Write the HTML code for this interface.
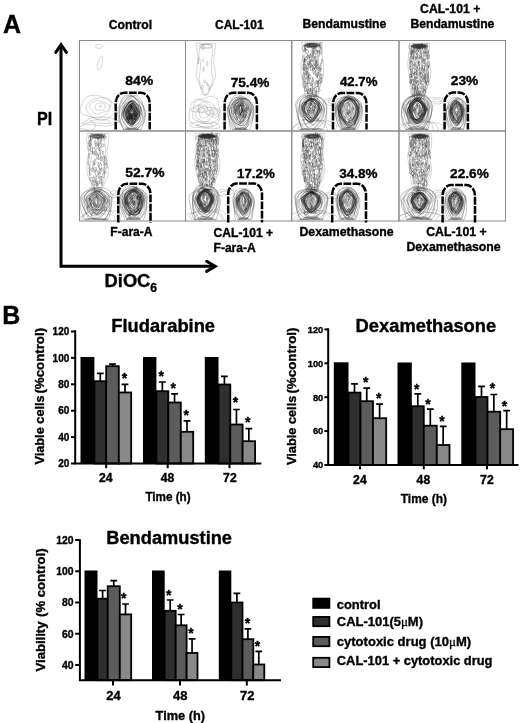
<!DOCTYPE html>
<html lang="en"><head><meta charset="utf-8"><title>Figure</title>
<style>
html,body{margin:0;padding:0;background:#fff;}
body{width:520px;height:723px;overflow:hidden;}
svg{display:block;}
text{font-family:"Liberation Sans", sans-serif;font-weight:bold;fill:#000;stroke:#000;stroke-width:0.35px;}
.ct{fill:none;stroke:#222;stroke-width:0.36;}
.cl{fill:none;stroke:#555;stroke-width:0.24;}
.cm{fill:none;stroke:#333;stroke-width:0.3;}
.fr{fill:none;stroke:#8a8a8a;stroke-width:1;}
.gate{fill:none;stroke:#000;stroke-width:2.5;stroke-dasharray:7.8 1.4;}
.ax{fill:none;stroke:#000;stroke-width:3;}
.bx{fill:none;stroke:#000;stroke-width:2;}
.eb{fill:none;stroke:#000;stroke-width:1.7;}
.bar{stroke:#000;stroke-width:1.8;}
</style></head><body>
<svg width="520" height="723" viewBox="0 0 520 723">
<rect width="520" height="723" fill="#fff"/>
<defs>
<clipPath id="cp00"><rect x="80.0" y="41.0" width="105.0" height="89.3"/></clipPath>
<clipPath id="cp01"><rect x="186.0" y="41.0" width="105.25" height="89.3"/></clipPath>
<clipPath id="cp02"><rect x="292.25" y="41.0" width="106.25" height="89.3"/></clipPath>
<clipPath id="cp03"><rect x="399.5" y="41.0" width="105.5" height="89.3"/></clipPath>
<clipPath id="cp10"><rect x="80.0" y="131.5" width="105.0" height="88.8"/></clipPath>
<clipPath id="cp11"><rect x="186.0" y="131.5" width="105.25" height="88.8"/></clipPath>
<clipPath id="cp12"><rect x="292.25" y="131.5" width="106.25" height="88.8"/></clipPath>
<clipPath id="cp13"><rect x="399.5" y="131.5" width="105.5" height="88.8"/></clipPath>
</defs>
<g clip-path="url(#cp00)"><path class="cl" d="M102.8,46.5 102.4,47.3 101.4,47.9 100.0,48.3 98.4,48.3 96.9,47.9 95.8,47.3 95.5,46.5 95.9,45.6 96.9,45.0 98.4,44.6 99.9,44.6 101.4,45.0 102.4,45.6Z M102.3,63.0 101.6,65.6 100.6,67.8 99.5,69.2 98.5,69.8 97.7,69.2 97.3,67.8 97.3,65.6 97.7,63.0 98.4,60.4 99.4,58.2 100.5,56.7 101.5,56.2 102.3,56.7 102.7,58.2 102.7,60.4Z M117.2,107.8 116.2,111.5 113.2,114.5 110.0,117.2 106.0,119.7 100.7,120.4 95.8,118.9 92.0,116.9 87.9,115.8 83.0,114.4 80.0,111.5 80.3,107.8 82.0,104.6 83.4,101.3 85.6,97.9 89.9,95.5 95.4,95.1 100.5,96.3 104.5,98.2 107.8,100.1 111.3,102.0 115.0,104.4Z M110.1,107.4 109.7,109.6 108.7,111.8 106.7,113.7 104.1,115.6 100.8,117.5 96.4,118.4 92.2,117.2 89.6,114.7 87.9,112.2 86.5,109.9 85.9,107.4 86.8,105.0 88.4,102.9 90.5,101.0 93.4,99.4 96.8,98.4 100.7,97.8 105.2,97.7 109.3,99.1 111.2,102.0 110.8,105.0Z M110.1,107.1 109.2,109.0 107.3,110.6 105.0,111.5 102.8,112.2 100.6,113.1 97.9,113.9 95.1,113.4 93.3,111.8 92.4,110.1 91.1,108.7 89.6,107.1 89.5,105.1 91.1,103.4 93.1,102.1 95.3,101.0 98.0,100.4 100.6,101.1 102.6,102.2 104.6,102.9 107.1,103.6 109.4,105.0Z M105.3,106.7 104.8,107.7 104.2,108.6 103.5,109.5 102.2,110.1 100.7,110.1 99.3,109.9 97.8,110.0 96.0,109.9 94.8,109.0 94.9,107.7 95.3,106.7 95.4,105.8 95.6,104.8 96.5,104.0 97.8,103.5 99.2,103.1 100.8,102.9 102.3,103.2 103.5,103.9 104.4,104.7 105.1,105.6Z M101.8,106.3 101.7,106.5 101.6,106.7 101.4,107.0 101.1,107.1 100.8,107.1 100.4,107.1 100.1,107.1 99.8,107.0 99.6,106.8 99.3,106.6 99.2,106.3 99.3,106.1 99.7,105.9 100.0,105.8 100.2,105.7 100.4,105.4 100.8,105.4 101.1,105.5 101.4,105.7 101.7,105.8 101.9,106.1Z M120.2,121.6 117.7,122.8 114.3,123.9 111.5,125.3 105.2,126.2 97.9,125.6 92.6,124.7 85.9,124.3 81.5,123.1 83.9,121.6 87.1,120.5 87.9,119.2 91.0,117.8 97.5,117.1 105.0,117.1 111.0,118.0 114.5,119.2 118.0,120.3Z M109.3,121.6 111.0,122.3 110.8,123.2 106.8,123.6 102.8,123.4 99.8,123.3 97.1,123.1 95.4,122.6 93.1,122.2 90.4,121.6 90.6,120.7 93.5,120.2 96.5,119.8 99.6,119.6 102.8,119.7 105.8,119.9 108.4,120.3 109.1,121.0Z M95.5,126.4 94.9,127.8 93.5,129.1 90.6,130.4 86.9,129.6 83.9,129.0 79.2,128.4 80.3,126.4 83.5,125.4 84.2,124.0 86.8,123.0 90.7,122.5 94.6,123.1 95.5,125.0Z"/><path class="cm" d="M145.2,112.4 144.5,117.7 143.5,123.1 141.8,127.8 140.5,133.5 138.0,137.8 135.0,139.7 131.6,139.1 129.1,136.9 126.6,133.8 124.0,130.3 122.4,126.9 119.9,122.6 118.3,118.2 117.7,112.4 118.5,108.9 119.5,104.6 120.9,101.1 122.9,97.3 125.7,95.4 128.8,94.7 132.0,95.2 134.7,95.3 137.4,96.2 140.1,98.5 141.9,101.5 143.0,105.2 144.4,109.1Z M145.4,112.8 145.7,117.3 143.9,122.4 141.6,125.1 139.0,127.7 136.6,130.3 134.1,132.7 131.6,133.8 129.4,132.6 126.9,130.9 123.9,129.2 121.8,125.8 119.9,121.4 119.5,117.0 119.2,112.4 119.5,108.7 119.9,105.4 121.7,101.5 123.5,98.7 126.5,96.6 129.2,95.7 131.6,95.5 134.4,96.9 136.4,98.4 138.9,99.9 140.9,102.6 143.1,105.6 144.4,108.7Z M144.2,112.6 144.0,116.6 142.8,120.4 140.9,124.2 139.1,127.2 136.4,129.9 133.8,130.3 131.4,130.2 129.5,129.6 127.4,128.8 124.4,127.0 121.9,124.6 120.6,120.7 119.4,116.4 119.4,112.6 119.9,109.4 121.2,105.7 123.2,103.1 125.1,100.8 127.2,98.3 129.2,96.3 131.5,96.0 134.1,96.6 136.3,98.9 138.5,100.6 140.7,103.2 142.6,105.7 143.5,109.4Z M142.5,112.5 142.6,116.0 142.3,119.5 140.3,123.1 138.0,125.6 135.9,128.1 133.7,130.4 131.8,130.9 129.3,129.9 127.5,127.7 125.2,125.2 123.7,122.5 121.9,118.9 121.4,115.6 121.2,112.3 121.2,109.9 122.1,106.5 123.2,103.8 124.9,100.6 127.0,98.0 129.7,96.7 131.6,96.1 134.0,97.0 135.8,99.0 138.1,101.2 139.6,104.2 140.5,106.9 141.1,110.0Z M141.7,112.5 141.4,115.5 140.1,118.0 139.4,121.6 137.5,123.8 135.8,126.2 133.8,128.1 131.9,128.9 129.9,128.7 127.6,127.4 125.8,124.5 123.5,122.0 122.1,118.9 121.2,115.3 122.2,112.7 122.7,110.3 123.8,107.3 124.6,104.3 125.8,101.7 127.8,99.5 129.8,98.1 131.7,97.1 133.7,97.2 135.5,99.2 137.5,101.7 139.3,104.7 140.7,106.9 141.8,109.7Z M141.2,112.2 141.1,115.0 140.9,118.0 139.4,121.6 137.3,123.7 134.9,125.3 133.2,126.3 131.9,126.3 130.3,126.3 128.1,124.6 126.6,122.9 124.8,120.8 123.3,117.9 122.4,115.2 122.1,112.4 122.5,110.1 122.9,107.2 124.3,104.9 126.4,102.6 128.0,100.6 129.8,99.0 131.8,98.7 133.5,99.9 135.0,101.9 136.4,103.5 138.7,104.9 140.4,107.3 141.3,110.2Z"/><path class="ct" d="M122.3,130.2 124.6,129.9 127.0,129.9 129.3,130.1 131.7,129.7 134.1,130.0 136.4,129.8 138.8,129.7 141.1,129.7 M124.8,129.0 126.5,129.1 128.3,129.5 130.0,128.9 131.7,129.2 133.4,129.3 135.1,129.5 136.9,129.4 138.6,129.5 M125.4,128.5 126.9,128.9 128.5,128.9 130.1,128.4 131.7,128.4 133.3,128.4 134.9,128.4 136.5,128.6 138.0,128.7 M126.9,127.8 128.1,127.8 129.3,127.9 130.5,128.2 131.7,128.0 132.9,127.9 134.1,128.0 135.3,128.0 136.5,127.6 M137.0,109.4 136.2,110.7 135.5,111.2 134.4,111.3 134.3,109.4 134.7,107.9 135.5,107.1 136.3,107.9Z M131.8,115.0 131.7,115.9 131.3,115.8 131.0,115.8 130.9,115.0 131.0,114.2 131.3,113.9 131.5,114.4Z M132.1,115.6 131.5,117.1 130.9,118.2 129.9,117.7 129.6,115.6 130.2,114.2 130.9,112.9 131.7,113.6Z M137.9,115.3 137.6,116.0 137.0,116.5 136.4,116.1 136.3,115.3 136.3,114.4 137.0,114.5 137.8,114.4Z M134.7,120.8 134.8,122.7 134.0,122.5 133.4,122.3 132.9,120.8 133.5,119.5 134.0,119.0 134.8,118.7Z M133.0,119.8 132.7,120.4 132.2,120.8 131.8,120.4 131.6,119.8 131.6,119.1 132.2,119.1 132.7,119.3Z M134.8,112.7 134.9,113.8 134.4,113.8 134.0,113.4 133.6,112.7 133.9,111.8 134.4,111.8 134.9,111.7Z M136.6,117.6 136.0,118.8 135.3,120.4 134.5,119.1 134.3,117.6 134.5,116.0 135.3,114.8 136.0,116.3Z M128.4,119.2 128.1,120.1 127.3,120.3 126.7,119.8 126.0,119.2 126.7,118.5 127.3,118.1 128.0,118.5Z M130.0,119.0 129.9,119.6 129.5,120.0 129.3,119.3 129.0,119.0 129.1,118.3 129.5,118.2 129.9,118.4Z M132.5,118.0 132.1,119.3 131.7,119.3 131.2,119.4 131.0,118.0 131.3,116.9 131.7,115.9 132.0,117.0Z M128.0,118.2 127.5,119.2 127.1,120.2 126.4,119.5 126.3,118.2 126.4,116.9 127.1,116.6 127.7,116.9Z M131.8,107.9 131.5,108.8 131.1,109.7 130.5,109.3 130.4,107.9 130.8,107.0 131.1,105.7 131.6,106.6Z M128.6,111.1 128.1,112.0 127.4,112.9 126.5,112.3 126.3,111.1 126.7,110.1 127.4,109.3 128.4,109.8Z M131.3,105.9 130.7,106.5 130.1,107.4 129.1,106.9 128.8,105.9 129.5,105.3 130.1,104.5 131.2,104.8Z M136.7,117.1 136.4,119.1 135.5,119.1 134.7,118.8 134.4,117.1 134.5,114.9 135.5,115.5 136.3,115.5Z M130.5,117.4 129.9,119.0 129.0,119.7 128.3,118.6 127.4,117.4 128.0,115.7 129.0,115.4 129.8,115.8Z M129.1,112.2 129.0,113.3 128.7,113.5 128.3,113.6 128.5,112.2 128.4,111.2 128.7,110.7 129.0,111.2Z M137.0,115.9 136.6,116.6 136.3,116.8 135.8,116.7 135.4,115.9 136.0,115.6 136.3,114.8 136.8,115.1Z M133.5,114.7 133.1,115.8 132.3,116.5 132.0,115.3 131.1,114.7 131.4,113.3 132.3,113.5 133.0,113.7Z M130.2,115.3 129.7,116.7 129.2,117.9 128.6,116.8 128.2,115.3 128.5,113.4 129.2,113.3 129.9,113.4Z M131.9,117.8 131.4,118.6 130.8,119.2 130.0,118.7 129.6,117.8 130.1,117.0 130.8,116.4 131.6,116.7Z M133.9,119.2 133.8,119.9 132.9,120.5 132.3,119.7 131.7,119.2 132.1,118.5 132.9,118.1 133.8,118.4Z M130.2,120.9 129.6,122.0 129.0,122.6 128.1,122.5 127.9,120.9 128.4,119.7 129.0,118.8 129.7,119.6Z M137.7,118.2 136.6,119.2 136.0,120.2 135.1,119.8 134.8,118.2 135.1,116.7 136.0,116.3 136.7,117.1Z M136.1,112.9 135.7,114.6 135.3,115.0 134.8,115.0 134.7,112.9 134.9,111.3 135.3,110.5 135.7,111.3Z M134.4,114.1 134.3,115.3 133.9,115.6 133.6,115.1 133.4,114.1 133.5,112.9 133.9,112.7 134.2,113.0Z M131.2,105.6 131.2,106.8 130.6,107.2 130.3,106.3 129.7,105.6 130.1,104.7 130.6,104.3 131.2,104.6Z M131.6,105.9 131.6,107.3 131.2,107.4 130.8,107.4 130.6,105.9 131.0,105.2 131.2,104.2 131.7,104.2Z M132.3,114.8 132.2,116.1 131.8,116.1 131.5,115.7 131.2,114.8 131.3,113.5 131.8,113.8 132.1,113.8Z M133.7,106.7 133.7,108.0 133.0,108.6 132.5,107.8 132.1,106.7 132.6,105.7 133.0,104.8 133.7,105.3Z M132.1,104.8 131.9,105.8 131.3,106.2 130.7,106.0 130.4,104.8 130.9,104.0 131.3,103.5 132.1,103.4Z M132.4,109.9 132.4,110.7 131.6,110.7 131.0,110.4 130.6,109.9 130.9,109.3 131.6,109.2 132.3,109.3Z M131.5,114.4 131.7,115.6 130.5,115.3 129.6,115.3 129.5,114.4 129.4,113.4 130.5,113.2 131.1,113.8Z M133.6,122.7 133.6,124.3 133.0,124.2 132.7,123.9 132.4,122.7 132.6,121.2 133.0,121.3 133.5,121.3Z M133.3,122.6 132.9,123.2 132.3,123.5 131.8,123.1 131.5,122.6 131.6,121.9 132.3,121.8 132.7,122.2Z M137.3,114.1 137.2,114.9 136.3,115.3 135.7,114.6 135.1,114.1 135.4,113.3 136.3,112.9 136.9,113.5Z M130.6,118.0 130.2,118.6 129.7,118.8 129.3,118.5 129.0,118.0 129.2,117.2 129.7,117.1 130.0,117.6Z M128.7,120.5 128.8,122.2 127.9,122.7 126.9,122.4 126.8,120.5 127.3,119.3 127.9,117.7 128.9,118.6Z M132.5,107.1 132.2,107.7 131.8,108.3 131.4,107.6 131.1,107.1 131.3,106.4 131.8,106.2 132.2,106.6Z M131.4,110.6 131.0,111.7 130.4,112.1 129.7,111.7 129.5,110.6 129.6,109.4 130.4,109.4 130.9,109.7Z M130.9,114.7 130.8,115.4 130.4,115.6 129.9,115.5 129.8,114.7 129.9,114.0 130.4,113.9 130.8,114.0Z M129.4,117.1 129.3,118.2 128.6,118.4 128.2,117.9 127.8,117.1 128.1,116.0 128.6,115.7 129.1,116.2Z M132.1,117.5 132.1,118.9 131.4,119.3 131.1,118.3 130.6,117.5 130.8,116.2 131.4,115.8 131.9,116.5Z M132.3,114.0 132.3,116.1 131.7,116.6 131.2,115.7 131.0,114.0 131.2,112.4 131.7,110.5 132.1,112.7Z M140.4,112.6 139.8,114.3 139.1,117.1 138.2,119.9 136.3,122.1 134.3,123.0 133.1,124.2 131.4,125.6 130.1,125.6 128.4,124.3 126.9,122.1 125.3,120.1 123.5,117.8 122.8,114.5 122.7,112.6 123.6,110.7 124.0,107.8 124.9,105.4 127.0,103.3 128.9,102.1 130.7,101.3 131.5,100.9 132.7,100.9 134.7,101.6 136.3,103.2 138.3,105.0 140.3,107.3 140.3,110.5Z M139.6,112.7 139.9,114.5 139.1,117.0 137.3,119.0 135.8,120.9 134.4,123.4 133.2,125.5 131.8,125.9 130.4,125.1 129.0,123.4 127.0,121.9 125.5,119.8 124.0,117.2 123.0,114.5 123.5,112.8 124.1,110.6 124.9,108.2 125.7,106.3 127.4,104.2 129.0,102.6 130.4,101.1 131.8,100.3 133.0,100.4 134.8,101.2 136.4,103.1 137.9,105.6 138.9,107.8 139.4,110.9Z M139.5,112.7 139.7,114.6 138.6,117.2 138.0,119.8 136.0,121.6 134.3,123.0 133.1,124.1 131.8,124.2 130.6,123.8 128.6,123.3 127.2,121.9 125.4,119.6 124.3,116.8 123.7,114.5 123.4,112.4 124.1,110.7 125.0,108.5 125.8,106.2 127.3,104.1 128.7,102.0 130.5,100.6 131.9,100.7 133.0,101.5 134.1,102.2 136.5,103.8 137.6,105.5 139.0,108.4 139.2,110.7Z M139.9,112.7 139.8,114.6 138.6,116.6 137.0,118.7 135.8,120.3 134.4,121.9 132.6,123.1 131.9,124.0 130.5,124.4 128.7,123.5 127.2,122.0 126.0,119.4 124.8,116.6 123.8,114.5 123.7,112.6 123.8,110.7 125.2,108.6 126.1,106.5 127.8,104.1 128.8,102.1 130.6,101.4 131.5,101.2 132.6,102.1 134.2,102.8 135.8,104.0 137.8,106.1 138.6,108.5 139.6,110.6Z M139.1,112.7 139.2,114.2 138.5,116.6 137.1,119.1 135.9,121.5 134.6,123.2 132.9,124.5 131.7,124.3 130.8,123.9 129.5,122.1 128.3,120.2 126.9,118.2 125.4,116.4 124.2,114.2 124.1,112.6 124.3,110.6 124.9,108.5 126.2,106.1 127.6,104.4 128.9,102.7 130.8,101.6 131.7,101.4 132.5,101.4 134.1,102.7 135.9,104.6 136.5,106.9 137.7,109.1 138.7,111.0Z M139.1,112.2 138.5,114.0 137.2,116.0 136.4,118.2 135.4,120.3 134.1,123.0 133.1,124.3 131.5,124.5 130.6,123.6 128.9,122.9 127.9,120.9 126.7,118.3 126.0,116.1 125.4,114.0 124.9,112.7 124.5,110.8 125.2,108.4 126.6,106.4 128.0,104.3 129.1,102.5 130.6,101.3 131.4,101.4 132.6,101.8 134.0,103.1 135.4,104.9 136.8,106.8 138.0,109.1 138.5,111.1Z M138.2,112.3 138.4,114.2 138.0,116.1 137.2,118.8 135.2,120.7 134.1,122.1 132.8,123.4 131.9,123.9 130.5,123.2 129.5,121.8 128.1,120.3 126.8,118.1 125.5,115.9 125.2,113.7 125.3,112.3 125.7,111.2 125.9,109.3 126.2,106.7 127.6,104.1 129.3,102.6 130.6,101.6 132.0,101.4 132.7,102.4 133.6,103.6 135.3,105.5 136.2,107.5 137.3,109.2 138.2,110.8Z M138.3,112.5 137.9,113.7 137.1,115.6 136.1,117.5 135.2,120.2 134.0,122.0 132.5,122.8 131.6,123.4 130.8,123.4 129.1,122.5 128.2,120.4 126.8,117.8 126.1,115.5 126.1,113.9 125.5,112.7 125.7,111.2 126.2,109.3 127.2,107.2 128.3,104.8 129.5,103.0 130.9,101.6 131.5,101.5 132.8,102.8 133.9,103.7 135.3,105.5 136.4,107.0 137.4,109.0 138.2,111.0Z M137.3,112.4 137.8,114.1 137.5,115.8 136.1,117.5 135.0,119.2 133.4,120.5 132.2,122.2 131.5,123.2 130.6,123.0 129.3,121.5 128.3,120.0 127.1,117.9 125.9,116.0 125.9,114.0 125.8,112.3 126.0,111.4 126.6,109.8 127.4,108.0 128.7,105.4 129.3,103.8 131.0,101.9 131.6,102.0 132.4,102.6 133.8,103.3 135.1,105.1 136.3,107.2 136.8,109.5 137.2,111.4Z M137.8,112.7 137.4,113.8 137.0,115.7 135.8,117.2 134.6,119.3 133.5,120.8 132.5,122.1 131.9,122.2 130.6,122.3 129.5,121.8 128.4,120.3 127.1,117.8 127.1,115.6 126.6,113.5 126.2,112.7 125.9,111.5 126.3,109.1 127.5,107.7 128.4,105.9 130.0,104.0 131.0,103.2 131.7,102.8 132.3,103.5 133.8,104.0 134.8,105.4 136.3,107.1 137.0,109.6 137.6,111.3Z M137.6,112.2 137.6,113.6 136.2,115.4 135.7,116.8 134.6,118.7 133.4,119.9 132.1,121.4 131.9,121.7 131.0,121.7 129.9,121.0 128.8,119.6 127.7,117.8 126.5,115.2 125.9,113.5 125.7,112.2 126.3,111.6 126.9,109.9 128.0,107.6 128.9,106.2 129.8,105.2 130.9,103.8 131.8,103.2 132.6,102.9 133.5,103.9 134.9,106.3 135.5,107.6 136.6,109.4 137.9,111.5Z M136.7,112.4 136.7,113.7 136.2,115.2 135.6,117.1 134.6,119.0 133.3,120.4 132.5,121.3 131.8,121.4 130.8,121.0 130.0,119.9 129.2,118.8 127.5,117.2 126.5,115.7 126.6,113.7 126.5,112.4 126.9,111.4 127.1,109.5 127.6,107.5 129.0,106.1 129.8,105.0 130.9,103.8 131.5,103.3 132.6,103.7 133.2,104.7 134.5,106.2 135.5,108.0 136.1,109.9 136.7,111.3Z M137.4,112.2 137.0,113.4 136.3,114.8 135.2,116.4 133.9,117.7 133.4,119.7 132.1,121.0 131.9,121.3 131.1,120.7 129.9,120.1 129.2,118.4 127.7,116.8 127.1,115.3 126.4,113.4 126.5,112.6 127.1,111.6 127.4,109.8 128.4,108.3 129.2,106.2 130.3,104.7 131.3,104.2 131.7,103.7 132.5,104.4 133.5,105.0 134.2,106.5 135.3,107.8 136.1,109.9 136.5,111.4Z M136.5,112.7 136.7,113.5 135.8,115.0 135.1,116.4 134.4,118.1 132.9,119.1 132.1,119.9 131.4,119.8 131.3,120.1 129.8,120.1 129.0,118.9 128.1,116.8 127.5,115.2 126.8,113.2 127.1,112.5 127.2,111.4 127.6,109.8 128.3,108.5 129.0,106.7 130.4,105.4 131.4,105.2 131.6,104.3 132.5,104.2 133.2,105.2 134.4,106.5 134.9,108.3 135.8,110.3 136.7,111.7Z M136.1,112.2 136.1,113.4 135.5,114.7 135.3,116.8 134.3,118.3 133.2,119.5 132.4,119.9 131.8,120.5 131.3,120.3 130.3,119.8 129.4,118.0 128.5,116.5 128.2,114.7 127.5,113.4 127.4,112.6 127.8,111.7 127.6,110.1 128.4,108.1 129.1,106.5 130.2,105.6 131.0,104.5 131.5,103.9 132.5,104.1 133.2,105.4 133.8,107.2 134.6,108.8 135.3,110.3 135.6,111.5Z M136.0,112.8 135.9,113.5 135.3,114.6 134.9,116.3 133.5,117.5 132.8,118.6 131.9,119.2 132.0,120.2 131.0,120.0 130.3,119.2 129.7,117.8 129.0,116.1 128.2,114.8 127.7,113.3 127.5,112.6 127.7,111.4 128.1,109.9 128.7,108.5 129.5,107.3 130.5,106.0 131.4,105.8 131.8,105.3 132.1,105.5 133.0,106.1 133.7,107.3 134.6,108.5 135.7,110.4 136.0,111.6Z M136.0,112.3 135.7,113.6 135.1,114.5 134.6,116.2 133.9,117.5 132.8,118.7 132.1,119.3 131.8,119.5 131.2,119.3 130.5,118.7 129.9,117.5 128.6,116.2 128.1,114.7 127.9,113.5 128.1,112.5 127.9,111.8 128.6,110.3 128.9,109.0 129.5,107.2 130.8,106.2 131.3,105.0 131.9,105.4 132.3,106.2 133.0,106.7 133.4,107.5 134.5,108.8 135.0,110.2 135.6,111.8Z M135.9,112.6 135.4,113.0 134.7,114.4 133.9,115.7 133.4,117.3 132.8,118.4 131.9,119.0 131.9,119.0 131.1,118.5 130.7,118.3 129.9,117.5 128.7,115.8 128.5,114.5 128.1,113.2 127.6,112.4 127.8,112.0 128.6,110.4 129.2,109.1 129.8,108.2 130.8,107.2 131.3,106.1 131.5,105.5 132.3,106.2 132.6,106.8 133.7,107.5 134.4,109.2 135.1,110.6 135.4,111.6Z M135.5,112.4 134.9,112.9 134.4,114.1 133.8,115.2 133.1,117.1 132.6,118.1 131.9,118.9 131.5,119.0 131.4,118.9 130.5,118.4 129.8,117.0 129.5,115.5 128.8,114.5 128.7,112.9 128.4,112.6 128.6,112.2 128.8,111.0 129.3,109.1 129.9,107.4 130.8,106.3 131.6,105.9 131.6,105.6 132.1,106.0 132.8,106.7 133.3,108.1 133.9,109.5 134.6,110.7 135.2,111.7Z M135.0,112.2 134.8,113.0 134.1,114.3 133.6,115.3 133.3,116.7 132.7,117.8 131.8,118.2 131.4,118.8 131.5,118.5 130.8,118.0 130.3,116.7 129.7,115.5 129.0,114.1 128.3,113.4 128.7,112.6 128.6,111.6 129.0,110.7 129.5,109.4 129.9,107.9 130.9,106.7 131.6,106.4 131.8,106.0 132.0,106.5 132.5,106.8 133.3,108.5 133.6,109.3 134.5,110.8 134.6,111.7Z M134.4,112.3 134.8,113.0 134.6,114.4 133.9,115.7 133.1,116.5 132.1,117.4 131.9,117.8 132.0,118.0 131.6,117.8 131.1,117.6 130.2,116.5 130.1,115.4 129.3,113.9 128.8,113.0 128.9,112.3 128.9,111.7 129.3,110.9 129.5,109.3 130.3,108.2 131.2,107.1 131.3,106.7 131.5,106.5 131.8,107.3 132.4,108.2 132.7,108.9 133.6,109.7 134.3,111.0 134.2,111.8Z M134.3,112.3 134.0,112.7 134.1,114.1 133.1,115.2 133.1,116.2 132.1,117.1 131.9,117.4 131.7,117.6 131.7,118.0 131.1,117.6 130.6,116.2 129.8,114.9 129.2,114.2 129.4,112.9 128.9,112.6 129.4,112.2 129.4,111.2 130.3,110.1 130.5,108.6 131.2,107.7 131.4,107.1 131.6,106.9 131.8,106.5 132.4,107.7 133.0,108.9 133.6,110.2 133.8,111.0 134.0,111.8Z M134.1,112.2 133.9,113.2 133.6,113.7 133.0,114.9 132.7,116.0 132.2,117.1 132.0,118.0 131.9,117.8 131.4,117.6 131.2,116.8 130.5,115.7 130.1,114.9 130.0,114.2 129.6,113.3 129.7,112.6 129.8,111.8 130.0,111.3 130.1,110.1 130.9,108.9 131.2,107.8 131.4,107.6 131.4,106.9 132.0,107.2 132.0,108.0 132.7,108.9 133.2,110.0 133.7,111.0 133.7,111.8Z M133.5,112.5 133.3,112.9 133.4,113.5 133.0,114.6 132.6,116.2 132.2,116.9 132.0,117.0 132.0,117.6 131.3,117.6 131.1,116.6 131.1,115.9 130.6,114.5 130.3,113.5 129.7,112.8 129.5,112.6 129.7,112.0 130.2,111.2 130.6,110.2 131.0,109.0 131.4,108.2 131.3,107.4 131.6,107.2 132.0,107.6 132.0,108.3 132.6,109.7 133.0,110.1 133.3,111.0 133.6,112.3Z M133.2,112.7 133.2,112.9 133.1,113.8 132.8,114.5 132.7,115.7 132.2,116.6 132.1,116.7 131.6,117.0 131.6,117.1 131.5,115.9 130.8,115.5 130.8,114.4 130.3,113.4 130.2,112.8 130.1,112.6 129.7,112.0 130.1,111.5 130.6,110.1 130.7,109.3 131.3,108.5 131.5,107.9 131.4,108.0 131.7,107.9 132.1,109.0 132.2,109.2 132.9,110.3 132.9,111.4 133.1,112.2Z M132.9,112.4 133.1,113.0 133.1,113.6 132.5,114.6 132.4,115.3 132.1,115.9 131.8,116.5 131.4,116.9 131.5,117.1 131.4,116.2 130.9,115.3 130.6,114.4 130.1,113.9 130.3,112.8 130.4,112.4 130.3,111.9 130.6,111.4 131.0,110.7 131.4,109.6 131.6,108.9 131.3,108.0 131.7,108.3 131.7,108.4 132.0,108.9 132.1,109.4 132.9,110.2 132.8,111.1 132.8,112.0Z"/></g>
<g clip-path="url(#cp01)"><path class="cl" d="M196.2,43.3 196.4,46.5 196.8,49.7 197.5,53.0 197.9,56.2 198.3,59.4 197.7,62.7 197.0,65.9 197.0,69.1 196.7,72.3 196.1,75.6 197.2,78.8 198.6,82.0 199.5,85.2 200.8,88.5 202.0,91.7 203.0,94.9 207.5,94.9 209.0,91.7 210.7,88.5 212.2,85.2 213.6,82.0 214.9,78.8 215.8,75.6 215.0,72.3 214.9,69.1 214.2,65.9 213.5,62.7 214.1,59.4 213.7,56.2 215.0,53.0 214.8,49.7 215.8,46.5 215.3,43.3Z M200.9,44.2 200.2,47.4 199.4,50.6 199.0,53.7 199.0,56.9 200.1,60.1 200.6,63.2 200.5,66.4 200.3,69.6 199.8,72.7 199.2,75.9 199.1,79.1 199.7,82.3 200.8,85.4 202.0,88.6 203.6,91.8 204.7,94.9 206.0,94.9 208.6,91.8 209.7,88.6 211.7,85.4 212.0,82.3 212.9,79.1 212.3,75.9 211.8,72.7 211.6,69.6 211.4,66.4 211.5,63.2 211.6,60.1 212.1,56.9 212.3,53.7 212.8,50.6 211.8,47.4 211.6,44.2Z M204.2,47.0 203.7,48.4 203.0,50.2 202.2,48.7 201.6,47.0 202.3,45.6 203.0,44.0 203.9,45.2Z M198.8,61.0 198.6,63.9 198.3,63.4 198.0,63.8 197.9,61.0 197.9,58.0 198.3,57.8 198.5,59.1Z M204.5,60.5 203.9,61.2 203.3,61.9 202.5,61.6 202.4,60.5 202.6,59.5 203.3,59.1 204.1,59.5Z M207.8,63.5 207.9,65.7 207.2,66.0 206.7,65.2 206.3,63.5 206.8,62.0 207.2,61.1 207.9,61.1Z M204.2,69.3 204.0,71.3 203.6,71.7 203.0,71.7 203.0,69.3 203.1,67.2 203.6,67.1 204.1,67.0Z M206.0,81.4 205.7,82.7 204.8,82.5 203.8,82.7 203.7,81.4 203.9,80.1 204.8,79.9 205.5,80.4Z M207.5,84.0 207.5,85.3 207.1,85.8 206.8,85.3 206.7,84.0 206.8,82.8 207.1,82.1 207.5,82.7Z M203.2,87.5 202.7,88.7 202.1,89.4 201.4,88.9 200.8,87.5 201.6,86.4 202.1,85.5 203.0,85.8Z M209.8,87.5 209.8,89.7 209.0,90.2 208.5,89.0 208.2,87.5 208.4,85.6 209.0,84.4 209.5,86.1Z M212.8,46.3 212.2,47.2 210.2,48.0 207.4,48.4 204.3,48.5 201.4,48.0 199.5,47.3 198.7,46.3 199.7,45.3 201.7,44.7 204.4,44.2 207.5,44.1 210.5,44.5 212.3,45.3Z M210.3,46.3 210.0,46.9 208.7,47.4 206.9,47.6 204.9,47.6 203.2,47.3 201.9,46.9 201.5,46.3 202.0,45.7 203.1,45.2 204.9,44.9 206.9,45.0 208.6,45.2 209.8,45.7Z M219.7,112.0 220.0,116.0 219.4,119.9 217.4,123.6 214.1,126.3 209.7,127.6 205.2,127.4 200.9,126.5 196.8,125.5 192.7,123.8 189.8,120.6 188.9,116.3 189.4,112.0 190.2,107.8 191.6,103.6 194.5,100.3 198.5,99.1 202.1,99.1 205.2,98.2 208.8,96.5 213.3,96.2 217.0,98.9 218.9,103.5 219.4,108.1Z M217.6,112.0 219.0,115.8 218.1,119.4 215.3,121.9 211.8,123.3 208.3,123.8 204.8,123.5 201.7,122.6 198.8,121.6 195.8,120.6 193.2,118.5 192.4,115.3 192.9,112.0 193.4,108.8 193.7,105.1 195.2,101.5 198.5,99.7 202.0,100.2 204.8,101.1 207.4,101.3 210.1,101.8 212.4,103.7 213.9,106.4 215.5,109.1Z M213.1,112.0 213.5,114.4 212.5,116.5 210.9,118.1 209.3,119.7 207.2,121.3 204.5,122.0 201.8,121.1 199.7,119.7 197.6,118.6 195.5,117.0 194.9,114.6 196.3,112.0 198.0,110.2 198.7,108.5 198.9,105.9 200.0,103.2 202.1,101.8 204.5,101.9 206.7,102.7 208.6,104.0 210.1,105.8 211.1,107.9 212.1,109.9Z M209.9,112.0 210.0,113.6 209.3,114.9 208.2,115.8 207.0,116.7 205.7,117.5 204.2,118.0 202.4,118.0 200.9,117.3 199.9,116.0 199.7,114.5 199.7,113.2 199.3,112.0 198.8,110.5 199.0,108.9 200.2,107.6 201.6,107.1 202.9,106.8 204.2,106.4 205.5,106.3 206.7,107.1 207.5,108.4 208.2,109.5 209.1,110.7Z M207.6,108.9 206.9,110.8 204.7,112.2 201.5,112.9 198.6,112.0 195.7,111.8 191.1,111.2 191.2,108.9 193.9,107.3 195.5,105.8 198.3,105.1 201.5,104.9 204.9,105.3 206.8,107.0Z M203.9,108.9 204.3,110.1 203.7,111.5 201.1,112.0 198.8,111.6 197.1,110.8 196.4,109.8 195.1,108.9 195.4,107.7 196.9,106.8 198.5,105.6 201.2,105.7 202.5,107.0 203.3,107.9Z M201.9,108.9 201.8,109.4 201.1,109.7 200.3,110.0 199.3,110.2 198.4,109.9 197.7,109.5 197.5,108.9 197.9,108.4 198.5,107.9 199.5,107.9 200.3,107.7 201.7,107.6 202.2,108.2Z M220.7,112.0 218.6,114.0 217.8,116.4 214.6,117.9 211.2,116.1 208.5,115.4 206.0,114.1 205.5,112.0 204.4,109.4 207.1,107.4 211.1,107.7 214.0,107.7 216.8,108.5 219.6,109.8Z M218.1,112.0 216.4,113.3 216.0,114.9 213.6,115.1 211.9,114.0 209.7,114.4 207.1,113.8 206.3,112.0 208.0,110.6 210.3,110.2 211.6,109.2 213.6,109.0 215.3,109.7 218.0,110.3Z M214.7,112.0 214.8,112.8 214.2,113.4 213.0,113.5 212.1,113.4 211.3,113.1 210.9,112.6 210.1,112.0 210.1,111.3 211.1,110.8 212.1,110.6 213.0,110.7 213.9,111.0 214.6,111.4Z M218.1,125.2 219.4,126.3 219.4,128.0 213.0,129.0 205.2,128.2 200.3,127.5 194.4,127.3 190.8,126.4 190.8,125.2 189.9,123.9 192.2,122.6 198.7,122.0 205.2,121.9 211.6,122.1 216.0,123.0 217.6,124.1Z M211.8,125.2 213.4,125.8 211.5,126.4 208.1,126.6 205.2,126.9 201.8,126.8 200.2,126.1 198.3,125.7 196.5,125.2 198.3,124.6 200.0,124.1 201.7,123.5 205.2,123.4 208.3,123.6 210.8,124.0 211.4,124.6Z"/><path class="cm" d="M242.6,110.0 242.2,111.3 241.8,112.8 241.2,111.7 240.9,110.0 241.4,108.8 241.8,107.0 242.4,108.3Z M242.4,110.5 241.6,111.8 241.1,112.8 240.4,112.4 240.0,110.5 240.5,109.0 241.1,108.3 241.8,108.6Z M243.8,120.5 243.6,121.0 243.2,121.6 242.8,121.1 242.6,120.5 242.7,119.7 243.2,119.8 243.9,119.6Z M245.7,116.2 245.3,117.3 245.0,118.1 244.7,117.5 244.4,116.2 244.7,115.2 245.0,114.4 245.4,115.0Z M244.2,105.7 244.0,106.3 243.6,107.0 243.3,106.3 243.2,105.7 243.2,104.9 243.6,104.8 244.0,105.1Z M237.5,110.7 237.1,111.6 236.8,112.3 236.4,111.8 236.3,110.7 236.3,109.4 236.8,109.5 237.2,109.7Z M235.3,111.8 234.8,113.3 234.2,113.2 233.5,113.3 233.1,111.8 233.5,110.4 234.2,109.9 234.7,110.6Z M242.4,109.6 242.0,110.2 241.5,111.2 240.9,110.5 240.6,109.6 241.1,109.0 241.5,108.2 242.3,108.6Z M237.2,104.5 237.2,105.7 236.2,106.0 235.4,105.6 235.3,104.5 235.4,103.5 236.2,102.8 237.0,103.6Z M242.0,121.0 241.2,121.5 240.7,122.2 240.0,121.7 239.6,121.0 240.0,120.3 240.7,119.9 241.4,120.3Z M236.9,112.0 236.7,113.6 235.9,114.7 235.0,114.0 235.4,112.0 235.0,109.8 235.9,109.4 236.7,110.2Z M240.0,113.8 240.4,115.6 239.3,115.8 238.5,115.1 237.9,113.8 238.5,112.6 239.3,111.7 240.4,112.1Z M237.9,107.3 237.9,109.1 237.0,109.6 236.2,108.7 235.9,107.3 236.1,105.6 237.0,104.9 237.7,105.8Z M241.0,122.0 240.8,122.7 240.4,123.1 239.9,123.0 239.9,122.0 239.9,121.1 240.4,121.1 240.9,121.0Z M243.2,101.9 242.8,103.3 242.1,104.6 241.4,103.0 240.4,101.9 241.4,100.6 242.1,99.8 243.2,99.8Z M245.4,111.2 245.3,111.9 245.0,112.4 244.8,111.8 244.7,111.2 244.7,110.5 245.0,110.0 245.3,110.6Z M238.6,107.4 238.5,108.2 238.2,109.2 237.9,108.1 237.7,107.4 237.9,106.6 238.2,106.1 238.6,106.4Z M243.2,115.6 242.5,116.5 241.7,117.1 241.1,116.2 239.9,115.6 240.8,114.5 241.7,114.6 242.7,114.4Z M244.3,110.7 243.5,111.3 242.8,111.8 241.8,111.7 241.9,110.7 242.0,110.0 242.8,109.5 243.5,110.1Z M245.9,115.9 245.3,117.0 244.5,117.0 243.5,117.4 243.0,115.9 244.0,115.1 244.5,113.9 245.3,114.6Z M237.9,118.1 237.4,118.8 236.9,119.8 236.1,119.2 235.8,118.1 236.4,117.4 236.9,116.4 237.6,116.9Z M239.1,103.5 239.1,105.1 238.5,106.2 238.1,104.5 237.7,103.5 237.8,101.8 238.5,101.2 239.0,102.0Z M244.6,117.7 244.3,118.4 243.7,118.4 242.9,118.5 242.6,117.7 243.1,117.2 243.7,117.0 244.5,116.9Z M247.2,109.7 246.7,111.1 246.0,111.4 245.2,111.2 244.4,109.7 245.5,108.9 246.0,107.8 246.9,108.0Z M242.0,105.3 241.9,106.6 241.5,107.2 241.1,106.4 241.0,105.3 241.1,104.1 241.5,103.3 241.8,104.2Z M248.3,108.5 248.0,109.4 247.6,110.0 247.3,109.4 247.2,108.5 247.2,107.4 247.6,107.0 247.9,107.8Z M243.9,109.9 243.7,111.3 243.4,112.5 243.0,111.5 242.6,109.9 243.1,108.7 243.4,107.7 244.0,107.5Z M236.4,107.6 235.9,108.4 235.2,108.7 234.4,108.6 233.9,107.6 234.5,106.8 235.2,106.7 236.2,106.4Z M243.6,103.6 243.4,105.7 242.8,105.0 242.2,106.0 242.2,103.6 242.3,101.8 242.8,101.2 243.3,102.0Z M243.8,114.5 243.7,116.3 243.0,117.2 242.2,116.6 242.2,114.5 242.4,113.0 243.0,111.5 243.8,112.4Z M253.3,109.4 253.1,115.7 252.3,121.5 250.8,127.3 248.7,132.4 246.4,135.7 243.1,137.2 240.7,137.6 237.9,138.0 234.7,136.7 232.0,133.0 230.0,127.3 229.2,121.2 228.1,115.1 227.8,109.7 228.1,106.6 229.2,103.9 230.8,101.8 232.2,98.5 234.4,95.7 237.5,94.7 240.2,95.5 243.0,96.7 245.5,98.1 248.3,99.6 250.4,101.5 252.1,103.6 253.4,106.5Z M253.9,109.5 253.9,114.8 252.3,120.2 249.8,123.5 247.4,126.3 245.1,129.4 243.3,132.1 240.8,133.4 238.2,133.2 235.1,131.7 232.6,129.0 230.8,124.5 229.1,119.5 227.9,114.5 227.1,109.6 227.8,106.7 229.3,104.3 231.2,101.9 233.2,100.0 235.5,97.8 238.1,96.7 240.6,96.8 242.7,97.4 245.1,98.7 248.2,99.7 250.2,101.4 251.7,104.1 253.5,106.6Z M252.9,109.8 252.9,114.3 251.2,118.8 249.2,122.3 247.6,126.3 245.2,129.3 242.6,131.3 240.6,131.6 238.4,130.9 235.7,129.7 233.3,127.2 231.3,122.4 230.3,118.0 229.6,113.3 229.2,109.7 228.8,106.7 229.7,104.2 230.5,101.4 232.8,99.3 235.3,97.7 238.0,97.4 240.7,97.9 242.5,98.3 245.0,98.4 247.7,99.9 249.7,102.1 250.9,104.2 252.3,106.7Z"/><path class="ct" d="M231.9,129.9 234.0,130.4 236.2,130.2 238.3,129.8 240.5,129.8 242.7,130.2 244.8,129.8 247.0,130.3 249.1,129.9 M233.0,129.3 234.9,129.4 236.8,129.1 238.6,129.7 240.5,129.3 242.4,129.6 244.2,129.1 246.1,129.6 248.0,129.7 M234.8,128.5 236.3,128.7 237.7,128.4 239.1,128.6 240.5,128.3 241.9,128.6 243.3,128.7 244.7,128.5 246.2,128.7 M234.8,127.7 236.2,128.2 237.6,128.3 239.1,128.2 240.5,127.9 241.9,127.8 243.4,127.8 244.8,128.1 246.2,127.9 M251.9,109.2 251.1,113.6 249.8,117.1 248.7,121.1 247.1,124.7 244.8,127.6 243.0,129.8 240.2,129.8 238.2,129.8 235.7,128.1 234.0,125.2 232.4,121.1 230.5,117.1 229.3,113.3 228.4,109.6 228.5,107.2 230.5,104.8 232.5,103.2 234.6,101.4 235.9,99.4 238.4,98.1 240.5,97.7 242.7,98.0 244.9,98.2 247.7,99.6 249.5,101.7 250.9,104.3 251.7,107.4Z M251.2,109.7 250.8,112.7 249.5,116.5 248.4,119.9 246.6,123.7 244.8,125.8 242.2,127.7 240.6,128.7 238.5,127.9 236.4,126.0 234.6,123.6 232.7,120.6 231.0,117.3 229.7,112.9 229.6,109.7 230.3,107.6 231.3,105.5 232.7,103.1 234.2,100.7 236.3,99.3 238.4,98.7 240.8,98.6 242.7,98.6 245.0,99.3 247.2,100.3 248.7,102.5 249.8,104.8 251.1,107.6Z M250.5,109.5 250.5,112.4 249.3,116.2 248.0,119.9 246.3,123.0 244.4,125.1 241.9,125.5 240.4,125.8 238.6,125.0 237.0,124.5 234.6,122.4 232.9,120.0 231.2,116.7 229.9,112.7 229.7,109.6 230.5,107.4 232.0,105.4 233.1,103.2 234.9,101.5 236.9,100.2 238.7,99.9 240.4,99.4 242.0,98.9 244.9,99.1 246.6,100.7 248.0,102.7 249.1,105.3 250.2,107.5Z M249.2,109.4 249.1,112.0 249.3,115.5 247.7,119.0 245.9,121.2 243.7,123.2 242.4,125.0 240.6,125.8 238.8,124.8 236.8,123.7 235.0,121.8 233.3,119.0 232.0,115.7 231.5,112.1 231.6,109.3 231.6,108.0 232.4,105.6 234.0,103.6 235.2,101.8 237.0,100.2 239.0,98.9 240.7,98.4 242.2,99.4 243.8,99.9 245.9,101.3 247.5,103.5 248.2,105.5 248.7,107.7Z M249.7,109.5 249.6,112.3 248.5,114.8 247.0,117.7 245.0,119.8 243.7,121.9 241.6,123.5 240.8,124.0 239.3,123.1 237.5,121.8 235.7,120.2 234.1,117.6 233.0,115.0 231.5,111.7 231.6,109.5 231.8,107.9 233.3,106.0 234.2,104.1 235.7,102.3 237.1,100.7 239.4,99.9 240.7,99.9 242.0,100.3 243.3,101.3 245.5,102.0 246.6,103.7 248.0,105.7 248.8,108.0Z M248.4,109.8 247.9,111.3 247.1,113.8 246.2,116.4 244.4,119.0 243.0,120.6 241.6,122.5 240.2,123.8 239.0,124.4 237.1,122.7 235.8,120.0 234.7,117.2 233.5,114.0 233.0,111.8 232.9,109.3 233.3,108.2 233.9,106.0 234.4,104.0 236.2,102.6 237.9,102.1 239.5,101.3 240.8,100.0 242.1,99.6 243.2,100.8 244.8,102.1 246.2,104.2 247.8,106.4 248.3,108.0Z M247.3,109.3 246.8,111.4 246.9,113.6 246.1,116.4 244.4,118.8 243.1,120.9 241.4,122.5 240.6,123.0 239.5,122.3 237.8,120.3 236.9,118.2 235.7,115.6 235.0,113.6 233.8,111.2 233.7,109.3 233.2,108.5 234.1,106.2 235.4,104.6 236.8,103.4 237.8,101.6 239.2,100.4 240.2,99.8 241.5,100.7 242.7,102.0 244.6,103.2 245.7,104.8 246.6,106.3 246.9,108.0Z M246.4,109.7 246.2,110.8 246.3,113.3 245.5,115.9 244.0,117.5 242.3,119.0 241.5,120.1 240.2,121.0 239.4,121.4 237.9,120.0 236.7,118.3 236.0,115.4 234.8,113.4 235.0,110.7 234.5,109.5 234.4,108.4 234.7,106.5 235.3,104.6 236.7,103.1 238.4,102.3 239.5,101.6 240.6,101.1 241.4,101.5 242.8,102.6 243.7,103.3 245.6,104.7 246.7,106.4 247.0,108.5Z M246.2,109.3 246.5,110.7 246.0,112.9 244.8,115.3 243.6,117.2 242.0,118.3 241.0,118.8 240.6,119.5 239.8,119.4 238.5,118.2 237.5,116.8 236.0,114.9 235.5,113.1 235.2,111.1 235.2,109.4 234.9,108.7 234.9,106.9 235.7,104.8 237.2,103.3 238.9,102.9 239.7,102.0 240.3,101.9 241.2,102.2 242.4,103.2 243.5,104.1 244.2,105.5 245.5,106.9 246.3,108.3Z M245.6,109.6 245.3,110.4 245.3,112.7 243.9,114.3 243.2,115.9 241.8,117.6 241.3,118.6 240.3,119.0 239.6,118.8 238.7,116.9 238.2,115.4 236.7,114.0 235.6,112.6 235.2,110.6 234.7,109.7 235.4,108.5 235.9,107.2 237.3,105.7 237.8,104.7 239.2,103.8 239.9,103.2 240.6,102.5 241.1,102.8 242.2,103.0 243.1,104.5 244.1,105.8 245.0,107.0 245.4,108.6Z M245.3,109.5 244.6,110.6 244.4,112.3 244.0,113.8 243.1,115.9 241.7,116.9 240.9,117.6 240.4,117.7 239.8,117.9 239.1,116.7 238.6,115.3 237.4,113.8 236.9,112.3 236.2,110.6 236.0,109.4 236.2,108.7 236.8,107.3 237.4,106.0 238.5,104.8 239.4,104.1 240.2,102.9 240.8,102.7 241.1,102.7 241.6,103.8 242.7,105.0 243.2,106.6 244.3,107.8 244.7,108.6Z M244.3,109.4 244.4,110.6 243.7,111.8 243.4,113.2 242.6,114.7 241.4,115.9 240.9,116.3 240.6,117.2 240.1,116.7 239.4,116.1 238.7,114.5 237.7,113.2 237.5,111.8 236.6,110.5 236.5,109.6 236.8,109.0 237.1,107.4 237.8,106.5 238.8,105.0 239.3,104.4 240.3,103.6 240.7,103.9 240.8,103.7 241.7,104.6 242.2,105.1 243.1,106.5 243.6,107.7 244.2,108.9Z M243.5,109.8 243.5,109.9 243.5,111.8 243.1,113.3 242.0,114.4 241.3,114.7 240.9,115.7 240.5,115.9 240.1,115.3 239.7,114.7 239.1,113.6 238.1,112.6 237.8,111.6 237.2,110.0 237.3,109.3 237.5,109.2 237.6,108.0 238.4,106.8 239.1,105.7 239.5,104.9 240.5,103.8 240.8,104.0 240.5,104.1 241.5,105.1 241.7,105.8 242.7,107.1 243.0,108.1 243.2,108.8Z M242.9,109.5 242.9,110.3 242.6,111.3 242.1,112.0 241.7,113.2 240.9,114.2 240.8,115.3 240.4,115.1 240.2,114.9 240.0,114.1 239.2,113.4 239.0,111.7 238.7,111.1 238.0,110.1 238.2,109.4 238.0,108.9 238.4,108.2 239.0,107.3 239.1,105.9 240.1,105.4 240.4,105.0 240.4,105.0 240.7,104.6 241.0,104.9 241.9,106.2 241.8,107.1 242.5,108.2 242.8,109.3Z M242.2,109.4 242.1,110.2 242.0,110.6 241.6,111.9 241.1,112.9 240.6,113.4 240.4,114.3 240.3,113.9 240.1,113.7 240.2,113.5 239.9,113.1 239.3,112.2 238.6,111.1 238.7,109.7 238.9,109.7 238.7,108.9 239.3,108.5 239.4,107.8 239.5,106.4 239.9,105.6 240.5,105.2 240.3,104.6 240.5,105.1 241.0,106.0 241.2,106.8 241.6,107.3 241.9,108.2 242.5,109.4Z M242.0,109.7 242.0,109.8 242.0,110.7 241.4,111.5 241.4,112.7 241.1,113.4 240.4,114.0 240.4,114.6 240.1,114.3 240.3,113.4 239.5,112.7 239.4,111.7 239.2,110.8 238.9,110.2 239.3,109.8 239.2,109.1 239.2,108.3 239.7,107.7 240.0,106.7 240.4,105.8 240.3,105.2 240.4,104.9 240.4,105.4 240.9,105.7 241.4,106.4 241.8,107.7 241.6,108.6 242.0,109.4Z M241.9,109.4 241.9,109.9 241.4,110.6 241.5,111.3 241.2,112.2 240.8,113.5 240.9,114.1 240.5,114.0 240.6,113.9 240.1,113.5 239.8,112.8 239.5,111.4 239.5,110.4 239.3,109.6 239.5,109.5 239.4,109.0 239.5,108.4 239.5,107.8 239.6,106.8 239.9,106.2 240.6,105.1 240.5,105.1 240.7,105.4 240.7,106.0 240.9,106.3 241.6,107.3 241.5,108.5 241.7,109.0Z"/></g>
<g clip-path="url(#cp02)"><path class="cl" d="M301.5,42.2 302.2,45.8 302.7,49.3 303.0,52.9 302.4,56.5 302.1,60.0 300.8,63.6 301.1,67.1 301.0,70.7 301.1,74.3 302.2,77.8 302.5,81.4 303.8,84.9 304.1,88.5 304.9,92.0 305.2,95.6 306.2,99.2 317.7,99.2 318.0,95.6 318.8,92.0 319.4,88.5 320.7,84.9 322.1,81.4 323.3,77.8 323.7,74.3 323.4,70.7 323.7,67.1 323.5,63.6 322.6,60.0 322.2,56.5 322.1,52.9 322.1,49.3 322.1,45.8 322.7,42.2Z M305.3,43.4 304.9,46.9 304.0,50.3 305.1,53.8 305.2,57.3 305.1,60.8 305.3,64.3 305.4,67.8 305.1,71.3 303.8,74.8 303.6,78.2 304.1,81.7 304.5,85.2 305.8,88.7 307.2,92.2 308.3,95.7 309.6,99.2 314.0,99.2 315.1,95.7 317.5,92.2 319.0,88.7 319.9,85.2 320.8,81.7 320.9,78.2 320.8,74.8 319.9,71.3 319.2,67.8 318.6,64.3 318.6,60.8 319.0,57.3 319.5,53.8 320.0,50.3 320.4,46.9 319.6,43.4Z M336.1,128.5 334.5,131.0 331.2,133.1 326.1,134.3 321.3,135.3 316.6,136.8 310.2,138.3 303.0,138.0 297.6,136.1 294.0,133.7 291.9,131.1 292.5,128.5 295.1,126.3 297.1,124.2 299.1,121.7 303.9,119.7 310.6,119.6 316.5,120.5 322.4,120.8 329.5,121.1 335.3,122.9 337.0,125.7Z M334.5,128.5 334.0,130.9 330.2,132.8 325.6,134.1 321.1,135.1 316.1,135.4 311.4,135.1 306.7,134.8 301.3,134.3 296.3,133.0 293.4,130.9 292.6,128.5 293.6,126.1 297.5,124.3 303.1,123.5 307.7,123.1 311.3,121.8 316.6,120.3 322.5,120.6 326.2,122.6 328.2,124.7 331.4,126.4Z M327.1,128.5 327.9,130.2 327.6,132.1 324.7,133.6 320.0,134.2 315.8,134.3 311.5,134.8 306.5,134.9 302.7,133.7 301.1,131.8 299.9,130.1 298.3,128.5 298.6,126.7 301.7,125.4 305.1,124.5 307.7,123.2 311.3,121.6 316.3,121.0 321.1,121.9 324.2,123.6 325.8,125.3 326.5,127.0Z M338.2,101.5 337.6,102.7 335.4,103.6 333.2,105.0 328.8,105.6 326.6,103.8 325.0,102.7 323.0,101.5 324.7,100.3 326.3,99.0 329.3,98.2 333.0,98.4 336.9,98.7 338.8,100.0Z M334.6,101.5 333.6,102.0 333.9,102.8 332.2,103.3 330.2,103.3 328.3,102.9 328.2,102.1 328.0,101.5 327.4,100.8 328.8,100.3 330.3,99.9 332.2,99.8 333.8,100.2 335.2,100.7Z"/><path class="cm" d="M305.0,48.2 304.5,50.0 303.7,51.7 302.9,50.0 302.3,48.2 303.0,46.6 303.7,44.9 304.7,46.2Z M308.3,46.0 308.2,47.9 307.8,47.7 307.4,48.1 307.3,46.0 307.5,44.4 307.8,43.7 308.2,43.9Z M313.2,47.3 313.0,48.6 312.4,49.2 312.0,48.3 311.5,47.3 311.9,46.2 312.4,45.5 312.9,46.3Z M316.8,48.2 316.4,49.2 316.1,50.8 315.6,49.6 315.5,48.2 315.5,46.6 316.1,46.4 316.6,46.7Z M306.4,49.7 305.8,50.3 305.6,51.5 305.0,51.0 305.1,49.7 305.1,48.8 305.6,48.1 306.0,48.8Z M313.6,51.8 313.4,54.2 312.4,54.4 311.7,53.4 311.1,51.8 311.6,49.9 312.4,48.1 312.9,50.6Z M317.1,52.2 316.8,53.7 316.2,54.3 315.6,53.7 315.1,52.2 315.6,50.7 316.2,50.4 316.8,50.4Z M321.8,51.0 321.7,54.0 320.9,54.6 320.1,54.0 320.2,51.0 320.1,47.9 320.9,47.2 321.6,48.3Z M311.1,56.0 310.8,57.5 310.3,58.1 309.6,58.0 309.6,56.0 309.8,54.7 310.3,53.1 310.8,54.6Z M315.7,55.2 315.0,56.6 314.5,58.2 313.9,56.8 313.5,55.2 313.7,53.0 314.5,52.9 315.0,53.8Z M304.5,59.3 304.2,62.2 303.6,62.6 303.0,61.9 302.8,59.3 302.9,56.3 303.6,55.5 304.0,57.4Z M309.6,57.3 308.8,58.8 308.0,59.6 307.3,58.4 306.5,57.3 307.0,55.6 308.0,55.2 308.7,56.1Z M314.0,59.1 313.6,60.8 313.0,61.2 312.0,61.4 312.1,59.1 312.3,57.4 313.0,56.5 313.7,57.2Z M317.8,59.5 317.6,62.0 316.9,61.6 316.1,62.3 315.9,59.5 316.4,57.8 316.9,56.3 317.6,57.1Z M306.3,60.8 305.8,61.9 305.1,62.3 304.4,62.0 304.3,60.8 304.2,59.3 305.1,59.7 305.8,59.7Z M310.6,63.5 310.6,65.7 310.1,67.5 309.8,65.1 309.4,63.5 309.6,61.3 310.1,60.1 310.6,61.2Z M315.8,63.0 315.5,65.1 315.1,64.9 314.5,66.0 314.5,63.0 314.7,60.9 315.1,60.2 315.5,60.7Z M322.5,61.2 322.1,62.3 321.8,63.6 321.4,63.2 321.4,61.2 321.5,59.5 321.8,58.8 322.1,59.7Z M306.7,66.4 306.5,68.4 305.9,68.9 305.5,67.8 305.1,66.4 305.2,64.1 305.9,64.5 306.4,64.7Z M311.2,64.8 310.9,67.4 310.0,67.7 309.3,67.1 309.0,64.8 309.4,62.6 310.0,60.7 310.5,63.4Z M317.1,64.7 317.0,67.4 316.4,68.5 316.0,66.9 315.7,64.7 315.8,61.7 316.4,61.9 317.0,61.9Z M321.5,66.9 321.3,69.7 320.9,69.2 320.5,69.0 320.3,66.9 320.5,64.5 320.9,63.3 321.1,65.7Z M306.5,68.5 306.1,70.5 305.6,71.5 305.0,70.8 304.8,68.5 304.9,65.8 305.6,66.1 306.2,66.0Z M309.2,68.3 309.1,69.4 308.6,69.7 308.2,69.3 308.0,68.3 308.1,67.0 308.6,67.1 309.0,67.2Z M314.9,68.7 314.2,70.0 313.6,70.2 312.9,70.4 312.7,68.7 313.0,67.2 313.6,66.9 314.2,67.4Z M319.3,69.5 319.1,71.8 318.8,73.2 318.5,71.5 318.2,69.5 318.4,66.8 318.8,66.8 319.1,67.0Z M306.8,73.2 307.1,74.8 306.1,75.1 305.3,74.6 305.1,73.2 305.4,72.0 306.1,70.7 307.0,71.7Z M314.2,71.8 314.0,73.6 313.4,74.1 312.9,73.1 312.6,71.8 312.6,69.7 313.4,69.7 313.8,70.6Z M318.4,74.2 318.2,76.2 317.7,76.0 317.3,76.4 317.2,74.2 317.4,72.3 317.7,71.8 318.1,72.4Z M307.2,76.2 306.9,78.9 306.1,79.3 305.3,78.7 305.1,76.2 305.3,73.3 306.1,73.0 306.7,73.8Z M311.1,76.6 310.6,78.2 309.9,78.7 309.2,78.6 308.8,76.6 309.3,75.0 309.9,74.3 310.6,74.8Z M319.9,77.2 319.7,80.0 318.8,81.6 318.2,79.2 317.4,77.2 318.3,75.4 318.8,72.5 319.7,74.6Z M307.5,81.0 307.7,84.5 306.7,84.1 306.0,83.3 305.5,81.0 305.9,78.4 306.7,77.1 307.4,78.6Z M311.4,81.1 310.8,83.4 310.1,85.4 309.6,83.0 309.0,81.1 309.3,78.2 310.1,77.4 310.8,79.0Z M317.5,82.0 317.7,83.2 316.8,84.1 316.2,82.8 315.7,82.0 316.0,80.9 316.8,80.4 317.8,80.6Z M321.8,80.3 321.7,81.8 321.4,82.7 321.1,81.5 320.9,80.3 321.1,79.0 321.4,77.9 321.7,78.9Z M306.8,84.8 306.7,86.3 306.2,86.8 305.7,86.5 305.8,84.8 305.7,83.2 306.2,82.7 306.7,83.4Z M314.3,85.6 314.0,87.6 313.4,90.3 312.7,87.7 312.3,85.6 312.6,83.0 313.4,82.1 314.3,82.4Z M318.7,84.9 318.6,87.5 318.2,88.1 317.7,87.3 317.6,84.9 317.8,83.1 318.2,80.5 318.5,82.9Z M308.6,89.2 308.2,91.4 307.8,93.4 307.2,91.9 306.9,89.2 307.3,87.2 307.8,84.8 308.3,86.6Z M312.6,89.2 312.4,91.0 312.2,93.1 311.9,91.2 311.7,89.2 311.9,87.2 312.2,85.9 312.5,86.7Z M320.4,90.1 319.6,91.4 319.0,91.8 318.2,91.5 317.7,90.1 318.3,88.7 319.0,88.1 319.5,88.9Z M310.6,91.5 310.6,93.6 310.1,95.0 309.6,93.6 309.6,91.5 309.6,89.1 310.1,88.3 310.6,89.3Z M315.1,94.1 315.0,95.5 314.2,96.7 313.4,95.4 313.2,94.1 313.2,92.5 314.2,92.1 315.2,92.5Z M309.5,96.6 308.9,98.5 308.2,99.3 307.4,98.9 306.9,96.6 307.6,94.7 308.2,94.2 309.1,94.0Z M314.6,95.8 314.5,97.0 314.2,97.4 313.7,97.2 313.7,95.8 313.8,94.7 314.2,94.3 314.6,94.4Z M310.6,109.0 310.2,110.3 309.4,110.5 308.4,110.7 307.8,109.0 309.0,108.3 309.4,106.7 310.3,107.3Z M322.1,110.2 321.8,111.5 321.3,112.2 320.7,111.6 320.6,110.2 320.7,108.9 321.3,107.9 321.7,109.2Z M311.5,103.7 311.3,105.3 311.0,106.2 310.5,105.8 310.6,103.7 310.6,102.1 311.0,100.7 311.3,102.0Z M314.4,108.8 314.4,110.6 313.4,111.1 312.5,110.3 312.1,108.8 312.6,107.4 313.4,106.1 314.3,107.1Z M318.6,119.1 318.5,120.1 317.8,120.0 317.3,120.0 316.9,119.1 317.3,118.2 317.8,118.0 318.4,118.1Z M312.1,109.6 312.0,110.9 311.3,110.6 310.9,110.6 310.5,109.6 310.9,108.8 311.3,108.1 311.7,108.9Z M312.4,102.2 312.1,102.9 311.4,103.6 310.8,103.0 310.1,102.2 311.0,101.7 311.4,100.9 312.4,101.2Z M314.1,112.3 314.3,114.1 313.8,114.5 313.5,113.7 313.4,112.3 313.5,111.0 313.8,109.7 314.2,110.6Z M306.9,103.9 306.5,105.2 305.7,105.5 304.9,105.1 304.6,103.9 304.7,102.3 305.7,102.3 306.3,102.7Z M304.4,119.6 304.2,120.1 304.0,120.8 303.7,120.1 303.5,119.6 303.6,119.0 304.0,118.8 304.3,119.0Z M316.2,106.4 316.0,107.6 315.3,107.8 315.0,107.0 314.2,106.4 314.8,105.5 315.3,105.0 315.8,105.7Z M309.1,112.4 309.1,114.2 308.3,115.1 307.6,113.8 307.3,112.4 307.3,110.4 308.3,110.5 309.2,110.4Z M312.2,106.5 311.7,107.7 311.0,108.2 310.0,108.3 309.7,106.5 310.6,105.7 311.0,104.1 311.9,105.0Z M319.5,103.5 319.3,104.3 318.9,104.5 318.5,104.5 318.4,103.5 318.6,102.6 318.9,102.6 319.4,102.5Z M327.0,107.8 326.7,114.3 325.9,121.2 324.0,127.1 321.4,132.1 318.2,135.2 314.5,137.3 311.4,138.6 307.4,138.8 304.0,136.2 301.7,130.8 300.3,124.3 298.9,119.0 297.4,113.6 295.9,107.7 295.5,104.7 296.4,101.6 298.1,98.6 301.0,96.3 304.1,94.4 307.6,93.3 311.0,93.5 314.6,94.7 317.1,96.4 319.9,97.9 322.3,99.8 325.0,102.2 326.5,104.7Z M326.2,107.7 326.3,113.3 325.0,118.5 322.4,123.2 319.9,126.0 316.6,128.8 313.9,130.8 311.0,132.2 308.0,132.8 304.7,130.9 301.7,128.0 299.9,123.3 298.2,117.9 296.9,112.6 296.8,107.5 296.9,105.0 297.6,102.2 299.5,99.3 301.4,97.1 304.9,95.6 308.1,95.8 311.0,96.0 313.7,96.5 317.1,96.5 320.7,97.4 323.4,99.0 325.2,101.8 325.8,104.8Z M324.2,107.9 324.5,111.9 323.4,116.8 321.2,120.7 318.9,123.7 316.4,126.7 313.6,129.2 311.5,131.0 308.6,130.6 305.4,128.9 302.3,126.1 299.4,122.3 298.4,117.2 298.3,112.0 298.7,107.9 299.4,105.8 299.6,102.9 300.4,100.5 303.1,98.2 305.6,96.7 308.7,95.8 311.4,94.9 314.0,95.0 317.4,96.0 320.0,97.7 322.1,100.3 323.4,102.9 323.8,105.4Z M324.2,107.7 324.1,111.4 323.1,115.7 320.7,119.8 318.7,123.0 316.3,126.0 313.5,128.3 311.0,130.5 308.4,129.2 306.4,125.4 304.4,121.9 302.6,118.4 300.4,115.2 299.2,111.7 298.9,107.7 299.4,105.7 300.1,103.1 301.2,100.6 303.1,98.2 306.1,96.7 309.0,95.6 311.4,95.6 313.7,96.0 316.1,97.1 318.4,99.6 319.8,101.9 321.7,103.3 323.0,105.4Z M323.3,107.7 323.2,111.4 321.9,115.0 319.6,117.9 317.4,120.2 315.2,122.5 313.4,124.7 311.0,126.7 308.6,127.6 305.9,125.8 304.0,122.1 302.6,118.1 300.9,114.7 299.9,111.1 299.4,107.8 300.0,105.6 301.2,103.8 302.4,101.8 304.6,99.7 306.9,97.9 308.9,96.8 311.3,96.8 313.1,96.3 315.8,97.4 318.2,99.0 320.2,101.3 321.8,103.5 322.6,105.6Z M322.0,107.8 322.1,110.5 320.8,114.4 319.4,117.6 317.6,120.8 315.8,123.9 313.4,124.9 311.4,124.3 309.4,123.2 307.4,121.0 305.6,119.0 303.5,117.0 301.3,114.2 300.2,110.8 300.2,107.6 300.7,106.4 302.2,104.0 303.2,102.0 304.8,99.4 306.7,97.6 309.6,97.3 311.3,97.9 312.8,98.3 315.3,98.6 317.6,99.6 319.2,102.0 319.9,104.4 320.9,106.0Z M355.3,122.0 355.2,123.4 354.9,124.8 354.6,123.2 354.4,122.0 354.4,120.1 354.9,120.2 355.3,120.1Z M353.5,108.5 353.5,109.4 352.9,110.0 352.3,109.6 352.2,108.5 352.5,107.7 352.9,106.7 353.5,107.4Z M355.2,117.8 354.9,119.3 354.2,120.0 353.3,119.5 353.2,117.8 353.3,116.2 354.2,115.5 355.0,116.1Z M341.2,102.4 341.1,103.4 340.6,103.6 340.3,103.1 339.7,102.4 340.2,101.6 340.6,101.1 341.1,101.4Z M359.5,108.3 359.1,108.9 358.7,109.0 358.2,108.9 357.9,108.3 358.2,107.6 358.7,107.4 359.1,107.7Z M348.1,113.2 348.1,114.1 347.7,114.2 347.2,114.1 347.4,113.2 347.3,112.4 347.7,111.9 348.0,112.7Z M350.6,111.5 350.8,112.6 349.6,112.6 348.8,112.2 348.5,111.5 348.7,110.5 349.6,110.1 350.4,110.7Z M349.7,120.4 349.7,122.1 349.3,122.8 348.8,122.4 348.8,120.4 348.9,118.9 349.3,117.8 349.8,118.3Z M341.1,111.2 340.8,112.1 340.2,112.2 339.4,112.4 339.5,111.2 339.6,110.3 340.2,109.8 340.9,110.2Z M343.2,104.8 343.0,105.8 342.6,107.0 342.0,106.1 342.0,104.8 341.9,103.5 342.6,103.0 343.3,103.3Z M345.3,118.6 345.3,120.3 344.8,122.1 344.5,119.9 344.1,118.6 344.4,117.0 344.8,115.7 345.4,116.5Z M355.4,100.5 355.4,101.3 354.9,101.7 354.4,101.3 354.4,100.5 354.2,99.5 354.9,99.6 355.4,99.6Z M351.3,117.9 351.1,118.7 350.9,119.0 350.6,118.9 350.5,117.9 350.6,117.0 350.9,117.0 351.2,117.0Z M349.5,111.6 349.0,113.0 348.2,114.1 347.5,112.9 347.1,111.6 347.4,110.1 348.2,108.9 348.8,110.5Z M362.7,108.8 362.3,115.3 361.1,121.5 358.5,126.2 356.5,130.0 353.9,134.3 351.4,138.4 348.5,141.0 345.4,138.8 343.2,134.2 340.9,129.5 338.5,126.1 336.9,121.2 335.7,114.9 335.4,109.2 335.4,105.9 335.7,102.5 337.2,99.8 340.1,98.1 343.1,96.8 345.5,96.3 348.7,95.6 351.6,96.5 354.0,97.3 356.7,99.1 358.9,100.8 360.8,103.3 361.5,106.1Z M361.9,109.1 361.6,114.3 359.8,119.8 358.0,123.6 355.7,126.7 353.7,130.4 351.5,133.9 348.8,135.6 346.0,134.4 343.5,131.8 340.9,128.1 338.4,124.6 336.8,120.0 335.3,114.5 335.4,109.1 336.2,106.0 337.5,103.3 339.1,101.3 340.7,99.1 343.3,97.5 345.6,96.2 348.8,95.8 351.4,96.9 353.7,97.4 356.3,98.6 359.0,100.8 361.1,103.2 362.0,106.1Z M361.0,108.8 360.9,113.7 359.3,118.5 357.7,123.0 355.5,126.0 353.3,129.3 351.4,132.2 348.4,134.0 345.8,133.8 343.5,130.7 341.1,126.7 339.4,122.7 337.7,118.3 336.5,114.1 336.3,109.0 336.9,106.6 337.6,103.7 339.0,101.0 341.1,98.9 343.5,97.7 346.1,97.1 348.3,96.3 351.0,96.2 354.2,97.2 356.3,99.5 357.8,101.8 359.2,104.0 360.9,106.5Z M360.9,109.1 359.7,113.1 358.7,117.3 357.5,122.1 356.0,127.1 353.6,129.8 351.0,130.3 348.8,130.0 346.3,129.8 343.7,129.0 341.6,125.8 340.0,121.5 338.6,117.3 337.6,113.5 336.1,109.3 336.5,106.4 337.6,103.6 339.5,101.4 341.5,99.6 343.8,98.0 346.3,97.0 348.6,97.1 350.6,98.0 353.2,98.1 355.7,99.3 358.0,101.2 359.5,103.8 361.0,106.2Z M359.7,109.2 359.4,112.8 358.3,117.1 356.7,120.6 355.0,124.5 353.2,128.0 351.1,129.9 348.6,130.5 346.4,130.3 343.6,128.8 341.3,125.2 340.0,121.4 339.0,116.4 338.7,112.5 337.9,108.7 337.2,106.5 338.4,103.8 340.0,102.1 342.3,100.3 343.8,98.4 346.2,96.9 348.4,96.8 350.9,96.8 353.1,97.8 355.8,99.7 357.5,102.0 359.0,104.1 359.2,106.6Z"/><path class="ct" d="M305.8,47.6 305.5,49.0 305.2,50.5 304.8,49.8 304.7,47.6 304.8,45.9 305.2,45.0 305.6,45.6Z M310.3,45.4 310.1,47.0 309.7,47.5 309.4,46.7 309.2,45.4 309.3,43.5 309.7,43.7 310.0,44.2Z M315.0,47.4 314.8,48.5 314.2,49.4 313.6,48.7 313.5,47.4 313.6,46.2 314.2,45.6 314.9,46.0Z M321.1,45.8 321.1,48.0 320.3,48.2 319.5,47.7 319.3,45.8 319.6,44.3 320.3,42.5 320.9,44.3Z M308.4,51.6 307.8,53.8 307.0,54.3 306.4,53.0 305.4,51.6 306.1,49.4 307.0,49.2 307.7,49.8Z M314.6,50.1 314.5,51.8 314.1,52.7 313.6,51.9 313.4,50.1 313.7,48.7 314.1,47.7 314.7,47.7Z M319.4,51.7 319.1,53.1 318.3,53.1 317.6,52.9 317.0,51.7 317.5,50.2 318.3,50.5 319.2,50.2Z M308.7,56.2 308.5,57.6 308.1,57.2 307.6,57.6 307.4,56.2 307.7,55.1 308.1,54.9 308.5,54.9Z M313.2,53.9 313.1,55.9 312.8,56.6 312.4,56.6 312.4,53.9 312.5,51.9 312.8,50.4 313.1,51.8Z M319.9,53.4 318.9,55.1 318.3,56.7 317.6,55.6 317.1,53.4 317.4,50.7 318.3,51.3 319.2,50.9Z M307.8,58.6 306.6,59.2 306.2,60.7 305.2,59.9 304.9,58.6 305.4,57.5 306.2,56.7 307.0,57.4Z M312.0,57.5 311.2,59.1 310.7,60.2 309.7,60.3 309.8,57.5 310.0,55.6 310.7,54.3 311.3,55.7Z M315.6,58.0 315.4,59.1 314.8,59.2 313.9,59.6 313.9,58.0 314.2,57.0 314.8,56.3 315.5,56.6Z M304.5,62.2 304.4,64.4 304.2,65.6 303.9,64.9 303.7,62.2 303.9,60.2 304.2,59.4 304.6,58.6Z M309.4,63.0 309.4,64.7 308.4,64.8 307.9,64.0 307.1,63.0 307.5,61.4 308.4,61.7 309.2,61.7Z M313.3,62.9 312.8,65.1 312.1,65.9 311.2,65.8 311.1,62.9 311.2,60.1 312.1,60.0 312.9,60.2Z M316.9,63.0 316.9,65.2 316.5,66.7 316.0,65.6 315.9,63.0 316.1,60.9 316.5,60.1 317.1,59.6Z M303.8,67.0 303.8,70.0 303.5,70.3 303.2,69.2 303.0,67.0 303.2,64.7 303.5,63.7 303.8,64.1Z M308.8,64.7 308.4,65.5 308.1,66.4 307.6,65.9 307.4,64.7 307.7,63.8 308.1,63.1 308.5,63.6Z M315.2,66.8 315.1,69.1 314.1,68.3 313.2,68.7 312.8,66.8 313.3,65.0 314.1,64.4 314.8,65.1Z M319.2,66.4 318.8,68.6 318.1,69.5 317.5,68.1 317.1,66.4 317.3,64.0 318.1,63.5 318.7,64.8Z M304.7,69.0 304.5,70.4 303.9,71.2 303.5,69.9 303.0,69.0 303.3,67.6 303.9,67.1 304.4,67.8Z M307.9,70.6 307.6,72.3 307.2,73.9 306.8,72.3 306.5,70.6 306.8,68.9 307.2,67.3 307.7,68.8Z M312.7,68.1 312.6,69.7 311.8,70.4 310.6,70.3 310.8,68.1 311.0,66.7 311.8,65.6 312.9,66.1Z M317.0,69.1 316.8,70.9 315.7,70.9 315.1,70.1 314.3,69.1 314.9,67.8 315.7,66.4 316.2,68.3Z M320.8,69.9 320.8,71.4 320.4,71.6 320.1,71.1 320.0,69.9 320.0,68.3 320.4,68.3 320.7,68.6Z M309.3,74.3 308.6,76.1 307.9,77.5 307.2,76.1 306.6,74.3 307.0,71.9 307.9,71.8 308.7,72.3Z M316.0,73.3 315.8,74.8 315.4,75.4 315.0,74.4 314.7,73.3 314.9,71.8 315.4,70.9 315.7,72.2Z M304.3,76.4 304.3,79.1 303.6,80.2 302.8,79.2 302.5,76.4 303.1,74.7 303.6,71.6 304.4,73.7Z M309.0,75.9 308.8,77.6 308.5,78.9 308.3,77.1 308.0,75.9 308.1,73.9 308.5,73.8 308.8,74.4Z M317.6,75.5 317.3,76.5 316.9,77.9 316.4,76.8 316.2,75.5 316.3,74.0 316.9,73.7 317.5,73.9Z M322.2,76.3 321.8,78.4 321.0,78.4 320.1,78.6 319.8,76.3 320.4,74.5 321.0,73.8 321.9,74.0Z M309.1,81.5 308.9,83.7 308.2,83.2 307.4,83.9 307.1,81.5 307.7,80.0 308.2,78.6 308.8,79.5Z M313.3,79.9 313.2,81.3 312.8,82.1 312.4,81.5 312.4,79.9 312.5,78.5 312.8,77.3 313.2,78.4Z M320.5,81.9 320.2,83.5 319.5,83.2 318.7,83.6 318.5,81.9 318.9,80.6 319.5,80.1 320.1,80.6Z M305.1,84.4 304.7,86.6 304.0,87.6 303.3,86.9 302.7,84.4 303.6,82.9 304.0,80.4 304.7,82.0Z M312.3,84.4 312.0,85.3 311.6,85.8 311.0,86.0 311.1,84.4 311.3,83.5 311.6,82.6 312.1,83.3Z M317.8,84.1 317.8,86.6 316.8,86.6 315.8,86.4 315.9,84.1 315.7,81.7 316.8,80.8 317.5,82.3Z M306.5,89.3 306.1,91.0 305.4,92.0 304.9,90.6 304.4,89.3 304.7,87.5 305.4,86.5 305.9,88.1Z M310.8,89.3 310.6,90.1 310.4,91.2 310.0,90.5 310.1,89.3 310.0,88.1 310.4,88.0 310.8,88.1Z M316.2,89.5 316.0,91.1 315.3,91.7 314.5,91.4 314.4,89.5 314.7,88.1 315.3,87.0 316.0,87.8Z M309.0,91.6 308.7,93.2 308.1,93.9 307.4,93.5 307.5,91.6 307.4,89.8 308.1,88.9 308.7,90.2Z M312.8,92.5 312.6,93.7 312.3,95.1 311.9,94.2 311.9,92.5 312.0,91.0 312.3,89.7 312.6,91.3Z M316.8,94.2 316.6,96.6 316.3,97.1 316.0,96.6 315.8,94.2 316.1,92.2 316.3,90.5 316.6,92.0Z M311.6,97.7 311.4,99.9 311.1,100.2 310.8,99.8 310.6,97.7 310.8,95.5 311.1,95.1 311.4,95.6Z M320.3,45.2 319.9,46.2 317.6,47.0 314.1,47.4 310.4,47.3 306.9,47.0 304.2,46.2 303.8,45.2 304.9,44.3 306.9,43.5 310.4,43.1 314.1,43.1 317.8,43.4 319.8,44.3Z M319.3,45.2 318.8,46.1 316.7,46.7 313.8,47.0 310.6,47.1 307.6,46.7 305.8,46.0 305.1,45.2 305.8,44.4 307.8,43.8 310.6,43.4 313.9,43.4 316.7,43.8 318.5,44.4Z M318.3,45.2 317.4,45.9 315.7,46.4 313.5,46.7 310.9,46.7 308.5,46.4 306.7,45.9 306.2,45.2 306.7,44.5 308.6,44.1 311.0,43.9 313.5,43.7 316.1,44.0 317.7,44.5Z M317.1,45.2 316.6,45.8 315.1,46.2 313.2,46.4 311.2,46.4 309.4,46.1 308.0,45.8 307.6,45.2 308.0,44.7 309.1,44.2 311.2,44.0 313.2,44.1 315.0,44.3 316.4,44.7Z M315.5,45.2 315.3,45.6 314.3,45.9 313.0,46.1 311.5,46.1 310.1,45.9 309.2,45.6 308.8,45.2 309.2,44.9 310.2,44.6 311.5,44.4 313.0,44.3 314.4,44.5 315.1,44.9Z M299.5,129.8 302.5,130.2 305.4,129.8 308.3,130.2 311.2,130.2 314.1,129.7 317.0,130.0 319.9,130.2 322.9,129.7 M299.9,129.4 302.7,129.3 305.6,128.9 308.4,129.5 311.2,128.9 314.0,129.4 316.8,129.4 319.7,129.1 322.5,129.3 M301.5,128.3 303.9,128.9 306.4,128.5 308.8,128.8 311.2,128.6 313.6,128.8 316.0,128.4 318.5,128.6 320.9,128.2 M321.6,107.6 320.9,110.4 320.1,113.2 317.7,115.6 315.8,117.5 314.6,119.5 312.5,122.2 311.0,123.2 309.6,123.0 307.6,120.9 305.6,118.8 303.6,116.7 302.1,113.6 301.4,109.9 301.5,107.8 301.7,106.0 302.3,104.2 303.9,102.1 306.2,101.2 308.0,100.0 309.9,98.9 311.2,97.9 312.7,98.2 315.0,99.3 316.9,100.2 318.6,102.1 320.3,104.0 321.1,106.5Z M321.4,107.9 320.6,110.3 319.1,112.3 317.2,114.8 316.0,117.4 314.5,120.2 312.4,121.7 311.1,121.9 309.7,121.5 307.7,120.9 305.6,119.2 303.5,116.4 303.0,113.0 302.0,109.9 301.8,108.0 301.3,106.4 302.2,104.2 304.0,102.3 306.4,101.3 308.4,100.3 310.0,99.2 310.9,99.1 312.7,98.8 314.5,99.1 317.0,100.4 318.4,102.0 320.1,103.9 321.6,106.4Z M319.6,108.0 320.0,109.9 319.2,113.0 318.0,115.7 316.1,118.7 314.4,120.4 312.8,121.4 311.5,122.1 310.0,122.1 307.6,120.8 305.8,118.3 304.5,115.7 303.2,112.5 302.4,110.1 302.2,107.9 302.5,106.6 303.1,104.5 304.5,102.6 306.0,100.3 307.9,99.1 309.8,98.4 311.2,98.5 312.3,99.2 314.1,99.4 316.7,100.7 318.5,102.1 319.5,104.6 319.8,106.3Z M319.8,107.7 319.8,109.8 319.1,112.5 317.6,115.1 316.1,117.3 313.9,119.5 312.6,120.2 311.0,121.1 309.9,121.5 307.5,121.0 305.6,118.5 304.4,115.3 303.2,112.3 302.6,109.7 302.5,107.7 302.9,106.2 304.0,104.9 304.8,102.5 306.0,101.1 308.0,99.4 310.1,99.3 311.0,98.9 312.6,98.6 314.4,99.2 316.6,100.6 318.0,102.5 318.7,104.3 319.9,106.7Z M319.6,107.7 319.6,109.8 318.9,112.5 317.5,115.4 315.7,117.3 314.1,119.6 312.6,121.3 311.4,122.0 309.7,120.8 308.2,118.6 306.6,116.5 305.1,114.9 303.7,112.1 302.4,109.8 302.3,107.5 302.5,106.5 303.8,104.5 305.2,102.8 306.6,101.3 308.0,99.9 309.8,98.5 311.2,98.7 312.7,99.3 314.1,100.2 316.0,101.4 317.9,102.9 318.5,104.8 319.0,106.4Z M318.7,107.9 318.8,109.8 318.2,111.9 316.9,114.7 315.9,117.3 314.0,119.8 312.2,121.0 311.2,121.2 310.0,120.3 308.4,118.5 306.5,116.8 305.7,114.3 304.1,111.9 303.2,109.6 302.6,107.5 302.6,106.3 304.1,104.8 305.6,103.7 306.8,101.7 308.5,99.7 309.9,98.6 311.1,98.3 312.6,99.5 314.0,100.0 316.0,101.1 317.7,102.6 318.9,104.7 318.7,106.8Z M319.8,108.0 318.8,109.8 318.0,112.1 316.9,114.6 315.5,116.5 313.6,118.3 312.0,119.3 311.4,120.5 310.2,120.3 308.4,118.9 306.8,116.2 306.2,114.0 304.6,111.8 303.4,109.9 302.7,107.5 303.2,106.3 303.7,104.5 305.1,102.9 306.7,101.3 308.3,100.6 310.2,100.0 311.4,100.2 312.5,100.1 313.6,100.3 315.5,101.4 317.3,103.3 318.4,104.7 319.9,106.7Z M319.0,108.0 318.7,109.7 317.4,111.8 316.2,113.4 314.9,115.8 313.8,118.7 312.2,120.0 310.9,119.8 310.2,118.9 308.7,118.3 306.7,117.3 305.3,114.5 304.2,111.5 304.0,109.4 304.1,108.1 303.8,106.4 304.2,105.0 305.4,103.4 307.1,101.5 308.6,100.5 310.3,100.1 311.4,99.5 311.9,100.1 313.7,100.1 315.8,101.1 317.2,103.3 318.2,105.0 318.6,106.7Z M318.9,107.7 318.5,109.4 316.9,111.3 316.2,113.2 314.9,115.7 314.0,118.1 312.1,119.7 311.1,120.3 310.2,119.7 308.6,118.5 307.2,116.6 305.9,113.9 304.8,111.4 304.0,109.4 303.5,108.0 304.2,106.6 305.0,105.5 306.4,104.0 307.2,101.7 308.8,100.3 310.4,99.9 311.1,99.4 312.4,99.1 313.8,100.1 315.5,101.5 316.4,103.2 317.4,104.9 318.6,106.7Z M318.1,107.6 317.9,109.2 317.4,111.7 316.9,113.9 315.2,117.0 313.8,118.6 312.2,118.7 311.2,118.8 310.4,117.8 308.7,117.4 307.5,115.5 306.2,113.9 305.3,111.5 304.6,109.0 304.1,108.0 304.2,106.5 305.2,105.3 305.7,103.2 307.4,102.2 308.9,100.8 310.0,99.5 311.0,99.0 312.0,99.6 313.2,101.1 314.8,102.7 316.1,103.6 317.5,105.3 318.3,106.7Z M318.3,107.7 318.0,109.4 317.3,111.3 316.5,114.0 314.7,115.8 313.7,117.1 312.2,117.8 311.0,118.1 310.6,117.8 308.8,116.9 307.7,115.4 306.2,113.7 304.8,111.5 304.3,109.1 304.8,107.8 304.8,106.9 305.1,105.2 306.0,103.1 307.2,101.5 309.1,100.7 310.3,99.5 311.4,99.6 312.2,100.7 313.1,102.1 314.1,103.2 315.9,104.0 317.6,105.0 318.3,106.6Z M317.7,107.7 317.4,109.2 317.0,111.5 316.4,113.9 314.8,115.8 313.2,117.4 311.8,118.5 311.5,118.6 310.4,117.0 309.7,115.2 308.4,114.5 306.4,113.3 305.3,111.2 304.4,109.3 304.5,108.0 305.0,106.7 304.9,105.4 306.2,103.5 307.3,101.7 309.3,100.9 310.4,100.8 311.0,100.6 311.7,100.9 313.3,101.4 314.7,102.8 316.1,103.9 317.3,105.4 317.6,107.0Z M316.4,107.5 316.4,108.6 316.2,110.5 315.1,112.8 314.3,114.8 313.0,116.4 312.2,117.3 311.2,117.8 310.3,117.3 309.4,116.3 308.4,113.8 307.9,111.9 306.8,110.2 305.7,108.7 305.1,107.8 305.9,106.9 306.6,105.7 307.3,104.2 308.4,102.4 309.1,101.2 310.4,100.7 310.9,100.7 311.8,101.1 312.9,101.4 314.1,102.6 315.0,104.3 315.8,105.9 316.3,107.0Z M316.0,108.0 315.6,108.5 314.9,109.8 314.4,111.6 313.4,113.5 312.8,115.0 311.8,116.3 311.2,116.2 310.6,116.4 309.6,115.4 308.4,114.0 308.0,112.0 307.0,110.2 306.3,108.5 306.0,107.9 306.5,107.3 307.4,106.2 308.3,104.9 308.6,103.3 310.1,102.7 310.8,101.9 311.2,101.3 311.5,101.2 312.7,101.3 314.1,102.8 315.0,104.3 315.4,105.8 316.0,106.9Z M315.3,107.6 315.0,108.2 314.1,109.8 313.8,110.9 313.1,113.0 312.3,114.2 311.6,115.1 310.9,115.7 310.8,115.1 309.9,114.2 309.4,113.3 308.3,111.5 307.8,109.7 307.1,108.7 307.1,107.8 307.3,106.9 307.9,106.4 308.7,105.4 309.3,103.6 309.7,102.6 310.8,101.9 310.9,101.9 311.6,101.9 312.3,102.4 313.3,103.4 314.2,104.6 314.8,106.1 315.2,107.5Z M314.7,107.7 314.5,108.5 314.2,109.7 313.3,110.7 312.8,111.9 312.0,113.0 311.2,113.3 311.2,113.7 311.1,113.6 310.6,113.2 309.4,112.6 309.1,110.9 308.6,109.5 308.6,108.4 308.1,107.8 307.9,107.4 308.0,106.3 309.2,105.2 309.7,104.1 310.1,103.1 310.9,103.1 311.4,102.7 311.6,103.4 312.0,103.8 312.6,103.9 313.6,105.1 314.1,106.1 314.6,107.2Z M313.6,108.1 313.2,108.0 312.8,108.9 312.8,110.1 311.9,111.0 311.8,112.2 311.3,113.5 311.2,113.3 311.1,112.8 310.6,112.4 309.9,111.4 309.5,110.4 309.3,109.4 309.0,108.1 308.6,107.9 309.1,107.1 309.2,106.4 309.7,105.8 310.2,104.9 310.8,103.7 311.1,103.1 311.2,103.0 311.5,103.1 312.0,103.7 312.2,104.7 313.1,105.3 313.6,106.2 313.9,107.2Z M312.9,107.8 313.0,108.4 312.3,109.2 312.5,110.0 311.9,110.7 311.4,111.3 311.1,111.9 311.1,112.2 311.1,112.2 310.6,111.8 310.6,110.8 310.1,109.9 310.0,109.0 309.9,107.9 309.7,108.0 309.5,107.5 310.0,106.9 310.1,105.7 310.5,104.9 310.6,104.1 310.9,103.7 311.1,103.3 311.2,103.9 311.4,104.6 311.9,105.2 312.1,105.8 312.6,106.9 312.4,107.5Z M340.2,129.8 342.3,130.0 344.4,130.4 346.5,129.8 348.6,130.3 350.7,130.3 352.8,130.4 354.9,130.0 357.0,130.4 M341.3,129.7 343.1,129.4 344.9,129.5 346.8,129.1 348.6,129.0 350.4,129.2 352.3,129.1 354.1,129.6 355.9,129.2 M341.9,128.2 343.6,128.6 345.3,128.3 346.9,128.4 348.6,128.1 350.3,128.6 351.9,128.6 353.6,128.5 355.3,128.5 M343.6,127.7 344.9,128.0 346.1,127.9 347.4,127.6 348.6,127.7 349.8,127.8 351.1,127.5 352.3,127.5 353.6,127.8 M358.6,109.1 358.2,112.5 357.6,116.2 356.4,119.8 355.2,123.7 352.9,126.5 351.0,128.4 348.9,129.5 346.6,129.1 344.1,127.4 342.0,124.1 340.2,120.5 339.4,116.0 338.5,112.3 337.6,109.2 338.0,107.0 339.3,104.5 340.7,102.5 342.3,100.6 344.4,98.3 346.6,97.1 348.3,97.5 350.7,98.0 353.1,98.9 355.3,99.8 357.9,101.3 359.2,104.1 359.1,106.8Z M358.6,108.7 358.4,112.3 357.6,116.1 356.2,119.5 355.0,123.2 352.4,125.4 350.5,126.9 348.8,127.8 346.9,127.7 344.5,126.3 342.2,124.1 340.3,120.9 339.1,116.7 338.3,112.5 338.5,108.7 338.7,107.0 339.7,104.7 340.9,102.7 342.4,100.6 344.6,98.7 346.6,97.7 348.8,97.5 350.4,98.2 352.8,98.9 355.4,100.1 357.5,101.7 358.5,104.2 359.2,106.6Z M359.1,109.1 358.7,112.4 358.0,115.9 356.8,120.0 355.0,123.6 352.6,125.8 350.3,127.2 348.3,128.0 346.6,127.3 344.6,125.0 342.8,122.0 341.5,118.5 339.8,115.9 338.5,112.1 338.0,108.9 338.5,107.2 338.9,104.4 340.3,102.2 342.2,100.4 344.7,98.5 346.4,97.6 348.5,97.4 350.4,98.1 352.6,99.8 354.5,101.1 356.1,102.6 357.8,105.0 359.1,106.7Z M358.6,109.1 359.4,112.4 358.2,116.3 356.7,120.0 354.3,122.0 352.7,124.4 350.4,126.2 348.7,127.2 346.9,125.8 345.0,123.2 343.5,121.3 341.5,118.9 339.7,116.1 338.5,112.3 337.7,108.7 337.9,106.8 338.5,104.7 340.5,102.6 342.5,100.8 345.2,100.0 347.1,99.2 348.4,98.9 350.5,98.6 352.5,99.4 354.6,100.6 356.2,102.7 357.5,104.8 358.3,107.0Z M357.8,109.3 357.4,112.1 357.3,115.7 356.4,119.4 354.7,122.6 352.2,125.0 350.5,125.8 348.4,125.7 346.9,125.2 344.9,124.2 343.0,122.5 341.1,119.8 339.3,115.9 339.0,112.0 339.2,109.1 339.4,107.3 340.1,105.2 341.4,103.0 343.4,101.0 344.7,100.0 346.9,98.6 348.8,97.8 350.4,97.9 352.5,98.9 354.6,100.6 355.9,102.8 356.9,105.0 357.9,107.0Z M358.0,109.2 358.0,111.8 357.2,115.1 355.6,118.7 354.3,121.7 352.4,124.3 350.2,126.4 348.5,127.0 347.0,125.7 344.9,123.2 343.8,120.0 342.4,117.4 340.9,114.6 339.4,112.0 338.5,109.2 339.2,107.2 339.5,105.0 341.1,102.7 343.0,100.5 345.1,99.2 346.8,98.3 348.4,98.4 350.2,99.3 351.8,99.9 353.8,101.5 355.4,103.2 356.8,104.8 358.0,107.3Z M357.9,109.2 358.3,112.0 357.2,115.3 355.7,118.4 353.9,121.0 352.3,123.3 350.1,124.9 348.9,124.9 347.0,124.2 345.0,122.9 343.5,120.8 341.6,118.1 340.5,115.1 339.5,111.7 339.0,109.1 339.3,107.0 339.7,104.8 341.2,103.0 343.4,101.3 345.2,100.1 346.9,99.5 348.9,98.9 350.1,98.8 352.4,99.4 354.1,100.7 355.7,103.1 356.7,105.4 357.5,107.2Z M357.7,108.8 357.8,111.7 357.2,115.0 356.1,118.8 353.8,121.1 351.8,122.2 350.1,122.8 348.8,122.9 347.2,123.3 345.4,122.3 343.5,120.9 341.2,118.7 339.9,115.4 339.5,111.8 339.8,108.7 340.0,107.2 340.7,105.1 341.4,102.8 343.2,101.3 345.3,100.2 346.9,99.5 348.5,98.7 349.8,98.9 351.8,100.0 353.5,101.6 355.3,103.6 356.6,104.9 358.1,107.0Z M357.0,109.2 356.9,111.3 355.9,114.2 354.4,117.2 353.0,119.1 351.9,121.9 350.1,124.4 348.5,126.2 347.3,125.6 345.5,123.0 343.4,120.4 342.1,117.4 341.3,114.2 340.6,111.3 340.3,109.0 340.4,107.7 340.8,105.5 342.3,103.6 343.5,101.9 345.6,100.1 346.9,98.9 348.6,98.6 350.3,99.1 352.2,100.1 353.8,100.9 355.5,103.1 356.7,105.5 356.7,107.1Z M356.0,108.8 356.4,111.1 356.1,114.0 354.8,117.2 353.7,119.8 352.0,122.5 350.1,124.3 348.8,124.7 347.2,123.5 345.3,122.4 343.4,120.3 342.1,117.3 341.5,114.4 340.9,111.2 340.3,109.3 340.6,107.5 340.8,105.7 342.1,103.4 344.0,101.8 345.7,100.7 347.0,99.8 348.9,99.3 350.3,99.6 351.9,100.0 354.2,101.1 355.3,102.9 356.3,105.4 356.0,107.5Z M357.7,109.0 357.6,111.3 356.4,114.7 354.9,116.9 352.9,119.3 351.1,120.9 349.9,122.5 348.3,123.1 347.5,122.6 345.7,120.9 343.9,118.8 342.7,117.1 340.8,114.2 339.9,111.2 340.2,109.2 340.6,107.7 341.6,105.6 342.1,103.3 344.0,101.6 345.9,100.3 347.0,99.9 348.5,99.2 350.0,99.4 351.4,100.8 353.0,102.7 354.3,104.0 355.5,106.0 356.6,107.4Z M356.4,109.1 355.9,110.8 355.5,113.8 354.4,116.7 353.2,118.8 351.5,121.0 349.7,122.6 348.5,123.5 347.4,123.3 345.9,121.8 343.9,119.5 342.4,117.3 341.0,114.5 340.3,111.2 340.7,108.8 341.5,107.4 342.5,106.2 343.2,104.4 344.3,102.4 345.5,100.5 347.0,99.1 348.8,98.6 350.0,99.2 351.6,100.7 353.3,102.3 354.9,103.7 356.0,105.8 356.1,107.5Z M356.4,109.1 356.1,110.7 354.8,113.7 354.0,116.4 352.8,118.7 350.9,120.4 349.7,120.7 348.3,121.3 347.7,122.1 345.5,121.6 343.8,120.1 342.2,117.1 341.3,113.9 340.9,111.2 341.2,108.7 341.7,107.8 342.3,106.0 343.2,104.1 344.2,102.6 345.6,101.2 347.2,100.2 348.6,99.6 349.9,99.9 351.3,100.4 352.7,102.4 354.4,104.1 355.5,105.6 356.6,107.6Z M356.1,108.9 355.7,110.8 355.5,113.8 354.5,116.3 352.4,118.6 350.9,120.1 349.7,121.3 348.3,122.3 347.6,122.3 346.1,121.1 344.5,118.8 343.0,115.8 342.4,113.0 342.0,110.6 341.5,108.9 341.4,107.7 341.7,105.6 342.8,103.8 344.0,102.3 345.7,100.7 347.4,100.2 348.6,100.3 349.4,100.5 351.2,101.2 352.5,102.6 354.3,104.3 355.2,105.6 355.7,107.9Z M355.0,108.9 354.8,110.4 354.0,112.9 353.2,115.2 351.9,116.9 350.6,119.1 349.4,120.3 348.4,120.4 347.6,119.9 346.5,118.8 345.1,117.2 343.6,115.7 342.7,113.2 342.2,110.7 342.0,109.2 342.6,108.0 342.9,106.5 343.9,104.5 345.5,103.3 346.6,102.3 347.9,101.4 348.9,101.4 349.6,101.2 350.8,101.5 352.5,102.9 353.7,104.3 354.7,105.9 354.8,107.7Z M353.6,108.8 353.2,110.4 352.7,111.8 352.2,113.9 351.2,115.9 350.4,117.9 349.1,118.9 348.4,119.5 347.7,118.8 347.1,117.4 346.1,115.8 345.0,113.6 343.8,112.4 343.2,110.3 343.0,109.2 343.5,108.0 344.1,106.8 344.6,105.3 345.9,103.8 346.6,102.6 348.1,102.0 348.6,101.9 349.3,101.6 350.1,102.3 351.4,103.4 352.7,105.1 353.2,106.9 354.0,108.3Z M353.0,109.2 352.9,110.2 352.3,111.3 351.8,113.2 350.8,114.7 350.0,116.1 349.2,116.5 348.3,117.2 347.9,117.2 347.3,116.4 346.6,114.8 345.8,113.1 344.6,111.3 344.3,110.1 344.2,109.0 344.3,108.5 344.6,106.8 345.5,105.5 346.4,104.2 347.2,103.0 348.1,103.0 348.5,103.3 348.9,103.5 349.7,103.5 351.0,104.3 351.9,105.5 352.5,106.9 353.0,108.4Z M351.8,108.9 351.6,109.6 351.7,110.9 350.8,112.5 350.6,114.2 349.4,115.5 348.8,116.3 348.6,116.0 348.5,115.4 347.7,115.1 346.9,113.8 346.4,112.2 345.9,110.8 345.7,109.7 345.4,109.0 345.3,108.3 345.4,107.3 346.2,105.9 347.1,104.9 347.6,103.7 348.0,102.5 348.7,102.5 349.2,103.6 349.7,104.7 350.0,105.3 350.8,106.5 351.4,107.5 352.1,108.6Z M351.1,109.3 350.6,109.6 350.3,110.5 349.9,111.5 349.8,112.3 349.4,113.7 348.7,114.6 348.6,115.3 348.2,114.6 347.8,113.9 347.4,112.9 347.1,111.6 346.5,110.4 346.2,109.6 346.0,109.1 346.2,108.9 346.7,108.0 347.1,106.5 347.6,105.7 347.9,104.9 348.5,104.4 348.4,104.3 349.1,104.2 349.5,105.0 349.7,105.3 350.2,106.5 350.6,107.4 351.2,108.2Z M350.2,108.9 349.9,109.1 349.6,110.2 349.7,111.1 349.5,111.7 348.7,112.6 348.8,113.5 348.5,113.8 348.3,113.5 348.2,112.5 348.2,111.7 347.9,111.1 347.4,110.1 347.0,109.1 347.3,108.9 347.4,108.6 347.4,107.8 347.9,107.1 347.8,106.4 348.1,105.2 348.3,105.0 348.8,104.5 349.0,104.9 349.2,105.1 349.2,105.7 349.4,107.3 349.6,108.2 350.1,108.9Z"/></g>
<g clip-path="url(#cp03)"><path class="cl" d="M409.7,43.3 409.4,46.8 409.4,50.2 408.6,53.7 408.4,57.2 408.1,60.6 407.8,64.1 408.3,67.5 408.4,71.0 409.4,74.5 409.4,77.9 410.3,81.4 410.2,84.9 410.3,88.3 410.6,91.8 411.8,95.3 412.9,98.7 424.4,98.7 424.7,95.3 426.0,91.8 426.9,88.3 427.8,84.9 429.1,81.4 430.5,77.9 430.5,74.5 430.9,71.0 430.3,67.5 429.6,64.1 429.7,60.6 428.7,57.2 428.7,53.7 429.3,50.2 429.3,46.8 430.1,43.3Z M412.0,44.1 412.4,47.5 412.0,50.9 411.5,54.3 410.5,57.7 410.0,61.1 409.6,64.6 410.4,68.0 411.1,71.4 411.6,74.8 410.9,78.2 411.6,81.6 411.4,85.1 412.0,88.5 412.5,91.9 412.8,95.3 414.7,98.7 423.5,98.7 424.5,95.3 425.0,91.9 425.2,88.5 425.7,85.1 427.2,81.6 427.8,78.2 428.2,74.8 428.7,71.4 429.0,68.0 428.5,64.6 427.9,61.1 427.6,57.7 427.2,54.3 426.2,50.9 426.8,47.5 427.2,44.1Z M413.2,44.8 414.1,48.2 414.6,51.6 413.8,54.9 413.6,58.3 412.9,61.7 412.0,65.0 411.8,68.4 412.1,71.8 411.8,75.1 412.7,78.5 413.1,81.9 414.0,85.3 414.3,88.6 414.1,92.0 415.1,95.4 415.1,98.7 420.8,98.7 422.9,95.4 423.7,92.0 425.6,88.6 426.2,85.3 426.4,81.9 426.8,78.5 425.7,75.1 425.1,71.8 424.8,68.4 425.2,65.0 425.6,61.7 425.6,58.3 426.0,54.9 425.7,51.6 425.8,48.2 425.2,44.8Z M443.0,128.5 439.7,131.0 436.3,133.1 432.7,134.9 427.9,136.2 422.5,136.9 416.8,137.2 410.7,136.9 405.6,135.5 402.0,133.4 399.1,131.1 397.2,128.5 398.5,125.8 402.7,123.8 407.0,122.2 411.0,120.4 416.6,119.2 422.6,119.8 427.3,121.3 432.2,122.3 438.7,123.3 443.3,125.5Z M438.3,128.5 437.7,130.8 434.4,132.6 430.3,133.8 426.7,135.1 422.4,136.5 417.0,136.6 412.5,135.2 409.3,133.6 405.5,132.4 401.4,130.8 399.9,128.5 401.6,126.2 404.6,124.4 408.2,122.8 412.6,121.8 417.4,121.5 422.1,121.4 427.1,121.5 431.9,122.4 435.2,124.2 437.1,126.3Z M433.2,128.5 433.5,130.2 431.7,131.8 428.8,133.0 425.9,134.3 422.0,135.4 417.4,135.4 413.4,134.4 410.3,133.1 407.9,131.8 406.5,130.2 406.2,128.5 405.9,126.8 406.1,124.8 409.0,123.2 413.8,123.0 417.9,123.2 421.7,122.6 426.5,122.1 430.9,123.0 432.4,125.0 432.4,126.9Z M445.6,100.5 445.4,102.1 442.2,103.0 439.2,104.0 435.3,103.9 433.2,102.5 431.9,101.5 429.8,100.5 427.6,98.7 430.7,97.2 435.7,98.0 438.7,97.8 442.1,98.0 443.4,99.3Z M441.9,100.5 441.7,101.4 439.6,101.7 438.0,101.9 436.4,102.0 434.9,101.7 433.6,101.2 433.1,100.5 433.2,99.7 434.5,99.1 436.4,99.0 438.1,99.0 439.4,99.4 440.2,99.9Z"/><path class="cm" d="M411.1,46.9 410.9,48.7 409.9,49.0 409.1,48.5 408.8,46.9 409.0,45.3 409.9,44.7 410.7,45.5Z M415.1,46.3 414.8,48.7 414.3,50.6 414.1,47.6 413.4,46.3 413.7,43.5 414.3,43.7 414.9,43.7Z M419.5,49.2 419.2,51.0 418.6,51.5 417.9,51.3 417.6,49.2 418.1,47.7 418.6,46.8 419.3,47.0Z M422.7,47.0 422.6,50.1 422.3,50.2 422.0,49.2 421.7,47.0 422.0,44.6 422.3,43.0 422.5,44.6Z M427.7,46.5 427.5,49.1 426.8,49.6 426.2,48.9 426.2,46.5 426.0,43.3 426.8,43.7 427.4,44.2Z M413.8,51.4 413.4,52.6 412.9,53.0 412.1,53.3 412.2,51.4 412.4,50.2 412.9,49.4 413.5,49.9Z M418.4,51.0 417.6,52.5 417.1,54.3 416.3,53.3 415.8,51.0 416.6,49.4 417.1,47.9 417.9,48.5Z M421.8,51.4 421.8,52.6 421.3,53.0 420.9,52.4 420.8,51.4 420.8,50.1 421.3,49.8 421.6,50.5Z M426.8,51.0 426.7,53.4 426.1,53.5 425.6,53.1 425.4,51.0 425.5,48.5 426.1,48.5 426.6,48.8Z M411.5,54.3 411.5,56.7 410.8,57.0 410.3,55.8 409.8,54.3 410.2,52.5 410.8,51.3 411.3,52.5Z M414.3,55.8 414.2,57.5 413.6,57.6 413.2,57.3 412.7,55.8 413.1,54.2 413.6,54.4 414.3,53.8Z M419.7,56.4 419.5,58.2 418.6,58.3 417.9,58.0 417.3,56.4 418.0,55.2 418.6,54.0 419.4,54.9Z M423.5,56.3 423.0,58.6 422.4,58.7 421.7,59.0 421.7,56.3 421.7,53.5 422.4,53.4 422.9,54.3Z M427.3,53.9 427.1,54.9 426.6,56.1 426.1,55.0 425.7,53.9 426.1,52.9 426.6,52.2 427.3,52.4Z M411.0,59.6 410.9,61.5 410.3,62.2 409.6,61.5 409.4,59.6 409.8,58.1 410.3,56.4 410.9,57.7Z M415.5,57.8 415.2,59.0 414.6,59.6 413.8,59.1 413.7,57.8 413.8,56.5 414.6,55.9 415.2,56.6Z M419.0,60.0 418.9,62.1 418.4,63.9 417.9,62.3 417.8,60.0 417.9,57.4 418.4,57.0 419.0,57.2Z M423.2,60.3 422.9,61.5 422.5,62.2 422.0,62.0 421.8,60.3 422.2,59.2 422.5,58.5 423.2,58.4Z M428.3,57.5 428.2,58.7 427.4,59.5 426.5,58.8 426.2,57.5 426.4,56.1 427.4,56.0 428.5,55.7Z M412.6,62.6 412.5,63.8 411.7,64.0 411.0,63.6 410.8,62.6 410.9,61.5 411.7,61.2 412.3,61.7Z M418.2,63.1 417.6,64.0 416.8,64.5 415.9,64.3 415.7,63.1 416.0,62.1 416.8,61.9 417.8,62.0Z M422.4,63.2 422.3,65.4 421.8,66.0 421.4,65.2 421.0,63.2 421.5,61.8 421.8,59.7 422.3,60.9Z M426.8,64.1 426.8,65.4 425.9,65.5 425.2,65.2 425.0,64.1 425.2,63.0 425.9,62.4 426.5,63.2Z M410.9,68.1 410.7,69.5 410.2,69.8 409.6,69.6 409.3,68.1 409.7,66.9 410.2,66.3 410.8,66.6Z M415.7,67.3 415.6,69.1 415.3,70.3 415.0,69.1 414.9,67.3 414.9,65.3 415.3,64.3 415.5,65.9Z M419.8,67.3 419.4,69.3 418.8,70.6 418.1,69.3 417.7,67.3 418.0,64.9 418.8,65.0 419.6,64.6Z M424.5,67.8 424.6,70.5 423.7,70.5 423.3,69.0 422.5,67.8 422.9,65.3 423.7,65.7 424.5,65.6Z M428.7,66.4 428.4,67.4 427.9,68.5 427.5,67.3 427.2,66.4 427.2,65.0 427.9,65.0 428.5,65.2Z M414.3,71.0 414.5,73.6 413.5,74.3 412.9,72.5 412.2,71.0 412.6,68.6 413.5,68.5 414.5,68.4Z M417.4,72.5 417.1,74.5 416.8,74.8 416.5,74.7 416.3,72.5 416.5,70.4 416.8,70.1 417.1,70.5Z M423.4,71.1 423.0,73.0 422.3,74.3 421.2,74.0 421.5,71.1 421.5,68.9 422.3,67.4 423.1,68.9Z M426.8,73.2 426.5,74.4 425.8,75.5 425.3,74.0 424.7,73.2 425.0,71.9 425.8,71.2 426.4,72.1Z M411.7,76.0 411.7,77.4 410.7,77.2 409.8,77.2 409.5,76.0 409.8,74.6 410.7,74.7 411.6,74.7Z M416.4,75.8 415.9,77.8 415.3,79.3 414.3,78.8 414.4,75.8 414.6,73.8 415.3,71.7 416.0,73.5Z M420.4,73.9 419.9,75.3 419.2,76.0 418.4,75.3 417.6,73.9 418.5,72.6 419.2,72.0 420.2,72.0Z M424.3,76.8 424.0,78.2 423.6,79.2 423.1,78.8 422.9,76.8 423.2,75.4 423.6,74.6 424.2,74.5Z M428.7,76.3 428.1,77.1 427.7,78.2 427.1,77.8 427.0,76.3 427.2,75.1 427.7,74.3 428.2,75.1Z M414.5,80.9 414.2,82.3 413.8,82.5 413.3,82.3 413.2,80.9 413.2,79.2 413.8,79.2 414.1,79.8Z M418.0,80.3 417.5,82.0 417.0,83.4 416.1,83.1 416.4,80.3 416.3,78.1 417.0,76.7 417.6,78.3Z M422.6,78.9 422.9,81.3 421.9,81.8 421.0,81.1 420.9,78.9 421.0,76.7 421.9,75.9 423.0,76.3Z M427.2,79.5 427.1,81.9 426.1,83.1 425.5,80.9 424.8,79.5 425.0,77.0 426.1,76.5 426.8,77.8Z M411.2,81.9 411.0,83.6 410.7,83.6 410.3,84.1 410.3,81.9 410.4,80.6 410.7,79.3 411.0,80.5Z M416.4,82.5 416.1,83.6 415.6,84.0 415.2,83.8 415.1,82.5 415.1,81.1 415.6,81.2 416.1,81.3Z M419.1,82.9 419.1,85.4 418.6,84.9 418.3,84.9 418.1,82.9 418.2,80.7 418.6,80.8 419.0,80.6Z M424.1,83.2 423.9,86.2 422.9,86.6 422.0,85.4 421.7,83.2 421.9,80.5 422.9,78.9 423.5,81.5Z M428.7,83.7 428.5,84.9 427.8,85.6 426.8,85.2 426.5,83.7 427.1,82.7 427.8,82.3 429.0,81.8Z M415.5,86.9 415.2,88.2 415.0,90.1 414.6,89.1 414.6,86.9 414.7,85.2 415.0,83.3 415.3,85.2Z M419.4,86.7 419.1,88.8 418.4,88.5 417.7,88.6 417.4,86.7 417.7,84.8 418.4,84.2 418.9,85.1Z M423.8,88.4 423.4,90.7 422.8,92.9 422.0,91.3 422.2,88.4 422.0,85.6 422.8,83.5 423.2,86.7Z M414.4,91.1 413.8,93.3 413.0,95.7 412.3,93.3 411.9,91.1 411.9,87.8 413.0,87.6 413.8,88.7Z M418.5,91.2 418.2,93.7 417.5,94.7 417.0,93.2 416.6,91.2 416.8,88.5 417.5,87.5 418.0,89.3Z M423.4,89.8 423.3,91.4 422.6,91.2 422.1,90.9 421.6,89.8 422.0,88.5 422.6,88.3 423.2,88.5Z M415.1,93.7 414.9,95.6 414.5,98.2 414.2,95.4 414.0,93.7 414.0,91.2 414.5,90.4 415.0,91.6Z M419.1,93.8 418.9,95.4 418.5,96.0 418.1,95.9 417.9,93.8 418.2,92.4 418.5,90.8 418.9,92.0Z M423.7,95.4 423.0,96.3 422.3,97.1 421.4,96.7 421.3,95.4 421.7,94.3 422.3,93.4 423.0,94.3Z M420.5,114.3 419.8,115.5 419.3,116.2 418.6,115.9 418.4,114.3 418.7,113.0 419.3,112.2 419.8,113.1Z M417.6,105.8 417.4,107.4 417.1,109.1 416.9,107.1 416.7,105.8 416.8,103.9 417.1,103.0 417.3,104.4Z M411.2,118.1 410.8,118.9 410.0,119.3 409.0,119.0 408.8,118.1 409.3,117.5 410.0,116.6 410.7,117.4Z M416.5,110.4 416.0,111.7 415.6,112.9 414.8,112.5 414.9,110.4 415.0,108.7 415.6,108.0 416.1,108.8Z M413.0,112.9 412.7,113.8 412.4,114.5 411.9,114.2 411.9,112.9 412.0,111.8 412.4,111.5 412.8,111.8Z M412.8,109.8 412.8,111.0 412.4,111.5 412.1,111.0 411.9,109.8 412.2,109.0 412.4,107.9 412.8,108.5Z M414.6,108.8 414.3,110.1 413.8,110.7 413.2,110.5 413.1,108.8 413.4,107.5 413.8,106.9 414.4,107.2Z M428.1,109.5 427.5,110.5 426.9,111.0 426.2,110.5 425.5,109.5 426.2,108.4 426.9,108.1 427.6,108.3Z M419.9,114.5 419.9,115.4 419.1,115.6 418.5,115.1 418.4,114.5 418.3,113.6 419.1,113.3 419.7,113.9Z M410.6,102.6 410.2,103.7 409.6,104.9 408.8,104.1 408.4,102.6 409.1,101.6 409.6,100.5 410.6,100.8Z M422.3,109.7 421.4,110.6 420.7,110.9 419.7,110.7 419.5,109.7 419.6,108.4 420.7,108.6 421.4,108.8Z M411.4,111.0 411.2,112.2 410.7,112.8 410.2,112.7 410.0,111.0 410.3,109.8 410.7,109.3 411.4,109.1Z M424.6,107.8 424.5,110.3 423.4,109.7 422.7,109.4 422.2,107.8 422.4,105.6 423.4,105.6 424.1,106.2Z M413.6,110.7 413.4,111.2 413.0,111.6 412.6,111.5 412.5,110.7 412.7,110.2 413.0,109.6 413.4,110.0Z M415.7,110.1 415.8,111.2 414.8,111.3 414.1,110.8 413.7,110.1 413.7,109.1 414.8,108.9 415.5,109.4Z M420.2,111.4 420.0,112.5 419.7,113.0 419.4,112.3 419.3,111.4 419.2,110.1 419.7,109.9 419.9,110.7Z M425.0,105.4 424.6,106.6 423.8,107.6 422.8,106.9 422.7,105.4 422.8,103.9 423.8,103.6 424.8,103.8Z M421.2,111.0 421.2,111.9 420.7,111.7 420.3,111.6 420.1,111.0 420.2,110.2 420.7,110.0 421.0,110.4Z M420.1,106.4 420.0,107.8 419.5,107.9 419.0,107.6 418.7,106.4 419.0,105.3 419.5,104.9 419.9,105.2Z M412.5,105.5 412.0,106.7 411.2,107.8 410.6,106.4 409.9,105.5 410.2,104.0 411.2,103.7 411.9,104.4Z M421.7,114.4 421.1,116.2 420.2,116.8 419.5,115.8 418.8,114.4 419.3,112.6 420.2,112.0 420.8,113.1Z M424.6,114.7 424.4,115.5 423.8,115.7 422.9,115.8 422.9,114.7 423.3,114.2 423.8,113.3 424.5,113.8Z M432.3,109.5 431.1,115.6 429.6,120.9 428.7,126.9 426.9,132.5 423.5,135.9 420.4,136.7 417.5,136.2 414.3,135.3 411.2,134.0 408.1,131.8 404.9,128.1 402.7,122.9 401.3,115.9 401.6,109.4 402.2,106.3 403.7,102.4 405.5,99.3 408.2,97.0 411.7,96.2 414.2,94.7 417.5,93.9 420.2,93.3 423.9,94.3 426.7,96.2 429.0,99.0 431.4,102.3 432.7,106.0Z M431.8,109.8 430.8,114.7 429.5,119.2 428.0,123.9 426.2,128.6 423.7,132.4 420.0,133.6 417.0,132.4 414.4,131.3 411.6,129.9 408.6,128.2 405.3,125.6 403.3,120.4 401.9,115.3 401.9,109.5 402.4,106.0 403.9,102.7 406.3,99.9 409.2,97.7 411.6,96.5 414.2,95.7 417.3,95.0 419.9,94.4 423.6,95.1 426.3,96.5 429.0,98.8 430.8,102.3 431.9,106.3Z M431.7,109.5 431.5,114.6 429.6,118.9 427.3,122.4 425.0,126.0 422.6,129.2 420.2,132.1 417.3,133.0 414.2,131.9 411.3,130.0 409.2,126.9 407.3,122.9 405.3,118.3 404.0,114.0 403.2,109.8 402.9,106.4 404.2,102.8 406.1,100.1 409.1,97.7 412.2,96.3 414.9,96.0 417.1,95.2 420.0,95.1 422.9,95.5 426.2,96.9 428.0,100.1 429.4,103.0 430.7,106.7Z M429.3,109.9 429.2,113.6 428.6,117.7 427.2,122.1 425.1,126.3 422.6,129.8 420.2,131.5 417.1,131.9 414.3,131.5 411.7,129.4 409.2,125.7 408.2,120.7 407.7,116.4 406.4,113.0 404.4,109.7 403.9,106.7 404.6,103.4 407.1,100.4 409.3,98.5 411.4,95.8 414.5,94.2 417.2,93.7 420.0,94.8 422.5,96.4 424.7,98.1 427.3,100.6 428.7,103.6 429.5,106.6Z M429.7,109.6 428.1,113.2 426.9,116.6 426.1,120.3 424.7,124.4 422.6,128.3 419.5,129.6 417.0,130.2 414.8,130.4 412.0,128.4 410.1,124.4 408.4,120.1 407.2,116.7 405.5,113.4 403.7,109.6 404.2,106.7 406.3,103.8 408.7,102.0 410.5,99.2 412.2,97.3 415.0,95.5 417.5,94.7 419.5,94.9 422.3,96.0 425.0,98.2 426.9,101.1 428.2,103.9 429.8,106.9Z M427.9,109.7 428.1,112.7 428.0,117.0 426.5,121.2 424.2,123.9 422.1,126.6 419.7,128.4 417.3,129.1 415.0,128.2 413.0,125.9 410.6,122.6 408.6,119.9 407.0,117.0 405.9,112.7 405.8,109.4 406.3,107.4 407.1,104.4 408.1,101.8 410.3,98.9 412.1,96.8 414.8,95.0 417.1,94.5 419.2,95.9 421.6,97.8 423.9,99.8 425.7,101.7 427.6,104.5 428.3,107.3Z M428.5,109.4 428.4,113.0 427.5,116.5 425.5,119.1 422.7,121.0 421.1,123.3 418.9,125.5 417.5,127.3 415.3,127.1 413.2,124.9 410.7,122.3 409.0,119.2 407.2,116.3 405.6,112.9 405.1,109.6 405.2,107.3 407.0,104.2 409.1,102.1 411.2,100.7 413.4,98.7 415.2,97.7 417.3,96.8 419.2,97.2 421.2,98.2 423.8,98.9 426.6,101.5 427.6,104.4 428.0,107.0Z M427.7,109.4 427.6,112.1 426.8,115.5 425.2,119.4 423.4,122.2 421.4,124.9 419.1,125.6 417.3,126.1 415.5,125.0 413.6,122.9 411.6,120.8 410.1,118.4 407.9,115.5 406.6,112.4 405.8,109.9 406.5,107.2 407.4,104.5 409.4,102.0 411.1,100.4 413.5,98.8 415.4,98.2 417.4,97.3 418.9,97.0 421.5,97.9 423.6,99.6 425.1,102.3 425.7,104.9 426.9,107.6Z M427.1,109.6 425.9,111.7 425.1,114.6 424.2,118.3 422.8,120.9 420.5,122.5 418.9,123.1 417.4,123.8 415.7,124.3 413.5,123.8 410.9,121.6 409.5,118.5 407.8,115.5 407.4,112.1 407.5,109.6 408.1,107.4 408.8,105.7 410.1,102.9 411.8,101.1 413.6,99.2 415.8,98.3 417.0,97.5 418.7,97.6 421.0,99.0 422.9,100.9 425.0,102.4 426.7,104.5 428.1,107.7Z M462.4,113.4 462.2,115.0 461.8,115.9 461.3,115.5 461.2,113.4 461.5,111.9 461.8,110.9 462.3,111.1Z M453.8,118.1 453.8,120.1 453.4,120.7 453.0,120.1 453.1,118.1 453.0,116.1 453.4,115.4 453.7,116.4Z M459.5,122.5 459.2,124.2 458.6,124.3 458.1,123.9 457.5,122.5 458.1,121.1 458.6,120.3 459.2,120.8Z M458.3,117.1 457.9,117.7 457.5,118.2 456.9,118.0 457.0,117.1 457.0,116.4 457.5,116.1 458.0,116.4Z M460.4,110.3 460.1,111.5 459.5,112.5 458.6,111.9 458.4,110.3 458.9,109.2 459.5,108.5 460.6,108.5Z M457.3,105.7 456.7,107.4 455.9,108.2 455.1,107.5 454.6,105.7 455.1,103.9 455.9,103.5 456.7,104.0Z M459.3,120.5 459.0,121.9 458.3,123.1 457.6,122.1 457.0,120.5 457.9,119.6 458.3,117.8 459.3,118.5Z M457.5,112.7 457.0,113.3 456.4,113.6 455.7,113.4 455.3,112.7 456.0,112.2 456.4,111.4 457.0,112.0Z M452.7,113.1 452.4,113.9 451.6,114.1 450.5,114.2 450.8,113.1 450.8,112.3 451.6,112.0 452.5,112.2Z M458.7,116.7 458.3,117.9 457.9,119.6 457.4,118.4 457.1,116.7 457.5,115.3 457.9,114.4 458.5,114.7Z M452.9,108.9 452.8,109.6 452.3,109.5 451.6,109.8 451.8,108.9 451.9,108.2 452.3,107.8 452.8,108.2Z M460.0,105.8 459.8,106.5 459.5,107.0 459.2,106.7 459.0,105.8 459.3,105.0 459.5,104.6 459.9,104.8Z M457.7,113.0 457.5,113.9 456.6,113.9 455.5,114.1 455.5,113.0 456.0,112.4 456.6,111.6 457.6,112.0Z M454.4,110.3 454.0,111.4 453.5,112.2 452.9,111.8 452.5,110.3 453.1,109.2 453.5,108.4 454.3,108.5Z M467.5,110.7 466.9,116.7 465.7,121.7 464.4,127.2 462.8,131.9 460.9,134.8 458.9,136.7 456.3,137.7 454.4,138.2 452.0,136.5 449.6,132.3 448.5,127.3 446.8,122.7 446.0,116.8 446.0,111.1 446.6,107.8 447.8,105.6 448.7,102.5 449.7,100.1 451.8,98.2 454.1,97.5 456.6,97.6 458.6,97.8 461.3,98.9 463.1,100.5 464.7,102.4 466.6,104.7 467.1,107.8Z M466.4,110.8 465.6,115.2 465.6,120.0 464.5,125.2 463.1,129.1 461.0,131.3 458.5,132.0 456.8,131.8 454.5,131.6 452.3,130.3 450.4,127.9 448.6,125.1 447.3,120.5 446.4,115.7 446.0,110.8 447.0,108.4 448.1,105.3 449.2,103.3 450.8,101.7 452.6,100.0 454.7,98.9 456.7,98.0 458.4,98.2 460.5,99.6 462.7,100.8 464.5,103.1 466.1,105.3 466.4,108.2Z M465.9,110.6 466.1,114.6 464.7,118.9 463.8,122.9 462.0,125.8 460.0,128.2 458.5,129.0 456.7,130.1 454.7,129.8 453.0,129.1 450.8,126.3 449.1,123.4 447.6,119.5 446.8,115.0 446.3,110.9 447.5,108.5 449.0,106.2 450.1,104.2 451.7,102.2 452.9,100.7 455.1,100.0 456.4,99.5 458.8,98.7 460.9,99.2 462.7,100.6 463.7,103.5 464.7,106.2 465.7,108.7Z M464.8,110.8 464.9,113.9 463.8,117.6 463.4,121.8 461.9,125.4 459.9,128.4 458.1,129.1 456.6,128.9 455.0,128.3 453.0,127.4 451.2,125.2 450.1,122.0 449.3,117.9 448.7,113.9 448.4,111.0 448.1,108.8 448.8,106.5 450.3,104.4 451.7,102.5 453.2,101.0 454.9,99.7 456.7,98.8 458.5,98.7 460.7,99.5 462.1,101.7 462.9,104.2 463.5,106.6 464.2,108.9Z M464.2,111.1 463.8,113.8 463.6,116.9 462.6,120.8 461.1,123.3 459.4,124.8 457.9,125.6 456.4,126.4 455.2,127.2 453.3,126.5 451.8,124.0 450.1,120.5 449.3,117.3 448.8,114.0 448.9,110.8 448.8,109.1 449.9,107.0 450.9,105.0 452.1,103.4 454.0,101.6 455.2,100.4 456.8,99.4 458.0,99.6 459.7,100.7 461.4,102.6 462.9,104.5 463.5,106.6 464.5,109.1Z"/><path class="ct" d="M413.7,49.2 413.5,52.0 412.6,53.1 411.9,51.5 411.7,49.2 411.6,45.8 412.6,46.1 413.4,46.7Z M418.2,48.5 417.3,49.9 416.9,51.5 416.1,50.8 415.8,48.5 416.2,46.5 416.9,45.9 417.6,46.2Z M420.7,47.5 420.7,48.7 420.0,49.4 419.4,48.7 419.3,47.5 419.2,46.2 420.0,46.1 420.8,46.2Z M424.9,46.9 424.8,48.2 424.6,48.9 424.2,48.8 424.3,46.9 424.3,45.7 424.6,44.6 424.9,45.4Z M411.7,52.1 411.7,53.9 411.1,54.9 410.5,54.0 410.3,52.1 410.6,50.7 411.1,49.1 411.7,50.2Z M416.0,51.9 415.8,53.1 415.0,53.2 414.4,52.8 414.0,51.9 414.3,50.8 415.0,50.4 415.5,51.1Z M420.4,50.2 420.4,52.2 419.4,52.9 418.7,51.8 418.1,50.2 418.4,48.0 419.4,48.7 420.6,47.6Z M425.0,51.3 424.9,53.0 424.2,52.4 423.4,53.2 423.1,51.3 423.8,50.3 424.2,49.2 424.8,49.6Z M428.7,51.7 428.4,52.9 428.1,53.8 427.8,52.7 427.4,51.7 427.9,50.7 428.1,49.9 428.5,50.2Z M413.2,54.9 413.3,57.4 412.5,58.7 411.7,57.4 411.6,54.9 411.9,52.9 412.5,50.8 413.4,52.1Z M417.6,55.7 417.5,57.6 416.9,58.3 416.2,58.2 416.3,55.7 416.3,53.6 416.9,53.2 417.6,53.3Z M421.5,55.6 421.3,56.9 420.7,57.7 420.0,57.0 419.7,55.6 420.3,54.7 420.7,52.8 421.3,54.3Z M425.2,53.9 425.0,55.8 424.4,56.4 423.9,55.6 423.9,53.9 423.7,51.5 424.4,51.9 424.9,52.3Z M429.5,56.5 429.1,57.9 428.3,58.6 427.1,58.7 427.4,56.5 427.5,55.0 428.3,54.3 429.4,54.7Z M413.2,59.8 412.8,61.0 412.0,61.9 411.0,61.5 411.0,59.8 411.3,58.5 412.0,57.8 413.0,58.2Z M416.9,58.9 416.4,60.0 416.0,60.6 415.5,60.2 415.3,58.9 415.6,57.6 416.0,57.0 416.5,57.7Z M422.2,57.5 421.7,58.4 421.0,58.7 419.9,59.0 420.1,57.5 420.2,56.5 421.0,55.9 421.8,56.4Z M425.2,60.0 425.0,61.1 424.6,61.3 424.1,61.1 424.1,60.0 424.1,58.8 424.6,58.7 424.9,59.1Z M410.9,64.4 410.6,66.2 410.3,66.9 409.9,67.0 409.9,64.4 410.0,62.1 410.3,61.6 410.6,62.2Z M415.2,63.5 415.0,64.9 414.7,65.9 414.3,65.3 414.2,63.5 414.3,61.8 414.7,61.3 415.1,61.6Z M419.7,63.6 419.3,65.8 419.0,65.7 418.5,66.2 418.4,63.6 418.5,61.2 419.0,61.0 419.3,61.8Z M424.6,61.7 424.4,63.9 423.9,64.2 423.5,63.2 423.3,61.7 423.4,59.6 423.9,58.8 424.2,60.7Z M429.2,64.4 428.9,67.0 428.2,68.2 427.9,65.8 427.0,64.4 427.6,61.7 428.2,61.6 428.9,61.9Z M413.6,66.3 413.5,67.7 413.1,68.2 412.7,67.7 412.5,66.3 412.8,65.2 413.1,63.8 413.5,64.9Z M417.3,68.5 417.3,70.7 416.9,72.1 416.5,70.5 416.5,68.5 416.4,65.8 416.9,65.9 417.3,66.0Z M422.3,68.2 422.3,69.8 421.9,70.4 421.5,69.6 421.4,68.2 421.6,67.3 421.9,65.6 422.3,66.8Z M427.0,68.0 426.5,69.6 425.6,69.9 424.8,69.5 424.2,68.0 424.8,66.5 425.6,65.8 426.3,66.5Z M412.0,71.9 411.7,73.8 411.2,75.1 410.4,75.0 410.6,71.9 410.6,69.9 411.2,68.6 411.9,69.3Z M416.6,73.2 416.2,74.2 415.3,74.2 414.2,74.4 414.0,73.2 414.4,72.2 415.3,71.9 416.1,72.2Z M420.2,71.4 420.0,73.6 419.7,75.2 419.2,74.2 419.2,71.4 419.3,69.1 419.7,67.1 420.0,69.0Z M424.2,71.1 424.2,72.2 423.5,72.7 422.9,72.1 422.9,71.1 422.8,70.0 423.5,69.5 424.2,70.1Z M428.4,72.6 428.4,75.4 427.7,76.1 427.2,74.6 427.1,72.6 426.9,69.5 427.7,69.3 428.2,70.7Z M414.0,74.6 413.1,75.4 412.6,76.4 411.6,76.2 411.6,74.6 411.8,73.3 412.6,72.9 413.4,73.2Z M418.1,76.5 417.5,77.5 416.9,78.5 416.0,77.8 415.8,76.5 416.1,75.3 416.9,74.6 417.7,75.2Z M422.3,74.6 421.8,76.1 421.3,77.5 420.9,76.1 420.4,74.6 420.7,72.7 421.3,72.5 422.0,72.7Z M425.8,76.7 425.3,78.6 424.8,79.9 424.0,79.5 423.9,76.7 424.3,74.8 424.8,73.4 425.5,74.3Z M411.9,79.6 411.4,81.5 410.7,83.0 409.7,82.6 409.9,79.6 410.0,77.4 410.7,76.0 411.6,77.1Z M415.6,78.9 415.4,80.7 415.0,81.2 414.7,80.7 414.3,78.9 414.7,77.3 415.0,76.4 415.4,77.1Z M421.5,78.5 420.7,79.4 420.2,80.7 419.6,79.7 419.3,78.5 419.4,76.8 420.2,76.9 420.8,77.2Z M425.9,79.4 425.4,81.9 424.9,82.5 424.3,82.1 424.1,79.4 424.4,76.8 424.9,75.6 425.3,77.3Z M428.8,79.5 428.7,81.3 428.4,81.9 427.9,82.0 427.9,79.5 428.1,78.0 428.4,76.4 428.8,77.3Z M414.1,82.3 413.6,84.2 412.9,85.6 412.3,83.9 411.4,82.3 412.3,80.8 412.9,79.4 413.7,80.2Z M417.7,81.9 417.2,82.6 416.7,83.4 415.9,83.1 415.6,81.9 416.1,81.2 416.7,80.5 417.5,80.7Z M420.9,82.8 420.9,84.3 420.5,84.7 420.3,83.7 420.0,82.8 420.2,81.7 420.5,80.7 420.8,81.7Z M426.4,82.7 426.4,84.4 425.9,84.7 425.6,83.9 425.5,82.7 425.3,80.7 425.9,81.2 426.3,81.4Z M414.2,86.9 414.1,89.0 413.4,89.9 412.7,88.8 412.6,86.9 412.5,84.5 413.4,84.6 414.2,84.8Z M418.1,87.8 417.5,90.3 416.7,91.4 416.0,90.0 415.3,87.8 415.8,85.3 416.7,84.4 417.4,85.6Z M421.3,87.7 421.2,88.8 420.9,89.3 420.6,88.7 420.5,87.7 420.6,86.7 420.9,86.4 421.3,86.6Z M426.0,88.8 425.7,90.4 425.0,91.2 424.3,90.1 423.8,88.8 424.2,87.3 425.0,86.3 425.7,87.3Z M417.4,89.9 417.2,92.6 416.3,92.4 415.6,92.2 415.1,89.9 415.7,87.9 416.3,86.2 416.9,87.9Z M421.2,91.8 420.8,92.8 419.9,93.4 418.9,93.0 419.1,91.8 418.8,90.4 419.9,90.1 420.7,90.9Z M425.6,91.5 425.4,92.8 424.5,93.3 423.7,92.7 423.3,91.5 423.8,90.5 424.5,89.4 425.3,90.5Z M417.7,94.6 417.3,96.1 416.8,97.8 416.4,95.8 416.2,94.6 416.2,92.6 416.8,91.8 417.2,93.6Z M420.9,95.2 421.0,98.0 420.2,98.8 419.4,98.2 419.5,95.2 419.6,92.9 420.2,91.1 421.1,92.3Z M428.2,46.3 426.9,47.2 424.0,47.8 421.1,48.4 417.3,48.5 413.8,48.1 411.6,47.3 410.8,46.3 411.7,45.3 414.1,44.6 417.5,44.2 421.1,44.2 424.6,44.5 427.0,45.3Z M426.7,46.3 426.2,47.2 424.1,47.9 420.9,48.2 417.7,48.1 414.7,47.8 412.8,47.1 412.0,46.3 412.3,45.4 414.6,44.8 417.6,44.4 421.0,44.3 423.8,44.8 425.5,45.5Z M425.6,46.3 424.8,47.0 423.3,47.6 420.7,47.9 417.9,47.9 415.3,47.6 413.7,47.0 413.2,46.3 413.5,45.6 415.1,44.9 417.8,44.6 420.6,44.7 423.1,45.0 425.2,45.6Z M424.5,46.3 424.2,46.9 422.7,47.4 420.4,47.6 418.1,47.6 415.9,47.4 414.5,46.9 413.9,46.3 414.3,45.7 416.0,45.2 418.1,45.0 420.4,44.9 422.6,45.2 424.0,45.7Z M423.4,46.3 423.2,46.8 422.0,47.2 420.2,47.4 418.3,47.3 416.7,47.1 415.5,46.8 414.9,46.3 415.4,45.8 416.6,45.4 418.3,45.2 420.2,45.2 422.0,45.4 422.9,45.8Z M422.5,46.3 422.1,46.6 421.2,46.9 420.0,47.1 418.6,47.1 417.3,46.9 416.2,46.7 415.9,46.3 416.4,45.9 417.4,45.7 418.6,45.5 420.0,45.5 421.3,45.6 422.2,45.9Z M405.8,129.9 408.7,130.2 411.5,130.3 414.4,130.2 417.2,130.2 420.0,130.0 422.9,130.4 425.7,129.8 428.6,129.9 M406.0,129.5 408.8,129.1 411.6,129.6 414.4,129.2 417.2,129.3 420.0,129.4 422.8,129.3 425.6,129.5 428.4,129.5 M407.7,128.5 410.1,128.7 412.5,128.4 414.8,128.7 417.2,128.5 419.6,129.0 421.9,128.7 424.3,128.5 426.7,128.9 M409.5,128.0 411.4,127.6 413.3,127.9 415.3,127.6 417.2,128.3 419.1,127.6 421.1,128.0 423.0,127.9 424.9,127.7 M411.1,127.0 412.7,126.8 414.2,126.7 415.7,126.8 417.2,126.6 418.7,126.7 420.2,126.9 421.7,126.8 423.3,127.1 M426.7,109.7 425.9,111.9 425.7,114.7 424.0,117.6 422.0,119.4 420.4,121.4 418.4,122.7 417.2,123.7 415.5,123.8 413.9,122.0 412.0,119.9 410.4,118.0 408.5,115.0 407.2,112.1 407.6,109.7 408.7,107.8 410.0,106.1 410.9,103.7 412.4,101.3 414.0,99.9 415.8,98.3 417.2,98.1 418.6,97.9 421.0,99.0 422.6,101.0 424.4,103.1 425.7,105.6 426.2,107.9Z M426.9,109.4 426.6,111.6 425.0,114.3 423.5,116.6 422.0,119.4 420.1,121.5 418.4,123.6 417.3,123.7 416.0,122.9 414.0,121.7 412.4,119.2 410.5,116.8 409.5,114.8 407.8,111.6 407.5,109.4 408.3,108.0 409.5,105.8 410.9,103.8 412.1,101.5 413.6,99.7 415.8,99.0 417.4,98.7 418.7,99.1 420.5,99.5 422.1,101.1 424.1,103.5 425.4,105.7 426.5,107.6Z M426.1,109.9 425.4,111.8 424.8,114.6 423.8,117.1 422.5,120.1 420.6,121.9 418.5,122.2 417.3,121.9 415.8,121.8 414.3,120.7 412.2,119.3 410.3,117.3 408.9,114.5 408.1,112.0 407.5,109.7 408.6,107.9 409.5,105.4 410.3,103.1 412.1,101.2 414.1,100.4 416.2,100.1 416.9,99.5 418.6,98.8 420.1,99.8 422.0,101.2 423.7,103.6 425.5,105.8 426.4,108.0Z M426.4,109.6 426.0,111.4 424.7,114.1 423.0,116.8 422.0,118.8 420.5,121.0 418.5,121.8 416.9,122.6 416.0,122.6 413.7,122.1 412.0,119.8 411.0,117.0 409.4,114.3 408.9,111.7 408.7,109.6 408.9,107.7 409.7,105.8 410.9,103.7 412.2,101.7 413.9,99.9 416.0,99.0 417.1,99.0 418.7,98.7 420.2,99.8 422.2,101.3 423.3,103.8 424.8,105.7 426.2,107.9Z M425.4,109.6 424.9,111.4 424.2,113.6 423.6,116.6 422.3,119.7 420.5,122.1 418.5,123.6 417.3,123.5 415.7,122.7 414.3,121.0 412.5,118.6 411.5,116.5 410.0,113.9 409.3,111.1 408.8,109.4 409.3,107.8 409.5,105.8 411.0,103.7 412.5,101.8 414.0,100.6 415.8,98.8 417.0,97.8 418.4,97.9 420.1,99.6 421.8,101.8 422.9,104.2 424.2,105.9 425.1,107.8Z M426.2,109.4 425.4,111.4 424.1,113.5 422.9,116.1 421.6,119.2 420.4,121.0 418.6,121.7 417.2,121.5 416.3,121.3 414.5,120.6 412.8,118.7 411.5,116.3 409.9,113.9 408.3,111.5 408.1,109.7 408.2,107.7 410.1,106.0 411.9,104.5 412.6,102.5 414.7,100.6 416.3,99.3 417.3,99.5 418.5,100.0 420.2,100.5 421.9,101.9 423.7,103.5 424.9,106.0 426.0,108.1Z M426.2,109.9 425.6,111.3 424.7,114.0 423.2,116.4 421.2,118.2 419.7,120.0 418.2,121.4 417.4,121.7 416.3,122.2 414.2,121.2 413.0,118.9 411.4,116.2 410.7,113.5 409.6,111.1 408.8,109.8 409.0,108.2 409.8,106.0 410.8,103.3 412.6,101.4 414.2,100.4 416.1,100.2 417.3,99.8 418.3,99.9 419.7,100.4 421.6,102.4 422.8,104.1 424.3,106.4 425.1,108.0Z M425.0,109.6 425.4,111.2 424.5,114.0 423.1,116.4 421.8,118.7 419.7,120.3 418.6,121.3 417.0,120.9 416.1,120.3 414.4,120.3 412.4,119.1 411.2,116.2 410.9,113.3 410.0,111.2 409.6,109.5 409.5,108.4 409.9,105.7 411.0,103.9 412.5,101.2 414.1,99.6 415.9,99.0 417.3,99.8 417.9,100.5 419.8,101.9 421.4,102.5 422.9,104.0 424.1,106.0 425.0,108.4Z M424.7,109.4 424.6,111.2 423.4,113.7 422.5,115.9 421.4,118.2 420.1,120.4 418.5,120.5 417.4,120.4 416.5,119.8 414.4,119.7 412.3,119.3 410.6,116.9 409.7,114.1 409.2,111.5 409.8,109.5 410.0,108.4 410.8,106.7 412.4,104.5 413.3,102.6 414.8,101.1 416.4,100.2 417.5,99.7 418.5,99.4 420.1,100.1 421.5,102.2 423.2,103.8 424.0,106.1 424.8,108.2Z M424.6,109.8 424.5,111.3 423.9,113.3 422.9,116.0 421.5,118.1 419.8,119.2 418.0,120.2 417.3,120.3 416.0,120.5 414.5,119.9 412.9,118.4 411.6,115.9 410.5,113.4 410.1,111.0 409.7,109.5 409.3,108.3 409.8,106.2 411.3,103.7 413.2,102.6 414.7,101.6 416.1,101.2 417.1,100.5 417.8,101.2 419.6,101.6 421.2,102.4 423.1,103.6 424.6,106.0 424.8,108.3Z M425.4,109.5 425.0,111.2 423.7,113.3 421.9,115.3 420.8,117.3 419.9,119.7 418.2,120.6 417.3,120.0 416.1,119.8 414.6,119.5 413.1,118.1 411.8,116.3 410.7,113.7 410.1,110.9 409.7,109.5 410.1,108.2 411.1,106.2 412.0,104.3 413.1,102.8 414.4,100.7 416.1,100.2 417.0,99.8 418.2,101.1 419.2,102.2 421.1,103.3 422.6,104.6 423.9,106.1 425.0,108.1Z M424.8,109.5 424.3,111.0 423.9,113.1 422.4,115.6 421.1,117.5 419.6,118.5 417.8,119.2 417.0,119.5 416.3,120.0 414.7,119.3 413.2,118.0 411.7,116.0 410.4,113.2 409.8,111.3 410.3,109.4 410.4,108.2 411.4,106.5 412.3,104.4 413.2,102.7 415.0,101.5 416.5,100.7 417.3,100.3 418.4,100.6 419.2,101.4 420.6,103.1 422.2,104.4 423.3,106.4 424.4,108.2Z M424.1,109.7 423.3,111.0 422.8,113.0 421.6,115.1 420.6,117.1 419.2,119.3 418.2,120.4 417.2,120.3 416.2,119.8 414.7,119.2 413.3,117.3 411.9,115.5 411.2,113.0 409.9,111.4 409.6,109.5 410.7,108.6 411.4,106.8 412.8,105.0 413.5,103.3 415.2,102.2 416.3,100.9 417.1,100.7 417.8,100.8 419.9,100.7 420.9,102.2 422.4,104.4 423.7,106.5 424.2,108.2Z M424.4,109.8 424.3,110.8 422.9,113.0 422.3,115.2 420.9,117.4 419.3,118.6 418.2,119.4 417.5,119.5 416.6,119.6 415.2,119.0 413.6,117.5 412.2,114.9 411.6,113.1 410.7,111.1 410.1,109.5 410.3,108.5 410.9,106.6 412.2,104.4 413.6,102.8 415.3,101.8 416.2,101.4 417.1,101.5 418.2,100.9 419.3,101.8 421.0,102.8 422.2,104.6 423.2,106.6 424.1,108.1Z M423.3,109.5 423.1,111.1 422.5,112.9 421.7,114.8 420.8,117.0 419.5,118.4 418.3,120.3 416.9,120.5 416.4,120.5 415.1,119.1 413.6,116.7 412.9,115.0 411.5,112.9 410.7,111.1 410.6,109.5 411.4,108.6 412.1,107.2 412.8,105.3 413.7,103.3 415.0,101.4 416.2,100.6 417.1,100.2 418.3,100.4 419.4,100.7 420.7,102.8 422.0,105.0 422.6,106.9 422.6,108.3Z M423.6,109.3 423.4,110.6 422.5,112.6 421.6,114.7 420.5,116.3 418.8,117.3 418.0,118.7 417.3,118.8 416.3,119.1 415.1,118.6 413.4,117.2 412.6,115.6 411.8,112.8 411.1,110.7 410.5,109.3 410.8,108.6 411.8,106.7 413.1,105.4 414.1,104.0 415.6,102.4 416.7,101.2 417.0,100.8 418.1,101.0 419.0,102.2 420.3,103.3 421.6,104.8 423.2,106.8 423.6,108.5Z M422.8,109.6 422.9,111.0 421.9,112.3 421.4,114.6 420.6,116.3 418.9,118.2 418.1,118.8 417.1,119.7 416.4,119.4 414.9,118.8 413.9,117.0 412.9,115.0 411.8,112.6 411.6,110.6 411.6,109.6 412.0,108.5 412.8,107.1 412.9,105.0 414.1,103.3 414.8,101.2 416.3,100.7 417.2,101.4 418.1,101.5 419.4,101.9 420.4,103.0 421.8,104.9 422.4,106.8 423.3,108.8Z M422.6,109.7 422.0,110.6 421.4,112.2 420.9,114.4 420.0,116.6 419.0,118.3 417.8,118.7 417.3,119.2 416.6,119.5 415.0,118.8 413.7,116.8 412.8,114.4 412.2,112.2 411.7,110.7 411.5,109.6 411.8,108.7 412.3,107.3 413.0,105.3 413.9,103.9 415.6,102.2 416.7,101.5 417.5,101.5 417.8,101.2 419.1,102.2 420.4,103.1 421.4,104.9 422.8,106.8 423.2,108.8Z M421.4,109.5 421.7,110.3 421.3,111.9 420.8,113.8 419.9,115.5 418.5,116.5 417.6,117.6 417.3,118.2 416.8,118.0 416.0,116.9 415.1,114.7 414.1,113.1 413.7,111.6 413.2,110.3 412.4,109.7 412.3,108.7 412.7,107.3 413.5,105.6 414.8,104.4 415.9,103.2 416.7,102.4 417.4,102.2 417.8,102.6 418.7,103.6 419.5,104.7 420.7,106.0 421.4,107.3 421.3,109.0Z M420.9,109.3 420.7,110.4 420.0,111.6 419.5,112.8 418.6,113.9 418.3,115.3 417.7,116.4 416.9,117.2 416.5,116.8 416.0,115.9 415.2,114.4 414.5,112.8 413.9,111.3 413.8,110.0 413.4,109.8 413.7,109.2 414.0,107.9 414.8,106.5 415.9,105.5 416.5,104.8 416.8,104.1 417.5,102.7 417.7,102.9 418.3,103.5 419.2,104.8 419.7,106.3 420.6,108.0 420.8,109.1Z M419.9,109.8 419.4,110.2 419.1,110.9 418.7,112.2 418.4,113.1 417.9,114.4 417.2,115.2 417.2,115.3 417.2,114.9 416.5,114.7 415.6,113.7 415.3,112.6 414.9,111.4 414.6,110.2 414.8,109.4 415.0,109.0 415.1,108.1 415.4,106.9 416.3,105.7 416.5,105.1 417.1,104.2 417.4,104.1 417.2,104.4 417.9,105.0 418.5,105.8 419.2,107.2 419.7,107.8 419.7,109.1Z M418.7,109.8 418.7,110.1 418.4,110.9 418.3,111.2 418.0,112.0 417.6,112.9 417.5,113.9 417.0,114.4 416.9,114.1 416.8,113.3 416.5,112.6 416.2,111.6 415.8,110.6 415.6,109.8 415.6,109.7 415.6,109.0 416.3,108.6 416.0,107.9 416.8,106.9 417.1,106.1 416.9,105.2 417.0,105.3 417.3,105.7 417.3,105.6 417.6,106.5 418.4,107.7 418.1,108.6 418.4,109.1Z M450.2,130.0 451.8,130.2 453.4,130.1 455.0,130.2 456.6,130.3 458.2,129.8 459.8,129.7 461.4,130.3 463.0,130.3 M450.2,129.1 451.8,129.2 453.4,129.6 455.0,129.1 456.6,129.6 458.2,129.2 459.8,129.5 461.4,129.1 463.0,129.4 M451.5,128.8 452.7,128.2 454.0,128.7 455.3,128.8 456.6,128.5 457.9,128.3 459.2,128.7 460.5,128.5 461.7,128.4 M452.1,127.9 453.2,127.7 454.3,127.4 455.5,127.4 456.6,127.8 457.7,127.4 458.9,127.8 460.0,127.5 461.1,127.9 M464.0,110.7 464.2,113.2 463.4,116.6 462.5,119.9 460.7,121.9 459.0,123.4 457.5,124.9 456.9,125.7 455.3,125.6 453.8,124.4 452.3,122.0 451.3,119.4 450.1,116.0 449.8,113.0 449.7,110.5 449.9,109.3 450.1,107.3 451.2,105.0 452.1,102.6 453.5,101.0 455.4,100.6 456.9,100.8 457.6,102.0 459.2,103.0 460.3,103.8 462.1,105.1 463.0,107.0 463.8,109.3Z M462.9,111.1 463.1,113.3 462.8,116.1 461.9,119.1 460.4,121.5 459.1,123.4 457.5,124.8 456.7,125.2 455.3,124.8 454.2,123.7 452.5,122.1 451.1,119.5 450.1,116.2 449.8,112.9 449.6,111.0 450.1,109.4 450.3,106.9 451.4,105.5 452.9,103.4 454.4,102.5 455.5,100.7 456.7,100.6 457.5,101.0 458.9,101.8 460.8,103.5 461.9,104.8 462.7,107.0 463.1,109.2Z M463.6,110.9 463.2,112.8 462.6,115.6 461.4,118.8 460.2,121.3 458.9,122.8 457.4,124.7 456.8,124.7 455.4,124.1 454.2,122.9 452.7,121.3 451.3,118.6 450.7,115.9 450.0,112.9 450.4,110.9 450.3,109.6 450.4,107.2 451.2,105.5 452.7,103.7 454.2,101.9 455.6,100.9 456.6,100.9 457.8,101.4 459.1,102.9 460.2,103.9 461.5,105.3 462.7,107.5 463.3,109.2Z M463.1,111.0 462.7,112.9 462.2,115.4 461.2,118.3 460.2,120.7 458.7,122.8 457.7,123.5 456.5,123.7 455.6,123.3 454.5,122.8 453.0,120.9 451.6,119.0 450.5,115.7 450.2,112.8 450.1,111.0 450.9,109.5 451.5,108.0 452.2,105.8 452.8,103.8 453.9,102.2 455.3,101.7 456.5,101.3 457.5,101.2 459.0,102.1 460.5,103.4 461.3,105.9 462.0,107.5 462.7,109.1Z M463.0,110.6 462.8,112.9 462.8,115.6 461.6,118.2 460.4,120.8 458.7,122.2 457.7,122.7 456.8,123.0 455.5,123.2 454.5,122.7 452.9,120.4 452.2,117.5 451.5,114.9 450.9,112.5 450.2,110.6 450.4,109.6 450.8,107.6 451.7,105.4 452.6,103.3 454.4,101.9 455.5,101.7 456.4,102.0 457.5,102.3 458.8,103.1 460.3,104.1 461.2,106.1 461.8,107.5 462.3,109.4Z M462.5,111.1 462.3,112.4 462.0,114.8 461.3,118.0 460.4,120.5 459.0,122.5 457.7,122.8 456.8,122.7 455.7,122.1 454.8,121.7 453.2,120.0 452.4,117.6 451.3,114.9 450.5,112.8 450.3,110.6 450.4,109.6 451.1,107.5 452.2,105.7 453.2,104.1 454.7,102.9 455.7,102.1 456.3,102.2 457.7,102.0 458.7,103.3 460.1,104.7 461.2,106.3 461.7,108.0 462.8,109.6Z M462.3,110.7 461.9,112.5 461.4,114.7 460.7,117.2 459.9,120.0 458.9,121.8 457.6,122.6 456.4,122.9 455.5,122.7 454.9,121.3 453.4,119.0 452.8,117.0 451.5,115.0 451.1,112.8 451.0,111.0 451.3,109.8 451.5,107.9 452.4,106.2 453.1,104.1 454.6,102.9 455.7,102.2 456.8,102.3 457.2,102.7 458.6,103.8 459.8,104.5 460.9,105.8 461.7,107.5 462.3,109.3Z M461.6,110.6 461.6,112.3 461.5,114.7 460.5,116.9 459.8,119.2 458.2,120.6 457.1,121.9 456.4,122.5 455.7,122.6 454.5,120.7 453.4,118.9 452.6,117.2 451.8,114.6 450.9,112.5 451.4,110.6 451.7,109.6 452.2,108.4 452.4,106.5 453.7,104.7 454.8,104.0 455.8,103.0 456.6,101.9 457.6,101.7 458.9,102.5 459.8,104.3 460.7,106.4 461.4,108.3 462.1,109.4Z M462.3,110.6 462.0,112.2 461.7,114.6 460.6,116.5 459.3,118.5 458.4,119.9 457.6,121.1 456.6,121.4 455.8,120.5 454.7,120.0 454.1,118.5 452.5,116.6 451.7,114.3 451.1,112.2 451.0,111.0 451.2,109.9 451.7,107.7 453.0,106.6 454.1,105.2 455.1,103.9 456.0,103.1 456.6,102.5 457.3,102.7 458.3,103.9 459.5,105.1 460.3,106.5 461.0,108.2 461.5,109.9Z M461.6,110.6 461.7,112.4 461.2,114.2 460.4,116.3 459.2,118.9 458.5,120.5 457.3,121.3 456.5,121.4 456.2,121.1 455.3,119.4 454.1,117.9 453.6,116.1 452.5,114.0 451.5,112.1 451.1,110.5 451.6,109.5 452.3,108.4 453.1,106.9 454.1,104.8 454.8,103.7 455.8,103.5 456.8,103.2 457.4,103.0 458.1,103.9 459.0,105.4 459.9,106.6 461.0,108.6 461.2,110.0Z M461.2,111.0 461.3,112.0 461.0,114.3 459.8,115.9 459.1,117.8 458.1,119.3 457.0,120.6 456.7,121.3 456.1,120.4 454.9,119.5 454.2,117.9 453.2,116.0 452.2,114.3 451.7,112.3 451.9,110.5 452.0,109.8 452.3,108.3 453.2,106.8 454.3,105.3 455.3,103.9 456.1,103.1 456.7,103.5 457.4,103.6 458.3,104.1 459.6,104.8 460.6,106.1 461.3,108.2 461.0,110.1Z M460.7,110.8 460.8,112.0 460.1,113.6 459.7,115.8 458.9,117.7 457.9,119.6 457.4,120.4 456.9,120.8 456.3,120.6 455.3,119.7 454.0,117.9 453.3,115.5 452.8,113.7 452.3,111.7 452.5,111.0 452.1,109.7 452.5,108.5 453.7,106.7 454.2,105.2 455.2,103.8 456.1,102.8 456.9,103.5 456.9,103.7 458.2,104.7 459.0,105.6 460.1,106.7 460.3,108.4 460.7,109.9Z M461.1,110.6 460.8,111.7 460.5,113.8 459.4,115.3 458.8,117.0 457.6,118.2 457.2,119.5 456.6,119.9 456.0,119.6 455.2,118.5 454.3,117.6 453.2,115.7 452.6,114.0 452.1,111.8 452.4,110.9 452.0,110.0 452.7,108.2 453.4,107.0 454.5,106.1 455.6,105.2 456.1,104.0 456.7,103.7 457.0,104.2 457.7,104.8 458.6,105.8 459.6,107.0 460.3,108.3 461.1,110.0Z M460.1,111.0 459.7,111.9 459.5,112.9 459.2,114.8 458.7,116.2 457.9,117.8 456.9,118.2 456.7,118.7 456.1,118.6 455.4,118.2 455.0,116.3 454.3,114.6 453.9,113.2 453.6,111.9 453.0,111.1 453.1,109.9 453.6,108.6 454.3,107.8 455.0,106.0 455.6,104.9 456.2,104.8 456.4,104.1 456.9,104.3 457.6,104.9 458.2,106.2 459.1,107.7 459.4,109.2 460.0,110.2Z M459.3,110.6 459.4,111.5 458.9,112.5 458.2,113.8 457.6,114.8 457.2,116.0 456.7,117.0 456.5,117.4 456.6,117.2 456.0,116.6 455.3,115.7 454.3,114.2 453.9,112.8 453.8,111.4 453.6,111.1 453.7,110.0 454.1,109.1 454.5,108.2 455.3,106.8 456.1,105.9 456.6,105.7 456.6,105.5 456.6,105.4 457.5,106.2 457.8,106.6 458.4,107.9 459.3,109.0 459.5,110.2Z M458.6,111.0 458.6,111.5 458.4,112.4 458.3,113.3 457.6,114.5 456.8,115.4 456.6,115.5 456.4,116.1 456.6,115.7 456.1,115.3 455.6,114.3 455.0,113.8 454.7,112.4 454.7,111.3 454.6,110.9 454.6,110.5 454.7,109.3 455.2,108.6 455.7,107.3 456.1,107.1 456.2,106.2 456.5,105.7 456.9,105.8 456.9,106.6 457.8,107.3 457.8,108.4 458.3,109.7 458.7,110.4Z M457.7,111.1 458.0,111.2 457.4,111.8 457.4,112.6 457.2,113.8 456.7,114.4 457.0,115.0 456.8,114.9 456.3,114.9 456.6,114.3 455.8,113.9 455.5,112.7 455.8,111.9 455.1,111.0 455.4,110.9 455.0,110.4 455.4,109.5 455.5,108.7 456.0,108.4 456.2,107.8 456.2,107.0 456.4,106.2 456.6,106.7 457.0,107.1 457.3,108.2 457.7,109.0 457.5,109.9 458.1,110.7Z"/></g>
<g clip-path="url(#cp10)"><path class="cl" d="M87.1,133.3 86.8,136.9 86.6,140.5 87.8,144.2 87.7,147.8 88.7,151.4 88.4,155.0 87.5,158.7 87.0,162.3 86.9,165.9 87.0,169.5 87.2,173.2 88.1,176.8 90.1,180.4 91.1,184.0 92.2,187.6 92.4,191.3 100.5,191.3 102.2,187.6 104.4,184.0 105.5,180.4 107.3,176.8 108.4,173.2 108.6,169.5 107.5,165.9 107.6,162.3 106.7,158.7 107.2,155.0 107.1,151.4 107.4,147.8 108.4,144.2 108.0,140.5 108.9,136.9 108.3,133.3Z M90.9,134.4 90.2,137.9 90.2,141.5 90.4,145.0 90.3,148.6 91.1,152.2 91.0,155.7 91.5,159.3 90.7,162.8 89.8,166.4 89.4,169.9 89.5,173.5 89.8,177.0 90.7,180.6 92.4,184.2 94.0,187.7 94.5,191.3 99.9,191.3 101.8,187.7 102.8,184.2 103.7,180.6 104.3,177.0 104.3,173.5 104.6,169.9 104.3,166.4 104.4,162.8 104.6,159.3 105.2,155.7 105.5,152.2 105.6,148.6 105.0,145.0 104.8,141.5 103.9,137.9 103.7,134.4Z M121.1,218.5 119.7,221.0 116.7,223.1 112.0,224.6 107.1,225.7 101.9,226.7 95.9,227.4 89.3,227.1 82.9,226.1 77.1,224.2 74.4,221.4 76.6,218.5 81.2,216.4 84.0,214.6 85.7,212.2 89.6,210.1 95.8,209.5 102.1,209.9 108.3,210.2 115.0,211.0 120.0,213.0 121.5,215.8Z M117.3,218.5 116.4,220.6 113.2,222.2 109.5,223.4 106.4,225.1 102.0,227.0 95.8,227.6 90.2,226.3 86.7,224.3 83.8,222.5 81.7,220.6 81.7,218.5 83.0,216.6 84.3,214.7 86.4,212.6 90.7,211.1 96.2,210.6 101.7,210.7 107.3,211.1 112.1,212.3 115.1,214.3 116.5,216.4Z M114.8,218.5 114.7,220.4 113.6,222.3 110.1,223.7 105.2,224.0 101.0,224.1 96.9,224.4 92.6,224.2 89.4,223.0 87.5,221.5 85.2,220.2 82.6,218.5 82.1,216.5 84.2,214.6 87.8,213.2 92.2,212.5 96.9,212.6 100.8,213.4 104.3,213.8 108.6,214.0 112.8,214.9 114.7,216.6Z M124.0,194.5 124.1,196.0 121.2,196.9 118.2,197.5 114.6,197.8 111.0,197.3 108.3,196.1 109.8,194.5 111.3,193.5 110.9,191.7 114.4,190.8 118.3,191.4 121.6,191.9 123.3,193.2Z M120.2,194.5 120.4,195.2 119.5,196.0 117.4,196.2 115.7,195.8 114.4,195.6 113.1,195.2 111.9,194.5 112.6,193.7 114.4,193.4 115.6,192.9 117.5,192.7 118.8,193.4 119.5,193.9Z"/><path class="cm" d="M90.7,138.3 90.5,141.1 89.6,141.5 89.1,140.2 88.6,138.3 88.8,135.5 89.6,134.8 90.1,136.6Z M93.1,136.5 92.5,138.5 91.8,139.2 90.6,139.9 90.8,136.5 91.0,134.1 91.8,133.6 92.8,133.6Z M99.7,136.9 98.8,138.3 98.2,139.5 97.3,138.9 96.9,136.9 97.3,135.0 98.2,134.4 98.9,135.2Z M101.8,137.2 101.5,139.6 100.8,140.9 100.1,139.7 99.5,137.2 100.1,134.8 100.8,134.4 101.8,133.9Z M103.5,138.5 103.1,139.7 102.4,140.5 101.5,140.0 101.3,138.5 101.5,137.1 102.4,136.8 103.4,136.9Z M106.5,136.7 105.7,138.8 105.0,138.9 104.2,138.8 103.5,136.7 104.3,135.0 105.0,133.7 105.5,135.2Z M89.4,142.5 89.3,144.2 89.0,144.3 88.6,144.2 88.4,142.5 88.7,141.4 89.0,140.6 89.3,140.6Z M91.5,142.1 91.6,144.7 90.9,146.2 90.5,143.9 90.0,142.1 90.4,140.0 90.9,138.5 91.6,139.6Z M95.8,142.2 95.8,144.1 95.3,144.5 94.8,144.3 94.8,142.2 95.0,140.6 95.3,139.7 95.8,140.2Z M98.8,142.4 98.7,144.6 98.3,147.2 97.9,145.1 98.0,142.4 97.8,139.3 98.3,138.2 98.7,140.1Z M101.6,142.2 101.3,143.8 100.7,143.8 100.2,143.5 99.8,142.2 100.2,141.0 100.7,140.1 101.2,141.1Z M90.1,144.9 90.3,146.8 89.8,146.6 89.6,146.1 89.4,144.9 89.5,143.5 89.8,142.9 90.1,143.7Z M97.0,144.4 96.9,145.9 96.3,145.9 95.5,146.2 95.6,144.4 95.8,143.2 96.3,142.4 96.9,142.9Z M99.0,144.6 98.6,145.7 98.2,145.9 97.8,145.4 97.3,144.6 97.6,143.4 98.2,143.5 98.6,143.6Z M101.4,144.9 101.1,146.7 100.4,146.8 99.9,146.2 99.3,144.9 99.8,143.3 100.4,142.5 100.9,143.7Z M104.0,145.4 103.9,146.7 103.0,146.8 102.1,146.6 101.5,145.4 102.2,144.5 103.0,144.0 103.9,144.1Z M89.9,147.8 89.5,149.6 89.0,150.3 88.2,150.5 88.2,147.8 88.3,145.4 89.0,145.6 89.7,145.2Z M92.5,149.9 91.9,151.4 91.3,152.0 90.3,152.1 90.3,149.9 90.6,148.4 91.3,147.7 92.2,148.0Z M95.2,150.4 94.4,152.8 93.6,153.9 92.6,153.3 92.5,150.4 92.3,146.8 93.6,147.8 94.4,148.0Z M97.6,147.7 96.8,149.0 96.0,149.4 95.4,148.7 94.5,147.7 95.2,146.4 96.0,145.9 96.6,146.7Z M99.6,148.9 99.6,150.6 99.0,150.6 98.7,149.9 98.2,148.9 98.6,147.7 99.0,146.8 99.4,147.8Z M100.8,150.1 100.8,152.1 100.3,153.8 99.7,152.2 99.6,150.1 99.7,148.0 100.3,147.0 101.0,147.4Z M93.3,152.5 93.2,153.6 92.8,154.5 92.5,153.5 92.5,152.5 92.3,151.0 92.8,151.1 93.2,151.6Z M96.0,153.0 95.9,154.9 95.2,155.3 94.4,155.2 94.2,153.0 94.6,151.4 95.2,150.6 96.1,150.4Z M97.4,153.6 97.1,155.1 96.5,155.0 95.9,154.8 95.5,153.6 96.0,152.6 96.5,151.6 96.9,152.6Z M103.6,152.7 103.3,153.7 103.0,154.5 102.6,153.9 102.3,152.7 102.7,151.6 103.0,151.4 103.5,150.9Z M89.4,156.2 89.3,158.3 89.0,159.5 88.6,158.8 88.5,156.2 88.7,154.2 89.0,153.2 89.4,153.4Z M98.6,156.6 98.1,158.5 97.6,159.3 96.8,159.4 96.6,156.6 97.2,155.1 97.6,153.4 98.3,154.2Z M100.9,156.7 100.3,159.0 99.4,159.1 98.3,159.7 98.2,156.7 98.6,154.6 99.4,153.7 100.3,154.3Z M101.7,158.8 101.6,161.2 101.1,160.8 100.6,160.7 100.2,158.8 100.6,156.8 101.1,156.6 101.5,156.5Z M104.0,158.9 104.1,161.9 103.5,162.6 103.0,160.9 102.7,158.9 102.8,156.1 103.5,155.5 104.0,156.2Z M105.8,157.2 105.3,158.2 104.9,158.4 104.3,158.7 104.3,157.2 104.3,155.8 104.9,156.0 105.4,156.1Z M89.0,163.1 89.0,164.8 88.5,165.8 88.1,164.5 87.9,163.1 88.1,161.6 88.5,160.6 89.0,161.4Z M94.3,162.4 94.1,163.7 93.5,163.8 93.0,163.5 92.7,162.4 92.9,161.0 93.5,161.2 94.1,161.1Z M96.0,161.9 95.5,164.3 95.0,164.5 94.3,164.9 94.3,161.9 94.4,159.1 95.0,158.9 95.5,159.9Z M106.7,161.4 106.3,163.7 105.8,164.5 105.3,163.9 105.1,161.4 105.2,158.2 105.8,158.8 106.3,159.0Z M94.3,166.4 93.7,167.7 93.4,169.7 92.8,168.7 92.6,166.4 92.8,164.3 93.4,163.5 93.9,164.3Z M99.1,164.5 98.8,165.3 98.5,167.3 98.1,165.9 98.0,164.5 98.1,163.2 98.5,162.0 98.9,163.1Z M101.7,166.6 101.2,168.8 100.5,169.9 99.6,169.3 99.1,166.6 100.0,165.1 100.5,162.4 101.3,164.1Z M105.1,164.6 104.8,165.4 104.4,166.0 103.9,165.5 103.7,164.6 104.0,163.8 104.4,162.8 104.7,163.8Z M107.1,165.6 107.1,167.7 106.5,168.5 106.3,166.5 105.6,165.6 106.0,163.8 106.5,163.1 106.9,164.0Z M90.5,169.5 90.1,171.0 89.6,172.6 89.0,171.5 89.2,169.5 89.0,167.3 89.6,166.5 90.0,168.1Z M93.2,169.6 92.5,170.3 92.0,171.6 91.1,170.8 91.0,169.6 91.4,168.8 92.0,167.9 92.8,168.5Z M95.0,171.2 94.7,172.1 94.0,172.2 93.2,172.2 92.7,171.2 93.5,170.5 94.0,169.8 94.7,170.2Z M96.6,169.1 96.2,170.4 95.8,170.7 95.2,170.6 95.1,169.1 95.2,167.5 95.8,167.6 96.3,167.6Z M100.3,171.1 100.4,174.1 99.8,174.3 99.3,173.2 99.0,171.1 99.3,168.8 99.8,167.7 100.3,168.6Z M103.2,170.0 102.6,171.3 102.0,171.7 101.4,171.4 101.1,170.0 101.4,168.6 102.0,168.3 102.5,168.9Z M105.6,169.9 104.9,171.7 104.4,172.9 103.7,172.8 103.7,169.9 103.8,167.5 104.4,166.8 105.0,168.0Z M90.9,173.9 90.5,174.9 90.0,175.7 89.6,174.7 89.3,173.9 89.3,172.6 90.0,172.5 90.5,173.0Z M97.9,173.2 97.4,175.5 96.6,176.3 95.8,175.2 95.3,173.2 95.7,170.8 96.6,169.8 97.2,171.4Z M99.1,174.9 99.2,177.6 98.7,178.2 98.2,177.9 98.2,174.9 98.3,172.6 98.7,171.7 99.3,171.7Z M104.4,175.3 104.1,176.7 103.3,177.7 102.6,176.7 102.3,175.3 102.5,173.8 103.3,173.0 104.0,174.0Z M106.4,172.7 105.8,173.5 105.2,174.0 104.6,173.6 104.3,172.7 104.5,171.6 105.2,171.5 105.8,171.9Z M92.2,179.1 91.8,180.7 91.0,181.0 90.2,180.6 89.5,179.1 90.1,177.5 91.0,178.0 92.1,177.1Z M94.7,179.8 94.2,181.2 93.8,183.2 93.1,182.3 92.9,179.8 93.4,178.4 93.8,176.2 94.4,177.5Z M96.6,179.2 96.2,180.8 95.9,182.9 95.4,181.8 95.3,179.2 95.4,176.9 95.9,176.4 96.4,176.3Z M100.9,178.3 101.1,180.2 100.1,179.7 99.5,179.7 99.0,178.3 99.4,176.8 100.1,176.4 100.9,176.7Z M102.1,179.6 102.0,182.1 101.6,183.3 101.2,181.8 101.2,179.6 101.1,176.8 101.6,176.1 102.0,177.4Z M94.1,182.8 94.0,184.8 93.2,185.2 92.5,184.7 92.1,182.8 92.5,180.9 93.2,180.9 94.2,180.4Z M97.1,182.8 97.1,184.6 96.4,185.5 95.8,184.4 95.9,182.8 95.5,180.6 96.4,180.9 97.1,181.1Z M99.0,183.5 98.5,184.6 98.2,185.7 97.6,185.4 97.6,183.5 97.7,182.2 98.2,181.4 98.7,182.0Z M100.4,182.2 100.3,183.5 99.9,183.7 99.4,183.6 99.5,182.2 99.4,181.0 99.9,180.4 100.3,181.2Z M102.7,184.1 102.3,184.8 102.0,185.6 101.5,185.3 101.3,184.1 101.7,183.4 102.0,182.3 102.4,183.1Z M95.0,187.4 94.9,189.8 94.4,190.7 94.0,189.3 93.8,187.4 93.9,185.0 94.4,184.3 94.8,185.5Z M97.6,185.1 97.4,187.2 96.9,187.4 96.5,187.2 96.3,185.1 96.5,183.0 96.9,182.8 97.4,183.1Z M105.4,197.5 105.0,199.0 104.7,199.4 104.3,199.1 104.0,197.5 104.3,196.0 104.7,195.4 104.9,196.4Z M95.2,204.5 95.2,206.8 94.4,206.6 93.9,206.1 93.7,204.5 93.7,202.0 94.4,202.3 94.9,203.0Z M88.9,206.3 88.6,207.3 88.0,207.8 87.5,207.1 87.1,206.3 87.4,205.4 88.0,204.7 88.4,205.6Z M106.0,199.0 105.7,200.2 104.9,201.7 104.1,200.4 103.9,199.0 104.1,197.6 104.9,196.3 105.8,197.6Z M87.6,208.2 87.5,209.3 87.2,210.0 86.8,209.4 86.7,208.2 86.9,207.4 87.2,206.4 87.6,206.9Z M97.6,198.9 97.4,200.1 97.0,201.1 96.6,200.0 96.5,198.9 96.3,197.3 97.0,197.3 97.4,197.8Z M100.1,206.1 100.0,207.6 99.1,207.0 98.2,207.5 98.1,206.1 98.5,205.1 99.1,204.3 99.7,205.1Z M107.6,201.1 107.3,202.5 106.6,203.4 106.1,202.1 105.5,201.1 105.9,199.7 106.6,198.8 107.2,199.8Z M91.8,203.8 91.9,204.6 91.1,204.4 90.4,204.3 90.1,203.8 90.5,203.2 91.1,202.9 91.7,203.2Z M90.8,199.6 90.9,200.5 90.0,200.6 89.3,200.3 89.2,199.6 89.1,198.7 90.0,198.6 90.7,198.9Z M92.9,214.2 92.7,214.9 92.0,215.2 91.2,215.0 91.1,214.2 91.3,213.5 92.0,213.2 92.9,213.3Z M100.7,188.1 100.6,188.8 99.6,189.1 98.7,188.8 98.7,188.1 98.4,187.3 99.6,187.3 100.4,187.6Z M106.5,208.8 106.1,210.3 105.3,211.3 104.6,210.1 104.3,208.8 104.2,206.8 105.3,207.3 106.2,207.2Z M90.9,198.7 90.5,199.5 90.1,199.9 89.6,199.5 89.3,198.7 89.7,198.1 90.1,197.5 90.5,198.0Z M111.3,200.9 111.3,206.3 110.6,212.4 108.9,217.6 106.2,221.3 103.1,223.9 99.8,226.0 96.5,228.3 93.1,227.8 89.7,225.1 87.3,221.2 84.1,217.6 81.6,213.0 80.3,207.3 79.7,200.8 80.5,197.8 81.7,194.9 84.4,192.1 87.4,190.8 90.4,190.0 93.3,188.9 96.2,187.9 99.8,187.4 103.6,188.0 107.0,189.3 109.9,191.6 112.0,194.4 112.2,197.9Z M112.3,200.9 111.3,205.5 110.1,210.5 107.7,214.7 105.5,218.4 102.4,221.0 99.6,222.8 96.5,223.7 93.7,223.1 90.2,220.8 88.0,217.6 85.9,213.6 84.0,209.6 82.4,205.4 81.0,200.8 81.2,198.3 82.6,195.2 84.5,192.6 87.2,190.5 89.9,188.1 93.4,187.8 96.4,188.5 99.1,189.3 102.3,190.5 105.0,191.4 107.7,192.8 110.0,195.4 111.7,197.8Z M109.6,201.1 109.7,204.8 109.5,209.3 108.1,214.6 106.2,218.6 102.7,220.9 99.2,221.0 96.2,220.3 94.1,219.2 91.3,218.2 88.6,215.6 86.2,212.8 84.4,208.8 82.3,204.8 82.1,200.7 82.6,198.2 84.4,195.8 86.0,193.5 88.3,191.3 90.6,189.1 93.9,188.0 96.6,188.1 99.0,188.8 101.9,189.8 104.5,191.2 107.0,193.6 108.7,196.3 109.2,198.8Z M110.4,201.1 109.8,204.7 107.9,208.3 105.5,210.7 103.8,214.0 101.3,217.3 99.0,219.3 96.2,219.3 94.3,218.6 91.4,217.4 88.3,216.0 86.1,212.5 84.3,208.7 84.4,204.5 84.0,200.8 84.2,198.4 84.8,195.9 86.3,193.7 88.4,191.8 91.5,190.1 93.8,189.5 96.5,189.6 98.8,189.8 101.4,190.3 104.1,191.6 106.6,193.5 108.7,196.2 110.0,198.4Z M109.0,201.2 108.9,204.3 107.4,208.0 105.7,211.1 103.3,213.4 101.0,215.5 98.5,217.1 96.2,218.3 94.0,218.3 92.0,216.3 90.0,212.5 88.5,209.8 87.1,207.0 85.0,204.0 83.9,201.0 84.1,198.8 84.8,196.0 86.5,193.7 88.7,191.5 91.6,190.4 94.3,189.9 96.5,190.2 98.7,190.7 100.6,191.4 103.2,193.0 105.4,194.7 107.1,196.6 108.5,198.8Z M108.5,200.7 108.0,203.8 106.8,207.2 104.9,209.7 102.3,211.6 100.2,213.4 97.9,214.6 96.6,215.6 94.8,216.1 92.3,215.3 89.7,213.7 87.5,210.5 86.7,207.1 86.1,203.7 86.0,201.2 85.5,199.0 86.5,196.8 87.9,194.7 90.5,193.0 92.2,191.5 94.9,190.4 96.2,190.0 98.4,190.5 100.5,191.8 102.8,192.9 104.7,194.6 106.5,196.7 107.8,199.2Z M147.1,200.3 146.5,206.2 145.9,212.0 144.3,218.1 141.8,222.6 139.3,224.7 136.4,225.5 133.3,226.6 130.6,227.5 127.8,225.5 125.3,221.4 123.8,216.5 121.8,211.4 120.2,206.4 119.6,200.2 120.7,196.8 121.8,194.5 122.7,190.9 124.5,187.9 127.6,186.3 130.5,185.7 133.4,186.3 135.9,187.5 138.5,188.6 141.3,189.6 144.0,191.6 146.0,193.6 147.5,196.8Z M146.8,199.7 146.5,205.4 145.7,210.8 143.8,214.8 141.1,217.1 138.4,219.0 135.7,221.6 133.3,224.3 130.7,224.3 128.4,221.3 125.9,217.7 124.5,213.9 122.5,209.9 120.3,205.4 120.1,199.9 119.9,196.7 121.4,193.9 123.4,191.6 126.1,189.8 128.2,188.5 131.0,187.2 133.5,187.0 135.9,187.7 138.9,188.4 141.4,189.7 143.8,191.6 145.3,194.0 146.5,197.4Z M144.8,199.9 144.9,204.1 144.8,208.9 143.2,214.1 141.0,217.7 139.0,220.7 136.1,222.1 133.6,222.0 130.9,220.7 128.5,218.4 126.4,216.6 124.2,213.1 122.7,208.8 122.9,204.3 122.3,199.8 122.2,197.5 122.4,194.6 123.4,191.3 125.8,189.3 128.4,187.6 130.9,186.8 133.4,186.7 136.1,187.5 138.0,189.1 140.3,190.5 142.5,192.5 144.2,194.9 145.1,197.2Z M145.2,200.2 144.5,203.6 143.5,207.5 142.0,211.4 140.0,215.0 138.2,217.9 135.5,219.8 133.8,220.9 131.5,220.0 129.0,216.5 127.6,214.0 125.1,211.5 122.9,208.3 121.4,204.4 121.3,200.0 122.0,197.3 123.0,195.2 125.0,192.8 127.0,190.7 128.9,189.8 131.5,188.8 133.6,187.9 135.9,188.0 138.2,188.8 140.4,190.8 142.3,192.2 144.5,194.9 145.3,197.6Z M144.5,199.7 144.0,203.2 142.8,206.8 141.0,210.5 139.2,213.2 137.8,216.1 135.3,217.9 133.5,219.2 131.7,218.8 128.9,216.8 127.1,214.6 125.1,211.1 124.0,207.0 122.7,203.5 122.5,199.8 123.5,197.7 124.5,195.9 125.4,193.1 126.9,190.9 129.3,189.2 131.4,188.2 133.5,188.3 135.2,189.0 137.9,189.6 139.7,190.8 141.7,193.1 143.1,195.0 144.2,197.7Z"/><path class="ct" d="M105.8,136.3 105.3,137.3 102.4,138.0 99.3,138.3 95.8,138.5 92.5,138.0 90.2,137.3 89.4,136.3 90.3,135.3 92.5,134.6 95.8,134.2 99.3,134.2 102.7,134.5 104.7,135.3Z M103.8,136.3 103.3,137.0 101.5,137.6 99.1,138.1 96.0,138.1 93.6,137.7 91.8,137.0 91.1,136.3 91.9,135.5 93.5,134.9 96.1,134.5 99.1,134.5 101.8,134.8 103.3,135.5Z M102.3,136.3 102.2,136.9 100.9,137.4 98.7,137.7 96.5,137.6 94.6,137.3 93.1,136.9 92.5,136.3 92.9,135.7 94.3,135.2 96.5,135.0 98.7,135.0 100.8,135.2 102.1,135.7Z M101.0,136.3 100.8,136.7 99.8,137.1 98.4,137.2 96.8,137.2 95.5,137.0 94.5,136.7 93.9,136.3 94.4,135.9 95.4,135.5 96.8,135.3 98.4,135.3 99.7,135.5 100.6,135.9Z M84.8,219.9 87.7,220.3 90.7,220.4 93.6,220.2 96.5,220.4 99.4,220.0 102.3,219.8 105.3,220.1 108.2,220.4 M85.1,219.4 87.9,219.2 90.8,219.3 93.6,219.1 96.5,219.2 99.4,219.6 102.2,219.6 105.1,219.4 107.9,219.4 M87.0,218.9 89.4,218.3 91.8,218.9 94.1,218.4 96.5,218.3 98.9,218.3 101.2,218.5 103.6,218.8 106.0,218.4 M107.7,201.2 106.8,203.1 106.1,206.0 104.3,209.0 102.4,211.1 100.0,212.6 97.8,214.0 96.7,214.4 95.2,214.4 92.7,213.3 90.7,211.4 88.8,208.9 88.0,206.2 86.8,203.0 85.8,200.7 86.1,199.2 86.9,197.1 88.9,195.3 90.7,193.5 92.9,192.4 94.9,191.0 96.4,190.7 97.9,191.4 99.7,192.6 102.0,193.8 103.8,195.2 105.5,197.2 107.3,199.1Z M106.1,200.8 106.1,202.9 104.7,205.5 103.4,208.0 102.2,210.9 100.6,213.6 98.3,215.2 96.7,214.6 94.8,213.7 93.2,212.0 91.7,210.3 89.9,207.8 88.9,205.0 87.5,203.0 86.2,201.1 86.3,199.3 87.5,197.2 89.8,195.4 91.3,193.8 93.1,192.4 95.3,191.8 96.3,191.2 98.3,191.2 100.4,191.7 102.2,193.8 103.3,195.7 104.3,198.0 105.2,199.2Z M104.7,200.7 104.8,202.9 104.7,205.5 103.4,208.0 101.4,210.1 99.4,211.6 97.7,212.9 96.2,213.3 95.2,212.8 93.1,211.8 91.7,210.4 89.8,207.9 88.2,205.6 87.5,202.8 87.6,200.7 87.7,199.4 88.8,197.7 90.4,196.1 92.2,194.4 93.5,193.1 94.9,191.7 96.5,190.8 97.8,191.2 99.9,192.5 101.5,194.0 103.0,196.1 103.9,198.0 104.7,199.7Z M104.6,201.0 104.3,202.6 103.5,204.8 102.2,207.0 101.2,209.0 99.2,211.5 97.6,212.9 96.6,213.8 95.0,212.7 93.5,211.2 92.4,208.9 90.8,206.8 89.6,204.5 88.8,202.6 88.2,201.0 88.1,199.4 89.0,198.0 90.8,196.3 92.0,194.4 93.3,192.9 95.1,192.0 96.7,192.1 97.9,192.5 99.6,193.0 101.1,194.2 102.6,196.1 103.1,198.1 104.3,199.8Z M103.9,200.9 103.9,202.2 103.3,204.8 102.7,207.4 101.1,209.6 99.5,210.8 97.5,211.0 96.6,211.1 95.4,211.1 93.8,210.7 92.4,209.2 90.8,206.5 90.1,204.3 89.9,202.6 89.4,201.2 89.2,199.8 89.4,198.2 90.5,196.1 91.9,194.4 93.8,193.4 95.4,192.6 96.4,192.1 97.6,192.3 99.0,193.3 100.2,195.1 101.6,196.8 102.8,198.1 103.4,200.1Z M103.2,200.9 103.2,202.3 102.4,204.4 102.2,206.8 100.3,209.0 98.6,209.5 97.5,210.3 96.7,210.7 95.3,210.7 94.2,210.3 92.7,208.3 91.7,205.9 90.9,204.1 89.9,202.0 89.4,201.1 89.5,199.9 90.0,197.9 91.3,196.6 92.5,195.0 94.5,194.2 95.5,193.7 96.3,193.6 97.4,193.5 98.6,194.1 100.3,195.2 101.4,196.4 102.8,198.0 103.6,199.7Z M103.0,201.2 103.1,202.2 102.5,203.8 101.5,206.4 100.0,208.4 98.6,209.9 97.2,210.3 96.6,209.8 95.5,209.3 94.5,208.9 93.3,208.1 91.5,206.2 90.7,203.6 90.5,202.2 90.7,200.9 90.6,200.1 90.6,198.4 92.0,196.5 93.2,195.1 94.4,193.7 95.4,192.6 96.5,192.9 97.1,193.3 98.3,194.5 99.4,195.8 101.0,197.0 101.9,198.9 102.3,200.1Z M101.7,200.9 102.1,202.0 101.5,203.8 100.9,205.3 99.2,207.1 98.3,207.7 97.4,209.0 96.6,209.5 95.5,209.6 94.5,209.1 93.0,207.5 92.2,206.1 90.9,203.6 91.0,202.2 91.3,201.0 91.7,200.0 92.0,198.6 92.5,197.2 93.4,196.1 94.8,194.8 96.0,194.1 96.6,193.7 97.1,193.4 98.2,194.3 99.8,195.2 100.6,196.8 101.8,198.7 101.8,200.2Z M101.6,201.2 101.4,201.5 101.1,203.6 100.0,205.2 98.9,206.6 97.9,207.9 97.2,209.5 96.5,209.7 95.8,208.6 94.9,207.8 94.0,206.1 93.5,204.7 92.4,203.3 91.7,201.6 91.6,200.9 91.6,200.3 92.1,198.7 93.0,197.3 93.6,195.9 94.8,194.7 95.7,193.9 96.4,194.2 97.0,194.9 98.0,195.7 99.0,196.3 100.2,197.9 101.0,198.7 101.1,200.1Z M100.7,201.0 101.0,201.4 100.9,203.1 99.8,205.1 98.7,205.8 97.9,206.7 96.9,207.0 96.2,207.8 96.3,208.2 95.0,207.3 94.2,205.8 93.8,204.2 92.6,203.3 91.9,201.7 92.3,201.1 92.5,200.3 92.9,199.2 93.7,197.8 94.1,196.2 95.2,195.6 96.2,194.8 96.3,194.5 97.1,194.8 97.4,195.7 98.7,197.0 99.3,197.8 100.0,198.9 100.5,200.4Z M100.1,200.7 100.1,201.7 99.3,202.9 99.0,204.0 98.1,205.7 97.6,206.6 96.8,207.4 96.4,207.9 96.2,207.4 95.6,206.4 94.8,205.7 93.7,204.3 93.5,202.4 93.5,201.4 93.3,201.2 92.8,200.2 93.4,199.2 94.2,198.0 94.8,197.0 95.7,196.2 96.1,195.7 96.5,195.2 96.7,194.5 97.7,195.6 98.1,196.7 99.0,198.4 99.4,199.6 100.0,200.4Z M99.6,201.0 99.2,201.6 98.6,202.2 98.3,203.6 97.6,204.6 97.0,205.5 96.6,206.2 96.7,206.7 96.4,206.4 95.7,205.7 95.3,205.1 94.5,204.1 94.0,202.3 94.1,201.6 94.0,200.8 93.6,200.4 94.0,199.5 94.6,198.4 95.0,197.4 95.9,196.7 96.0,196.1 96.7,195.9 96.5,195.8 97.4,196.1 97.8,197.2 98.3,198.4 99.1,199.2 99.3,200.5Z M99.0,201.0 98.3,201.5 98.1,201.9 97.7,203.1 97.1,204.4 97.0,204.9 96.8,206.1 96.2,205.9 96.1,205.9 95.8,205.3 95.7,204.9 94.8,203.5 94.7,202.3 94.5,201.6 94.6,201.0 94.5,200.6 94.4,199.9 95.1,198.5 95.4,197.9 96.1,196.7 96.2,196.6 96.2,196.0 97.0,196.3 97.1,196.6 97.3,197.7 97.9,198.4 98.6,199.5 98.5,200.6Z M97.9,200.8 97.6,201.0 97.4,201.8 97.3,202.9 97.4,203.9 97.1,204.9 96.8,205.0 96.2,205.3 96.3,205.4 95.9,204.9 95.7,204.0 95.7,202.9 95.4,202.2 94.8,201.4 95.3,201.1 95.2,200.6 95.2,200.0 95.5,198.9 96.1,197.9 96.0,197.5 96.4,197.2 96.3,197.2 96.6,197.1 96.9,196.9 97.1,197.5 97.5,198.6 97.9,199.7 97.7,200.5Z M125.8,219.7 127.7,219.7 129.6,219.8 131.6,219.9 133.5,220.2 135.4,220.1 137.4,219.8 139.3,220.1 141.2,220.4 M126.7,219.3 128.4,218.9 130.1,219.4 131.8,219.0 133.5,219.3 135.2,219.5 136.9,219.1 138.6,219.0 140.3,218.9 M126.8,218.6 128.5,218.2 130.2,218.4 131.8,218.3 133.5,218.3 135.2,218.2 136.8,218.3 138.5,218.8 140.2,218.8 M128.3,217.6 129.6,218.0 130.9,217.5 132.2,217.5 133.5,218.1 134.8,217.6 136.1,218.1 137.4,217.6 138.7,217.5 M131.3,213.5 130.6,214.5 130.0,215.6 129.1,215.1 129.0,213.5 129.3,212.3 130.0,211.6 130.9,212.1Z M131.2,214.5 130.6,215.6 130.0,216.2 129.3,215.7 129.2,214.5 129.2,213.2 130.0,212.5 130.4,213.8Z M141.0,197.6 140.6,198.3 140.3,199.1 139.7,198.5 139.8,197.6 139.8,196.8 140.3,196.1 140.7,196.9Z M131.2,202.4 131.0,203.0 130.5,203.7 129.7,203.3 129.9,202.4 129.8,201.6 130.5,201.2 131.1,201.6Z M137.0,211.9 136.9,212.9 136.2,213.2 135.7,212.6 135.3,211.9 135.6,211.1 136.2,210.4 136.7,211.2Z M133.8,198.1 133.8,198.7 133.3,199.2 133.0,198.6 132.8,198.1 132.9,197.5 133.3,197.1 133.8,197.5Z M134.8,210.3 134.6,211.8 134.1,212.0 133.6,211.4 133.2,210.3 133.5,208.8 134.1,208.7 134.6,208.9Z M142.0,194.0 142.4,195.5 141.2,195.5 140.3,195.1 140.0,194.0 140.3,192.8 141.2,192.1 142.2,192.6Z M131.1,212.8 130.6,213.9 129.9,215.1 129.0,214.3 129.0,212.8 128.9,211.2 129.9,211.0 130.9,211.3Z M126.8,203.0 126.9,204.1 125.7,203.9 124.8,203.8 124.5,203.0 124.7,202.2 125.7,201.9 126.6,202.4Z M139.5,211.8 139.5,213.3 139.1,214.0 138.8,212.8 138.7,211.8 138.7,210.0 139.1,210.3 139.4,210.4Z M132.1,197.8 131.9,199.0 131.4,199.1 130.8,199.1 130.5,197.8 130.9,196.8 131.4,196.5 132.0,196.4Z M134.6,202.0 134.5,203.0 133.9,203.2 133.4,202.8 133.1,202.0 133.2,201.0 133.9,200.9 134.4,201.1Z M139.5,198.3 139.1,199.7 138.2,200.2 137.3,199.8 136.8,198.3 137.5,197.2 138.2,196.2 139.2,196.8Z M138.3,204.1 138.3,205.8 137.9,205.9 137.6,205.3 137.5,204.1 137.5,202.6 137.9,202.1 138.1,203.0Z M129.2,203.5 128.5,204.8 127.8,205.0 126.8,205.2 126.3,203.5 127.0,202.2 127.8,201.8 128.7,201.9Z M138.6,191.5 138.5,193.2 137.3,192.9 136.6,192.7 135.8,191.5 136.5,190.3 137.3,189.7 138.1,190.4Z M131.4,198.7 131.4,199.6 130.7,200.1 130.3,199.2 129.9,198.7 129.9,197.6 130.7,197.6 131.3,197.9Z M136.3,204.2 135.9,205.1 135.2,205.2 134.4,205.1 134.2,204.2 134.5,203.3 135.2,202.7 135.7,203.5Z M135.9,189.5 135.8,191.6 135.1,192.2 134.5,191.2 134.3,189.5 134.4,187.5 135.1,186.6 135.6,188.1Z M140.1,210.5 139.8,212.2 139.0,212.4 138.0,212.7 138.0,210.5 138.3,208.8 139.0,208.2 139.9,208.4Z M137.3,187.8 137.1,188.8 136.6,189.0 136.1,189.1 136.1,187.8 136.2,186.9 136.6,186.5 137.1,186.7Z M138.6,208.9 138.6,210.1 138.2,210.0 137.9,209.7 137.6,208.9 137.9,208.0 138.2,207.4 138.4,208.2Z M133.3,200.7 133.1,202.3 132.8,202.6 132.3,202.8 132.3,200.7 132.4,199.1 132.8,198.4 133.1,199.0Z M134.3,202.0 133.7,202.7 133.4,204.1 132.7,203.4 132.6,202.0 132.9,200.9 133.4,200.3 134.0,200.6Z M131.2,194.2 130.9,195.8 130.4,196.3 130.1,195.3 129.7,194.2 130.0,192.6 130.4,192.3 130.8,193.0Z M126.5,202.3 126.4,204.0 125.9,204.4 125.6,203.4 125.3,202.3 125.4,200.5 125.9,200.4 126.3,200.9Z M138.8,201.7 139.1,203.6 138.4,203.7 138.0,202.9 137.8,201.7 138.0,200.5 138.4,199.0 138.9,200.3Z M138.3,197.2 138.2,198.5 137.7,198.4 137.3,198.5 137.2,197.2 137.4,195.9 137.7,195.4 138.0,196.2Z M138.6,197.3 138.2,198.2 137.7,198.4 137.2,198.2 137.0,197.3 137.0,196.0 137.7,196.5 138.2,196.3Z M143.5,200.1 142.7,202.7 142.2,206.4 140.7,209.5 139.4,212.4 137.0,214.6 135.1,215.9 133.2,217.3 132.0,216.8 129.7,215.8 127.2,213.7 125.8,210.1 124.2,206.8 123.6,202.8 123.1,200.2 123.7,197.9 124.4,195.6 126.2,193.3 128.0,192.0 130.2,191.0 132.0,189.7 133.4,189.3 135.4,189.3 137.3,189.7 139.7,190.9 142.0,192.8 143.3,195.3 143.8,198.1Z M143.9,199.9 143.3,203.0 142.5,206.6 140.8,210.0 139.2,213.2 136.9,214.6 134.8,215.1 133.2,214.6 132.0,214.4 129.7,214.2 128.0,212.5 126.0,210.1 124.2,206.6 122.6,203.3 122.8,200.0 124.0,198.0 124.8,196.1 126.2,193.7 127.9,191.5 130.0,190.8 131.7,190.3 133.5,190.0 135.1,189.1 137.6,189.6 139.7,191.4 140.9,193.5 142.5,196.0 143.1,197.9Z M143.3,199.8 142.8,203.0 142.0,206.3 140.6,209.3 139.5,212.4 137.2,214.4 134.9,215.3 133.7,215.3 131.7,214.6 130.3,213.9 128.1,211.8 126.2,209.1 124.7,206.4 124.2,203.0 124.6,200.1 124.5,198.2 124.7,195.7 125.6,192.9 127.6,191.0 129.7,190.0 131.9,189.7 133.4,189.8 134.9,189.9 136.9,191.0 138.9,192.4 140.4,194.2 141.7,196.1 143.3,197.8Z M141.8,199.9 142.0,202.4 141.4,205.7 140.7,209.2 138.9,212.3 137.4,214.4 135.0,216.4 133.3,215.9 132.3,214.9 130.0,213.1 128.6,211.4 126.6,208.9 125.3,206.0 125.1,202.4 125.2,200.2 125.0,198.3 124.8,195.8 126.1,193.5 127.9,192.0 130.2,190.3 132.1,189.6 133.5,189.3 134.8,189.4 136.6,190.6 138.9,192.2 140.3,194.0 141.9,196.0 142.1,198.2Z M142.3,200.3 142.3,202.3 141.9,205.6 140.6,209.0 139.1,211.9 137.1,213.9 135.2,214.7 133.3,214.8 132.3,213.9 130.5,212.5 128.3,210.9 126.5,208.5 125.7,205.8 125.0,202.4 124.6,200.0 124.8,198.5 125.7,195.9 126.5,193.9 128.1,192.0 129.7,190.4 132.0,189.1 133.2,188.8 134.8,190.0 136.3,191.2 138.1,192.6 139.6,194.5 141.5,196.0 142.0,198.2Z M142.4,200.1 141.9,202.2 141.0,205.1 140.3,208.3 138.2,210.7 136.4,211.7 134.7,212.9 133.6,214.1 131.8,214.4 130.4,213.6 128.2,211.2 126.9,208.7 125.5,206.0 124.8,202.3 124.9,200.0 125.5,198.5 126.7,196.6 127.3,194.4 128.4,192.5 130.0,190.7 132.2,190.3 133.3,190.4 134.9,190.4 136.4,191.1 138.7,192.4 140.6,193.6 141.7,196.2 142.0,198.2Z M141.9,199.7 141.8,202.2 140.8,205.0 139.3,207.5 137.9,210.0 136.4,211.7 134.7,213.2 133.7,214.2 132.0,214.8 130.1,213.5 128.2,211.3 127.0,208.3 126.2,205.1 125.9,202.0 125.3,200.0 125.3,198.7 126.2,196.7 127.7,195.0 128.7,192.7 130.5,191.0 132.0,189.9 133.7,189.6 134.7,190.0 136.5,190.4 138.3,192.2 139.8,194.2 140.5,196.7 141.2,198.5Z M141.0,200.1 141.5,202.3 140.7,204.8 139.3,207.4 138.1,209.8 136.6,212.2 135.0,214.1 133.5,214.8 132.4,213.1 130.8,211.5 129.4,209.5 127.7,207.4 126.4,204.9 125.7,202.2 125.6,199.9 125.6,198.6 126.5,196.4 127.5,194.8 128.8,192.5 130.6,190.8 132.1,190.5 133.2,190.1 134.6,190.6 136.2,191.3 138.4,192.1 139.9,194.4 140.5,196.5 140.8,198.9Z M141.1,200.0 140.9,201.8 140.6,204.8 140.0,208.0 138.3,210.7 136.5,212.1 134.4,212.6 133.5,212.5 132.5,212.5 130.7,211.6 129.2,210.0 127.9,207.2 127.0,204.3 126.1,202.0 125.7,200.3 126.3,198.6 126.4,196.6 127.8,194.7 129.1,192.8 130.8,191.5 132.5,190.3 133.6,190.3 134.6,190.9 136.0,191.7 137.4,193.5 139.2,194.7 140.1,196.9 140.7,198.4Z M141.8,200.0 141.4,202.0 139.7,204.1 138.7,206.2 137.6,208.9 135.9,211.3 134.9,212.5 133.3,212.9 132.3,212.5 130.7,211.0 129.4,209.2 128.1,206.6 126.5,204.4 125.7,201.9 125.5,199.9 125.9,198.3 126.6,196.7 128.2,194.9 129.7,193.0 130.7,191.8 132.2,191.1 133.3,191.4 134.5,191.5 136.4,191.9 137.9,193.3 139.2,194.9 140.3,196.5 141.4,198.6Z M141.0,200.2 140.3,202.1 139.5,204.0 138.7,206.7 137.7,209.3 136.2,211.6 134.4,213.1 133.2,213.6 132.3,212.4 130.8,210.8 129.6,208.2 128.5,206.3 127.6,203.8 126.7,201.4 126.2,199.8 126.8,198.5 127.1,196.9 127.6,194.9 129.4,193.1 130.6,191.4 132.5,191.4 133.6,190.7 134.7,190.9 135.8,191.9 137.5,193.4 138.4,195.5 139.5,197.0 140.2,198.6Z M140.3,200.1 139.6,201.4 139.2,203.8 138.2,206.2 137.4,209.0 136.3,211.1 134.3,211.7 133.5,212.0 132.3,211.4 131.4,210.5 129.6,208.8 128.4,206.8 127.6,203.8 127.2,201.6 126.8,199.9 126.4,198.9 127.1,196.7 128.2,195.0 129.8,193.3 131.3,192.3 132.3,191.4 133.4,191.1 134.4,191.3 135.7,192.5 137.6,193.6 138.8,195.2 140.0,196.8 140.0,199.0Z M140.9,199.7 140.5,201.8 139.5,203.8 138.5,206.1 137.2,207.6 135.8,209.6 134.2,211.6 133.7,212.0 132.6,211.0 131.1,209.6 129.9,208.2 128.3,206.1 127.2,204.0 126.9,201.5 127.0,199.8 127.2,198.6 127.4,197.1 128.3,194.8 129.7,193.7 131.1,192.2 132.8,191.9 133.7,191.5 134.2,191.8 135.7,192.8 137.0,193.9 138.2,195.5 139.6,196.9 140.4,199.0Z M139.7,200.2 139.5,201.6 139.4,203.8 138.0,206.1 136.8,207.9 135.7,209.7 134.6,210.9 133.3,211.1 132.8,211.1 131.0,210.2 130.1,208.0 128.9,206.1 128.3,203.7 127.7,201.3 127.3,200.0 127.0,198.8 127.8,197.6 128.9,196.1 130.0,193.9 131.4,192.3 132.6,191.0 133.4,191.0 134.6,191.8 135.8,192.8 136.9,193.7 138.1,195.6 138.6,197.3 139.5,198.8Z M139.8,199.9 139.4,201.6 138.9,203.6 138.3,205.7 136.8,207.9 135.7,209.6 134.6,210.4 133.7,210.7 132.9,210.2 131.5,209.0 130.4,207.1 129.2,205.5 128.2,203.2 127.4,201.1 127.1,199.7 127.2,198.8 128.0,197.4 128.6,195.7 130.3,193.8 131.2,192.7 132.4,192.0 133.6,192.0 134.6,192.2 135.7,192.9 136.8,194.0 137.9,195.6 138.2,197.3 139.3,199.1Z M139.8,200.1 139.5,201.6 139.0,203.5 138.0,205.6 136.5,207.4 135.5,208.6 134.0,209.3 133.5,210.2 132.6,209.4 131.4,208.2 130.4,207.0 129.4,205.0 128.5,203.6 127.4,201.3 127.4,199.8 127.3,198.7 128.2,197.5 129.5,195.8 130.2,194.3 131.5,192.9 132.6,192.2 133.5,191.7 134.2,192.9 135.4,194.1 136.0,195.2 137.9,195.9 138.7,197.4 139.8,199.2Z M138.7,200.0 138.6,201.1 138.4,203.0 137.6,204.9 136.1,206.8 135.1,207.5 133.8,208.4 133.3,209.2 132.6,209.3 131.8,208.5 130.7,206.8 129.9,204.9 129.2,203.1 128.5,200.9 128.6,200.0 128.7,199.1 129.4,197.7 129.6,195.9 130.8,194.4 131.9,193.7 132.7,192.5 133.7,192.6 134.3,192.8 135.1,193.4 135.9,195.1 136.7,196.5 137.7,198.1 138.5,199.1Z M138.0,200.0 138.1,201.2 137.5,202.2 136.7,204.2 135.5,205.8 134.9,207.2 133.8,208.1 133.2,207.9 133.1,207.1 132.3,206.7 131.4,205.4 130.5,204.3 129.5,202.6 129.5,201.2 128.9,200.2 129.0,199.1 129.3,198.1 130.4,196.3 131.2,195.3 132.4,194.4 133.1,193.5 133.7,193.5 134.0,193.6 134.8,194.4 135.6,195.8 136.5,196.5 137.3,197.8 138.0,199.1Z M137.4,199.7 136.9,200.5 136.5,202.1 135.6,203.5 135.1,204.8 134.6,206.5 134.2,207.5 133.5,207.8 133.3,207.4 132.5,206.5 131.4,205.2 130.9,203.2 130.9,201.7 130.6,200.7 129.9,199.9 129.8,199.4 130.2,197.9 130.8,196.9 131.9,195.5 132.7,194.7 133.0,194.1 133.5,193.8 133.9,194.1 134.8,194.4 135.4,195.4 136.0,197.2 136.3,198.1 136.6,199.2Z M136.7,199.9 136.3,200.6 136.0,201.4 135.6,203.1 134.7,204.1 134.0,205.2 133.7,206.1 133.6,206.3 133.5,205.7 132.6,205.4 132.3,204.2 131.6,203.3 130.9,201.9 130.8,200.7 130.9,199.7 131.0,199.2 131.1,198.4 131.5,197.5 132.0,196.1 132.9,195.4 133.3,195.0 133.8,194.6 133.7,195.2 134.0,195.7 134.8,196.1 135.7,197.3 136.3,198.5 136.7,199.7Z M135.8,200.1 135.4,200.6 135.3,201.6 134.9,202.4 134.5,203.9 134.2,204.5 133.4,204.8 133.4,205.5 133.2,205.2 132.9,204.3 132.7,203.4 132.4,202.6 131.7,201.4 131.5,200.2 131.7,200.1 131.6,199.7 131.9,199.0 132.1,197.7 132.3,196.5 132.9,195.5 133.3,195.1 133.4,194.9 133.8,195.4 133.9,195.6 134.5,197.0 135.0,197.8 135.0,198.7 135.7,199.4Z M134.8,200.1 134.8,200.2 134.6,201.3 134.7,202.0 134.2,203.2 133.6,203.6 133.6,204.4 133.5,204.6 133.4,204.6 133.4,203.8 132.8,202.7 132.8,202.0 132.6,200.8 132.1,200.6 131.9,200.0 132.5,199.9 132.3,199.0 132.6,198.1 132.6,197.4 133.2,196.5 133.5,195.5 133.4,195.4 133.5,195.9 134.0,196.0 134.3,196.8 134.1,198.3 134.4,199.0 135.0,199.4Z"/></g>
<g clip-path="url(#cp11)"><path class="cl" d="M195.1,133.3 195.2,136.8 195.8,140.3 196.5,143.8 196.1,147.4 196.1,150.9 195.9,154.4 195.0,157.9 195.0,161.4 195.2,165.0 195.1,168.5 196.4,172.0 197.1,175.5 199.0,179.0 199.5,182.5 199.6,186.1 200.4,189.6 212.9,189.6 214.1,186.1 215.2,182.5 215.8,179.0 217.4,175.5 218.8,172.0 219.5,168.5 219.8,165.0 219.9,161.4 218.7,157.9 218.4,154.4 218.1,150.9 218.0,147.4 218.3,143.8 218.3,140.3 219.3,136.8 219.9,133.3Z M199.2,134.1 198.8,137.6 198.3,141.1 197.1,144.5 197.6,148.0 197.7,151.5 197.4,154.9 198.0,158.4 198.1,161.9 198.1,165.3 198.5,168.8 198.2,172.3 197.6,175.7 198.7,179.2 199.7,182.6 200.5,186.1 202.3,189.6 211.3,189.6 212.5,186.1 213.4,182.6 214.4,179.2 216.3,175.7 217.0,172.3 218.1,168.8 217.3,165.3 217.4,161.9 217.0,158.4 215.6,154.9 215.5,151.5 215.8,148.0 215.8,144.5 216.3,141.1 216.4,137.6 217.1,134.1Z M202.3,135.0 201.3,138.4 200.6,141.8 200.3,145.2 199.7,148.6 199.8,152.0 200.2,155.4 200.8,158.9 200.9,162.3 200.6,165.7 200.1,169.1 199.7,172.5 200.0,175.9 200.4,179.3 201.5,182.8 202.3,186.2 204.3,189.6 211.0,189.6 211.1,186.2 211.7,182.8 212.9,179.3 213.0,175.9 214.2,172.5 214.8,169.1 215.5,165.7 215.6,162.3 215.6,158.9 214.5,155.4 213.9,152.0 213.4,148.6 213.3,145.2 213.0,141.8 213.0,138.4 213.1,135.0Z M228.8,218.5 227.4,221.0 224.7,223.2 221.2,225.2 216.4,226.7 210.7,227.3 204.8,227.2 199.1,226.6 193.9,225.3 190.1,223.4 187.5,221.0 185.6,218.5 185.5,215.7 188.9,213.3 194.8,212.1 200.3,211.6 205.1,210.6 210.7,209.6 217.1,209.6 222.5,211.2 226.1,213.4 228.2,215.9Z M223.6,218.5 224.6,220.6 224.3,223.1 221.1,225.1 215.7,226.0 210.2,225.9 205.2,225.8 200.2,225.6 196.0,224.3 194.0,222.3 192.8,220.4 190.7,218.5 189.4,216.2 191.2,213.9 195.5,212.5 200.3,211.6 205.1,210.8 210.3,210.6 215.4,211.3 219.3,212.8 221.6,214.7 222.8,216.6Z M222.1,218.5 222.0,220.3 219.4,221.7 215.9,222.5 212.9,223.3 209.7,224.5 205.3,225.5 200.4,225.4 196.4,224.1 194.5,222.1 194.2,220.2 194.8,218.5 195.5,217.0 196.4,215.4 198.5,214.0 201.7,212.9 205.6,212.2 210.0,211.7 214.7,211.9 218.3,213.3 220.0,215.1 221.0,216.8Z M233.2,192.5 232.4,193.9 229.6,194.7 226.6,195.0 223.3,195.8 219.1,195.5 217.3,194.0 218.1,192.5 218.8,191.3 219.8,189.8 223.5,189.5 226.7,189.9 230.7,189.8 233.6,190.9Z M229.3,192.5 228.5,193.1 227.8,193.8 226.2,194.2 224.3,194.0 223.1,193.6 222.0,193.1 220.3,192.5 220.8,191.7 223.1,191.4 224.4,191.2 226.1,191.0 227.7,191.2 229.2,191.7Z"/><path class="cm" d="M198.2,137.3 197.7,138.2 197.1,138.8 196.1,138.9 196.1,137.3 196.6,136.5 197.1,135.6 198.0,135.9Z M202.4,136.6 202.1,138.4 201.9,139.7 201.5,139.1 201.4,136.6 201.5,133.7 201.9,134.6 202.2,134.0Z M205.9,137.9 205.7,138.9 205.4,139.3 205.0,139.2 204.9,137.9 205.0,136.7 205.4,136.8 205.9,136.4Z M210.3,136.6 210.4,139.0 209.5,139.5 208.7,138.4 208.4,136.6 208.5,134.4 209.5,133.9 210.3,134.5Z M215.4,139.0 214.9,141.5 214.1,142.5 213.3,141.4 212.8,139.0 213.2,136.2 214.1,136.1 215.0,136.2Z M217.9,136.8 217.8,139.5 217.3,141.1 216.9,139.2 216.9,136.8 216.7,133.3 217.3,133.2 217.7,134.6Z M200.1,140.7 200.1,142.7 199.5,144.4 199.1,142.3 198.9,140.7 198.8,138.0 199.5,138.3 200.2,138.5Z M205.4,142.0 205.1,143.5 204.6,144.0 203.9,143.9 203.6,142.0 204.2,141.0 204.6,139.4 205.2,140.2Z M209.4,140.8 209.2,142.7 208.9,144.4 208.7,142.4 208.4,140.8 208.6,138.5 208.9,138.5 209.3,138.4Z M213.7,141.7 213.5,143.8 213.0,145.1 212.6,143.0 212.1,141.7 212.4,139.5 213.0,139.1 213.5,139.7Z M218.8,140.3 218.4,142.0 217.9,144.6 217.4,141.8 217.1,140.3 217.2,138.0 217.9,136.9 218.6,138.2Z M200.5,143.5 200.6,146.3 199.7,146.4 198.9,146.2 199.0,143.5 199.0,141.4 199.7,139.2 200.4,141.5Z M205.6,143.7 204.8,145.5 204.2,146.3 203.6,145.4 203.0,143.7 203.5,141.6 204.2,141.3 204.7,142.1Z M209.5,143.0 209.3,144.9 208.6,145.2 208.1,144.7 208.0,143.0 207.8,140.8 208.6,141.0 209.1,141.7Z M214.0,143.1 214.1,145.3 213.6,146.2 213.2,144.9 213.0,143.1 213.2,141.5 213.6,140.0 214.0,141.1Z M198.3,148.3 198.3,151.0 197.9,151.2 197.4,151.0 197.3,148.3 197.5,146.1 197.9,144.9 198.3,145.3Z M202.9,148.4 202.7,150.8 201.8,151.8 201.1,150.1 200.7,148.4 200.8,146.1 201.8,145.0 202.4,146.9Z M207.0,147.4 206.7,149.4 206.0,149.4 205.5,149.0 205.1,147.4 205.3,145.2 206.0,145.4 206.5,145.9Z M211.3,147.8 211.2,150.5 210.3,150.6 209.2,150.9 209.1,147.8 209.7,146.0 210.3,143.5 211.2,145.0Z M215.1,148.8 214.6,150.0 214.2,151.5 213.8,149.8 213.4,148.8 213.4,147.1 214.2,146.8 214.6,147.8Z M198.1,151.3 198.1,153.6 197.3,154.7 196.4,153.8 196.7,151.3 196.4,148.8 197.3,147.9 198.0,149.1Z M202.7,151.5 202.7,152.9 202.0,152.9 201.2,153.2 201.4,151.5 201.4,150.3 202.0,149.6 202.7,150.2Z M207.9,151.2 207.4,153.0 206.5,152.9 205.7,152.8 205.0,151.2 205.8,149.8 206.5,148.8 207.2,149.8Z M212.2,152.4 212.1,153.7 211.7,155.1 211.4,153.6 211.3,152.4 211.3,150.8 211.7,150.0 212.0,151.1Z M215.6,152.7 215.3,153.8 215.1,154.9 214.7,154.6 214.6,152.7 214.9,151.8 215.1,150.2 215.4,151.2Z M197.7,157.1 197.6,159.7 196.9,161.2 196.2,159.3 195.6,157.1 196.2,155.2 196.9,153.1 197.7,154.4Z M202.6,155.3 202.5,156.9 202.0,157.6 201.6,156.4 201.3,155.3 201.3,153.6 202.0,153.3 202.4,154.1Z M207.2,156.2 207.1,158.8 206.5,158.6 206.1,157.9 205.5,156.2 205.9,154.0 206.5,154.0 207.0,154.0Z M211.0,157.7 210.7,159.6 210.5,160.7 210.1,161.0 210.2,157.7 210.1,154.7 210.5,155.2 210.8,154.8Z M217.0,155.9 216.4,157.6 215.6,158.0 214.7,157.9 214.5,155.9 214.7,153.9 215.6,153.8 216.5,154.0Z M198.4,159.9 198.1,161.7 197.8,163.9 197.3,162.2 197.3,159.9 197.3,157.4 197.8,156.6 198.2,157.6Z M203.4,160.5 203.0,161.8 202.2,162.5 201.8,161.2 201.1,160.5 201.3,159.0 202.2,158.7 202.7,159.6Z M206.2,162.5 205.9,163.7 205.2,164.4 204.6,163.7 204.5,162.5 204.4,161.0 205.2,160.7 205.8,161.4Z M211.4,160.6 211.0,161.9 210.5,163.1 209.7,162.7 210.0,160.6 209.8,158.9 210.5,158.2 211.2,158.9Z M215.2,160.8 215.1,162.5 214.6,162.5 214.1,162.6 213.7,160.8 214.3,159.7 214.6,158.9 215.2,158.9Z M197.1,163.5 197.0,165.6 196.7,166.4 196.5,164.7 196.2,163.5 196.3,161.2 196.7,161.6 197.0,161.6Z M201.3,165.2 201.3,167.2 200.8,167.9 200.2,167.2 200.2,165.2 200.2,163.3 200.8,162.5 201.3,163.4Z M205.0,163.3 204.8,165.7 204.3,166.9 203.8,166.5 203.8,163.3 204.0,161.1 204.3,158.8 204.8,160.7Z M209.2,163.9 209.0,165.3 208.4,165.9 207.9,165.3 207.6,163.9 208.0,162.7 208.4,162.0 209.1,162.3Z M214.0,164.1 214.1,167.2 213.4,167.1 212.9,166.1 212.6,164.1 212.8,161.5 213.4,160.8 213.8,162.2Z M217.8,165.6 217.6,167.7 217.2,169.0 216.8,167.5 216.7,165.6 216.7,163.1 217.2,162.3 217.5,164.0Z M199.3,167.2 199.2,168.7 198.9,169.8 198.7,168.6 198.6,167.2 198.6,165.5 198.9,164.9 199.2,165.8Z M203.8,169.4 203.7,170.6 203.0,170.7 202.4,170.4 202.2,169.4 202.3,168.4 203.0,168.0 203.6,168.6Z M208.2,169.2 208.1,170.4 207.4,170.8 206.9,170.1 206.5,169.2 206.6,167.8 207.4,167.9 208.1,167.9Z M211.3,170.0 211.1,172.4 210.8,172.9 210.4,172.1 210.2,170.0 210.3,167.3 210.8,167.6 211.1,167.6Z M217.5,169.4 217.2,170.4 216.4,171.0 215.7,170.1 215.5,169.4 215.3,168.1 216.4,167.9 216.9,168.7Z M201.1,172.9 201.3,174.6 200.6,175.0 200.2,173.8 199.9,172.9 199.9,171.2 200.6,171.2 201.2,171.4Z M206.6,171.6 206.6,174.2 205.7,175.8 205.2,173.5 204.6,171.6 205.0,169.3 205.7,167.8 206.6,169.0Z M209.8,172.8 209.8,174.2 209.4,174.8 208.9,174.3 208.7,172.8 209.0,171.6 209.4,170.7 209.9,171.1Z M214.1,172.1 213.8,173.7 213.2,174.9 212.8,173.2 212.2,172.1 212.6,170.3 213.2,169.5 213.6,170.8Z M198.6,175.9 198.5,177.3 198.2,177.6 197.8,177.8 197.7,175.9 197.9,174.6 198.2,174.1 198.5,174.2Z M204.0,175.3 203.9,177.7 203.2,177.9 202.8,176.7 202.3,175.3 202.6,173.2 203.2,172.1 203.6,174.0Z M207.8,177.5 207.6,178.5 207.3,178.8 206.9,178.6 206.8,177.5 206.9,176.3 207.3,176.4 207.7,176.2Z M212.3,177.0 212.3,178.8 211.7,179.3 211.2,178.6 211.1,177.0 211.2,175.4 211.7,174.6 212.2,175.4Z M200.4,180.3 200.4,182.8 199.3,182.1 198.5,182.1 198.3,180.3 198.3,178.1 199.3,177.4 199.8,179.0Z M204.5,179.7 204.3,181.9 203.6,182.1 203.1,181.0 202.5,179.7 202.9,177.8 203.6,177.3 204.1,178.1Z M208.8,181.1 208.8,182.8 208.1,182.9 207.6,182.3 207.5,181.1 207.4,179.3 208.1,179.4 208.5,180.1Z M213.7,179.4 213.8,181.1 212.8,181.5 212.3,180.3 211.7,179.4 211.9,177.8 212.8,177.7 213.6,178.0Z M202.0,185.2 201.5,186.9 201.1,188.4 200.8,186.5 200.3,185.2 200.5,182.8 201.1,182.9 201.4,183.9Z M206.7,183.2 206.4,185.2 206.1,185.9 205.8,185.7 205.6,183.2 205.8,181.1 206.1,179.9 206.4,181.2Z M211.1,184.3 211.1,187.3 210.3,187.9 209.6,186.7 209.6,184.3 209.5,181.5 210.3,180.1 210.8,182.5Z M201.9,203.8 202.0,205.0 201.3,205.4 200.9,204.5 200.4,203.8 200.8,202.9 201.3,202.2 201.9,202.8Z M204.4,195.0 203.8,195.8 203.1,196.1 202.5,195.8 201.7,195.0 202.6,194.3 203.1,194.0 203.9,194.1Z M204.1,197.2 204.1,198.7 203.8,199.1 203.5,198.5 203.2,197.2 203.5,196.0 203.8,195.8 204.2,195.3Z M207.7,198.6 207.5,199.3 207.0,199.3 206.4,199.4 206.3,198.6 206.4,197.9 207.0,197.9 207.6,197.8Z M208.1,190.7 208.0,191.6 207.3,191.8 206.4,191.9 206.5,190.7 206.8,190.0 207.3,189.3 208.1,189.7Z M214.8,195.6 214.5,196.2 213.8,197.0 213.0,196.3 212.8,195.6 213.0,194.9 213.8,194.3 214.6,194.8Z M208.8,191.2 208.8,192.9 207.6,192.5 206.6,192.5 206.7,191.2 206.4,189.6 207.6,189.2 208.2,190.4Z M206.0,206.3 205.7,207.8 205.1,207.7 204.5,208.0 204.4,206.3 204.6,204.9 205.1,204.7 205.7,205.1Z M200.5,205.0 200.4,205.5 200.0,205.8 199.5,205.7 199.3,205.0 199.8,204.6 200.0,203.8 200.5,204.3Z M200.8,192.5 200.4,194.2 199.7,194.2 199.2,193.8 198.6,192.5 199.2,191.0 199.7,190.5 200.2,191.3Z M199.5,192.0 199.5,193.6 199.0,194.5 198.6,193.2 198.5,192.0 198.3,190.0 199.0,190.2 199.4,190.6Z M199.4,209.4 199.2,210.8 198.9,211.1 198.6,210.8 198.5,209.4 198.6,207.8 198.9,207.9 199.2,208.0Z M203.4,204.8 203.1,205.8 202.7,206.4 202.4,206.0 202.1,204.8 202.4,203.7 202.7,203.0 203.1,203.6Z M209.5,190.7 209.2,191.6 208.6,192.3 208.1,191.5 207.7,190.7 208.0,189.6 208.6,189.2 209.1,189.8Z M209.4,197.8 208.8,198.5 208.4,199.2 207.5,199.2 207.7,197.8 207.9,197.0 208.4,196.1 209.0,196.8Z M213.8,202.0 213.7,203.7 213.4,203.9 213.1,203.5 212.9,202.0 213.2,200.8 213.4,200.0 213.7,200.3Z M207.9,210.9 207.7,211.8 207.3,211.9 206.9,211.6 206.6,210.9 206.9,210.2 207.3,209.9 207.6,210.2Z M205.3,202.8 204.6,203.9 204.0,205.4 203.1,204.2 202.6,202.8 203.2,201.5 204.0,200.7 205.0,201.0Z M209.8,211.9 209.7,213.0 209.3,213.5 209.0,213.0 208.7,211.9 209.0,210.9 209.3,210.8 209.9,210.4Z M204.5,193.9 204.6,194.6 203.8,194.8 203.3,194.4 202.9,193.9 203.2,193.3 203.8,193.1 204.5,193.3Z M210.9,194.7 210.4,195.3 209.6,195.7 208.8,195.3 208.4,194.7 208.5,194.0 209.6,194.0 210.4,194.1Z M211.8,194.2 211.9,195.9 211.5,195.6 211.1,195.6 211.1,194.2 211.1,192.9 211.5,192.3 211.8,193.1Z M220.3,198.7 220.0,205.1 218.8,211.1 217.0,217.0 214.8,222.9 211.8,227.1 208.4,228.2 205.1,226.1 202.3,224.1 199.3,223.1 196.2,221.5 193.0,216.9 191.5,211.6 190.2,205.4 188.9,198.8 189.6,195.4 192.0,192.7 194.6,191.0 196.6,189.1 198.8,186.2 201.7,184.4 205.3,184.2 208.3,185.4 211.5,187.0 214.1,188.7 216.6,190.4 218.3,193.0 219.8,195.9Z M219.1,198.9 219.1,203.8 218.0,208.7 215.4,213.3 213.2,217.0 210.8,220.3 208.1,223.0 205.0,224.4 202.1,224.3 199.0,223.0 195.5,219.8 193.9,214.3 193.1,208.9 192.5,203.8 192.4,199.1 192.5,196.2 193.2,193.7 194.6,191.0 195.8,187.9 198.6,185.9 202.1,185.1 205.5,185.7 208.2,186.2 211.2,187.2 214.3,188.0 216.8,190.4 217.8,193.3 218.5,196.4Z M217.6,199.0 217.6,203.0 216.7,207.5 215.6,211.9 213.2,215.2 210.6,218.1 208.0,220.2 205.3,221.9 202.3,221.6 199.3,219.6 196.3,217.2 193.8,213.7 192.9,208.2 192.8,202.8 193.2,199.0 193.3,196.5 193.1,193.9 195.0,191.0 197.4,189.4 200.4,188.3 202.9,187.2 205.2,185.5 208.1,184.8 211.4,185.8 213.8,188.3 215.7,190.7 216.9,193.7 217.5,196.1Z M218.4,199.1 217.8,202.6 216.2,207.0 214.6,210.6 212.1,212.8 209.7,215.2 207.6,217.7 205.3,219.3 202.7,219.6 199.7,217.8 197.3,215.4 194.9,212.0 193.7,207.4 192.7,203.0 192.7,198.9 192.7,196.2 194.2,193.7 196.1,191.9 198.8,190.7 200.6,188.5 202.6,187.2 205.0,186.0 207.5,186.5 209.9,188.3 212.6,189.5 215.5,191.2 217.5,193.3 218.0,196.2Z M216.9,198.6 217.3,202.5 216.3,206.6 215.2,210.9 212.4,213.8 209.6,215.6 207.3,217.3 204.9,217.7 203.0,216.9 200.8,215.2 198.5,212.4 196.9,208.9 195.3,205.8 194.1,202.0 193.3,198.7 193.4,196.4 193.7,193.8 195.6,191.2 197.5,189.2 200.2,188.1 203.1,187.4 205.2,187.6 207.1,188.9 209.6,189.5 212.1,190.4 214.4,191.7 216.0,194.5 216.5,196.9Z M216.4,198.9 215.9,201.9 215.0,205.4 213.5,208.3 211.5,211.3 209.5,213.5 207.0,215.5 204.9,216.8 203.4,216.3 200.7,214.5 198.5,212.1 196.3,209.3 195.1,205.6 194.3,201.8 194.9,198.7 195.4,196.8 196.0,195.1 197.1,192.1 198.6,189.8 201.0,188.5 203.1,188.3 205.4,188.0 207.0,188.3 209.4,189.2 212.0,190.4 213.9,192.1 215.2,194.4 216.1,196.7Z M215.4,198.6 215.2,201.5 214.4,205.0 212.8,208.1 211.0,211.0 208.8,213.1 207.0,214.7 205.2,214.7 203.5,214.8 201.5,213.0 199.5,210.5 197.8,207.8 196.0,204.6 195.1,201.6 195.0,198.8 195.7,196.8 196.4,195.0 197.8,192.9 198.8,190.2 201.2,188.7 203.1,188.1 205.5,188.4 207.1,189.1 208.8,189.2 211.4,190.5 212.6,192.8 213.9,195.1 214.4,197.2Z M214.6,198.8 214.5,201.4 213.6,204.3 212.3,206.8 210.2,209.4 208.1,211.0 206.6,212.1 205.2,213.5 203.5,213.3 201.8,212.1 199.7,210.4 197.9,207.9 196.1,204.5 195.1,201.6 195.3,198.9 196.6,197.4 197.4,195.3 198.8,193.6 200.0,192.0 201.7,189.8 203.4,188.7 205.1,188.6 206.5,189.1 208.7,190.2 210.6,191.2 212.4,193.0 213.9,195.2 214.6,197.2Z M248.7,194.1 248.7,196.0 248.2,196.2 247.9,195.6 247.7,194.1 247.9,192.6 248.2,191.5 248.6,192.7Z M241.4,192.9 241.1,193.6 240.7,194.0 240.1,193.9 240.0,192.9 240.4,192.4 240.7,191.8 241.3,192.1Z M246.2,200.9 246.0,202.2 245.6,202.7 245.1,202.7 245.2,200.9 245.3,199.6 245.6,198.4 246.0,199.5Z M239.3,198.5 239.4,199.9 239.0,200.5 238.7,199.4 238.4,198.5 238.7,197.5 239.0,196.8 239.4,197.2Z M238.3,200.1 238.2,201.5 237.7,202.4 237.3,201.0 237.0,200.1 237.1,198.6 237.7,198.1 238.0,199.2Z M242.8,194.4 242.8,195.8 241.9,195.7 241.4,195.2 240.7,194.4 241.2,193.2 241.9,193.3 242.7,193.2Z M246.0,202.0 245.6,203.2 244.7,203.8 244.2,202.7 243.3,202.0 243.7,200.8 244.7,200.6 245.4,201.2Z M251.0,204.2 250.8,206.0 250.4,206.5 250.1,205.5 249.8,204.2 249.9,202.3 250.4,202.3 250.8,202.8Z M247.1,210.5 246.8,211.5 246.1,212.1 245.5,211.4 244.7,210.5 245.4,209.5 246.1,209.4 246.9,209.3Z M246.2,208.2 246.1,209.4 245.5,209.3 244.7,209.5 244.7,208.2 245.0,207.3 245.5,206.4 246.0,207.1Z M245.2,199.7 245.2,201.7 244.9,202.4 244.6,201.4 244.5,199.7 244.6,198.0 244.9,197.2 245.2,197.6Z M239.7,199.8 239.7,201.0 239.4,201.5 239.0,201.1 238.9,199.8 239.1,198.7 239.4,198.2 239.7,198.4Z M244.5,205.2 244.4,206.1 243.7,205.9 243.2,205.8 242.7,205.2 243.1,204.4 243.7,204.4 244.4,204.3Z M241.6,192.1 241.6,193.2 240.7,194.1 240.3,192.6 239.4,192.1 239.9,191.1 240.7,190.4 241.5,191.1Z M254.3,201.1 253.9,206.4 253.0,212.1 252.4,217.7 250.3,223.0 248.6,225.9 246.2,227.4 243.7,228.4 241.2,228.7 238.6,226.8 236.8,222.6 234.9,217.3 234.4,212.1 234.0,206.2 233.8,200.8 234.0,198.3 234.0,195.7 234.5,192.5 236.5,190.5 238.4,188.9 241.2,188.5 243.8,188.3 245.9,188.6 248.4,189.7 249.8,191.8 251.5,193.4 252.9,195.5 253.8,198.4Z M254.4,200.9 254.0,205.7 252.6,210.4 251.7,215.2 250.4,219.4 247.8,221.6 245.4,221.9 243.8,220.7 241.5,220.6 239.6,220.6 237.5,218.0 235.8,214.2 234.7,209.8 233.7,205.7 232.7,201.1 233.1,198.2 233.6,195.7 235.4,193.6 237.5,192.0 239.4,190.7 241.5,190.1 243.6,189.6 245.9,189.6 247.9,190.2 249.7,191.7 251.1,194.3 252.4,196.2 253.8,198.2Z M253.1,200.8 253.4,205.1 252.5,209.0 250.8,212.8 249.2,215.5 247.2,218.4 245.1,220.1 243.6,220.9 242.1,220.0 239.9,218.5 238.1,216.0 236.1,213.1 234.4,209.7 234.0,204.8 233.8,200.9 234.6,198.7 235.7,196.6 237.1,194.3 238.2,192.6 240.1,191.2 241.6,189.7 243.6,189.5 245.7,190.2 247.6,190.6 249.5,192.0 251.2,193.9 252.0,196.1 252.5,198.8Z M252.4,200.9 251.6,204.1 250.8,207.5 250.2,211.6 249.2,215.5 247.4,217.9 245.3,218.7 243.4,218.8 242.2,218.6 239.7,217.8 238.3,215.9 236.5,211.9 235.9,207.9 235.3,204.3 235.0,200.9 235.6,198.7 236.0,196.5 237.1,194.4 238.6,193.0 240.4,191.6 241.8,190.8 243.7,189.8 245.4,189.8 247.4,190.4 248.9,192.6 250.1,194.6 251.1,196.6 251.9,198.8Z M251.7,200.9 251.6,203.9 250.6,207.3 250.0,210.3 248.2,213.4 246.9,215.1 245.0,217.0 243.6,217.8 242.0,217.8 240.2,216.2 239.0,213.5 237.4,210.7 236.0,207.2 236.3,203.7 236.0,200.8 236.3,198.9 236.7,197.0 237.2,195.0 239.0,193.3 240.9,192.0 242.0,191.1 243.4,189.6 245.4,189.6 246.8,191.1 248.3,193.2 249.2,195.4 250.1,197.3 251.3,198.9Z"/><path class="ct" d="M200.7,137.6 200.3,139.3 199.6,139.7 198.8,139.9 198.8,137.6 198.9,135.6 199.6,135.4 200.4,135.4Z M204.7,136.6 204.6,139.5 203.5,139.9 202.9,138.3 202.1,136.6 202.6,133.9 203.5,133.3 204.3,134.4Z M209.0,137.4 208.7,139.6 208.1,140.5 207.3,140.1 207.3,137.4 207.4,135.2 208.1,133.7 208.7,135.5Z M212.9,137.1 212.6,140.1 211.8,140.5 211.0,139.9 210.9,137.1 211.1,134.6 211.8,132.1 212.2,135.3Z M216.6,137.8 216.3,139.2 215.9,141.0 215.4,140.1 215.3,137.8 215.6,136.3 215.9,134.7 216.5,135.7Z M198.8,141.2 198.6,142.4 198.3,143.5 198.0,142.9 197.8,141.2 198.2,140.2 198.3,138.9 198.7,139.2Z M203.0,140.8 202.7,141.8 202.3,142.6 201.8,141.9 201.7,140.8 201.9,139.8 202.3,138.7 202.7,139.9Z M207.5,141.1 207.3,142.3 206.4,142.4 205.6,142.1 205.2,141.1 205.5,139.9 206.4,139.7 207.2,140.0Z M211.6,140.2 211.3,141.4 210.6,141.5 209.5,141.9 209.7,140.2 209.9,139.2 210.6,138.5 211.4,138.8Z M216.3,141.6 216.1,144.0 215.2,144.6 214.6,143.2 214.2,141.6 214.2,139.1 215.2,139.1 215.9,139.9Z M199.3,145.0 199.3,147.0 198.1,146.5 197.2,146.4 196.8,145.0 197.2,143.6 198.1,142.8 198.7,144.1Z M202.1,145.4 202.1,147.3 201.8,147.5 201.5,147.0 201.2,145.4 201.5,144.0 201.8,143.7 202.2,143.2Z M206.7,143.1 206.8,146.0 206.2,145.1 205.6,146.0 205.4,143.1 205.8,141.2 206.2,139.9 206.7,140.2Z M211.6,143.8 211.4,146.3 211.1,147.3 210.6,146.7 210.4,143.8 210.8,142.2 211.1,139.0 211.4,141.4Z M216.9,144.3 216.7,146.9 216.4,148.3 216.2,146.4 216.0,144.3 216.0,141.1 216.4,140.8 216.6,142.6Z M200.8,147.8 200.3,149.8 199.7,152.2 198.9,150.5 198.7,147.8 198.9,145.2 199.7,144.1 200.5,145.2Z M204.7,148.0 204.6,150.3 204.0,150.4 203.4,149.8 203.3,148.0 203.3,145.8 204.0,145.0 204.4,146.5Z M208.5,149.8 208.1,151.6 207.6,154.2 206.9,152.3 206.8,149.8 207.0,147.4 207.6,146.5 208.5,146.7Z M214.0,148.4 213.7,150.6 212.6,150.6 211.9,150.1 210.8,148.4 211.9,146.7 212.6,146.2 213.7,146.2Z M218.6,150.2 217.9,151.3 217.3,151.8 216.6,151.4 216.2,150.2 216.4,148.6 217.3,149.0 217.9,148.9Z M199.7,152.6 199.6,155.6 198.8,155.1 198.2,154.6 197.7,152.6 198.1,150.3 198.8,149.3 199.3,151.0Z M204.4,152.5 204.3,154.5 204.0,157.1 203.8,154.9 203.7,152.5 203.7,149.7 204.0,149.6 204.4,149.4Z M209.5,153.3 209.6,155.8 208.9,156.3 208.6,154.8 208.1,153.3 208.5,151.4 208.9,150.1 209.4,151.3Z M214.7,153.3 214.2,155.2 213.4,157.1 212.4,155.9 212.3,153.3 212.5,150.9 213.4,149.9 214.5,150.6Z M218.0,152.5 217.6,154.4 216.9,155.0 216.4,153.9 216.1,152.5 216.0,150.2 216.9,150.1 217.3,151.4Z M200.1,156.0 199.8,158.1 199.2,158.3 198.6,158.2 198.3,156.0 198.7,154.0 199.2,153.4 199.8,153.8Z M204.9,158.0 204.4,160.3 203.8,162.6 203.0,160.7 203.0,158.0 202.9,155.1 203.8,153.3 204.4,155.9Z M209.4,157.0 209.3,159.0 208.9,161.5 208.5,159.1 208.2,157.0 208.6,155.1 208.9,153.6 209.5,153.9Z M213.9,155.6 213.8,157.3 213.1,157.3 212.5,157.0 212.1,155.6 212.4,154.0 213.1,154.0 213.8,153.9Z M218.6,156.0 218.0,157.0 217.2,157.3 216.4,156.9 215.9,156.0 216.4,155.1 217.2,154.4 217.7,155.3Z M200.0,161.3 199.8,163.4 199.2,164.3 198.5,163.7 198.2,161.3 198.6,159.3 199.2,158.7 200.0,158.5Z M204.5,161.0 203.7,162.1 203.1,162.5 202.3,162.5 202.1,161.0 202.3,159.5 203.1,159.5 203.9,159.6Z M209.4,160.0 208.8,161.6 208.0,161.8 207.3,161.4 206.5,160.0 207.4,158.5 208.0,157.9 208.8,158.4Z M213.3,160.3 213.2,161.6 212.8,161.5 212.6,161.1 212.3,160.3 212.6,159.2 212.8,158.9 213.1,159.3Z M217.4,159.7 217.1,160.8 216.7,161.6 216.1,161.4 216.1,159.7 216.2,158.3 216.7,158.2 217.3,158.2Z M199.3,164.3 198.7,165.6 198.3,168.5 197.7,167.1 197.7,164.3 197.8,162.1 198.3,160.3 198.9,162.0Z M203.7,164.8 203.1,166.8 202.3,167.7 201.4,167.2 200.9,164.8 201.5,162.6 202.3,162.4 203.3,162.1Z M207.2,163.6 207.0,165.2 206.6,166.2 206.2,165.3 206.1,163.6 206.2,161.9 206.6,160.9 206.9,162.4Z M211.3,164.8 210.8,166.2 210.3,168.0 209.8,166.4 209.4,164.8 209.8,163.2 210.3,161.7 210.9,163.1Z M215.8,163.5 216.1,166.6 215.0,166.0 214.5,165.2 213.9,163.5 214.3,161.3 215.0,160.3 215.7,161.5Z M197.4,167.7 197.1,169.6 196.8,170.3 196.4,169.6 196.2,167.7 196.4,165.8 196.8,164.9 197.1,165.7Z M201.9,168.3 201.4,170.4 201.0,171.6 200.3,171.7 200.4,168.3 200.4,165.5 201.0,164.7 201.5,165.6Z M205.6,170.1 205.5,173.1 204.8,173.0 204.3,172.3 204.0,170.1 204.1,166.9 204.8,167.3 205.3,167.8Z M210.9,167.4 210.2,168.9 209.7,171.3 208.9,169.7 208.5,167.4 209.1,165.9 209.7,164.0 210.6,164.9Z M214.8,168.6 215.0,170.6 213.9,170.5 213.2,170.0 212.7,168.6 213.2,167.0 213.9,166.3 214.8,167.0Z M199.9,173.2 199.6,175.6 199.2,177.0 198.7,176.2 198.7,173.2 198.8,170.6 199.2,169.2 199.7,170.5Z M204.5,172.8 204.1,174.5 203.4,176.5 202.4,175.1 202.6,172.8 202.3,170.3 203.4,169.7 204.2,170.7Z M208.3,172.8 208.1,175.6 207.3,176.4 206.4,175.4 205.8,172.8 206.8,171.1 207.3,168.2 208.2,169.9Z M212.7,172.1 212.2,174.3 211.3,174.7 210.5,174.0 209.9,172.1 210.4,169.9 211.3,169.3 212.0,170.3Z M216.6,172.1 216.2,173.7 215.7,174.5 215.1,174.0 214.6,172.1 215.3,170.8 215.7,169.8 216.4,170.1Z M202.5,175.1 202.1,176.4 201.3,176.9 200.4,176.6 200.0,175.1 200.7,174.0 201.3,172.9 202.1,173.7Z M206.6,175.6 206.1,177.4 205.5,180.5 204.6,178.0 204.4,175.6 204.7,173.4 205.5,171.8 206.5,172.7Z M210.4,175.9 210.2,177.2 209.9,177.7 209.4,177.9 209.4,175.9 209.6,174.8 209.9,173.8 210.3,174.1Z M214.3,177.3 214.4,179.6 213.9,179.8 213.6,178.8 213.3,177.3 213.5,175.6 213.9,174.4 214.2,175.8Z M202.9,179.6 202.9,181.8 202.2,184.3 201.5,181.8 200.9,179.6 201.6,177.9 202.2,175.7 203.3,176.3Z M206.6,179.0 206.4,180.2 206.0,180.4 205.7,179.8 205.3,179.0 205.6,177.9 206.0,177.9 206.4,177.9Z M212.6,181.5 211.4,183.5 210.7,184.4 209.6,184.5 209.3,181.5 209.9,179.1 210.7,177.9 211.5,179.3Z M215.1,180.4 214.6,181.7 214.1,182.8 213.6,181.6 213.1,180.4 213.4,178.6 214.1,178.8 214.7,178.8Z M204.8,185.7 204.0,187.1 203.5,189.4 202.7,187.7 202.5,185.7 202.7,183.6 203.5,182.3 204.2,183.8Z M207.8,185.4 207.7,186.7 207.4,187.2 207.1,186.7 207.0,185.4 207.0,183.9 207.4,183.8 207.6,184.3Z M212.6,183.6 212.5,185.0 212.1,185.6 211.6,185.0 211.5,183.6 211.6,182.2 212.1,182.1 212.7,181.8Z M217.3,136.3 215.9,137.3 212.9,138.0 209.2,138.3 205.2,138.4 201.3,138.1 199.0,137.2 197.9,136.3 198.4,135.3 201.5,134.6 205.2,134.2 209.3,134.2 212.8,134.7 215.7,135.3Z M215.5,136.3 214.7,137.1 212.4,137.8 209.1,138.2 205.4,138.2 202.1,137.8 199.6,137.2 198.8,136.3 199.8,135.4 202.3,134.8 205.5,134.4 209.2,134.3 212.7,134.7 214.6,135.5Z M214.4,136.3 213.8,137.0 211.8,137.6 208.9,138.0 205.6,138.0 202.7,137.6 200.3,137.1 200.0,136.3 201.2,135.6 202.8,135.0 205.6,134.6 208.9,134.6 212.0,134.9 213.9,135.5Z M213.7,136.3 212.9,136.9 211.1,137.4 208.6,137.7 205.8,137.8 203.2,137.5 201.5,136.9 200.9,136.3 201.7,135.7 203.5,135.2 205.8,134.8 208.7,134.8 211.2,135.1 213.0,135.6Z M212.4,136.3 212.0,136.8 210.6,137.3 208.4,137.5 206.1,137.5 203.8,137.3 202.3,136.9 202.0,136.3 202.6,135.8 204.1,135.4 206.1,135.1 208.5,135.0 210.8,135.3 212.1,135.7Z M211.5,136.3 211.3,136.8 210.1,137.1 208.2,137.3 206.3,137.2 204.6,137.1 203.3,136.7 203.1,136.3 203.4,135.8 204.5,135.5 206.3,135.3 208.2,135.3 209.9,135.5 211.0,135.9Z M210.6,136.3 210.2,136.6 209.3,136.9 208.0,137.1 206.5,137.1 205.3,136.9 204.3,136.6 203.9,136.3 204.4,136.0 205.2,135.7 206.5,135.5 208.0,135.5 209.4,135.7 210.4,135.9Z M193.5,219.8 196.4,220.3 199.3,220.3 202.3,220.2 205.2,220.0 208.1,219.9 211.1,219.9 214.0,219.9 216.9,220.2 M195.0,219.6 197.5,219.6 200.1,219.6 202.6,219.3 205.2,219.5 207.8,219.7 210.3,219.5 212.9,219.1 215.4,219.4 M197.4,218.4 199.4,218.8 201.3,218.5 203.3,218.9 205.2,218.8 207.1,218.5 209.1,218.6 211.0,218.3 213.0,218.7 M197.8,217.9 199.6,218.0 201.5,218.1 203.3,218.2 205.2,218.2 207.1,218.1 208.9,217.7 210.8,217.9 212.6,218.0 M199.9,217.1 201.2,216.8 202.5,216.7 203.9,216.8 205.2,216.9 206.5,216.9 207.9,217.0 209.2,217.2 210.5,217.1 M213.5,198.7 213.0,200.5 212.0,203.0 210.8,205.9 210.1,208.5 208.6,211.0 206.7,212.3 205.4,213.0 203.7,212.1 202.1,210.9 200.4,208.9 198.4,206.6 197.3,204.1 196.3,201.2 196.6,198.5 197.3,197.6 197.9,195.5 199.5,194.2 200.4,192.4 202.2,191.1 204.0,190.1 205.5,189.8 206.6,189.0 208.5,189.7 210.9,191.1 212.3,193.4 213.1,195.4 213.5,197.2Z M213.4,198.5 212.9,200.8 212.7,203.3 211.6,206.3 210.2,208.8 208.2,210.9 206.5,211.9 205.1,212.4 203.9,211.8 202.0,210.6 200.6,208.9 199.2,205.8 198.3,203.3 197.7,200.4 196.4,198.8 196.4,197.4 197.6,195.3 199.1,194.0 201.0,192.3 202.2,190.7 204.1,189.3 205.4,188.8 206.4,189.7 208.3,190.4 210.0,191.7 211.5,193.9 212.6,195.7 212.7,197.8Z M214.3,198.5 214.1,200.7 212.4,203.2 211.3,205.6 209.7,208.0 208.0,210.0 206.2,212.0 205.1,212.6 203.7,211.9 202.6,210.1 201.0,207.3 199.8,205.5 198.1,203.3 196.7,200.8 196.4,198.6 197.1,197.7 198.1,195.8 198.6,193.8 200.1,191.7 202.2,190.4 203.9,190.2 205.0,190.1 206.7,189.8 208.1,191.0 209.5,192.3 210.6,194.2 212.0,195.7 213.4,197.3Z M212.9,198.6 212.2,200.7 211.5,202.9 210.8,205.2 209.7,208.4 208.3,210.8 206.5,212.0 205.0,212.3 203.8,211.2 202.2,210.0 200.6,207.9 198.8,205.9 198.0,203.3 197.3,200.6 197.4,199.0 198.2,197.6 198.7,196.2 199.6,193.9 200.6,192.1 202.3,191.3 204.1,189.9 205.2,189.4 206.6,189.5 208.3,190.2 209.7,191.7 211.1,193.7 212.3,195.5 213.1,197.7Z M213.4,199.0 213.2,200.8 212.0,202.8 210.7,204.9 208.9,207.3 207.7,209.2 206.3,210.3 205.4,211.4 203.9,211.2 202.4,210.4 200.5,208.6 199.3,206.0 197.9,203.3 197.7,200.3 197.6,198.7 197.7,197.9 198.4,195.6 199.7,194.2 200.7,192.4 202.7,191.3 204.1,190.4 204.9,189.2 206.7,189.6 207.9,190.9 209.1,192.9 210.5,194.4 212.2,195.7 213.3,197.7Z M212.5,198.6 212.2,200.2 211.4,202.8 210.7,205.5 209.6,207.9 207.8,208.9 206.4,209.5 205.2,210.3 204.3,210.9 202.7,209.8 200.8,207.9 199.6,205.9 197.9,202.9 197.4,200.7 197.1,198.6 198.1,197.5 198.8,195.9 199.8,194.3 201.1,192.9 202.8,191.8 204.3,191.2 204.9,190.8 206.5,190.2 207.9,190.3 210.1,192.0 211.6,193.6 212.1,196.0 212.7,197.3Z M213.3,199.0 212.8,200.5 212.2,203.0 210.9,205.2 209.2,207.3 207.6,208.9 206.4,209.9 205.2,210.2 204.0,209.8 203.1,208.7 201.2,207.1 199.6,205.0 198.9,202.8 198.1,200.5 197.9,198.5 197.6,197.6 197.6,195.4 199.4,193.6 201.2,192.5 202.8,191.3 204.4,190.8 205.3,190.4 206.1,190.7 207.2,191.9 208.5,193.3 210.2,194.4 211.9,196.0 212.7,197.2Z M212.6,198.9 212.1,200.1 211.0,202.5 210.0,204.7 209.0,207.1 207.4,208.9 206.3,210.4 205.3,210.8 204.4,210.7 202.7,209.3 201.2,207.3 200.2,205.0 199.1,202.3 198.1,200.5 197.9,198.6 198.4,197.5 199.0,195.9 199.7,194.0 201.2,192.6 203.2,192.0 204.0,191.8 205.3,190.7 206.3,189.7 207.7,190.4 209.6,192.4 210.4,194.1 211.7,195.9 212.4,197.6Z M212.2,198.8 212.1,200.3 211.4,202.9 210.2,204.8 208.9,206.9 207.7,209.1 206.4,210.7 205.4,211.2 204.5,209.8 202.8,207.9 202.0,206.2 200.4,204.4 199.0,202.7 198.2,200.2 197.9,198.5 197.8,197.7 198.7,195.7 199.6,194.3 201.0,192.7 202.7,191.3 204.3,190.5 205.3,190.7 206.1,191.6 207.3,192.1 209.2,192.9 210.3,194.0 211.4,196.1 211.8,197.5Z M212.2,199.1 211.9,200.5 210.9,202.3 210.1,204.5 208.9,206.4 207.6,208.5 206.4,210.6 205.0,211.2 204.0,210.1 202.6,208.7 201.4,206.5 200.4,204.6 200.0,201.9 199.3,200.1 198.8,198.8 198.5,197.7 199.3,196.3 200.5,194.4 201.7,193.1 202.5,191.2 204.0,190.2 205.0,190.4 206.4,190.6 207.2,191.7 209.0,192.9 210.1,194.8 210.6,196.3 211.7,197.6Z M212.5,198.9 211.9,200.0 211.5,202.4 209.9,204.2 208.5,205.8 207.4,207.0 206.3,208.5 205.4,209.4 204.6,209.5 202.9,208.4 201.8,206.9 200.0,204.7 198.6,202.6 198.2,200.1 198.6,198.6 198.8,198.0 199.5,196.2 200.7,195.1 201.8,193.6 203.0,191.9 204.5,190.5 205.1,190.0 206.2,190.7 207.6,192.1 208.8,193.2 210.0,194.7 210.8,196.4 211.6,197.7Z M211.3,199.0 211.2,200.0 211.1,202.1 210.0,204.1 208.6,205.7 207.2,207.3 206.2,208.8 205.2,209.9 204.4,209.6 203.0,208.8 201.8,206.9 200.2,204.8 199.8,202.0 199.2,200.2 199.5,198.8 199.1,197.8 199.5,196.6 200.5,194.6 201.9,193.2 203.2,191.6 204.0,190.9 205.4,190.6 206.3,191.2 207.2,192.2 208.6,193.0 210.5,194.5 211.2,196.4 211.4,197.9Z M211.3,198.5 211.7,200.0 211.0,202.5 209.9,204.5 208.7,205.9 207.0,208.3 206.3,209.4 205.3,209.9 204.3,208.3 203.4,207.0 202.0,205.3 201.1,203.7 199.8,201.9 199.2,199.9 198.8,198.8 198.4,197.6 199.2,195.9 200.4,194.4 201.7,193.2 203.1,192.3 204.3,191.6 205.2,191.1 205.9,191.4 206.9,191.8 208.3,193.2 209.3,194.8 210.5,196.2 210.7,197.9Z M211.6,199.1 211.0,200.0 210.5,201.8 209.5,203.7 208.4,205.7 207.4,207.6 205.8,208.4 205.0,209.2 204.3,208.2 203.2,206.8 202.4,205.6 201.0,203.9 200.1,202.0 198.7,199.9 198.6,198.6 199.2,197.7 199.9,196.4 200.8,194.8 201.9,193.4 203.0,192.2 204.4,191.7 205.4,191.7 205.6,191.9 207.2,192.9 208.1,193.9 209.4,195.1 210.9,196.1 211.6,197.8Z M211.1,198.7 210.5,200.2 210.2,201.9 209.6,204.0 208.2,205.4 207.3,207.0 206.0,207.8 205.1,208.8 204.4,208.8 203.0,208.3 202.1,206.6 201.2,203.6 200.7,201.8 199.7,199.9 200.0,198.7 200.1,197.9 200.8,196.6 201.0,195.3 202.1,193.6 203.3,191.8 204.6,191.0 205.2,190.6 205.9,190.8 207.2,192.3 208.1,193.5 208.9,195.0 210.1,196.7 210.8,198.1Z M210.8,199.1 210.7,200.1 210.5,201.6 209.4,203.5 207.6,204.6 206.8,205.9 205.9,206.8 205.2,208.7 204.2,208.9 203.3,207.7 202.1,205.8 200.9,203.5 200.0,201.7 200.0,200.2 199.4,198.7 199.8,198.2 200.4,196.5 201.1,195.3 202.3,193.7 203.3,192.7 204.3,192.0 205.5,191.6 205.8,192.0 206.8,192.5 208.3,193.9 209.3,194.6 210.7,196.6 210.8,197.8Z M210.8,198.7 210.9,200.2 210.1,201.9 209.5,204.1 207.8,205.5 206.9,206.2 205.7,207.2 205.2,207.9 204.5,208.0 203.4,207.2 202.4,204.8 201.7,203.0 201.1,201.7 200.0,200.0 199.5,198.7 199.8,197.8 200.1,196.8 201.1,195.3 202.4,193.4 203.5,192.7 204.4,192.0 205.2,191.4 205.7,191.6 206.8,193.2 207.7,194.3 208.7,195.7 209.9,196.7 210.3,197.7Z M210.3,198.9 210.1,199.9 209.9,201.4 209.2,203.4 208.1,205.5 206.9,207.0 205.8,208.0 205.3,208.0 204.6,207.4 203.4,206.7 202.5,205.0 201.4,203.4 201.2,201.4 200.7,199.8 200.2,198.7 199.8,197.8 200.5,196.3 201.3,194.9 202.7,194.1 203.8,192.5 204.6,191.8 205.4,191.6 205.8,192.2 206.7,193.2 208.1,194.0 208.9,195.1 210.0,196.9 210.1,198.1Z M210.0,198.7 209.5,199.7 209.2,201.0 208.1,202.9 207.6,204.4 206.7,206.1 205.5,206.9 205.4,206.3 204.6,205.0 204.3,204.5 202.9,203.8 202.2,202.9 201.1,201.3 200.7,199.9 200.5,198.9 201.0,198.1 201.2,196.6 202.3,195.9 203.0,194.5 203.8,193.5 204.8,192.9 205.0,192.6 205.4,193.1 206.1,193.5 207.0,194.8 207.9,195.8 208.5,196.9 209.8,197.9Z M208.3,198.8 208.3,199.2 207.5,200.2 207.4,201.8 207.1,203.0 206.1,204.3 205.4,205.3 205.2,205.9 205.1,205.5 204.3,204.8 203.6,203.5 202.7,201.9 202.0,200.4 202.3,199.2 202.2,198.8 202.3,198.6 202.5,197.6 203.0,196.1 203.5,194.3 204.3,193.3 204.6,193.4 205.2,192.7 205.4,193.2 206.0,193.9 206.7,195.0 207.4,195.8 208.2,197.3 208.5,198.4Z M207.3,198.6 207.2,199.3 207.3,200.4 206.9,201.2 206.6,202.8 205.8,204.0 205.2,203.9 205.4,204.6 205.2,203.8 204.4,203.6 204.3,202.5 203.8,201.4 203.6,200.1 203.1,199.2 202.8,198.9 202.6,198.1 203.2,197.4 203.6,196.4 203.8,195.4 204.5,194.6 205.0,194.2 205.4,194.0 205.4,194.1 205.7,194.4 206.5,195.6 206.5,196.5 207.2,197.6 207.3,198.6Z M206.7,198.5 206.6,199.3 206.2,200.1 206.3,200.7 205.9,202.0 205.8,202.9 205.2,203.1 205.5,203.1 204.9,202.6 205.1,202.3 204.3,201.7 204.3,200.7 203.9,200.1 203.8,199.1 203.8,199.0 203.6,198.4 203.8,198.1 204.6,197.2 204.5,196.3 205.0,194.9 205.0,194.5 205.0,194.4 205.5,194.3 205.6,195.3 206.1,196.1 206.3,196.6 206.4,197.9 206.4,198.3Z M237.2,220.1 238.8,219.7 240.4,220.3 242.0,219.9 243.6,219.9 245.2,219.9 246.8,220.0 248.4,219.8 250.0,220.0 M238.1,219.2 239.5,219.5 240.9,219.2 242.2,219.3 243.6,218.9 245.0,219.4 246.3,219.0 247.7,219.2 249.1,219.6 M238.7,218.8 239.9,218.5 241.1,218.5 242.4,218.4 243.6,218.4 244.8,218.3 246.1,218.6 247.3,218.5 248.5,218.6 M239.1,217.7 240.3,217.6 241.4,217.9 242.5,217.7 243.6,217.5 244.7,217.9 245.8,217.8 246.9,217.8 248.1,217.6 M251.6,200.6 251.2,203.8 250.7,206.6 249.2,209.3 247.5,211.7 246.1,213.5 244.7,214.7 243.3,215.5 242.5,215.3 241.0,213.5 239.6,211.2 237.9,209.3 236.7,206.8 236.0,203.4 235.8,200.7 235.8,199.2 236.6,197.2 238.0,195.1 239.8,194.2 241.3,193.2 242.4,192.3 243.8,191.6 244.9,191.8 246.3,192.4 247.8,193.6 249.2,195.4 250.1,197.3 251.0,199.0Z M250.6,200.8 250.0,203.2 249.4,206.0 248.8,208.7 247.8,211.4 246.2,214.1 244.7,216.0 243.4,216.8 242.6,215.6 240.9,213.8 239.9,211.3 238.3,208.8 237.1,206.2 236.8,203.3 236.7,200.6 236.6,199.4 237.1,197.5 238.4,195.6 239.5,194.4 240.9,193.3 242.7,191.7 243.7,191.1 244.9,190.8 246.3,192.2 248.0,193.4 248.9,195.4 249.8,197.2 250.6,199.5Z M250.7,200.9 250.8,203.3 249.6,206.1 248.3,208.4 247.5,210.5 245.9,212.4 244.7,214.0 243.6,214.7 242.7,214.0 241.3,213.0 239.5,211.3 238.4,208.5 237.4,205.9 236.8,203.2 236.5,201.0 236.4,199.5 237.7,197.2 238.7,196.2 239.8,194.8 240.9,193.3 242.8,191.9 243.6,191.6 244.6,192.1 246.1,193.2 247.3,194.2 248.9,196.1 249.7,197.6 250.7,199.5Z M250.6,200.6 250.3,202.7 249.3,205.5 248.2,208.3 247.1,210.6 246.2,212.8 244.7,213.6 243.7,213.4 242.5,213.2 241.4,212.2 240.1,210.5 239.0,208.1 237.8,205.5 237.4,202.8 236.8,200.8 236.9,199.1 237.1,197.6 238.5,195.8 239.8,194.4 241.6,193.2 242.8,192.6 243.6,192.8 244.7,193.0 245.5,193.8 247.4,194.8 248.5,195.6 249.5,197.4 250.5,199.2Z M250.2,200.9 249.8,202.9 249.0,205.3 248.0,207.1 247.0,209.0 245.3,210.8 244.6,212.8 243.4,214.2 242.7,214.2 241.4,212.2 240.0,209.6 238.9,207.6 238.0,205.4 237.2,202.7 236.9,200.9 237.7,199.5 237.9,198.1 238.8,196.2 240.2,194.7 241.8,193.7 242.9,193.5 243.8,192.9 244.7,192.1 245.8,192.8 247.0,194.4 248.2,196.3 249.6,197.8 250.1,199.7Z M249.3,200.6 249.3,202.4 249.4,205.1 248.4,208.0 246.8,210.3 245.7,211.4 244.3,212.3 243.6,212.3 242.5,212.1 241.7,211.1 240.1,209.6 239.1,207.2 238.0,205.0 237.6,202.6 237.5,201.0 237.5,199.5 238.0,198.0 239.2,196.4 240.3,195.2 241.5,194.1 242.9,193.0 243.4,192.0 244.4,192.6 245.9,193.5 246.9,194.9 247.7,196.6 248.7,197.8 248.9,199.4Z M249.3,200.6 249.4,202.2 248.4,204.6 247.6,206.6 246.5,208.6 245.7,211.3 244.7,212.9 243.8,213.0 242.6,211.8 241.5,210.1 240.9,208.8 239.7,207.4 238.4,205.0 238.2,202.6 237.7,200.8 238.1,199.8 239.0,198.1 239.8,196.4 240.9,195.2 241.8,193.7 242.7,192.9 243.6,192.6 244.7,193.1 245.5,193.3 246.6,195.0 247.9,196.5 248.6,198.0 249.0,199.7Z M248.9,200.7 249.1,202.1 248.3,204.5 247.5,207.1 246.7,208.7 245.3,209.6 244.2,210.4 243.7,211.1 242.7,211.1 241.5,210.5 240.8,208.7 239.6,206.9 238.3,204.5 238.2,202.6 238.0,200.9 238.5,199.8 239.0,198.4 239.6,196.6 240.5,195.2 241.9,194.0 242.7,193.4 243.6,193.5 244.2,193.5 245.2,194.3 246.7,195.4 248.0,196.5 248.8,198.2 248.7,199.5Z M248.5,200.6 248.4,202.0 248.0,204.3 247.3,206.2 246.6,208.1 245.5,210.3 244.5,211.3 243.3,212.3 242.9,211.2 241.7,210.0 240.9,208.2 239.9,205.9 239.7,204.2 239.3,201.8 238.9,201.0 238.8,199.9 238.7,198.2 239.5,196.4 240.9,195.4 242.1,194.0 243.1,193.2 243.7,192.6 244.3,193.3 245.1,194.2 245.9,196.1 246.7,197.5 247.8,198.5 248.3,200.0Z M248.6,200.9 248.1,202.3 247.8,204.2 246.9,205.3 246.1,207.4 245.1,209.0 244.1,210.8 243.3,211.5 242.7,210.6 241.9,209.3 241.3,207.7 240.1,206.0 239.5,204.2 238.7,201.8 238.7,200.6 239.1,199.8 239.3,198.5 240.4,197.4 241.4,195.8 242.4,194.7 242.7,194.0 243.6,192.9 244.5,193.5 245.0,194.4 246.0,195.5 247.0,197.0 247.5,198.7 248.1,200.1Z M248.0,200.6 248.1,202.0 247.9,204.0 246.7,206.0 246.1,207.6 245.3,209.1 244.2,209.8 243.4,210.5 243.2,210.0 242.0,208.6 241.4,206.7 240.5,205.7 239.5,204.0 239.1,202.1 238.9,201.0 239.1,199.7 239.7,198.6 240.3,196.9 241.3,195.7 242.4,194.8 243.2,194.3 243.7,193.9 244.1,193.7 245.1,194.7 246.1,196.3 246.7,197.6 247.2,198.6 247.7,199.8Z M247.5,201.1 247.1,201.6 247.0,203.3 246.2,204.8 245.2,206.5 244.9,207.4 244.2,208.5 243.4,208.9 243.0,208.9 242.5,207.4 241.7,206.1 241.4,204.7 240.2,203.0 240.0,201.8 239.5,200.7 240.0,200.2 240.2,199.1 240.9,197.6 241.7,196.7 242.4,195.5 243.2,194.7 243.7,194.7 244.0,195.2 244.5,195.8 245.1,196.6 246.3,197.5 246.9,198.6 247.4,200.0Z M246.5,200.7 246.8,201.6 245.9,202.6 245.5,204.1 245.0,205.6 244.3,206.7 244.0,207.4 243.7,207.7 243.5,207.0 242.6,206.0 241.9,205.2 241.2,204.3 240.8,202.9 240.7,201.6 240.8,201.0 241.2,200.1 241.3,199.3 241.8,198.0 241.9,196.9 242.7,196.1 243.1,195.5 243.7,195.5 244.0,195.4 244.5,196.2 244.7,197.3 245.3,197.9 246.0,199.5 246.5,200.4Z M245.7,200.9 245.7,201.3 245.2,202.5 245.2,203.4 244.7,204.6 243.9,205.2 243.7,205.9 243.7,206.6 243.5,206.4 243.1,205.7 242.7,204.9 242.3,203.3 241.8,202.2 241.7,201.5 241.8,200.5 241.5,200.2 242.2,199.8 242.5,198.7 242.7,197.7 243.0,196.9 243.5,195.8 243.4,195.6 243.8,195.8 243.9,196.9 244.8,197.5 244.7,198.3 245.5,199.6 245.9,200.5Z M245.0,200.8 245.0,201.4 244.3,201.9 244.4,202.7 244.0,203.6 244.1,204.9 243.4,205.2 243.6,205.0 243.2,205.0 243.3,204.7 242.8,204.0 242.6,202.8 242.4,201.8 242.2,201.0 242.5,200.5 242.3,200.2 242.8,200.1 242.7,199.0 243.0,198.0 243.1,197.1 243.7,196.5 243.8,196.6 243.9,196.6 243.8,196.9 244.2,197.5 244.6,198.7 244.8,200.1 244.8,200.3Z"/></g>
<g clip-path="url(#cp12)"><path class="cl" d="M301.3,133.3 301.4,137.0 302.8,140.6 302.7,144.3 302.1,147.9 301.6,151.6 300.9,155.3 300.5,158.9 300.7,162.6 301.3,166.3 301.7,169.9 302.5,173.6 304.1,177.3 304.4,180.9 305.0,184.6 305.5,188.2 306.1,191.9 316.9,191.9 318.0,188.2 319.9,184.6 321.7,180.9 323.1,177.3 324.0,173.6 324.9,169.9 324.1,166.3 324.1,162.6 323.3,158.9 323.2,155.3 323.0,151.6 322.8,147.9 323.5,144.3 323.9,140.6 324.9,137.0 324.8,133.3Z M303.9,134.1 303.4,137.7 302.9,141.3 303.5,144.9 303.9,148.5 303.7,152.2 304.4,155.8 304.8,159.4 303.9,163.0 303.3,166.6 303.1,170.2 302.9,173.8 303.7,177.5 304.6,181.1 306.6,184.7 307.5,188.3 309.5,191.9 315.4,191.9 317.1,188.3 318.8,184.7 320.6,181.1 321.5,177.5 322.1,173.8 323.0,170.2 322.4,166.6 321.7,163.0 320.9,159.4 320.8,155.8 321.0,152.2 321.2,148.5 321.9,144.9 321.6,141.3 322.3,137.7 322.1,134.1Z M306.0,134.9 305.9,138.5 305.9,142.0 305.9,145.6 306.5,149.1 307.2,152.7 306.7,156.3 306.0,159.8 305.4,163.4 305.0,167.0 304.5,170.5 304.8,174.1 305.6,177.7 307.0,181.2 308.1,184.8 309.3,188.3 310.0,191.9 316.4,191.9 317.3,188.3 317.5,184.8 318.1,181.2 318.4,177.7 318.6,174.1 319.5,170.5 319.8,167.0 320.0,163.4 320.9,159.8 320.6,156.3 320.2,152.7 319.7,149.1 318.9,145.6 318.1,142.0 317.7,138.5 318.2,134.9Z M338.7,218.5 339.3,221.4 337.1,224.2 330.9,226.1 323.2,226.4 316.6,226.3 310.7,226.4 304.6,226.1 299.3,224.9 294.8,223.1 290.3,221.1 287.7,218.5 289.6,215.8 294.0,213.7 298.1,211.6 303.0,209.5 310.0,208.7 316.9,210.0 321.7,211.8 326.4,212.9 332.0,214.0 336.5,215.9Z M333.3,218.5 332.1,220.6 328.5,222.1 325.0,223.5 321.9,225.4 316.9,227.1 310.4,227.2 305.0,225.8 300.9,224.1 297.0,222.6 294.2,220.7 294.2,218.5 295.8,216.5 297.8,214.6 301.0,212.9 305.7,211.8 310.9,211.1 316.7,210.5 323.0,210.7 328.1,212.1 330.6,214.3 332.2,216.4Z M331.5,218.5 331.8,220.5 329.0,222.3 324.6,223.3 320.2,224.0 315.9,224.3 311.6,224.1 307.7,223.6 303.3,223.1 298.7,222.2 296.4,220.4 297.1,218.5 298.4,216.8 299.1,214.9 301.5,213.1 306.5,212.4 311.6,212.8 315.7,213.1 320.0,213.2 324.2,213.8 327.2,215.2 329.3,216.7Z M339.0,195.5 340.3,197.3 336.5,198.2 332.9,198.6 329.5,198.5 326.3,198.0 324.0,196.9 324.0,195.5 324.1,194.1 326.0,192.9 329.3,192.2 333.4,191.7 335.9,193.1 335.5,194.7Z M336.6,195.5 335.0,196.2 333.0,196.4 332.1,197.1 330.3,197.1 329.0,196.6 327.7,196.2 326.9,195.5 326.9,194.7 328.4,194.1 330.5,194.3 332.0,194.2 333.5,194.3 334.9,194.8Z"/><path class="cm" d="M304.8,137.2 304.3,139.3 303.6,140.7 302.8,139.3 302.1,137.2 302.9,135.1 303.6,134.1 304.5,134.6Z M309.8,136.9 309.8,138.5 308.9,138.8 308.5,137.7 307.9,136.9 308.1,135.3 308.9,135.2 309.5,135.8Z M316.3,137.3 316.1,139.7 315.7,141.6 315.2,139.8 315.0,137.3 315.3,135.3 315.7,132.1 316.1,135.0Z M320.3,137.3 320.1,139.7 319.4,139.6 318.9,139.2 318.6,137.3 318.9,135.2 319.4,134.2 319.8,135.9Z M303.6,142.4 303.5,144.8 303.2,147.1 302.9,144.4 302.7,142.4 302.9,140.1 303.2,138.2 303.6,139.5Z M308.4,141.5 308.1,142.6 307.6,143.0 307.1,142.9 306.9,141.5 307.2,140.5 307.6,139.6 308.1,140.3Z M312.3,142.0 312.3,143.4 311.7,143.2 311.2,143.0 311.1,142.0 311.1,140.6 311.7,140.5 312.1,141.0Z M317.7,141.9 317.2,144.1 316.5,145.2 315.7,144.3 315.4,141.9 315.6,139.1 316.5,139.5 317.3,139.3Z M322.9,140.4 323.1,142.1 322.3,142.2 321.8,141.3 321.2,140.4 321.6,139.3 322.3,138.4 322.9,139.4Z M306.6,146.1 306.1,146.9 305.8,148.1 305.0,147.9 305.2,146.1 305.3,144.9 305.8,144.3 306.4,144.5Z M311.5,144.7 311.2,147.3 310.5,146.7 309.8,147.1 309.6,144.7 309.8,142.4 310.5,141.9 311.0,143.0Z M316.2,146.1 316.0,148.5 315.4,148.6 314.9,148.4 314.5,146.1 314.8,143.6 315.4,143.7 315.9,143.7Z M323.1,146.2 322.8,148.8 322.3,149.1 321.9,148.2 321.6,146.2 321.9,143.9 322.3,142.5 322.6,144.8Z M306.2,147.7 305.8,149.9 305.3,150.9 304.8,149.6 304.5,147.7 304.6,145.1 305.3,144.7 305.7,146.1Z M310.1,147.9 309.7,149.8 309.3,150.9 308.6,151.0 308.7,147.9 308.8,145.7 309.3,144.4 309.8,145.6Z M314.9,147.9 314.6,150.5 313.8,151.3 313.2,149.6 312.5,147.9 313.1,145.8 313.8,143.8 314.3,146.2Z M318.3,147.3 318.3,150.0 317.8,151.0 317.3,149.8 317.2,147.3 317.3,144.8 317.8,143.5 318.3,144.8Z M305.3,153.2 304.8,154.2 304.2,155.0 303.1,154.8 303.1,153.2 303.6,152.3 304.2,151.2 305.1,151.7Z M308.3,153.5 308.1,155.3 307.7,157.2 307.3,155.3 307.0,153.5 307.4,152.2 307.7,149.7 308.2,151.5Z M313.7,153.6 313.6,156.1 313.0,156.9 312.4,155.9 312.2,153.6 312.3,150.8 313.0,151.6 313.7,150.5Z M318.6,151.9 318.1,153.3 317.2,154.2 316.5,153.2 316.1,151.9 316.4,150.4 317.2,149.4 317.9,150.8Z M322.3,152.8 322.5,155.6 321.4,155.8 320.3,155.4 320.3,152.8 320.6,151.0 321.4,148.1 322.1,150.9Z M305.9,155.6 305.6,157.6 305.0,158.9 304.5,157.2 304.3,155.6 304.2,152.9 305.0,153.0 305.5,154.0Z M309.6,156.0 309.5,157.3 309.0,157.1 308.7,157.0 308.5,156.0 308.7,154.9 309.0,154.5 309.3,155.2Z M313.7,155.4 313.6,158.5 313.0,158.9 312.7,157.3 312.2,155.4 312.4,152.3 313.0,152.3 313.4,153.2Z M317.9,155.8 317.3,156.7 316.6,157.7 315.6,157.1 315.3,155.8 316.0,154.8 316.6,153.9 317.7,154.3Z M321.7,155.2 321.8,157.5 321.0,157.7 320.5,156.5 319.8,155.2 320.3,153.3 321.0,152.8 321.7,153.3Z M306.2,160.7 306.1,163.3 305.7,162.3 305.4,163.0 305.3,160.7 305.4,158.4 305.7,157.8 305.9,159.2Z M311.1,161.2 310.9,163.9 309.8,163.6 308.9,163.6 308.8,161.2 308.8,158.5 309.8,158.3 310.5,159.3Z M315.3,159.4 315.3,161.7 314.9,162.3 314.6,160.9 314.5,159.4 314.5,157.1 314.9,156.7 315.2,157.7Z M320.9,160.9 320.8,162.1 320.3,163.1 319.9,162.0 319.7,160.9 319.8,159.5 320.3,159.3 320.8,159.6Z M303.6,162.7 303.3,164.1 302.5,164.6 301.7,164.0 301.7,162.7 301.5,161.1 302.5,161.0 303.2,161.6Z M308.6,165.4 308.3,167.1 307.9,167.7 307.2,167.7 307.3,165.4 307.4,163.7 307.9,162.3 308.3,163.9Z M312.7,164.4 312.4,166.0 311.6,166.5 311.0,165.6 310.5,164.4 310.8,162.8 311.6,162.0 312.2,163.2Z M315.7,164.4 315.6,166.7 315.2,166.5 314.7,166.7 314.5,164.4 314.9,162.8 315.2,161.9 315.6,162.1Z M319.9,165.4 319.4,166.7 318.8,167.2 318.0,167.0 317.9,165.4 318.0,163.8 318.8,163.8 319.4,164.0Z M304.2,168.2 304.1,170.9 303.3,172.4 302.8,169.8 302.2,168.2 302.4,165.4 303.3,164.5 303.9,166.1Z M309.0,169.6 309.0,171.2 308.1,171.4 307.5,170.6 307.1,169.6 307.2,168.2 308.1,167.6 308.6,168.7Z M313.3,167.7 312.6,168.7 312.3,171.2 311.6,170.1 311.5,167.7 311.8,166.0 312.3,164.5 312.9,165.4Z M317.8,167.5 317.5,169.3 316.7,169.8 316.2,168.9 315.5,167.5 316.1,166.0 316.7,165.0 317.3,166.1Z M322.7,166.8 322.2,169.0 321.7,170.3 321.1,169.5 320.8,166.8 321.2,164.4 321.7,163.8 322.4,163.8Z M305.9,172.4 305.8,174.6 305.3,174.3 304.9,174.1 304.8,172.4 304.8,170.2 305.3,170.0 305.6,170.9Z M310.1,173.6 309.7,174.5 309.4,175.6 308.9,174.8 308.8,173.6 308.8,172.5 309.4,171.8 309.8,172.6Z M314.5,172.2 314.4,173.7 314.0,175.4 313.7,173.8 313.6,172.2 313.7,170.8 314.0,168.9 314.4,170.7Z M321.4,171.2 320.9,173.2 320.5,174.8 319.8,174.4 319.8,171.2 319.8,168.1 320.5,168.8 321.2,167.9Z M307.5,177.9 307.4,179.3 307.1,179.6 306.7,179.5 306.6,177.9 306.8,176.7 307.1,176.1 307.5,176.1Z M312.2,178.3 312.0,180.9 311.7,182.0 311.5,179.8 311.2,178.3 311.3,175.1 311.7,175.9 312.0,176.0Z M316.5,177.3 316.0,179.5 315.2,180.1 314.3,179.9 314.0,177.3 314.5,175.1 315.2,174.1 316.2,174.6Z M320.4,175.6 320.3,176.5 320.0,177.4 319.6,176.6 319.4,175.6 319.8,175.0 320.0,173.8 320.4,174.4Z M308.7,181.9 308.6,183.7 307.8,185.0 306.9,184.1 306.7,181.9 307.2,180.3 307.8,178.9 308.9,179.2Z M313.5,179.7 313.2,181.2 312.5,182.5 311.7,181.5 311.5,179.7 311.7,178.0 312.5,177.1 313.5,177.7Z M317.8,181.9 317.3,183.5 316.8,185.5 316.1,184.0 315.8,181.9 316.2,180.2 316.8,178.5 317.5,179.7Z M308.8,186.1 308.2,188.2 307.6,189.3 306.7,189.4 306.5,186.1 307.1,184.2 307.6,181.6 308.2,183.7Z M312.2,185.9 312.0,187.1 311.6,187.6 311.3,187.0 311.1,185.9 311.1,184.4 311.6,184.4 311.9,184.8Z M316.2,185.3 315.8,186.2 315.4,186.9 315.0,186.1 314.7,185.3 314.9,184.3 315.4,184.0 315.8,184.5Z M309.0,187.4 308.7,188.5 308.1,189.3 307.8,188.1 307.2,187.4 307.4,186.1 308.1,185.8 308.6,186.5Z M313.0,188.8 313.1,190.9 312.2,190.4 311.6,190.5 311.4,188.8 311.5,187.1 312.2,186.7 312.8,187.4Z M318.2,188.5 317.6,190.0 317.0,191.2 316.0,190.9 315.8,188.5 316.5,187.2 317.0,185.1 317.8,186.4Z M312.9,207.7 312.8,209.4 312.0,209.3 311.3,209.2 311.2,207.7 311.3,206.4 312.0,205.4 312.4,206.7Z M307.9,198.9 307.5,200.2 307.0,201.7 306.4,200.7 306.2,198.9 306.6,197.6 307.0,196.2 307.7,197.1Z M314.1,190.5 313.8,191.7 313.4,192.3 313.0,191.8 312.6,190.5 313.0,189.1 313.4,188.9 313.9,189.0Z M309.4,196.8 308.9,197.6 308.4,197.9 307.7,197.8 307.5,196.8 307.7,195.8 308.4,195.9 309.0,195.8Z M321.6,202.1 321.6,203.3 320.7,203.5 320.3,202.7 319.4,202.1 320.0,201.1 320.7,200.9 321.4,201.2Z M308.1,190.3 308.2,191.4 307.1,191.5 306.3,191.0 305.8,190.3 306.1,189.4 307.1,189.2 308.0,189.5Z M313.6,192.9 313.6,194.0 312.9,193.9 312.4,193.7 312.1,192.9 312.3,192.0 312.9,191.8 313.4,192.1Z M306.7,202.4 306.6,204.4 305.5,204.1 304.4,204.2 304.4,202.4 304.4,200.5 305.5,199.9 306.2,201.1Z M308.4,212.5 308.3,213.2 308.0,213.8 307.6,213.5 307.6,212.5 307.7,211.7 308.0,211.2 308.4,211.5Z M316.5,210.5 315.9,211.9 315.5,212.9 315.0,212.2 314.7,210.5 315.0,208.7 315.5,208.5 316.0,208.9Z M311.3,201.5 311.0,202.7 310.6,204.6 310.2,202.8 310.0,201.5 310.1,199.9 310.6,199.1 311.1,199.9Z M321.1,196.9 320.8,198.9 320.2,199.0 319.7,198.5 319.4,196.9 319.5,194.7 320.2,194.5 320.5,195.7Z M315.4,212.6 315.2,213.5 314.7,214.1 314.1,213.6 314.0,212.6 314.2,211.7 314.7,211.3 315.3,211.6Z M312.3,199.9 312.1,201.0 311.8,201.8 311.5,200.9 311.2,199.9 311.5,199.0 311.8,197.9 312.1,198.8Z M311.6,194.5 311.4,195.3 311.0,195.2 310.5,195.4 310.5,194.5 310.6,193.7 311.0,193.4 311.4,193.7Z M311.4,191.3 311.3,192.4 311.0,193.0 310.7,192.2 310.6,191.3 310.6,190.1 311.0,189.9 311.2,190.4Z M307.6,212.9 307.0,214.2 306.2,214.8 305.3,214.4 304.7,212.9 305.3,211.4 306.2,211.4 307.3,211.1Z M305.3,212.0 305.0,213.7 304.7,214.4 304.5,212.9 304.1,212.0 304.3,210.2 304.7,210.1 305.0,210.8Z M311.9,199.2 311.7,200.4 311.3,200.7 310.7,200.9 310.8,199.2 310.8,197.9 311.3,197.3 311.7,198.0Z M319.2,199.6 318.8,201.2 318.0,202.7 317.1,201.5 316.9,199.6 317.3,198.2 318.0,196.3 318.9,197.8Z M311.5,207.2 311.6,208.0 310.8,208.5 310.3,207.7 309.8,207.2 310.2,206.5 310.8,206.0 311.6,206.5Z M312.6,190.1 312.6,192.1 312.1,192.2 311.7,191.9 311.6,190.1 311.7,188.5 312.1,187.5 312.4,188.6Z M328.1,200.1 326.9,205.4 325.9,211.3 323.6,216.8 321.3,221.4 318.1,225.3 314.7,228.8 311.2,230.9 307.2,229.8 303.8,225.8 301.6,220.6 299.2,216.3 296.9,210.9 296.1,205.3 295.1,200.0 294.7,197.1 295.3,194.7 297.4,192.0 300.3,190.6 304.3,189.5 307.6,188.4 311.0,187.9 314.9,187.7 318.7,189.3 321.1,191.2 324.0,192.6 326.3,194.6 328.0,197.1Z M327.6,200.0 327.1,205.0 325.7,209.7 323.6,214.1 320.5,217.9 317.6,220.5 314.3,221.2 311.2,221.5 308.1,221.0 304.8,220.7 300.8,218.9 298.2,215.3 296.7,209.9 295.8,204.7 295.9,199.6 295.3,197.6 296.2,194.9 298.3,192.5 301.3,191.0 305.0,189.8 307.8,189.5 311.4,189.3 314.0,189.7 317.4,190.0 320.6,190.9 323.5,192.6 326.2,194.9 327.2,197.2Z M327.0,199.8 326.0,204.3 324.6,208.5 322.3,211.9 319.5,214.8 317.0,217.7 314.2,220.0 311.3,220.8 308.3,219.9 305.4,218.2 302.1,216.1 299.4,213.1 297.4,208.8 296.3,204.1 296.2,199.5 297.0,197.8 297.9,195.7 300.4,193.4 302.8,191.6 305.2,190.3 308.0,189.0 311.1,188.7 313.8,189.6 316.8,191.2 319.4,192.5 322.2,193.5 325.2,195.3 327.0,197.7Z M324.7,200.0 325.1,203.7 323.8,207.5 322.3,211.5 319.3,214.2 316.3,216.0 313.9,218.0 311.1,218.8 308.6,218.4 306.1,216.1 303.2,213.8 300.7,210.9 298.8,207.8 297.3,203.8 297.7,199.6 297.9,198.2 298.6,195.3 299.8,193.2 302.8,191.8 306.3,191.7 309.1,191.2 311.0,190.4 314.0,189.4 316.7,190.4 319.6,191.9 321.6,193.6 323.4,196.0 324.5,198.1Z M323.0,199.9 322.6,202.6 321.6,206.1 320.4,209.7 318.9,213.2 316.2,216.0 313.4,217.7 311.5,218.5 308.8,217.2 306.0,215.5 303.8,212.8 301.5,210.2 299.5,207.1 298.6,202.9 299.1,200.0 300.4,198.3 301.2,196.7 302.5,194.5 303.9,192.4 306.1,191.1 308.9,190.2 311.2,189.2 313.8,189.8 316.7,190.1 319.0,192.3 321.1,193.8 322.5,196.1 323.1,198.4Z M322.0,200.0 321.9,202.2 321.0,205.2 319.6,208.2 317.9,211.4 315.5,214.4 313.2,216.4 311.1,216.5 309.2,216.2 306.7,213.9 304.5,211.8 302.5,209.0 301.0,205.5 299.5,202.4 299.3,199.5 300.3,198.0 302.2,196.9 303.6,195.0 304.8,193.4 306.7,191.8 309.0,190.2 311.1,189.9 313.3,189.7 316.0,190.8 318.1,192.8 319.8,194.6 321.2,196.8 321.4,198.1Z M321.8,199.9 322.2,202.5 321.5,205.7 319.8,208.6 317.0,211.0 315.0,212.4 312.9,213.5 311.5,213.7 309.6,213.4 307.3,212.3 304.7,211.1 303.3,208.3 302.1,204.9 301.9,201.9 301.4,199.5 301.1,198.5 301.2,196.3 302.4,194.2 304.9,192.7 307.2,191.7 309.2,191.2 311.3,191.3 313.1,192.1 314.9,192.9 316.5,193.6 318.6,194.8 320.5,196.9 321.4,198.3Z M345.9,201.2 345.6,202.4 345.0,203.0 344.3,202.8 344.4,201.2 344.4,199.8 345.0,199.2 345.6,199.9Z M341.5,207.3 341.4,209.3 341.0,209.8 340.8,208.6 340.6,207.3 340.7,205.4 341.0,204.9 341.3,205.9Z M349.3,195.8 349.4,197.4 348.9,197.6 348.6,196.8 348.4,195.8 348.4,194.4 348.9,194.0 349.3,194.8Z M350.9,195.9 350.8,196.6 350.5,197.3 350.3,196.5 350.1,195.9 350.2,195.2 350.5,194.8 350.8,195.2Z M343.3,203.7 343.2,205.2 342.4,204.9 341.8,204.7 341.4,203.7 341.8,202.7 342.4,201.9 342.8,203.0Z M350.3,211.1 350.1,213.2 349.4,213.4 349.0,212.6 348.5,211.1 348.8,209.2 349.4,208.7 349.9,209.6Z M349.6,199.5 349.4,200.2 348.8,200.6 348.1,200.3 347.9,199.5 348.1,198.7 348.8,198.7 349.6,198.6Z M349.8,209.2 349.3,209.8 348.8,210.1 348.1,210.0 347.7,209.2 348.4,208.8 348.8,208.3 349.6,208.5Z M353.4,212.6 352.9,213.1 352.3,213.6 351.5,213.3 351.4,212.6 351.5,211.8 352.3,211.8 353.1,211.8Z M343.5,202.8 343.2,204.2 342.9,205.0 342.3,204.9 342.2,202.8 342.5,201.3 342.9,200.8 343.5,200.4Z M345.3,209.6 345.1,211.3 344.2,212.1 343.3,211.3 343.2,209.6 343.4,208.0 344.2,206.5 345.0,208.2Z M341.3,204.6 341.0,205.1 340.7,205.2 340.3,205.5 340.3,204.6 340.4,203.9 340.7,203.8 341.0,203.9Z M347.3,213.6 347.4,215.9 346.3,215.7 345.5,215.3 345.0,213.6 345.4,211.7 346.3,211.2 347.2,211.7Z M348.0,200.6 347.8,201.8 347.3,202.8 347.0,201.6 346.6,200.6 346.9,199.4 347.3,198.7 347.8,199.5Z M359.9,200.2 359.6,206.0 358.3,212.2 356.5,217.0 354.7,221.6 352.5,225.6 350.4,228.0 347.6,228.3 344.7,228.3 342.7,225.6 340.2,221.3 339.3,216.4 337.8,211.2 336.4,206.0 335.7,200.1 336.7,197.2 337.6,194.9 338.1,192.0 339.6,189.7 342.1,187.9 345.0,187.4 347.4,187.3 350.1,187.8 352.4,188.8 354.4,190.9 355.9,192.8 357.2,194.8 359.0,197.1Z M358.0,199.8 358.4,204.8 357.4,210.1 356.2,214.6 354.8,218.7 352.4,221.8 350.2,223.8 347.6,225.1 344.9,224.4 342.7,222.2 341.0,218.6 339.2,214.0 338.0,209.1 337.5,204.6 337.2,199.8 337.0,197.4 337.9,195.0 338.7,192.7 340.1,189.7 342.4,188.5 345.2,188.1 347.8,188.2 349.9,188.0 352.1,189.0 354.7,190.2 356.3,192.8 356.9,195.5 357.5,197.9Z M358.5,200.1 356.9,204.0 356.2,208.0 354.8,211.9 354.0,216.2 351.8,219.9 349.8,221.2 347.5,221.6 345.3,221.6 343.3,220.3 341.0,217.0 339.4,213.3 338.3,208.8 337.1,204.2 337.0,199.7 337.3,197.7 338.5,195.3 340.0,193.7 341.6,191.9 343.5,190.2 345.7,189.1 347.8,187.9 350.1,187.4 352.2,188.6 354.3,190.7 355.6,193.0 357.2,194.9 358.2,197.3Z M358.1,199.9 357.2,203.5 356.2,207.5 355.2,211.7 353.8,215.5 351.5,218.1 349.8,219.6 347.9,220.0 345.9,218.4 344.2,216.0 342.1,213.6 340.2,211.4 338.2,208.1 337.1,203.9 336.8,200.1 337.6,198.0 337.9,195.4 339.8,193.1 341.5,191.8 344.0,190.8 346.0,189.7 347.4,189.0 349.2,189.4 351.5,190.5 353.4,192.3 354.8,193.8 356.8,195.2 358.0,197.9Z M356.1,200.3 356.1,203.1 356.1,207.3 354.9,211.0 353.6,214.3 351.1,216.3 349.2,217.7 347.5,218.9 345.8,218.0 344.2,216.0 342.3,214.2 340.4,211.4 338.6,207.7 338.8,203.2 339.3,199.9 339.3,198.5 339.4,196.2 340.4,193.6 342.2,192.0 344.2,190.5 346.1,189.8 347.6,188.9 349.6,188.7 351.6,189.8 353.4,191.6 354.4,193.9 355.8,196.1 356.4,198.4Z"/><path class="ct" d="M308.5,136.7 307.9,137.4 307.4,138.3 306.8,137.6 306.4,136.7 306.7,135.8 307.4,135.5 308.2,135.7Z M314.4,138.1 313.9,139.6 313.0,140.1 312.2,139.5 311.4,138.1 312.2,136.7 313.0,136.3 314.0,136.3Z M318.2,136.8 318.0,138.8 317.6,139.5 317.1,139.6 317.2,136.8 317.2,134.9 317.6,133.4 318.0,134.8Z M323.0,138.4 323.1,139.5 322.1,139.8 321.5,139.2 321.1,138.4 321.3,137.3 322.1,137.0 322.9,137.5Z M306.0,140.5 305.9,142.8 305.1,142.8 304.7,141.6 303.7,140.5 304.5,139.0 305.1,137.8 305.6,139.1Z M310.9,139.9 310.6,142.8 309.7,142.3 308.9,142.1 308.2,139.9 308.8,137.3 309.7,137.7 310.6,137.3Z M314.1,141.5 314.0,143.8 313.6,143.8 313.3,143.2 313.2,141.5 313.2,139.3 313.6,139.1 313.9,140.1Z M321.8,141.0 321.3,142.8 320.5,143.4 319.5,143.3 319.2,141.0 319.9,139.4 320.5,137.9 321.3,138.9Z M303.9,143.8 303.7,146.2 303.1,147.2 302.8,145.3 302.3,143.8 302.6,141.5 303.1,140.7 303.6,141.9Z M309.0,145.3 308.7,146.4 308.0,147.1 307.1,146.7 307.0,145.3 307.3,144.2 308.0,144.0 309.1,143.7Z M313.7,144.5 312.9,146.4 312.4,147.6 311.6,147.0 311.3,144.5 311.5,141.8 312.4,142.2 313.1,142.0Z M318.2,143.6 318.1,144.8 317.4,145.0 316.9,144.4 316.6,143.6 316.8,142.5 317.4,141.9 317.9,142.8Z M303.5,147.5 303.4,150.0 303.0,152.0 302.5,149.8 302.3,147.5 302.6,145.6 303.0,142.6 303.4,145.1Z M308.3,149.7 307.9,151.9 307.2,151.9 306.4,152.5 306.3,149.7 306.8,148.1 307.2,146.1 307.8,147.9Z M311.8,147.9 311.7,149.0 311.2,149.3 310.7,149.0 310.6,147.9 310.8,147.0 311.2,145.8 311.5,147.1Z M316.5,147.5 316.1,149.7 315.7,150.7 315.1,150.7 315.0,147.5 315.3,145.1 315.7,144.3 316.2,144.4Z M320.5,147.8 320.4,149.2 319.9,149.2 319.3,149.2 319.1,147.8 319.5,146.8 319.9,145.9 320.4,146.4Z M306.8,152.9 306.6,155.6 306.0,155.9 305.5,155.3 305.1,152.9 305.3,149.9 306.0,151.0 306.7,149.7Z M311.0,153.5 310.6,155.6 309.8,157.2 309.2,154.9 308.3,153.5 308.9,151.1 309.8,150.9 310.7,151.2Z M316.2,153.2 316.0,155.2 315.6,154.7 315.2,154.8 315.0,153.2 315.2,151.6 315.6,151.1 315.9,151.9Z M320.5,151.2 320.3,153.6 319.5,155.2 318.6,153.8 318.4,151.2 318.8,149.1 319.5,146.9 320.4,148.5Z M304.2,156.0 303.9,157.5 303.1,158.2 302.2,157.9 301.8,156.0 302.5,154.8 303.1,153.6 304.2,153.9Z M307.4,157.4 307.2,158.7 306.8,159.2 306.4,158.5 306.4,157.4 306.2,155.8 306.8,155.5 307.1,156.6Z M310.8,156.8 310.5,158.3 310.1,159.4 309.6,158.8 309.3,156.8 309.8,155.6 310.1,154.1 310.7,154.7Z M315.4,157.1 315.4,158.2 314.8,158.8 314.1,158.4 314.2,157.1 314.2,156.1 314.8,155.2 315.4,155.9Z M320.0,157.5 319.8,159.3 319.4,161.5 319.0,159.7 319.0,157.5 318.9,154.6 319.4,154.2 319.8,155.4Z M305.0,158.8 304.7,160.5 304.3,161.6 303.7,161.7 303.9,158.8 303.9,157.0 304.3,155.6 304.8,156.6Z M309.3,159.2 308.6,160.2 308.0,160.9 307.1,160.6 306.9,159.2 307.3,158.0 308.0,157.4 308.8,157.9Z M313.3,161.4 313.1,162.8 312.8,164.0 312.2,163.6 312.2,161.4 312.3,159.5 312.8,159.4 313.3,159.0Z M318.1,160.4 317.9,161.7 317.2,162.8 316.3,162.1 316.0,160.4 316.5,159.1 317.2,158.5 318.4,158.1Z M323.1,159.2 322.7,160.3 322.0,161.0 321.6,159.8 320.8,159.2 321.2,158.0 322.0,157.9 322.6,158.3Z M306.5,164.7 306.4,167.6 305.8,167.0 305.2,167.2 305.1,164.7 305.2,162.0 305.8,161.3 306.2,162.8Z M309.5,163.5 309.5,164.9 309.1,165.0 308.8,165.1 308.8,163.5 308.9,162.5 309.1,161.5 309.5,162.3Z M313.3,165.4 313.3,166.9 312.9,167.8 312.6,166.6 312.5,165.4 312.5,163.9 312.9,163.0 313.3,164.1Z M317.2,163.4 316.8,165.6 316.6,166.6 316.3,166.2 316.1,163.4 316.3,161.0 316.6,159.4 316.8,161.3Z M321.6,163.2 321.4,164.0 321.0,164.8 320.4,164.5 320.7,163.2 320.5,162.2 321.0,161.7 321.5,162.3Z M306.9,169.0 306.2,169.7 305.8,171.6 305.1,170.2 304.8,169.0 305.1,167.8 305.8,167.2 306.6,167.4Z M310.8,168.1 310.6,169.7 310.2,171.9 309.5,170.3 309.6,168.1 309.5,165.9 310.2,165.4 310.9,165.6Z M315.3,168.6 314.7,169.8 314.3,171.0 313.6,170.3 313.2,168.6 313.8,167.5 314.3,166.4 315.0,166.8Z M319.3,167.1 319.2,169.4 318.7,169.0 318.2,169.5 318.1,167.1 318.3,165.2 318.7,164.5 319.1,164.9Z M303.9,172.7 304.0,174.6 303.5,175.3 303.2,174.4 303.0,172.7 303.2,171.1 303.5,170.5 304.1,170.4Z M308.2,172.3 308.0,174.0 307.6,175.2 307.2,173.6 307.1,172.3 307.0,170.2 307.6,169.8 307.9,171.2Z M312.8,173.0 312.1,174.5 311.6,175.8 310.8,175.3 310.6,173.0 310.9,171.1 311.6,170.4 312.4,170.7Z M319.4,171.8 319.4,173.3 318.8,173.6 318.2,173.3 318.0,171.8 318.4,170.8 318.8,169.5 319.4,170.2Z M305.6,177.6 305.8,180.6 305.0,181.4 304.6,179.0 304.0,177.6 304.4,175.2 305.0,174.1 305.6,175.2Z M310.2,175.9 310.0,177.4 309.6,178.2 309.2,177.4 309.1,175.9 309.0,173.9 309.6,173.9 309.9,174.6Z M314.6,176.1 314.5,177.6 314.2,178.7 313.9,178.2 313.9,176.1 313.9,174.4 314.2,173.9 314.7,173.5Z M318.2,177.1 317.9,179.2 317.5,180.4 317.1,179.2 316.9,177.1 317.1,174.7 317.5,173.9 317.8,175.1Z M306.0,179.7 305.7,182.2 305.0,181.9 304.5,181.6 304.1,179.7 304.5,177.7 305.0,176.3 305.4,178.2Z M310.1,180.6 309.9,183.1 309.5,184.6 309.1,183.5 309.1,180.6 309.1,177.8 309.5,176.7 309.9,177.9Z M315.4,181.5 315.3,184.6 314.9,184.4 314.6,184.1 314.4,181.5 314.6,179.1 314.9,177.5 315.2,179.3Z M320.1,179.6 319.8,181.3 319.5,183.7 319.1,182.0 319.0,179.6 319.1,177.3 319.5,175.6 319.8,177.4Z M310.2,186.0 310.3,187.0 309.9,187.5 309.5,187.1 309.5,186.0 309.7,185.3 309.9,184.5 310.4,184.8Z M314.8,184.9 314.6,188.1 313.6,187.3 312.8,187.5 312.3,184.9 312.9,182.7 313.6,180.8 314.2,183.1Z M318.9,184.6 318.9,186.4 318.1,186.8 317.1,186.8 317.5,184.6 317.4,182.8 318.1,181.7 318.9,182.8Z M310.9,187.9 310.6,190.3 310.2,190.8 309.8,190.4 309.5,187.9 309.9,186.0 310.2,184.3 310.6,185.5Z M315.2,189.9 315.2,191.7 314.8,192.1 314.4,191.7 314.3,189.9 314.5,188.5 314.8,186.7 315.1,188.5Z M321.7,136.3 320.8,137.3 318.2,138.0 314.7,138.4 310.8,138.4 307.1,138.0 304.5,137.3 303.8,136.3 304.8,135.3 307.4,134.6 310.8,134.2 314.7,134.1 318.4,134.5 320.8,135.3Z M320.2,136.3 319.5,137.1 317.3,137.7 314.4,138.1 311.0,138.1 308.0,137.8 305.7,137.1 305.0,136.3 306.2,135.5 308.2,134.9 311.1,134.5 314.5,134.4 317.7,134.8 319.5,135.5Z M319.1,136.3 318.2,136.9 316.4,137.4 314.1,137.8 311.3,137.8 308.7,137.5 307.2,136.9 306.7,136.3 307.1,135.6 308.9,135.1 311.4,134.8 314.2,134.7 316.6,135.1 318.4,135.6Z M317.9,136.3 317.0,136.8 315.6,137.2 313.8,137.5 311.7,137.5 309.7,137.2 308.1,136.8 307.8,136.3 308.4,135.8 309.7,135.4 311.7,135.2 313.8,135.1 315.8,135.3 317.3,135.7Z M316.5,136.3 315.9,136.7 314.9,137.0 313.5,137.1 312.0,137.1 310.5,137.0 309.6,136.7 309.0,136.3 309.4,135.9 310.6,135.6 312.0,135.5 313.5,135.5 314.9,135.6 316.1,135.9Z M299.5,220.2 302.4,220.1 305.3,220.0 308.3,220.1 311.2,220.0 314.1,219.6 317.1,219.8 320.0,219.9 322.9,220.0 M298.8,219.4 301.9,219.4 305.0,219.6 308.1,219.0 311.2,218.9 314.3,219.1 317.4,219.0 320.5,219.2 323.6,218.9 M302.0,218.4 304.3,218.5 306.6,218.7 308.9,218.6 311.2,218.7 313.5,218.3 315.8,218.4 318.1,218.6 320.4,218.4 M303.9,217.7 305.7,217.6 307.5,217.4 309.4,217.6 311.2,217.6 313.0,218.0 314.9,217.5 316.7,217.6 318.5,217.5 M304.3,217.1 306.0,217.3 307.7,217.0 309.5,217.0 311.2,217.3 312.9,217.2 314.7,216.9 316.4,216.9 318.1,217.2 M320.9,199.5 320.3,201.5 319.5,204.4 318.2,207.3 316.7,209.9 314.9,211.7 312.5,212.9 311.4,213.2 309.6,212.6 308.2,211.3 306.1,208.8 305.4,205.8 303.6,203.6 301.6,201.8 300.8,199.8 301.0,198.6 302.3,197.0 304.5,195.2 306.2,193.9 307.7,192.7 309.7,191.5 311.3,191.6 312.6,191.7 314.4,192.3 316.5,193.7 318.0,195.3 319.5,196.8 320.3,198.3Z M320.5,199.6 320.4,202.0 319.9,204.4 318.5,206.9 316.0,208.8 314.4,210.0 312.7,211.6 311.3,212.2 309.7,212.1 308.1,210.9 305.9,209.1 303.8,207.4 302.6,204.1 301.5,201.7 301.7,199.6 302.1,198.4 303.2,196.8 304.5,195.4 306.1,194.0 308.1,193.0 309.7,192.0 311.2,192.1 312.7,192.3 314.7,192.9 316.6,193.6 318.3,195.0 319.9,196.7 320.2,198.8Z M320.7,199.7 320.7,201.5 319.9,204.1 318.2,206.9 316.2,208.7 314.3,210.4 312.5,212.0 311.3,212.5 310.1,212.5 308.2,211.0 306.2,208.5 304.9,205.9 303.6,203.5 302.7,201.3 301.4,200.0 301.9,198.5 303.0,196.7 304.5,195.6 306.4,194.3 308.0,192.8 309.7,191.8 311.0,191.8 312.3,192.6 313.8,193.6 315.7,194.3 317.9,195.2 319.3,196.9 320.1,198.5Z M319.6,200.0 319.0,201.4 318.8,203.5 317.7,206.2 316.0,208.6 314.2,210.3 312.6,211.7 311.3,212.3 309.6,211.9 308.3,210.9 306.1,209.4 305.0,206.2 303.9,203.6 303.1,201.8 302.2,199.8 302.1,198.5 303.3,196.9 305.0,195.4 306.3,194.0 308.3,192.9 310.1,192.5 311.1,192.4 312.3,192.7 314.2,192.9 316.5,193.2 318.5,194.7 319.4,197.1 319.5,198.4Z M319.4,199.6 319.5,201.5 318.9,204.0 317.6,206.5 316.1,208.2 314.0,210.1 312.3,211.0 311.2,210.6 310.0,210.9 308.2,210.2 306.3,208.9 304.7,206.7 302.9,204.4 302.5,201.8 302.2,200.0 302.9,198.6 304.3,197.4 305.3,195.6 306.7,194.2 308.6,193.3 309.9,192.8 311.1,192.3 312.3,192.5 314.2,193.0 316.1,193.9 317.9,195.5 319.0,197.2 319.2,198.6Z M319.4,200.1 318.6,201.5 318.0,203.5 317.3,206.2 316.1,208.8 314.2,210.7 312.5,211.4 311.2,212.0 309.9,211.7 308.1,210.4 306.6,208.1 305.5,206.1 304.4,203.5 303.7,201.0 303.1,199.5 303.0,198.8 303.8,197.1 304.6,195.5 306.7,194.2 308.5,193.3 310.1,192.6 311.0,192.1 312.2,191.9 314.3,192.9 315.3,194.3 317.2,196.1 318.4,197.5 319.1,198.8Z M318.4,199.8 318.3,200.9 317.6,203.3 316.7,205.2 315.8,207.9 314.1,210.4 312.4,211.9 311.1,211.6 309.8,210.5 308.3,209.5 306.9,208.6 305.1,206.2 304.0,203.8 303.1,201.2 303.2,199.9 303.4,199.0 304.3,197.3 305.7,196.0 307.1,194.7 308.8,193.4 309.8,192.4 311.1,192.0 312.6,192.4 314.2,192.5 316.1,193.7 317.6,195.5 318.5,197.5 318.8,198.9Z M319.0,199.7 318.7,201.5 318.2,203.5 316.7,205.5 315.1,207.6 313.5,208.3 312.5,209.7 311.2,211.4 309.8,211.8 308.7,210.1 306.9,207.5 306.0,205.5 304.8,203.2 303.4,201.3 303.0,199.6 303.4,198.7 304.0,197.1 305.1,195.6 306.9,194.6 308.7,193.8 310.4,193.1 311.2,192.5 312.3,192.7 313.9,193.4 315.3,194.3 317.4,195.2 318.9,196.9 318.9,198.8Z M318.5,200.1 317.6,200.8 317.2,202.9 316.6,205.1 315.4,208.1 314.1,209.7 312.1,211.5 311.3,211.7 309.9,210.6 308.9,209.1 307.6,207.1 306.4,204.9 304.9,203.3 304.2,201.1 303.9,199.8 304.2,198.9 304.7,197.6 305.9,195.6 307.0,194.4 308.5,193.6 309.9,192.5 311.0,192.4 312.1,192.7 313.9,193.3 315.4,194.8 316.7,195.7 317.8,197.5 318.7,198.7Z M318.7,199.7 318.1,201.4 317.7,203.1 316.9,205.4 315.4,208.0 313.8,208.7 312.2,209.4 310.9,209.6 310.0,209.9 308.5,209.1 307.5,207.3 305.9,205.2 305.2,202.9 304.1,201.0 303.6,199.5 303.9,198.7 304.8,197.2 305.6,195.9 307.5,194.9 309.0,193.7 310.1,193.4 311.2,192.7 312.0,192.8 313.7,193.5 315.3,194.5 316.5,196.1 317.9,197.5 318.1,198.8Z M318.2,200.0 317.6,201.2 317.1,202.9 316.1,205.0 315.0,207.3 313.6,208.7 312.1,209.7 311.4,210.0 310.0,210.0 308.5,209.2 307.1,207.1 305.9,205.2 305.1,203.3 304.4,201.2 304.4,199.5 304.9,199.1 306.0,197.6 306.3,196.2 307.2,194.9 308.5,193.3 310.5,192.2 311.1,192.7 312.0,193.0 313.3,193.3 315.0,194.9 316.1,195.9 316.8,197.8 317.5,199.2Z M318.2,199.6 318.3,201.0 317.6,203.0 316.0,204.9 314.8,207.1 313.2,208.2 311.7,208.8 311.3,208.6 310.4,209.0 308.8,208.9 307.4,207.5 306.3,205.3 305.3,202.8 304.4,200.8 303.7,199.7 304.3,199.1 305.4,197.6 306.7,196.1 307.5,195.1 309.1,193.5 310.1,193.1 311.0,192.8 312.0,193.1 313.0,193.8 314.6,194.8 316.0,196.1 317.3,197.9 317.8,199.1Z M318.4,199.8 318.1,201.1 317.4,203.1 315.9,204.6 314.2,206.3 313.3,207.1 312.2,208.2 311.0,208.7 310.3,209.2 308.9,208.8 307.7,207.2 306.2,204.9 304.9,203.2 304.8,201.2 304.4,200.0 304.8,199.0 305.3,197.8 306.9,196.6 307.9,195.2 309.1,194.1 310.6,193.2 311.3,193.1 312.1,193.4 312.9,193.8 314.7,194.7 316.0,196.1 317.5,197.8 317.6,199.0Z M317.7,200.1 317.4,200.9 316.8,202.6 315.7,205.0 314.7,206.7 313.2,207.6 311.8,208.6 311.4,209.9 310.2,209.5 309.0,208.2 308.2,206.3 306.7,204.3 306.1,202.6 305.6,200.7 305.3,199.8 305.0,198.8 305.3,197.6 305.9,196.2 307.6,194.5 309.1,193.9 310.5,194.0 311.0,193.5 311.8,193.0 313.5,194.2 314.2,195.2 315.9,196.2 316.5,197.6 317.4,199.2Z M316.7,199.6 316.5,200.7 316.0,202.1 315.2,203.7 314.1,205.6 312.9,207.1 311.6,207.4 311.2,208.1 310.4,207.5 309.8,206.9 308.8,205.6 307.7,203.7 306.3,202.5 305.9,200.6 304.9,199.6 305.3,198.9 306.7,197.7 307.6,197.0 308.5,195.9 309.9,195.1 310.9,194.4 311.3,193.9 311.6,193.9 312.8,194.3 313.6,195.5 315.3,196.5 316.0,198.1 316.7,199.3Z M315.2,200.0 315.4,200.3 315.1,202.1 314.2,203.2 313.5,204.8 312.4,206.2 311.7,207.1 311.3,207.4 310.9,206.9 310.1,205.9 309.0,204.7 308.3,203.1 307.6,202.1 306.8,200.7 306.8,199.7 307.4,199.1 307.6,198.1 308.0,197.1 309.1,195.6 309.7,194.8 310.5,194.5 310.9,193.7 311.4,194.1 312.8,194.9 313.6,195.7 314.2,197.2 314.5,198.2 314.9,199.3Z M314.1,199.8 314.3,200.3 313.7,201.7 313.5,202.5 312.8,203.9 312.0,205.5 311.6,206.8 311.0,206.6 311.2,205.8 310.2,205.3 309.5,203.9 308.8,202.6 308.5,201.6 307.7,200.4 308.0,199.9 308.3,199.2 308.1,198.7 309.0,197.7 309.4,196.4 310.2,195.4 310.6,194.4 311.0,194.3 311.5,194.7 312.1,195.3 313.0,196.3 313.3,197.4 313.8,198.7 313.9,199.5Z M313.7,199.6 313.9,200.5 313.3,201.0 312.6,202.5 312.5,203.5 311.7,204.3 311.3,205.4 311.1,205.4 311.2,204.5 310.5,204.2 309.9,203.3 309.7,202.1 309.2,201.1 308.7,200.2 309.0,200.1 309.1,199.4 309.1,198.9 309.5,197.6 310.3,196.3 310.6,195.9 311.0,195.1 311.3,195.1 311.4,195.0 311.7,196.1 312.1,196.9 313.0,197.9 313.0,198.8 313.6,199.5Z M312.5,199.9 312.4,200.2 312.6,200.8 312.3,201.9 312.0,202.9 311.3,203.2 311.0,203.5 311.3,204.3 311.2,204.4 310.5,203.5 310.2,202.9 310.4,201.7 309.6,200.9 310.0,200.3 309.8,199.7 309.7,199.5 310.1,198.7 310.5,198.2 310.7,197.2 311.0,196.0 311.0,195.8 311.1,195.6 311.2,195.5 311.6,196.2 311.6,196.9 312.2,197.9 312.6,198.8 312.7,199.5Z M340.3,220.0 342.2,220.4 344.0,220.2 345.8,220.4 347.6,220.3 349.4,219.8 351.2,220.3 353.0,219.9 354.9,220.0 M340.9,219.2 342.6,219.2 344.3,219.7 345.9,219.4 347.6,219.4 349.3,219.7 350.9,219.3 352.6,219.4 354.3,219.7 M341.5,218.5 343.0,218.2 344.6,218.3 346.1,218.4 347.6,218.1 349.1,218.2 350.6,218.5 352.2,218.7 353.7,218.4 M342.7,217.9 343.9,218.0 345.1,217.5 346.4,218.0 347.6,217.8 348.8,217.8 350.1,218.0 351.3,217.6 352.5,217.8 M356.2,200.1 355.8,202.9 355.3,206.2 354.0,209.0 352.6,211.9 350.8,214.4 349.0,217.0 347.8,218.3 346.2,217.1 344.1,215.2 342.5,212.7 341.2,210.0 339.9,206.6 338.9,203.1 338.8,200.1 339.2,198.2 339.8,196.3 341.3,194.4 342.8,192.7 344.3,191.3 345.8,190.1 347.8,189.9 349.4,190.0 350.7,190.8 352.8,191.8 354.6,193.5 355.9,195.6 356.4,198.1Z M356.6,200.1 356.3,203.1 355.0,206.3 354.0,209.3 352.4,212.4 350.9,214.9 349.0,216.6 347.7,216.2 346.3,214.8 344.3,213.5 342.9,211.9 341.3,209.7 340.1,205.9 339.6,202.6 339.1,200.1 339.2,198.1 339.8,195.9 340.8,194.2 342.6,192.2 344.2,191.0 346.2,189.9 347.8,190.3 348.8,190.9 350.8,191.7 352.5,193.3 353.6,194.2 355.0,196.4 355.9,198.4Z M356.3,200.1 355.9,203.1 355.2,205.8 354.0,209.3 352.3,211.9 350.5,213.7 348.6,214.3 347.5,214.5 346.4,214.5 344.8,213.7 342.6,212.2 341.0,209.4 340.2,206.1 339.5,202.6 339.1,200.1 339.4,198.5 340.0,196.5 341.1,194.3 342.6,192.8 344.4,191.8 346.1,190.8 347.4,190.8 349.0,190.7 350.3,191.7 351.9,193.3 353.7,194.7 354.9,196.4 356.3,198.1Z M355.5,199.9 355.7,202.3 355.1,205.7 353.8,209.0 352.3,211.1 350.5,213.0 348.9,215.1 347.8,215.6 346.2,214.8 344.6,212.8 343.1,210.5 341.9,208.7 340.1,205.8 339.6,202.5 339.6,200.1 339.4,198.6 340.1,196.0 341.4,194.2 343.1,192.7 344.9,192.1 346.2,191.8 347.8,190.9 349.3,190.2 350.8,190.9 352.3,192.8 353.4,194.8 354.3,196.8 355.2,198.3Z M355.1,200.2 354.9,202.3 354.2,205.2 353.2,208.4 352.3,211.2 350.7,213.4 349.2,215.1 347.5,215.9 346.1,214.7 344.9,212.7 343.2,210.9 342.1,208.1 340.7,205.3 340.0,202.7 340.2,199.9 340.3,198.7 340.7,196.9 341.9,194.6 343.4,193.4 344.8,192.2 346.6,190.8 347.3,189.5 348.8,189.5 350.5,191.0 352.1,192.8 353.0,194.7 353.7,196.9 354.9,198.7Z M355.5,200.0 354.6,202.2 354.0,204.9 352.5,207.6 351.5,210.1 350.1,212.8 349.0,214.5 347.7,215.4 346.3,214.6 344.9,213.1 343.5,210.2 342.3,207.6 341.3,205.3 340.2,202.1 339.8,199.8 340.1,198.3 340.9,196.7 342.2,195.1 343.3,193.1 344.9,191.8 346.2,191.4 347.3,191.2 348.9,190.8 350.4,191.6 352.1,192.6 353.1,194.7 354.0,196.7 354.9,198.7Z M355.4,199.8 355.2,202.1 353.9,205.2 352.8,207.4 351.8,210.3 350.2,212.1 348.5,213.0 347.4,214.0 346.5,213.3 344.9,212.1 343.5,209.9 342.3,207.1 341.4,205.0 340.1,201.9 339.7,199.9 340.4,198.6 341.3,197.0 342.4,194.7 343.4,193.2 345.1,191.9 346.3,191.2 347.4,191.8 348.4,191.8 350.3,192.4 351.6,193.2 353.1,194.7 354.2,196.6 354.9,198.4Z M354.3,199.8 354.1,201.9 353.5,204.4 352.8,207.1 351.5,209.6 349.8,211.5 348.8,213.2 347.4,213.6 346.3,212.6 345.3,211.8 343.4,210.2 342.1,207.9 341.3,205.0 340.5,202.0 340.6,200.2 341.2,198.5 342.0,197.0 342.6,195.7 343.7,193.9 344.8,192.0 346.6,191.2 347.6,190.8 348.9,191.5 350.3,192.2 351.5,193.3 352.8,194.7 353.6,196.9 354.4,198.8Z M354.6,200.0 354.1,201.9 353.5,204.6 352.2,206.9 351.5,209.8 349.9,211.3 348.6,212.1 347.4,212.1 346.6,212.0 345.1,211.7 343.8,209.9 342.4,207.8 341.3,205.0 340.5,201.9 340.5,199.8 341.3,198.5 342.2,197.1 343.0,195.8 343.9,194.0 345.4,192.7 346.6,191.8 347.7,191.5 348.5,191.6 350.2,192.0 351.6,193.5 352.5,195.2 353.1,197.1 354.1,199.0Z M354.1,200.3 354.2,202.1 353.8,204.6 352.9,207.3 351.3,209.6 350.0,211.2 348.4,212.0 347.5,212.0 346.7,211.3 345.6,210.1 344.1,209.4 342.5,207.2 341.9,204.5 341.7,202.0 341.1,200.2 340.8,199.0 341.5,197.2 342.5,195.6 344.2,193.8 345.1,193.0 346.7,191.8 347.7,191.1 348.3,191.9 350.1,192.9 351.0,194.3 351.9,195.3 352.9,197.2 353.9,198.7Z M354.4,199.8 353.8,202.1 353.1,204.1 352.2,207.0 351.1,209.5 350.0,210.9 348.6,210.9 347.6,211.1 346.6,211.4 345.5,210.8 343.9,208.9 343.3,206.5 342.0,204.0 341.5,201.6 341.2,200.0 341.2,198.7 342.3,197.5 343.1,195.4 344.0,193.7 345.0,192.3 346.7,191.9 347.5,191.9 348.5,192.5 349.7,193.4 351.0,194.9 351.8,195.9 353.6,196.8 354.2,198.6Z M353.4,199.8 352.9,201.6 352.6,204.2 352.6,206.8 350.9,209.0 349.6,210.6 348.5,211.5 347.4,212.1 346.9,211.6 345.5,210.0 344.5,207.9 343.4,205.7 342.4,203.7 342.1,201.8 341.5,200.3 341.6,198.8 342.1,197.5 343.0,195.6 344.2,193.5 345.2,192.6 346.5,192.1 347.9,192.1 348.7,192.6 349.6,193.5 350.8,194.2 352.2,195.9 352.7,197.3 353.5,198.9Z M353.5,199.7 352.5,201.6 352.1,203.4 351.4,205.6 351.0,207.9 349.4,210.2 348.3,211.3 347.5,212.0 346.9,211.5 345.7,210.0 344.4,208.2 343.2,206.3 342.8,203.5 341.9,201.7 342.3,199.8 342.2,198.8 342.9,197.5 343.1,195.8 344.6,194.1 345.3,192.9 346.9,192.1 347.3,191.8 348.5,192.4 349.4,193.4 350.9,194.7 351.8,195.6 352.8,197.1 353.8,198.9Z M352.9,200.3 352.6,201.4 352.3,203.7 351.5,206.0 350.7,208.0 349.4,209.2 348.1,210.2 347.5,210.8 346.7,210.6 345.8,209.4 344.4,207.9 343.5,205.8 342.6,203.9 342.1,201.8 341.8,200.1 342.5,198.9 342.9,197.3 343.9,196.1 344.5,194.9 345.8,193.6 347.2,193.0 347.7,192.4 348.4,192.3 349.3,193.2 350.8,194.3 352.1,195.7 352.8,197.2 352.8,199.2Z M352.2,199.9 352.0,201.2 351.3,202.9 350.7,204.3 349.6,206.1 348.8,208.0 347.9,209.2 347.6,210.1 347.2,209.3 346.2,207.9 345.4,206.0 344.6,204.5 343.6,202.9 342.9,201.1 342.9,200.3 343.5,199.2 344.0,198.0 344.4,196.7 345.8,195.4 346.5,194.2 347.2,193.2 347.5,192.7 347.9,193.2 349.2,193.8 350.1,195.2 351.3,196.1 351.8,197.6 352.0,198.9Z M351.5,200.0 351.0,201.1 350.5,202.1 350.2,203.7 349.3,204.8 348.4,206.1 348.0,206.9 347.9,207.2 347.2,207.0 346.5,206.2 346.2,205.1 345.4,203.3 344.5,202.0 344.1,201.0 343.7,200.1 343.9,199.5 344.5,198.3 345.1,197.3 346.2,195.9 346.6,194.8 347.2,194.2 347.3,194.5 347.7,194.5 348.7,195.4 349.2,196.2 350.3,196.9 350.8,198.5 350.9,199.3Z M350.2,200.2 350.3,200.6 349.9,201.6 349.3,203.1 348.7,204.1 348.2,205.1 347.8,205.6 347.7,205.6 347.5,205.3 346.7,204.9 346.7,204.2 346.2,202.9 345.6,201.7 345.3,200.7 344.9,200.1 345.5,199.5 345.5,198.7 346.2,197.9 346.3,196.7 347.2,196.0 347.2,195.3 347.8,195.0 347.9,195.0 348.4,195.8 349.0,196.4 349.3,197.5 349.7,198.7 349.9,199.6Z M348.7,200.2 348.9,200.5 348.6,201.3 348.3,201.7 348.0,202.6 348.0,203.6 347.5,204.5 347.5,204.7 347.2,204.4 347.3,203.7 346.9,203.1 346.8,201.7 346.3,201.2 346.1,200.3 346.1,199.9 346.2,199.6 346.3,198.9 346.9,198.1 346.9,197.0 347.0,196.6 347.6,196.1 347.8,195.9 347.9,196.1 347.7,196.6 348.0,197.0 348.4,197.8 348.5,199.2 348.8,199.9Z"/></g>
<g clip-path="url(#cp13)"><path class="cl" d="M408.4,133.3 409.7,136.9 409.8,140.4 409.3,144.0 408.6,147.6 408.3,151.1 407.6,154.7 407.9,158.3 408.3,161.9 408.7,165.4 409.4,169.0 409.9,172.6 410.4,176.1 411.1,179.7 411.4,183.3 412.9,186.9 413.6,190.4 424.8,190.4 426.7,186.9 427.8,183.3 429.9,179.7 430.9,176.1 431.2,172.6 431.5,169.0 430.8,165.4 430.1,161.9 430.0,158.3 429.7,154.7 430.4,151.1 431.1,147.6 431.6,144.0 431.9,140.4 431.3,136.9 431.2,133.3Z M411.2,134.1 411.3,137.6 412.2,141.1 412.4,144.7 411.7,148.2 410.9,151.7 410.1,155.2 409.8,158.7 409.7,162.3 410.4,165.8 410.4,169.3 411.3,172.8 412.9,176.3 413.0,179.9 414.1,183.4 414.1,186.9 415.2,190.4 423.2,190.4 425.1,186.9 426.8,183.4 427.6,179.9 429.1,176.3 429.7,172.8 429.5,169.3 428.8,165.8 427.8,162.3 427.7,158.7 428.2,155.2 428.6,151.7 429.2,148.2 428.9,144.7 429.3,141.1 428.8,137.6 428.7,134.1Z M413.5,134.9 412.7,138.4 413.1,141.8 412.7,145.3 413.5,148.8 413.9,152.2 413.9,155.7 413.2,159.2 412.7,162.7 412.1,166.1 411.5,169.6 411.5,173.1 412.9,176.5 414.3,180.0 415.5,183.5 416.9,187.0 418.0,190.4 423.5,190.4 424.2,187.0 424.1,183.5 424.6,180.0 425.7,176.5 426.7,173.1 427.4,169.6 427.8,166.1 427.7,162.7 428.0,159.2 427.0,155.7 426.4,152.2 425.4,148.8 425.1,145.3 424.9,141.8 425.1,138.4 425.2,134.9Z M444.6,218.5 442.9,220.8 439.7,222.8 435.8,224.6 431.3,226.3 425.3,228.0 417.8,228.5 410.8,227.4 405.8,225.3 401.7,223.3 397.8,221.1 396.3,218.5 399.0,216.0 403.9,214.2 408.2,212.7 412.5,211.0 418.2,209.4 425.4,208.8 432.8,209.4 439.2,211.0 443.3,213.3 444.9,216.0Z M445.4,218.5 444.9,221.0 440.6,223.0 434.2,223.9 428.7,224.2 424.2,225.0 418.8,226.0 412.8,225.8 408.2,224.3 405.2,222.5 401.9,220.7 399.2,218.5 399.9,216.1 403.8,214.2 408.6,212.8 413.4,211.7 418.9,211.1 424.4,211.4 429.3,212.3 433.8,213.3 438.5,214.5 442.8,216.2Z M436.7,218.5 435.6,220.0 434.8,221.7 432.4,223.1 428.5,224.1 424.1,224.8 419.2,224.9 414.6,224.3 410.8,223.2 406.8,222.1 403.4,220.5 403.1,218.5 406.1,216.8 409.4,215.5 411.7,214.2 415.0,213.0 419.5,212.7 423.9,212.8 428.9,212.6 434.9,212.8 439.1,214.3 438.9,216.6Z M446.0,193.5 445.3,194.7 444.1,196.0 441.2,196.9 437.2,196.9 433.7,196.3 432.1,194.9 432.6,193.5 432.3,192.2 434.1,190.9 437.5,190.6 441.2,190.1 445.1,190.5 446.3,192.1Z M444.5,193.5 442.4,194.1 441.1,194.5 440.0,194.9 438.4,195.0 436.4,194.9 435.1,194.3 435.3,193.5 435.4,192.8 436.9,192.3 438.4,192.1 440.1,192.0 441.4,192.4 443.4,192.7Z"/><path class="cm" d="M412.0,138.5 411.5,140.1 410.6,140.4 409.7,139.8 409.6,138.5 409.2,136.4 410.6,137.0 411.2,137.5Z M416.0,138.2 415.8,139.9 415.2,139.8 414.7,140.0 414.4,138.2 414.8,136.9 415.2,136.0 415.7,136.6Z M420.7,137.4 420.5,140.2 420.1,140.4 419.8,139.7 419.6,137.4 419.7,134.6 420.1,133.7 420.4,135.8Z M425.8,137.6 425.4,139.6 424.6,139.6 423.9,139.5 423.4,137.6 423.9,135.9 424.6,135.1 425.3,135.9Z M429.3,137.2 429.3,139.1 428.6,139.4 428.0,138.7 427.7,137.2 427.8,135.4 428.6,135.0 429.2,135.5Z M413.6,142.6 413.4,145.2 412.6,145.6 411.8,144.9 411.7,142.6 411.7,140.0 412.6,139.6 413.3,140.5Z M417.4,141.7 416.8,142.6 416.4,142.9 415.9,142.9 415.7,141.7 416.1,140.9 416.4,140.0 416.8,141.0Z M422.6,142.5 422.0,144.7 421.1,145.1 420.1,144.6 419.9,142.5 420.1,140.3 421.1,139.2 421.6,141.3Z M426.5,141.0 426.0,143.0 425.4,144.7 424.7,143.2 424.2,141.0 424.8,139.2 425.4,137.6 426.2,138.6Z M429.7,143.4 429.4,145.9 428.8,147.4 428.2,145.7 428.1,143.4 428.0,140.3 428.8,139.5 429.3,141.6Z M413.3,146.6 413.0,148.1 412.5,148.3 412.0,147.8 411.7,146.6 411.9,144.9 412.5,144.9 412.8,145.5Z M417.0,145.3 416.5,146.5 416.0,147.3 415.2,147.1 415.2,145.3 415.4,143.9 416.0,143.3 416.7,143.8Z M422.4,144.4 422.0,145.8 421.1,146.1 420.4,145.7 420.0,144.4 420.4,143.0 421.1,142.2 421.7,143.4Z M425.5,144.8 425.4,146.2 425.0,147.2 424.6,146.2 424.5,144.8 424.6,143.2 425.0,142.8 425.4,143.1Z M412.0,150.5 411.6,153.1 410.8,154.3 410.3,152.1 409.6,150.5 409.9,147.5 410.8,147.7 411.5,148.4Z M416.0,149.5 415.5,151.2 414.8,153.0 414.4,150.5 413.7,149.5 413.9,147.2 414.8,147.0 415.4,148.0Z M420.3,149.3 419.6,150.2 419.2,151.2 418.2,151.1 418.3,149.3 418.4,147.8 419.2,147.8 420.0,147.7Z M424.7,149.5 424.5,151.1 423.7,152.2 423.0,150.9 422.8,149.5 422.7,147.7 423.7,147.3 424.5,148.1Z M428.9,151.1 428.7,152.6 428.5,154.8 428.2,153.1 428.2,151.1 428.2,149.0 428.5,147.9 428.8,149.2Z M413.2,152.4 412.7,153.9 412.2,154.2 411.5,154.8 411.4,152.4 411.8,150.9 412.2,149.7 412.8,150.6Z M419.3,153.8 419.1,156.7 418.6,157.1 418.3,156.0 418.0,153.8 418.1,150.5 418.6,150.4 418.9,151.9Z M423.2,154.6 423.0,156.3 422.8,156.9 422.4,157.0 422.4,154.6 422.4,152.5 422.8,152.6 423.1,152.4Z M426.8,153.1 426.7,154.4 426.4,155.3 426.0,154.4 426.0,153.1 426.0,151.4 426.4,151.4 426.7,151.8Z M411.4,156.1 410.8,156.9 410.3,157.4 409.3,157.5 409.5,156.1 409.4,154.9 410.3,155.0 411.1,154.9Z M415.3,158.4 415.3,159.6 414.9,159.6 414.4,159.6 414.2,158.4 414.5,157.5 414.9,157.1 415.4,157.0Z M419.9,157.7 419.6,159.2 419.2,161.2 418.8,159.5 418.7,157.7 418.7,155.6 419.2,154.7 419.6,156.0Z M423.9,157.4 423.7,158.8 423.0,159.9 421.9,159.5 422.2,157.4 422.1,155.6 423.0,155.2 424.0,155.3Z M428.0,156.4 428.0,158.3 427.1,158.6 426.7,157.5 425.9,156.4 426.5,154.7 427.1,154.5 427.9,154.4Z M411.1,162.0 410.5,163.5 410.2,165.9 409.6,165.0 409.5,162.0 409.7,159.3 410.2,158.9 410.7,159.3Z M415.5,161.8 415.3,163.5 415.0,164.3 414.7,163.4 414.5,161.8 414.7,160.1 415.0,158.8 415.2,160.6Z M419.7,162.0 419.6,163.6 419.0,165.5 418.1,164.1 418.3,162.0 418.0,159.6 419.0,159.7 419.9,159.5Z M423.7,162.9 423.5,163.9 423.2,164.6 422.9,164.3 422.8,162.9 423.0,161.9 423.2,161.3 423.6,161.6Z M411.0,166.2 411.0,168.9 410.4,168.6 410.0,167.8 409.6,166.2 409.9,164.0 410.4,163.7 410.8,164.3Z M415.5,166.8 415.7,169.3 415.0,170.1 414.6,168.5 414.3,166.8 414.4,164.4 415.0,163.8 415.6,164.5Z M419.9,165.7 419.6,167.3 419.2,167.3 418.5,168.2 418.5,165.7 418.7,164.1 419.2,163.6 419.7,163.7Z M424.4,165.3 424.3,167.5 423.2,167.4 422.5,166.7 421.9,165.3 422.2,163.3 423.2,163.1 424.0,163.9Z M428.4,167.4 428.4,168.6 427.9,169.1 427.5,168.5 427.4,167.4 427.5,166.3 427.9,165.8 428.4,166.3Z M411.3,170.6 411.0,172.9 410.3,174.0 409.6,173.2 409.6,170.6 409.7,168.3 410.3,166.4 410.9,168.7Z M416.3,171.4 415.8,172.8 415.4,174.9 414.5,174.3 414.8,171.4 414.7,168.9 415.4,169.1 416.2,168.4Z M420.1,170.6 420.0,171.6 419.4,172.6 418.9,171.4 418.8,170.6 418.7,169.4 419.4,169.0 420.0,169.7Z M425.0,170.5 425.0,172.3 424.4,171.8 423.9,172.0 423.7,170.5 423.9,169.1 424.4,168.2 424.7,169.4Z M429.5,170.3 429.1,171.5 428.4,172.2 427.8,171.3 427.2,170.3 427.8,169.1 428.4,168.2 429.0,169.2Z M414.6,172.8 414.2,174.3 413.7,175.3 412.7,175.4 413.2,172.8 412.9,170.7 413.7,170.2 414.4,170.7Z M419.9,174.6 419.5,176.0 418.7,176.6 417.7,176.4 417.4,174.6 418.0,173.3 418.7,172.2 419.5,172.9Z M424.5,173.2 423.7,174.4 423.3,175.3 422.5,175.1 422.1,173.2 422.8,172.1 423.3,170.7 423.9,171.7Z M428.1,174.5 427.8,175.4 427.5,176.6 427.1,175.6 426.8,174.5 427.2,173.6 427.5,172.7 428.0,173.2Z M415.8,177.2 415.7,178.2 415.3,178.6 415.0,178.0 414.8,177.2 415.0,176.3 415.3,175.5 415.5,176.6Z M420.4,178.6 420.0,180.5 419.5,182.0 418.8,181.1 418.5,178.6 418.9,176.5 419.5,176.0 420.2,175.8Z M424.4,177.4 424.4,179.8 423.7,180.3 422.9,179.8 422.3,177.4 423.3,176.1 423.7,174.0 424.6,174.2Z M415.0,181.7 414.7,182.9 414.1,184.1 413.2,183.4 413.1,181.7 413.4,180.2 414.1,180.0 415.3,179.4Z M419.7,182.1 419.4,183.1 419.0,184.0 418.6,183.1 418.3,182.1 418.5,181.0 419.0,180.7 419.6,180.7Z M424.2,181.5 424.3,184.7 423.3,184.8 422.4,184.3 422.3,181.5 422.4,178.8 423.3,177.3 424.1,179.1Z M416.5,186.9 416.1,187.6 415.6,188.6 415.2,187.6 414.8,186.9 414.9,185.7 415.6,185.8 416.2,185.9Z M422.9,186.2 422.1,187.7 421.6,188.8 420.9,188.1 420.5,186.2 420.8,184.0 421.6,184.2 422.3,184.3Z M413.3,208.9 413.3,210.1 412.6,210.4 411.9,210.3 412.0,208.9 412.0,207.8 412.6,206.9 413.2,207.9Z M418.3,196.8 418.0,197.8 417.6,198.5 417.1,197.9 416.7,196.8 417.0,195.5 417.6,195.8 418.2,195.3Z M426.2,199.3 425.9,199.9 425.5,200.1 424.9,200.1 424.8,199.3 425.0,198.7 425.5,198.5 426.0,198.6Z M421.5,198.6 421.4,199.6 420.6,200.6 420.1,199.3 419.4,198.6 419.8,197.5 420.6,197.1 421.6,197.3Z M417.9,198.6 417.8,199.4 417.5,200.0 417.2,199.5 417.0,198.6 417.2,197.8 417.5,197.7 417.9,197.4Z M414.7,195.2 414.5,196.9 413.8,198.4 413.3,196.5 412.9,195.2 413.0,193.2 413.8,192.5 414.4,193.7Z M421.3,211.4 420.4,212.4 420.0,214.0 419.3,213.3 419.2,211.4 419.4,209.9 420.0,209.0 420.6,210.0Z M418.6,195.8 418.0,196.8 417.5,198.2 416.9,197.1 416.5,195.8 416.8,194.2 417.5,194.2 418.2,194.2Z M422.4,204.5 421.8,205.9 421.3,206.3 420.3,206.9 420.5,204.5 420.7,203.1 421.3,201.8 421.9,202.9Z M423.9,199.2 423.4,200.1 422.8,200.7 422.3,200.0 421.8,199.2 422.1,198.2 422.8,197.8 423.4,198.4Z M418.2,200.0 418.0,201.9 417.0,202.3 416.3,201.2 415.7,200.0 415.8,197.8 417.0,198.2 417.8,198.4Z M419.5,188.2 419.1,189.8 418.1,189.2 417.1,189.8 416.5,188.2 417.4,187.1 418.1,186.3 418.9,186.9Z M423.2,199.2 422.7,200.2 422.1,200.4 421.4,200.5 421.0,199.2 421.6,198.2 422.1,197.7 422.8,197.9Z M416.3,193.8 415.7,194.4 415.3,194.8 414.8,194.5 414.5,193.8 414.7,193.0 415.3,193.0 415.8,193.1Z M425.3,192.5 425.4,193.7 424.5,194.7 423.5,193.8 423.6,192.5 423.6,191.2 424.5,190.6 425.6,191.0Z M429.0,202.5 429.2,204.1 428.3,204.2 427.7,203.5 427.2,202.5 427.6,201.3 428.3,200.6 429.0,201.4Z M419.6,201.1 419.4,201.7 419.0,202.1 418.6,201.6 418.4,201.1 418.3,200.3 419.0,200.3 419.4,200.6Z M418.1,191.1 418.3,192.2 417.4,192.4 416.4,192.3 416.5,191.1 416.7,190.4 417.4,189.4 418.2,190.1Z M415.1,208.0 414.7,208.5 414.3,209.1 413.6,208.9 413.7,208.0 413.7,207.2 414.3,207.2 415.0,207.1Z M424.8,205.3 424.8,207.2 424.3,208.0 423.8,207.0 423.7,205.3 423.7,203.3 424.3,203.2 424.9,203.1Z M412.7,194.2 412.5,195.4 412.2,196.4 411.9,195.7 411.9,194.2 411.9,192.8 412.2,192.0 412.5,193.0Z M414.1,198.0 414.0,199.3 413.2,199.8 412.4,199.3 412.0,198.0 412.6,197.1 413.2,196.0 414.1,196.6Z M437.5,200.5 437.5,207.2 435.9,213.5 433.0,217.8 429.6,221.5 426.0,223.9 422.6,225.9 419.2,226.6 415.3,226.5 412.0,225.3 408.2,222.7 405.9,217.2 404.7,211.4 403.5,206.1 401.1,200.7 400.7,196.8 402.3,193.5 405.1,191.5 408.9,189.1 412.0,187.4 415.3,186.9 419.0,187.0 422.3,187.2 426.3,188.4 429.8,189.3 432.5,191.6 434.3,194.3 436.0,197.2Z M435.1,200.6 434.8,205.3 434.2,210.0 432.2,214.6 428.9,217.8 425.5,220.4 422.7,222.7 419.0,224.1 415.9,222.4 413.4,219.0 410.8,216.1 407.1,213.6 403.7,210.9 401.5,205.8 401.7,200.7 403.0,198.0 404.6,194.8 406.6,191.8 409.2,189.9 412.4,188.2 416.0,187.7 419.4,187.7 422.1,188.1 425.6,189.0 429.2,189.8 432.7,191.6 435.2,194.6 435.6,197.4Z M435.1,200.6 434.3,204.6 433.3,209.1 431.1,213.8 429.2,218.0 425.8,220.4 422.0,219.8 419.1,217.9 416.5,217.4 413.5,217.4 410.0,216.1 407.0,213.0 405.4,209.0 403.7,205.0 403.7,200.7 403.9,197.7 405.6,194.9 407.6,192.5 410.2,190.2 413.1,189.1 416.3,188.7 419.5,188.4 422.2,187.9 425.3,188.6 428.5,190.6 430.2,192.7 432.1,195.6 433.9,198.0Z M433.3,200.3 432.7,204.2 431.6,207.7 429.3,211.2 427.4,214.5 424.6,217.1 421.6,218.4 419.2,218.6 416.6,218.3 413.8,217.3 410.6,214.5 408.7,211.6 407.3,207.9 405.5,203.9 404.2,200.4 404.2,198.1 406.5,195.4 409.4,193.8 411.9,192.3 414.2,190.2 416.7,188.3 419.0,187.7 421.9,187.9 424.5,189.4 427.5,191.4 429.9,192.9 431.9,195.6 433.1,198.4Z M432.0,200.7 430.8,203.5 429.2,206.2 428.2,209.3 426.7,213.4 424.2,216.2 421.6,217.4 419.4,217.1 417.1,217.5 413.6,216.6 411.0,214.5 409.1,210.9 408.2,206.8 407.8,203.5 407.1,200.5 407.6,198.7 408.4,196.3 409.5,194.0 411.9,191.5 414.2,190.2 417.1,189.6 419.5,189.1 421.6,188.5 424.5,189.2 427.2,191.1 429.5,193.4 430.7,196.0 431.6,198.3Z M431.0,200.9 430.1,203.3 429.1,206.2 428.0,209.0 426.1,211.6 423.7,213.3 421.0,214.4 419.1,216.2 417.1,216.6 414.3,215.6 412.3,212.2 410.5,209.3 409.1,206.2 407.9,203.1 406.6,200.6 406.8,198.4 408.8,196.1 410.5,194.8 412.9,192.9 414.9,191.5 417.6,190.5 419.2,189.5 421.2,189.5 424.1,190.3 426.2,192.1 428.3,194.1 429.8,196.4 431.1,198.5Z M429.9,200.9 429.1,202.9 427.9,205.3 426.4,207.7 424.6,210.5 423.0,211.9 421.0,214.0 419.0,215.3 417.6,215.1 415.4,213.0 413.2,210.8 411.6,208.0 409.5,205.7 408.3,203.0 407.6,200.3 408.3,198.7 409.9,197.1 411.7,195.1 413.5,193.5 415.9,192.7 417.4,191.3 419.3,190.5 421.0,190.2 423.3,191.2 425.6,192.2 427.9,194.5 429.8,196.3 430.4,199.0Z M429.0,200.7 428.6,202.5 427.5,205.1 426.5,207.5 424.4,210.3 422.9,212.7 420.7,214.0 419.0,213.9 417.8,212.2 416.1,210.3 414.6,209.2 412.6,207.3 410.8,204.9 410.2,202.6 409.2,200.3 409.6,198.9 410.1,197.2 412.1,194.9 413.9,193.3 415.7,191.9 417.8,190.4 419.3,190.4 420.6,191.2 422.3,193.1 424.1,193.9 426.0,195.3 427.7,197.2 428.8,198.9Z M456.5,193.9 456.4,195.9 456.0,196.5 455.9,195.0 455.5,193.9 455.7,192.1 456.0,191.8 456.3,192.3Z M460.9,199.3 460.1,200.3 459.5,201.4 458.3,201.1 458.3,199.3 458.8,198.3 459.5,196.9 460.4,197.9Z M455.2,207.7 455.4,208.7 454.5,208.6 453.8,208.4 453.4,207.7 453.8,206.9 454.5,206.6 455.1,206.9Z M460.5,196.6 460.2,198.4 459.1,198.3 458.4,197.8 457.7,196.6 458.3,195.2 459.1,194.5 459.7,195.6Z M455.9,200.6 454.9,201.3 454.4,202.3 453.5,201.8 453.0,200.6 453.6,199.5 454.4,199.5 455.4,199.3Z M452.0,196.0 451.9,196.8 451.6,197.0 451.2,197.0 451.0,196.0 451.4,195.5 451.6,194.9 452.0,194.9Z M462.0,198.9 461.9,200.1 461.5,200.6 461.1,200.3 460.9,198.9 461.3,198.1 461.5,197.2 462.0,197.3Z M454.3,197.6 453.9,198.5 453.1,199.2 452.3,198.6 451.9,197.6 452.4,196.8 453.1,195.8 453.8,196.7Z M456.0,196.9 455.0,197.8 454.6,200.0 453.9,198.7 453.7,196.9 453.8,195.0 454.6,194.7 455.4,195.1Z M458.6,204.4 457.9,205.7 457.4,206.7 456.7,206.1 456.4,204.4 456.8,202.8 457.4,202.1 457.9,202.9Z M452.9,210.4 452.8,212.4 452.1,213.0 451.6,211.8 451.3,210.4 451.5,208.6 452.1,208.1 452.7,208.8Z M460.4,204.1 460.3,204.7 459.8,205.1 459.2,204.9 459.3,204.1 459.4,203.4 459.8,203.0 460.4,203.3Z M454.2,208.9 453.3,209.5 452.7,210.0 451.6,209.9 451.3,208.9 451.7,208.0 452.7,208.2 453.7,207.9Z M459.4,200.7 459.0,201.8 458.7,203.3 458.1,202.9 458.2,200.7 458.3,199.3 458.7,198.2 459.2,198.9Z M466.4,200.8 466.7,207.2 466.2,213.7 464.5,218.4 462.5,222.0 460.0,224.4 458.1,226.1 455.6,227.1 453.2,226.4 451.1,224.1 449.5,220.8 447.3,217.6 445.4,212.6 444.3,206.6 444.7,200.6 445.1,198.0 445.8,195.9 446.7,193.0 448.5,190.8 450.8,189.2 453.3,188.7 455.4,188.6 457.5,189.8 459.8,190.3 462.2,191.6 463.7,193.5 465.3,195.8 466.1,198.4Z M465.8,200.6 464.9,205.0 464.2,209.8 463.0,214.5 462.0,218.4 460.0,222.2 457.7,223.7 455.4,223.4 453.4,222.8 451.7,220.7 449.7,217.8 447.9,214.4 446.2,210.6 445.5,205.6 445.7,201.1 445.9,198.3 446.7,196.4 448.3,193.8 449.5,191.7 451.2,190.2 453.3,188.7 455.6,188.4 457.8,188.6 459.8,190.1 461.5,192.0 462.9,193.7 464.4,195.9 465.8,198.1Z M465.2,200.6 464.6,204.8 464.1,208.8 463.0,213.4 461.7,217.4 459.4,219.0 457.6,219.8 455.5,220.4 453.5,219.8 451.9,217.8 450.4,215.4 448.7,212.1 447.6,208.8 446.2,204.6 445.4,200.5 445.6,198.6 446.4,195.9 447.9,193.8 449.8,191.8 452.0,190.9 454.0,189.8 455.5,189.6 457.1,190.6 459.1,192.1 460.7,193.1 462.7,194.3 464.5,196.1 465.3,198.3Z M464.2,200.6 463.0,203.7 462.7,207.4 462.2,211.2 460.6,214.4 458.8,216.7 457.2,218.8 455.8,219.8 454.0,219.5 452.0,218.0 450.5,215.4 448.6,211.8 447.6,207.9 446.8,204.3 447.2,200.9 447.3,199.1 448.0,196.7 449.0,195.0 450.5,193.4 452.0,191.5 454.1,190.4 455.5,189.6 457.2,190.6 459.0,191.9 460.9,192.7 462.7,194.3 464.8,196.0 465.1,198.5Z M463.9,201.0 463.6,204.0 463.1,207.1 461.4,209.9 460.2,212.1 458.6,214.6 456.8,216.8 455.6,218.6 454.0,217.8 452.7,216.0 451.1,212.9 449.7,210.4 448.4,207.4 447.3,203.8 447.2,200.9 447.6,199.4 449.0,196.9 449.8,195.3 451.1,193.7 452.3,191.8 454.0,190.6 455.5,190.1 456.8,191.2 458.9,191.9 460.4,193.3 462.1,195.1 462.7,196.8 463.7,199.1Z"/><path class="ct" d="M413.7,139.1 413.5,140.8 413.1,141.2 412.8,140.6 412.6,139.1 412.8,137.6 413.1,136.8 413.4,137.8Z M418.4,138.5 418.4,140.5 417.4,140.8 416.6,140.0 416.0,138.5 416.8,137.3 417.4,135.1 418.0,137.1Z M424.1,138.6 423.7,140.5 423.0,141.0 422.0,141.6 422.3,138.6 422.2,136.3 423.0,135.9 423.8,136.4Z M428.2,137.2 427.5,138.7 426.8,139.9 426.0,138.8 425.3,137.2 425.7,135.3 426.8,135.7 427.8,135.2Z M411.7,143.4 411.7,145.4 410.9,147.0 410.0,145.5 409.9,143.4 410.1,141.5 410.9,140.2 411.9,140.9Z M415.7,141.0 415.7,143.4 415.2,144.0 414.8,143.6 414.7,141.0 414.9,138.8 415.2,137.9 415.7,138.3Z M419.7,140.8 419.5,142.7 419.2,144.3 418.9,142.6 418.9,140.8 418.8,138.1 419.2,137.8 419.5,139.0Z M423.9,143.0 423.4,144.1 422.9,145.1 422.5,144.0 422.1,143.0 422.3,141.7 422.9,141.2 423.4,142.1Z M427.5,143.5 427.1,145.4 426.6,146.9 426.0,146.0 426.1,143.5 426.0,141.1 426.6,139.9 427.1,141.5Z M410.9,144.3 410.9,146.0 410.6,147.5 410.3,145.7 410.2,144.3 410.2,142.0 410.6,142.0 410.9,142.4Z M415.4,144.8 414.9,147.2 414.3,148.3 413.7,147.3 413.4,144.8 413.7,142.2 414.3,140.6 414.7,143.1Z M419.6,146.4 419.7,147.9 418.8,147.9 418.2,147.3 417.8,146.4 418.0,145.1 418.8,144.6 419.3,145.5Z M423.9,146.4 423.7,147.4 423.1,148.7 422.4,147.8 422.4,146.4 422.5,145.1 423.1,144.2 423.9,144.9Z M428.9,144.4 427.9,145.9 427.4,148.5 426.5,147.0 426.3,144.4 426.5,141.8 427.4,141.7 428.4,141.4Z M414.1,148.9 413.4,149.5 413.0,150.7 412.1,150.2 412.1,148.9 412.3,147.9 413.0,147.3 413.8,147.8Z M418.0,149.8 417.3,151.5 416.8,153.2 415.9,152.3 415.4,149.8 416.2,148.2 416.8,146.8 417.7,147.1Z M422.8,150.8 422.8,152.0 422.1,152.2 421.4,151.9 421.2,150.8 421.5,150.0 422.1,149.1 422.7,149.9Z M426.9,149.9 426.9,152.5 426.1,153.2 425.0,153.0 425.1,149.9 425.4,148.1 426.1,145.4 426.9,147.3Z M411.1,153.8 410.8,155.5 409.8,155.3 408.8,155.6 408.6,153.8 409.1,152.3 409.8,151.5 410.6,152.3Z M416.4,153.9 416.2,155.3 415.8,157.0 415.3,155.6 415.4,153.9 415.3,152.1 415.8,151.5 416.4,152.1Z M421.4,154.3 421.3,155.9 420.6,157.0 419.8,156.1 419.8,154.3 419.9,152.8 420.6,151.6 421.4,152.6Z M425.6,154.8 425.3,156.2 424.7,156.6 424.0,156.4 423.8,154.8 424.1,153.4 424.7,152.9 425.2,153.5Z M430.3,152.5 430.0,154.3 429.5,154.2 429.1,154.0 428.8,152.5 429.1,151.0 429.5,149.9 429.8,151.5Z M413.2,158.2 413.0,159.1 412.6,159.7 412.0,159.4 411.9,158.2 412.1,157.3 412.6,157.0 413.3,156.9Z M417.6,156.3 417.4,158.0 417.1,159.9 416.8,158.5 416.8,156.3 416.8,154.1 417.1,152.5 417.4,154.7Z M421.4,157.4 421.3,158.3 421.0,158.9 420.8,158.2 420.5,157.4 420.8,156.6 421.0,155.8 421.3,156.4Z M426.1,156.6 425.8,159.0 425.2,160.0 424.7,158.6 424.5,156.6 424.5,153.9 425.2,153.2 425.6,154.9Z M430.7,156.9 430.5,158.1 430.1,158.6 429.7,158.0 429.6,156.9 429.6,155.4 430.1,155.4 430.5,155.7Z M413.9,162.8 413.6,165.3 413.0,166.1 412.5,164.6 412.0,162.8 412.4,160.3 413.0,159.5 413.5,160.7Z M417.9,163.0 418.0,165.1 417.3,164.6 416.9,164.3 416.5,163.0 416.7,161.4 417.3,161.2 417.7,161.7Z M422.1,162.1 421.8,163.5 421.3,163.8 420.8,163.2 420.5,162.1 420.7,160.9 421.3,160.2 421.6,161.3Z M426.8,162.3 426.6,163.8 426.3,165.5 426.0,163.9 425.8,162.3 425.9,160.5 426.3,160.0 426.7,160.4Z M414.0,165.6 413.8,167.1 413.2,167.1 412.7,166.7 412.4,165.6 412.5,164.1 413.2,164.2 413.6,164.7Z M417.9,164.8 417.6,166.9 417.0,168.1 416.3,167.0 415.9,164.8 416.3,162.6 417.0,162.4 417.9,161.7Z M422.1,166.7 421.7,168.4 421.3,170.7 420.7,169.6 420.5,166.7 420.8,164.2 421.3,164.0 422.0,163.2Z M426.2,165.2 426.1,167.8 425.6,167.6 425.4,166.8 424.9,165.2 425.3,163.4 425.6,162.6 426.0,163.2Z M429.9,166.6 429.7,168.1 429.3,168.6 429.0,167.9 428.9,166.6 429.0,165.0 429.3,164.4 429.6,165.6Z M413.6,170.1 413.2,171.6 412.7,171.7 412.2,171.7 411.9,170.1 412.3,168.7 412.7,168.1 413.2,168.6Z M417.9,170.0 417.4,170.7 417.1,171.2 416.4,171.3 416.4,170.0 416.6,169.0 417.1,168.9 417.7,168.8Z M423.9,171.0 423.0,172.2 422.4,173.1 421.6,172.6 421.0,171.0 421.6,169.5 422.4,169.4 423.2,169.5Z M427.2,169.5 426.8,170.4 426.4,171.7 425.8,170.7 425.6,169.5 425.9,168.6 426.4,167.8 427.1,168.2Z M413.8,173.7 413.4,175.4 412.5,175.6 411.6,175.3 411.0,173.7 411.8,172.2 412.5,171.5 413.3,172.0Z M416.6,173.9 416.6,175.1 415.8,175.0 415.1,174.9 415.0,173.9 415.1,172.8 415.8,172.4 416.4,173.0Z M421.7,173.7 421.7,175.5 420.7,176.5 420.0,175.0 419.7,173.7 419.5,171.5 420.7,171.8 421.8,171.8Z M425.9,173.3 425.7,174.3 424.8,174.9 423.8,174.4 424.0,173.3 423.8,172.2 424.8,171.6 425.6,172.5Z M414.1,176.9 413.8,178.4 413.3,178.1 412.8,178.3 412.5,176.9 412.8,175.5 413.3,174.9 413.6,175.9Z M418.0,178.0 418.0,180.3 417.4,180.5 417.1,179.2 416.7,178.0 417.0,176.3 417.4,174.6 417.7,176.8Z M422.9,178.2 422.6,180.2 422.1,180.7 421.3,181.0 421.5,178.2 421.5,176.2 422.1,174.5 422.5,176.4Z M426.4,178.7 426.5,181.8 425.7,181.8 425.1,181.2 424.9,178.7 425.1,176.4 425.7,174.8 426.3,176.5Z M417.3,182.4 417.2,183.5 416.8,183.6 416.6,183.0 416.3,182.4 416.5,181.3 416.8,181.3 417.1,181.4Z M421.3,182.7 421.1,183.9 420.8,183.6 420.4,184.0 420.3,182.7 420.5,181.6 420.8,181.2 421.0,181.7Z M426.9,183.4 426.5,186.3 425.5,186.0 424.7,185.6 423.7,183.4 424.7,181.3 425.5,180.2 426.3,181.0Z M418.7,185.6 418.6,187.3 418.3,188.4 418.0,187.4 417.8,185.6 417.9,183.2 418.3,183.9 418.7,183.2Z M424.0,185.2 423.8,186.1 423.4,187.1 422.8,186.6 422.8,185.2 422.9,184.0 423.4,183.6 424.1,183.7Z M428.7,136.3 428.1,137.3 425.2,138.0 421.7,138.4 417.8,138.4 414.4,138.0 411.7,137.3 410.6,136.3 411.8,135.3 414.3,134.6 417.9,134.2 421.8,134.1 425.5,134.5 427.6,135.4Z M427.5,136.3 426.7,137.1 424.7,137.8 421.6,138.2 418.1,138.1 415.1,137.7 412.6,137.1 412.0,136.3 412.7,135.4 414.8,134.8 418.2,134.5 421.5,134.5 424.8,134.7 426.9,135.4Z M426.6,136.3 425.6,137.0 423.9,137.5 421.3,137.9 418.3,138.0 415.5,137.6 413.9,137.0 413.4,136.3 413.9,135.6 415.5,135.0 418.3,134.6 421.3,134.7 423.8,135.0 425.8,135.6Z M425.5,136.3 424.7,136.9 423.1,137.3 421.0,137.6 418.5,137.7 416.4,137.4 414.8,136.9 414.1,136.3 414.8,135.7 416.4,135.2 418.6,135.0 421.0,135.0 423.3,135.2 425.0,135.7Z M424.5,136.3 423.9,136.8 422.4,137.1 420.7,137.3 418.8,137.4 416.9,137.2 415.7,136.8 415.3,136.3 415.7,135.8 417.1,135.4 418.9,135.3 420.8,135.2 422.6,135.4 423.8,135.8Z M423.2,136.3 422.7,136.6 421.8,136.9 420.5,137.1 419.0,137.1 417.7,136.9 416.8,136.7 416.5,136.3 416.9,135.9 417.7,135.6 419.1,135.5 420.5,135.5 421.9,135.6 423.0,135.9Z M406.1,219.8 409.4,220.1 412.6,220.0 415.9,220.0 419.2,220.1 422.5,219.8 425.8,220.0 429.0,219.8 432.3,219.8 M407.0,219.1 410.0,219.4 413.1,219.2 416.1,219.0 419.2,219.4 422.3,219.0 425.3,219.1 428.4,219.0 431.4,219.5 M408.3,218.6 411.0,218.6 413.7,218.7 416.5,218.6 419.2,218.4 421.9,218.3 424.7,218.5 427.4,218.4 430.1,218.3 M409.9,217.6 412.2,217.9 414.5,217.5 416.9,218.0 419.2,218.0 421.5,218.1 423.9,217.9 426.2,217.8 428.5,218.0 M411.6,216.9 413.5,216.9 415.4,217.2 417.3,217.4 419.2,217.4 421.1,217.0 423.0,217.1 424.9,216.9 426.8,217.4 M427.2,200.7 427.2,202.2 426.5,204.6 425.4,206.9 423.9,208.7 421.6,209.6 420.4,210.5 419.3,212.5 417.6,212.9 415.9,211.8 414.4,209.3 413.0,206.7 411.8,204.2 410.8,202.5 410.8,200.6 411.7,199.6 412.0,198.1 413.0,195.7 414.7,194.2 416.4,192.8 417.7,192.0 419.1,191.1 420.6,191.6 421.9,192.7 424.0,194.3 425.3,195.6 426.9,197.5 427.6,199.5Z M427.5,200.8 426.8,201.8 426.1,203.8 425.0,206.1 423.4,208.6 422.0,210.7 420.4,211.8 419.3,212.5 417.8,212.1 416.5,211.1 414.8,208.7 413.3,206.5 412.5,204.2 411.0,202.3 410.9,200.7 411.3,199.5 411.8,197.7 412.7,195.8 414.3,193.9 416.6,193.0 418.4,192.5 419.4,192.7 420.3,192.2 422.4,192.6 424.0,193.8 425.3,196.0 426.6,197.9 427.6,199.5Z M428.1,200.5 427.6,202.2 427.0,204.4 425.4,207.0 423.9,208.8 421.8,209.8 420.2,210.8 419.2,210.8 418.0,210.8 416.3,210.2 415.1,208.0 413.4,206.1 412.3,203.8 411.6,201.8 411.0,200.7 410.9,199.4 411.5,197.5 412.6,195.3 414.7,193.8 416.4,193.2 418.3,193.0 419.5,192.5 420.0,192.6 421.7,193.1 423.5,194.8 424.8,196.1 425.6,197.9 427.1,199.3Z M427.2,200.3 426.6,201.7 425.8,204.0 425.0,206.1 423.4,208.3 421.6,210.0 420.4,210.8 419.4,210.7 418.4,210.0 417.0,209.3 414.8,208.1 413.4,206.1 412.3,203.9 411.4,202.1 411.3,200.3 411.3,199.2 411.8,197.6 413.1,195.9 414.6,194.3 417.0,193.6 418.5,193.2 419.0,192.8 420.4,192.6 422.0,193.3 423.5,194.4 424.8,196.3 426.5,198.0 427.2,199.2Z M426.6,200.6 426.2,202.1 426.1,203.9 424.5,206.2 423.2,208.2 421.6,209.9 420.5,210.8 419.4,211.1 418.0,210.5 417.0,209.7 415.1,208.5 413.5,206.3 412.4,204.3 412.1,202.0 411.8,200.7 411.9,199.8 412.7,198.1 414.1,196.7 415.4,194.9 416.9,193.5 418.3,192.4 419.3,192.3 420.3,192.4 422.2,192.8 423.9,193.9 425.1,196.1 425.7,198.1 425.8,199.8Z M426.6,200.7 425.9,202.1 425.2,203.9 424.4,206.1 423.7,208.6 421.7,209.8 420.3,210.7 419.3,210.6 418.0,210.0 417.2,208.8 415.5,207.5 413.8,206.0 412.7,203.6 411.7,202.2 411.5,200.6 411.5,199.7 412.4,197.7 413.8,196.1 415.5,194.8 416.7,193.5 418.0,192.7 419.5,192.8 419.9,193.1 421.2,193.9 423.0,195.2 424.7,196.2 426.5,197.9 426.9,199.5Z M426.2,200.7 426.4,202.1 425.6,203.8 424.8,206.2 422.7,207.6 421.2,208.5 419.9,210.0 419.1,210.5 418.3,210.2 417.1,208.9 415.6,208.0 413.5,206.4 412.3,204.1 412.1,202.1 412.5,200.7 412.6,199.7 413.0,198.0 414.3,196.4 415.3,195.0 417.1,193.5 418.0,192.8 419.3,192.6 420.3,192.4 421.9,193.2 423.2,194.4 424.8,196.1 425.3,197.9 425.8,199.7Z M427.2,200.4 426.5,202.1 425.5,203.8 424.3,205.3 422.6,207.8 421.6,209.3 420.0,209.9 419.3,210.1 418.4,209.9 416.7,209.3 415.5,207.3 414.5,205.0 413.9,203.5 413.2,201.7 412.4,200.7 412.0,199.6 412.2,197.5 413.8,195.7 415.6,194.6 417.1,193.6 418.5,193.1 419.0,193.1 420.3,193.3 421.2,193.7 422.3,195.3 423.6,197.0 425.0,198.1 426.3,199.8Z M426.4,200.7 426.1,201.6 424.9,203.3 423.7,205.5 422.6,207.3 421.3,208.8 420.2,209.5 419.4,209.5 418.5,209.6 417.0,208.6 415.3,207.5 414.1,205.7 413.5,203.3 412.7,201.9 412.5,200.4 412.5,199.4 413.4,198.3 414.5,196.6 415.8,194.7 416.8,193.7 418.4,193.8 419.3,193.3 420.2,193.7 421.1,193.8 423.0,194.8 424.1,196.8 425.1,198.4 426.1,199.6Z M426.0,200.3 425.7,201.7 424.8,203.6 424.0,205.1 422.7,207.2 421.4,209.0 420.1,210.1 419.2,210.0 418.5,209.1 417.0,208.0 416.2,206.9 414.6,205.1 413.4,203.2 412.9,201.5 412.6,200.4 412.4,199.5 413.4,198.2 414.3,196.5 415.9,195.1 417.3,193.9 418.2,193.3 419.0,193.0 419.9,193.2 421.4,194.0 422.5,195.5 423.7,196.7 425.1,198.2 425.7,199.9Z M425.7,200.9 425.0,201.5 424.5,203.3 423.4,204.9 422.1,206.7 420.8,208.1 420.1,209.1 419.2,209.2 418.3,209.5 417.3,208.6 415.7,207.0 414.6,205.1 413.8,203.3 412.6,201.6 411.8,200.6 412.3,199.7 413.7,198.2 415.1,197.2 416.6,195.7 417.1,194.6 418.5,193.8 419.3,193.0 420.3,192.9 421.1,193.8 422.7,195.3 423.8,196.9 424.8,198.5 425.1,199.5Z M425.1,200.4 424.9,201.7 424.6,203.2 423.2,204.9 422.3,206.5 421.1,208.4 420.1,209.1 419.1,209.3 418.3,209.4 417.5,208.7 416.0,207.3 414.7,205.0 413.9,203.1 413.4,201.4 413.6,200.5 413.3,199.8 414.4,198.6 415.0,197.3 416.1,195.0 417.3,193.4 418.5,192.8 419.0,193.0 419.6,193.8 421.1,194.2 422.5,195.3 423.6,196.9 424.3,198.2 424.8,199.8Z M425.0,200.4 425.0,201.5 424.4,203.0 423.3,204.9 422.5,206.6 421.0,208.4 419.7,209.0 419.1,208.7 418.6,208.4 417.3,207.8 416.4,206.3 415.1,204.8 414.4,203.0 413.2,201.3 412.6,200.5 413.3,200.0 414.0,198.3 415.2,196.9 416.5,195.6 417.2,194.3 418.7,193.9 419.1,193.2 419.9,194.1 421.1,194.9 422.2,196.0 423.3,196.9 424.7,198.5 425.5,199.8Z M424.7,200.8 424.6,201.8 423.6,202.7 423.0,204.8 421.8,206.1 420.8,207.4 419.9,208.5 419.5,209.1 418.4,208.8 417.4,207.8 416.5,206.0 415.4,205.0 414.1,203.1 413.4,201.4 413.2,200.4 414.0,199.6 414.2,198.7 415.6,196.9 416.3,195.5 417.3,195.0 418.7,194.5 419.1,194.3 419.8,194.1 421.0,194.5 422.5,195.5 423.7,196.7 424.8,198.0 424.8,199.8Z M424.6,200.7 424.2,201.2 423.5,203.1 422.7,204.3 421.9,205.8 421.1,207.8 420.1,208.9 419.3,208.7 418.4,208.2 417.8,207.5 416.3,206.5 415.5,205.1 414.5,203.3 414.2,201.7 414.5,200.4 414.4,199.7 414.7,198.9 415.6,197.3 416.4,195.5 417.7,194.1 418.5,193.8 419.1,194.2 419.9,194.2 421.0,194.8 422.0,195.7 423.0,197.0 424.2,198.8 424.2,199.6Z M423.3,200.7 423.5,201.3 422.9,202.4 422.3,204.1 421.3,205.8 420.8,206.9 419.7,207.9 419.5,207.8 418.8,207.3 417.9,206.5 417.0,205.4 415.9,204.3 415.4,202.5 415.1,201.0 415.1,200.4 415.0,200.2 415.3,199.1 416.1,197.1 417.0,195.8 417.6,195.1 419.0,194.9 419.3,194.7 419.6,194.8 420.3,195.1 421.4,195.9 422.6,197.3 423.0,199.0 423.0,200.0Z M423.1,200.9 422.6,201.3 422.4,202.2 421.3,203.3 420.7,204.5 420.2,206.0 419.8,206.5 419.4,206.6 419.0,206.5 418.1,205.3 417.9,204.6 416.7,203.6 416.4,202.4 415.8,201.4 415.8,200.8 415.8,199.9 415.9,199.3 416.9,198.1 417.5,196.6 418.5,196.0 418.9,195.2 419.2,195.0 419.4,195.7 419.8,196.1 420.5,197.1 421.2,198.3 422.2,199.2 423.0,200.3Z M421.8,200.8 421.4,201.1 421.4,202.1 420.7,202.7 420.1,204.4 420.1,205.3 419.5,205.7 419.3,205.6 419.3,206.2 418.7,205.7 418.2,204.6 417.5,202.9 417.4,202.0 416.8,200.9 416.8,200.4 417.1,200.4 417.0,199.3 417.7,198.3 418.1,197.4 418.4,196.2 418.9,195.7 419.4,194.9 419.6,195.6 419.7,196.1 420.3,197.5 420.5,198.5 421.4,199.2 421.6,200.2Z M420.7,200.3 420.6,200.9 420.2,202.0 419.9,202.6 419.8,203.6 419.3,204.4 419.4,204.5 419.3,205.1 419.0,204.6 418.6,204.4 418.6,203.3 418.2,202.7 418.0,201.4 418.0,201.2 417.4,200.7 417.6,200.4 417.6,199.4 418.3,198.6 418.9,198.0 418.9,196.9 418.9,196.5 419.2,196.7 419.1,196.6 419.3,197.1 419.6,198.2 419.9,198.8 420.4,199.4 420.6,200.5Z M448.2,220.2 450.1,220.4 451.9,219.8 453.8,220.2 455.6,219.9 457.4,220.0 459.3,220.0 461.1,219.9 463.0,220.3 M449.1,219.3 450.7,219.3 452.3,219.3 454.0,219.5 455.6,219.1 457.2,219.3 458.9,219.4 460.5,219.0 462.1,219.3 M450.2,218.8 451.5,218.3 452.9,218.7 454.2,218.2 455.6,218.1 457.0,218.5 458.3,218.4 459.7,218.3 461.0,218.5 M451.1,217.7 452.2,217.5 453.3,217.7 454.5,218.0 455.6,218.1 456.7,218.0 457.9,217.9 459.0,217.7 460.1,217.5 M463.5,201.0 463.3,203.6 462.3,206.5 461.3,209.4 459.7,211.7 458.4,213.6 456.8,214.1 455.4,215.1 454.4,215.2 452.5,214.0 451.0,212.8 449.9,210.2 448.5,206.9 448.1,203.1 448.4,200.7 448.4,199.2 448.6,196.9 449.8,195.1 451.5,193.9 453.2,192.9 454.7,192.1 455.3,191.6 457.1,191.8 458.5,192.5 459.8,193.6 461.2,195.4 462.3,197.2 463.3,199.2Z M462.8,200.7 462.7,202.9 462.1,206.3 460.6,208.6 459.5,211.0 458.3,212.9 456.7,215.5 455.6,216.5 454.4,216.0 452.7,214.5 451.3,211.9 450.1,209.1 449.6,206.0 449.1,203.2 448.6,200.7 448.6,199.2 449.5,197.4 450.1,195.8 451.7,193.9 453.1,192.2 454.5,191.3 455.5,191.1 457.0,191.6 458.2,192.9 459.7,193.7 461.0,195.7 462.0,197.5 462.3,199.6Z M462.4,200.6 462.4,203.1 461.8,205.9 460.9,208.9 459.5,211.6 458.2,213.9 456.4,214.7 455.3,214.5 454.8,213.3 453.4,212.2 451.9,210.9 450.6,208.5 449.5,206.1 448.8,203.3 448.7,200.7 448.3,199.5 449.0,197.3 450.2,195.6 451.8,193.7 452.9,192.9 454.2,192.0 455.5,192.4 456.6,192.6 458.0,193.3 459.5,193.9 460.8,195.3 461.8,197.4 462.4,199.1Z M462.3,200.6 461.9,202.9 462.0,205.6 461.0,209.3 459.6,211.9 458.1,213.0 456.4,213.1 455.6,213.1 454.6,213.5 453.4,212.5 452.0,210.7 451.1,207.8 450.2,205.4 449.3,202.9 448.8,200.6 448.6,199.6 449.1,197.3 450.4,195.6 452.0,194.4 453.0,192.7 454.5,192.6 455.6,192.3 456.7,192.2 458.2,193.3 459.0,194.3 460.3,196.3 461.5,197.6 462.2,199.4Z M462.3,201.0 462.1,202.8 461.0,205.3 460.5,208.0 459.1,210.2 457.9,211.7 456.4,212.4 455.4,213.3 454.8,213.7 453.2,213.0 451.7,211.4 450.5,208.2 450.2,205.1 449.8,202.6 449.2,200.7 448.9,199.5 449.8,197.4 450.6,196.0 452.3,194.5 453.2,193.4 454.4,192.5 455.6,192.2 456.4,192.5 458.0,193.6 459.2,194.2 460.7,195.5 461.5,197.8 461.9,199.6Z M461.4,200.9 461.6,202.9 461.7,205.6 460.6,208.7 459.1,210.4 458.1,211.7 456.5,212.4 455.9,212.8 455.0,212.2 453.7,211.0 452.1,210.0 450.9,207.9 449.9,205.5 449.4,202.5 449.2,200.6 449.6,199.8 450.2,197.6 451.2,196.1 452.0,194.4 453.0,193.0 454.5,191.8 455.7,191.8 456.7,193.3 457.4,194.0 459.0,195.2 460.4,196.2 461.5,197.9 461.8,199.8Z M461.4,201.0 461.1,202.3 460.8,204.5 460.1,207.4 458.7,210.0 457.7,211.9 456.6,212.2 455.8,212.2 454.5,212.3 453.7,211.5 452.3,210.0 451.2,207.2 450.6,205.0 449.7,202.4 449.5,200.6 449.2,199.5 450.0,197.8 451.4,196.4 452.3,195.1 453.3,193.8 454.7,192.8 455.7,193.0 456.2,192.8 457.3,193.7 458.8,194.7 460.3,196.3 461.3,197.6 461.9,199.8Z M461.1,200.5 461.3,202.6 460.3,204.8 459.8,207.2 458.7,209.2 458.0,211.9 456.6,212.8 455.4,212.5 454.7,212.0 453.5,210.8 452.3,209.6 451.5,207.2 451.3,204.6 450.5,202.0 450.3,200.8 450.2,199.7 450.1,197.8 451.0,196.0 452.2,194.9 453.9,193.5 454.7,193.2 455.8,192.7 456.4,193.0 457.4,193.5 458.5,195.0 459.5,196.5 460.0,198.1 460.7,199.5Z M461.6,200.8 460.7,202.4 460.2,204.3 459.6,207.2 458.5,209.3 457.3,210.3 456.1,210.8 455.6,211.5 454.6,211.0 454.0,210.2 452.9,208.4 451.9,206.9 450.7,204.7 450.4,202.2 450.3,200.7 450.1,199.6 450.8,198.0 451.1,196.3 452.5,194.5 453.6,193.7 455.2,193.5 455.4,193.5 456.5,194.0 457.5,194.2 458.5,195.4 459.6,196.4 460.5,198.1 461.4,199.6Z M461.2,201.1 460.6,202.0 460.0,204.2 459.5,206.1 458.6,208.6 457.6,210.8 456.5,211.7 455.6,211.3 454.8,210.2 453.8,209.6 453.1,208.3 451.7,206.7 451.0,204.2 450.6,202.5 450.4,200.8 450.4,199.8 451.1,198.0 451.7,197.0 453.2,195.9 454.0,194.1 454.8,193.3 455.5,193.0 456.1,193.9 457.4,194.6 458.1,195.1 459.7,196.6 460.6,198.0 460.9,199.7Z M460.9,201.1 460.6,202.0 459.6,203.6 459.0,205.7 458.0,207.8 457.4,209.5 456.2,211.1 455.4,211.8 455.0,211.5 454.0,210.1 452.6,208.7 451.7,206.6 451.5,203.8 451.1,202.3 450.9,201.0 451.1,199.7 451.2,198.6 452.0,197.2 453.3,195.8 454.0,194.6 454.7,193.4 455.6,192.9 456.3,193.4 457.5,194.0 458.0,195.3 459.3,196.8 459.8,198.2 460.6,199.6Z M459.9,201.0 460.4,202.2 459.8,204.0 458.8,206.0 458.0,208.0 456.8,209.3 456.2,210.1 455.9,210.8 455.1,210.5 454.0,209.8 453.0,207.9 452.0,206.0 451.4,203.7 450.7,202.0 450.5,200.8 450.8,200.0 451.6,198.8 452.6,197.3 453.4,196.4 454.4,194.8 455.1,193.7 455.9,192.8 456.4,193.7 457.2,194.3 458.2,195.9 458.9,197.1 459.5,198.5 460.1,199.8Z M460.4,200.9 460.5,201.8 460.1,204.3 459.3,205.8 458.0,207.4 456.9,209.2 456.0,210.1 455.6,210.1 455.1,209.4 454.0,208.2 453.6,207.3 452.5,205.7 451.6,203.9 451.3,202.2 451.5,201.1 451.3,199.9 451.5,198.5 452.2,197.3 452.9,195.9 453.8,194.5 454.8,193.3 455.4,193.3 456.4,194.2 457.0,195.3 457.8,196.4 458.7,197.3 459.4,198.7 460.0,199.7Z M459.0,201.0 458.8,201.5 458.8,203.4 458.2,205.2 457.8,206.6 456.5,208.1 456.2,208.5 455.7,208.7 454.9,208.3 454.3,207.9 453.7,206.4 453.3,204.4 452.4,202.8 451.8,201.8 451.8,201.1 451.8,200.0 452.5,198.8 452.8,197.8 453.7,196.0 454.6,195.6 455.0,195.0 455.5,195.0 455.8,195.0 456.8,195.2 457.6,196.6 457.9,197.5 458.7,198.9 459.3,200.0Z M458.4,200.8 458.4,201.3 458.0,202.7 457.6,204.1 457.2,205.5 456.5,206.7 455.7,207.4 455.8,207.8 455.6,207.2 455.0,206.6 454.3,205.5 453.4,204.1 453.0,202.8 453.3,201.2 453.1,200.7 452.9,200.0 452.9,199.1 453.5,198.0 454.4,196.8 454.8,195.8 455.3,195.2 455.3,195.1 456.1,195.2 456.5,195.7 457.0,197.1 457.8,198.0 457.7,199.2 458.1,200.3Z M458.1,200.7 457.8,201.6 457.5,202.1 457.0,203.5 456.5,204.5 456.2,205.1 456.0,205.5 455.8,206.1 455.3,206.1 455.3,205.9 454.5,205.1 454.1,203.6 453.8,202.2 453.3,201.4 453.6,200.7 453.9,200.4 454.1,199.3 454.1,198.7 454.9,197.4 455.4,196.7 455.3,196.2 455.5,196.3 456.0,196.0 456.1,196.7 456.8,197.4 457.3,198.6 457.7,199.7 457.8,200.6Z M457.1,200.7 456.9,201.0 456.4,202.1 456.4,202.9 456.4,203.6 455.8,204.5 455.8,205.3 455.8,205.1 455.6,205.1 455.3,204.4 455.0,204.0 454.8,202.7 454.4,202.1 454.7,201.0 454.1,200.9 454.4,200.3 454.4,200.1 454.9,199.0 455.0,197.9 455.1,197.2 455.8,196.6 455.7,196.7 455.8,197.2 455.7,197.4 456.1,198.2 456.3,199.1 456.6,199.6 456.9,200.6Z"/></g>
<ellipse cx="312.2" cy="45.2" rx="8.0" ry="1.5" fill="#222" opacity="0.60"/>
<ellipse cx="419.3" cy="46.3" rx="8.0" ry="1.5" fill="#222" opacity="0.72"/>
<ellipse cx="97.6" cy="136.3" rx="7.6" ry="1.5" fill="#222" opacity="0.48"/>
<ellipse cx="207.3" cy="136.3" rx="8.8" ry="1.5" fill="#222" opacity="0.84"/>
<ellipse cx="312.7" cy="136.3" rx="8.4" ry="1.5" fill="#222" opacity="0.60"/>
<ellipse cx="419.8" cy="136.3" rx="8.4" ry="1.5" fill="#222" opacity="0.72"/>
<rect class="fr" x="79.5" y="40.5" width="106.0" height="90.5"/>
<rect class="fr" x="185.5" y="40.5" width="106.25" height="90.5"/>
<rect class="fr" x="291.75" y="40.5" width="107.25" height="90.5"/>
<rect class="fr" x="399.0" y="40.5" width="106.5" height="90.5"/>
<rect class="fr" x="79.5" y="131.0" width="106.0" height="90.0"/>
<rect class="fr" x="185.5" y="131.0" width="106.25" height="90.0"/>
<rect class="fr" x="291.75" y="131.0" width="107.25" height="90.0"/>
<rect class="fr" x="399.0" y="131.0" width="106.5" height="90.0"/>
<path class="gate" d="M115.7,129.6 L115.7,103.2 A8.5,10.5 0 0 1 124.2,92.7 L141.2,92.7 A8.5,10.5 0 0 1 149.7,103.2 L149.7,129.6"/>
<text x="125.2" y="85.4" font-size="13.3" textLength="28.1" lengthAdjust="spacingAndGlyphs">84%</text>
<path class="gate" d="M224.6,129.6 L224.6,103.2 A8.5,10.5 0 0 1 233.1,92.7 L248.4,92.7 A8.5,10.5 0 0 1 256.9,103.2 L256.9,129.6"/>
<text x="230.7" y="86.7" font-size="13.3" textLength="38.7" lengthAdjust="spacingAndGlyphs">75.4%</text>
<path class="gate" d="M333.0,129.6 L333.0,103.5 A8.5,10.5 0 0 1 341.5,93.0 L358.0,93.0 A8.5,10.5 0 0 1 366.5,103.5 L366.5,129.6"/>
<text x="339.9" y="86.0" font-size="13.3" textLength="37.6" lengthAdjust="spacingAndGlyphs">42.7%</text>
<path class="gate" d="M444.6,129.6 L444.6,102.9 A8.5,10.5 0 0 1 453.1,92.4 L459.4,92.4 A8.5,10.5 0 0 1 467.9,102.9 L467.9,129.6"/>
<text x="450.8" y="85.4" font-size="13.3" textLength="27.5" lengthAdjust="spacingAndGlyphs">23%</text>
<path class="gate" d="M118.3,222.6 L118.3,194.2 A8.5,10.5 0 0 1 126.8,183.7 L142.0,183.7 A8.5,10.5 0 0 1 150.5,194.2 L150.5,222.6"/>
<text x="125.2" y="177.1" font-size="13.3" textLength="39.3" lengthAdjust="spacingAndGlyphs">52.7%</text>
<path class="gate" d="M228.2,222.6 L228.2,193.9 A8.5,10.5 0 0 1 236.7,183.4 L253.5,183.4 A8.5,10.5 0 0 1 262.0,193.9 L262.0,222.6"/>
<text x="237.1" y="177.5" font-size="13.3" textLength="37.6" lengthAdjust="spacingAndGlyphs">17.2%</text>
<path class="gate" d="M332.2,222.6 L332.2,194.2 A8.5,10.5 0 0 1 340.7,183.7 L357.5,183.7 A8.5,10.5 0 0 1 366.0,194.2 L366.0,222.6"/>
<text x="339.3" y="177.5" font-size="13.3" textLength="38.3" lengthAdjust="spacingAndGlyphs">34.8%</text>
<path class="gate" d="M442.6,222.6 L442.6,195.5 A8.5,10.5 0 0 1 451.1,185.0 L466.5,185.0 A8.5,10.5 0 0 1 475.0,195.5 L475.0,222.6"/>
<text x="450.1" y="178.2" font-size="13.3" textLength="38.7" lengthAdjust="spacingAndGlyphs">22.6%</text>
<text x="108.8" y="29.1" font-size="12" textLength="43.4" lengthAdjust="spacingAndGlyphs">Control</text>
<text x="215.0" y="29.0" font-size="12" textLength="48.6" lengthAdjust="spacingAndGlyphs">CAL-101</text>
<text x="302.6" y="28.2" font-size="12" textLength="83.7" lengthAdjust="spacingAndGlyphs">Bendamustine</text>
<text x="420.1" y="13.0" font-size="12" textLength="60.2" lengthAdjust="spacingAndGlyphs">CAL-101 +</text>
<text x="410.4" y="27.6" font-size="12" textLength="84" lengthAdjust="spacingAndGlyphs">Bendamustine</text>
<text x="110.3" y="236.3" font-size="12" textLength="42.3" lengthAdjust="spacingAndGlyphs">F-ara-A</text>
<text x="213.5" y="236.8" font-size="12" textLength="59.6" lengthAdjust="spacingAndGlyphs">CAL-101 +</text>
<text x="213.5" y="251.5" font-size="12" textLength="42.3" lengthAdjust="spacingAndGlyphs">F-ara-A</text>
<text x="299.5" y="236.3" font-size="12" textLength="94.2" lengthAdjust="spacingAndGlyphs">Dexamethasone</text>
<text x="426.2" y="236.3" font-size="12" textLength="60.5" lengthAdjust="spacingAndGlyphs">CAL-101 +</text>
<text x="406.4" y="250.9" font-size="12" textLength="94.3" lengthAdjust="spacingAndGlyphs">Dexamethasone</text>
<text x="2.9" y="33.2" font-size="25">A</text>
<text x="37" y="124.6" font-size="17.5" textLength="15.2" lengthAdjust="spacingAndGlyphs">PI</text>
<text x="104.6" y="287.3" font-size="18.3">DiOC<tspan font-size="12" dy="4.3">6</tspan></text>
<path class="ax" d="M61,45 V266.3 H214"/>
<path class="ax" d="M55.8,52.4 L61,44.6 L66.4,52.4" stroke-linejoin="miter" stroke-linecap="round"/>
<path class="ax" d="M206.6,261.2 L215.2,266.3 L206.6,271.4" stroke-linejoin="miter" stroke-linecap="round"/>
<text x="2.2" y="324.1" font-size="25">B</text>
<rect x="80.5" y="357" width="13.9" height="106.5" fill="#000"/>
<path class="eb" d="M100.30,381.2 V373.3 M96.90,373.3 H103.70"/>
<rect class="bar" x="94.4" y="381.2" width="11.8" height="82.3" fill="#2f2f2f"/>
<path class="eb" d="M112.50,366.2 V364.2 M109.10,364.2 H115.90"/>
<rect class="bar" x="106.2" y="366.2" width="12.6" height="97.3" fill="#5c5c5c"/>
<path class="eb" d="M125.00,392.5 V384.3 M121.60,384.3 H128.40"/>
<rect class="bar" x="118.8" y="392.5" width="12.4" height="71.0" fill="#898989"/>
<text x="124.5" y="383.3" font-size="14" text-anchor="middle" stroke-width="0.15">*</text>
<rect x="143" y="357" width="13.4" height="106.5" fill="#000"/>
<path class="eb" d="M162.35,391.2 V382 M158.95,382 H165.75"/>
<rect class="bar" x="156.4" y="391.2" width="11.9" height="72.3" fill="#2f2f2f"/>
<text x="161.3" y="380.6" font-size="14" text-anchor="middle" stroke-width="0.15">*</text>
<path class="eb" d="M174.55,402.5 V393.8 M171.15,393.8 H177.95"/>
<rect class="bar" x="168.3" y="402.5" width="12.5" height="61.0" fill="#5c5c5c"/>
<text x="173.3" y="392.6" font-size="14" text-anchor="middle" stroke-width="0.15">*</text>
<path class="eb" d="M187.00,431.8 V420.8 M183.60,420.8 H190.40"/>
<rect class="bar" x="180.8" y="431.8" width="12.4" height="31.7" fill="#898989"/>
<text x="186.3" y="419.6" font-size="14" text-anchor="middle" stroke-width="0.15">*</text>
<rect x="204.8" y="357" width="13.7" height="106.5" fill="#000"/>
<path class="eb" d="M224.40,384.5 V376.3 M221.00,376.3 H227.80"/>
<rect class="bar" x="218.5" y="384.5" width="11.8" height="79.0" fill="#2f2f2f"/>
<path class="eb" d="M236.45,424.5 V409.5 M233.05,409.5 H239.85"/>
<rect class="bar" x="230.3" y="424.5" width="12.3" height="39.0" fill="#5c5c5c"/>
<text x="235.6" y="407.1" font-size="14" text-anchor="middle" stroke-width="0.15">*</text>
<path class="eb" d="M248.85,441.2 V428.6 M245.45,428.6 H252.25"/>
<rect class="bar" x="242.6" y="441.2" width="12.5" height="22.3" fill="#898989"/>
<text x="247.8" y="426.8" font-size="14" text-anchor="middle" stroke-width="0.15">*</text>
<path class="bx" d="M75.2,330.3 V463.5 H261.3"/>
<path class="bx" d="M71.00,331.50 H75.2"/>
<text x="69.3" y="335.1" font-size="10" text-anchor="end" stroke-width="0.25">120</text>
<path class="bx" d="M71.00,357.90 H75.2"/>
<text x="69.3" y="361.5" font-size="10" text-anchor="end" stroke-width="0.25">100</text>
<path class="bx" d="M71.00,384.30 H75.2"/>
<text x="69.3" y="387.9" font-size="10" text-anchor="end" stroke-width="0.25">80</text>
<path class="bx" d="M71.00,410.70 H75.2"/>
<text x="69.3" y="414.3" font-size="10" text-anchor="end" stroke-width="0.25">60</text>
<path class="bx" d="M71.00,437.10 H75.2"/>
<text x="69.3" y="440.7" font-size="10" text-anchor="end" stroke-width="0.25">40</text>
<path class="bx" d="M71.00,463.50 H75.2"/>
<text x="69.3" y="467.1" font-size="10" text-anchor="end" stroke-width="0.25">20</text>
<path class="bx" d="M106.2,463.5 V468.2"/>
<path class="bx" d="M167.7,463.5 V468.2"/>
<path class="bx" d="M229.5,463.5 V468.2"/>
<text x="111.3" y="332.3" font-size="18" textLength="103.7" lengthAdjust="spacingAndGlyphs">Fludarabine</text>
<text x="105.8" y="482.4" font-size="12.2" text-anchor="middle">24</text>
<text x="167.6" y="482.4" font-size="12.2" text-anchor="middle">48</text>
<text x="229.9" y="482.4" font-size="12.2" text-anchor="middle">72</text>
<text x="145.4" y="500.6" font-size="13" textLength="45.2" lengthAdjust="spacingAndGlyphs">Time (h)</text>
<text transform="translate(44.0,464.6) rotate(-90)" font-size="12.6" textLength="69.3" lengthAdjust="spacingAndGlyphs">Viable cells</text>
<text transform="translate(44.0,393.6) rotate(-90)" font-size="12.6" textLength="65.7" lengthAdjust="spacingAndGlyphs">(%control)</text>
<rect x="333.8" y="362.3" width="14.7" height="102.7" fill="#000"/>
<path class="eb" d="M354.50,392.6 V383.8 M351.10,383.8 H357.90"/>
<rect class="bar" x="348.5" y="392.6" width="12.0" height="72.4" fill="#2f2f2f"/>
<path class="eb" d="M366.75,401.2 V388.2 M363.35,388.2 H370.15"/>
<rect class="bar" x="360.5" y="401.2" width="12.5" height="63.8" fill="#5c5c5c"/>
<text x="365.8" y="387.1" font-size="14" text-anchor="middle" stroke-width="0.15">*</text>
<path class="eb" d="M379.60,418.2 V404.2 M376.20,404.2 H383.00"/>
<rect class="bar" x="373" y="418.2" width="13.2" height="46.8" fill="#898989"/>
<text x="378.8" y="403.1" font-size="14" text-anchor="middle" stroke-width="0.15">*</text>
<rect x="397.5" y="362.5" width="14.3" height="102.5" fill="#000"/>
<path class="eb" d="M417.80,406.2 V393.8 M414.40,393.8 H421.20"/>
<rect class="bar" x="411.8" y="406.2" width="12.0" height="58.8" fill="#2f2f2f"/>
<text x="416.8" y="393.8" font-size="14" text-anchor="middle" stroke-width="0.15">*</text>
<path class="eb" d="M430.30,425.7 V409.2 M426.90,409.2 H433.70"/>
<rect class="bar" x="423.8" y="425.7" width="13.0" height="39.3" fill="#5c5c5c"/>
<text x="428" y="408.8" font-size="14" text-anchor="middle" stroke-width="0.15">*</text>
<path class="eb" d="M443.15,445 V426.4 M439.75,426.4 H446.55"/>
<rect class="bar" x="436.8" y="445" width="12.7" height="20" fill="#898989"/>
<text x="442" y="426.3" font-size="14" text-anchor="middle" stroke-width="0.15">*</text>
<rect x="461.3" y="362.5" width="14.2" height="102.5" fill="#000"/>
<path class="eb" d="M481.50,397 V386.3 M478.10,386.3 H484.90"/>
<rect class="bar" x="475.5" y="397" width="12.0" height="68" fill="#2f2f2f"/>
<path class="eb" d="M493.85,411.7 V394.5 M490.45,394.5 H497.25"/>
<rect class="bar" x="487.5" y="411.7" width="12.7" height="53.3" fill="#5c5c5c"/>
<text x="492.5" y="393.3" font-size="14" text-anchor="middle" stroke-width="0.15">*</text>
<path class="eb" d="M506.65,429.2 V410.6 M503.25,410.6 H510.05"/>
<rect class="bar" x="500.2" y="429.2" width="12.9" height="35.8" fill="#898989"/>
<text x="504.5" y="410.8" font-size="14" text-anchor="middle" stroke-width="0.15">*</text>
<path class="bx" d="M328.2,328.3 V465 H518.4"/>
<path class="bx" d="M324.40,329.40 H328.2"/>
<text x="323.3" y="332.7" font-size="9.3" text-anchor="end" stroke-width="0.25">120</text>
<path class="bx" d="M324.40,363.30 H328.2"/>
<text x="323.3" y="366.6" font-size="9.3" text-anchor="end" stroke-width="0.25">100</text>
<path class="bx" d="M324.40,397.20 H328.2"/>
<text x="323.3" y="400.5" font-size="9.3" text-anchor="end" stroke-width="0.25">80</text>
<path class="bx" d="M324.40,431.10 H328.2"/>
<text x="323.3" y="434.4" font-size="9.3" text-anchor="end" stroke-width="0.25">60</text>
<path class="bx" d="M324.40,465.00 H328.2"/>
<text x="323.3" y="468.3" font-size="9.3" text-anchor="end" stroke-width="0.25">40</text>
<path class="bx" d="M360,465 V469.3"/>
<path class="bx" d="M423.8,465 V469.3"/>
<path class="bx" d="M487,465 V469.3"/>
<text x="355.6" y="331.8" font-size="18" textLength="140.6" lengthAdjust="spacingAndGlyphs">Dexamethasone</text>
<text x="359.9" y="483.8" font-size="12.2" text-anchor="middle">24</text>
<text x="423.4" y="483.8" font-size="12.2" text-anchor="middle">48</text>
<text x="486.9" y="483.8" font-size="12.2" text-anchor="middle">72</text>
<text x="400.8" y="503" font-size="13" textLength="46.2" lengthAdjust="spacingAndGlyphs">Time (h)</text>
<text transform="translate(296.2,465.0) rotate(-90)" font-size="12.6" textLength="69.3" lengthAdjust="spacingAndGlyphs">Viable cells</text>
<text transform="translate(296.2,393.6) rotate(-90)" font-size="12.6" textLength="66.1" lengthAdjust="spacingAndGlyphs">(%control)</text>
<rect x="84.5" y="570.5" width="13.0" height="109.7" fill="#000"/>
<path class="eb" d="M102.60,598.7 V590.5 M99.20,590.5 H106.00"/>
<rect class="bar" x="97.5" y="598.7" width="10.2" height="81.5" fill="#2f2f2f"/>
<path class="eb" d="M113.75,586.2 V580.6 M110.35,580.6 H117.15"/>
<rect class="bar" x="107.7" y="586.2" width="12.1" height="94.0" fill="#5c5c5c"/>
<path class="eb" d="M125.50,614.4 V604 M122.10,604 H128.90"/>
<rect class="bar" x="119.8" y="614.4" width="11.4" height="65.8" fill="#898989"/>
<text x="123.8" y="603.3" font-size="14" text-anchor="middle" stroke-width="0.15">*</text>
<rect x="152" y="570.5" width="12.7" height="109.7" fill="#000"/>
<path class="eb" d="M170.20,610.8 V600 M166.80,600 H173.60"/>
<rect class="bar" x="164.7" y="610.8" width="11.0" height="69.4" fill="#2f2f2f"/>
<text x="168.8" y="599.6" font-size="14" text-anchor="middle" stroke-width="0.15">*</text>
<path class="eb" d="M181.15,625.3 V614.5 M177.75,614.5 H184.55"/>
<rect class="bar" x="175.7" y="625.3" width="10.9" height="54.9" fill="#5c5c5c"/>
<text x="180" y="613.8" font-size="14" text-anchor="middle" stroke-width="0.15">*</text>
<path class="eb" d="M192.05,653 V638.8 M188.65,638.8 H195.45"/>
<rect class="bar" x="186.6" y="653" width="10.9" height="27.2" fill="#898989"/>
<text x="191" y="637.8" font-size="14" text-anchor="middle" stroke-width="0.15">*</text>
<rect x="218.8" y="570.5" width="12.5" height="109.7" fill="#000"/>
<path class="eb" d="M236.90,602.5 V593.3 M233.50,593.3 H240.30"/>
<rect class="bar" x="231.3" y="602.5" width="11.2" height="77.7" fill="#2f2f2f"/>
<path class="eb" d="M247.90,639.2 V628.8 M244.50,628.8 H251.30"/>
<rect class="bar" x="242.5" y="639.2" width="10.8" height="41.0" fill="#5c5c5c"/>
<text x="247.5" y="627.6" font-size="14" text-anchor="middle" stroke-width="0.15">*</text>
<path class="eb" d="M258.80,664.5 V651.3 M255.40,651.3 H262.20"/>
<rect class="bar" x="253.3" y="664.5" width="11.0" height="15.7" fill="#898989"/>
<text x="257.5" y="651.3" font-size="14" text-anchor="middle" stroke-width="0.15">*</text>
<path class="bx" d="M79.9,539.2 V680.2 H281"/>
<path class="bx" d="M75.20,540.00 H79.9"/>
<text x="73.6" y="543.7" font-size="10.4" text-anchor="end" stroke-width="0.25">120</text>
<path class="bx" d="M75.20,571.25 H79.9"/>
<text x="73.6" y="575.0" font-size="10.4" text-anchor="end" stroke-width="0.25">100</text>
<path class="bx" d="M75.20,602.50 H79.9"/>
<text x="73.6" y="606.2" font-size="10.4" text-anchor="end" stroke-width="0.25">80</text>
<path class="bx" d="M75.20,633.75 H79.9"/>
<text x="73.6" y="637.5" font-size="10.4" text-anchor="end" stroke-width="0.25">60</text>
<path class="bx" d="M75.20,665.00 H79.9"/>
<text x="73.6" y="668.7" font-size="10.4" text-anchor="end" stroke-width="0.25">40</text>
<path class="bx" d="M113,680.2 V685.6"/>
<path class="bx" d="M180,680.2 V685.6"/>
<path class="bx" d="M246.8,680.2 V685.6"/>
<text x="106.3" y="544" font-size="18" textLength="125.7" lengthAdjust="spacingAndGlyphs">Bendamustine</text>
<text x="113.5" y="699.7" font-size="13" text-anchor="middle">24</text>
<text x="180.3" y="699.8" font-size="13" text-anchor="middle">48</text>
<text x="247.2" y="699.8" font-size="13" text-anchor="middle">72</text>
<text x="155.6" y="719.5" font-size="13.6" textLength="49.4" lengthAdjust="spacingAndGlyphs">Time (h)</text>
<text transform="translate(45.3,671.4) rotate(-90)" font-size="13" textLength="49.9" lengthAdjust="spacingAndGlyphs">Viability</text>
<text transform="translate(45.3,616.9) rotate(-90)" font-size="13" textLength="68.5" lengthAdjust="spacingAndGlyphs">(% control)</text>
<rect x="312.3" y="597.7" width="18" height="11.1" fill="#000"/>
<rect x="313.2" y="616.9" width="16.2" height="9.3" fill="#2f2f2f" stroke="#000" stroke-width="1.8"/>
<rect x="313.2" y="636.9" width="16.2" height="9.3" fill="#5c5c5c" stroke="#000" stroke-width="1.8"/>
<rect x="313.2" y="657.8" width="16.2" height="9.3" fill="#898989" stroke="#000" stroke-width="1.8"/>
<text x="336.8" y="608.7" font-size="13" textLength="43.7" lengthAdjust="spacingAndGlyphs">control</text>
<text x="336.8" y="626.4" font-size="13" textLength="86.2" lengthAdjust="spacingAndGlyphs">CAL-101(5<tspan font-family='"Liberation Serif","DejaVu Serif",serif' font-weight="normal">μ</tspan>M)</text>
<text x="336.8" y="646.4" font-size="13" textLength="134.4" lengthAdjust="spacingAndGlyphs">cytotoxic drug (10<tspan font-family='"Liberation Serif","DejaVu Serif",serif' font-weight="normal">μ</tspan>M)</text>
<text x="336.8" y="665.2" font-size="13" textLength="155.7" lengthAdjust="spacingAndGlyphs">CAL-101 + cytotoxic drug</text>
</svg></body></html>
